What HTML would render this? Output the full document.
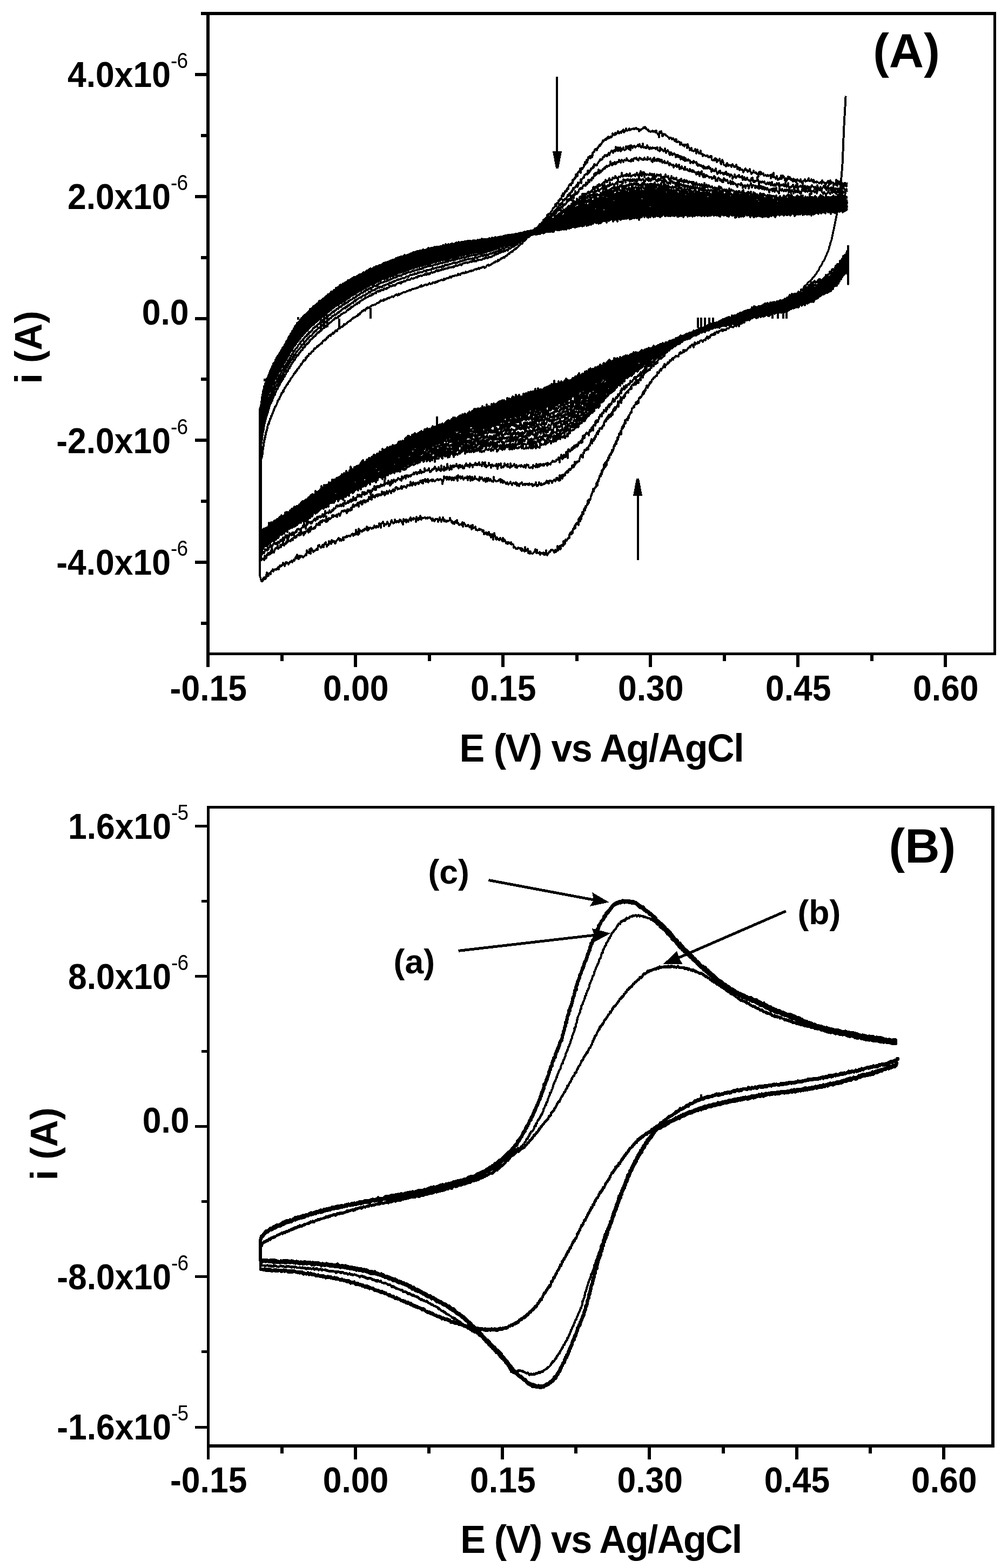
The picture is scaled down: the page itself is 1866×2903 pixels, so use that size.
<!DOCTYPE html>
<html lang="en"><head><meta charset="utf-8"><title>Cyclic voltammograms</title>
<style>html,body{margin:0;padding:0;background:#fff}body{width:1866px;height:2903px;overflow:hidden}svg{display:block}text{font-family:'Liberation Sans', Arial, Helvetica, sans-serif;font-weight:700;fill:#000}</style>
</head><body>
<svg width="1866" height="2903" viewBox="0 0 1866 2903" role="img" aria-label="Cyclic voltammograms, panels A and B">
<rect width="1866" height="2903" fill="#fff"/>
<path d="M382 22H388V1213H382zM1839 22H1844V1213H1839zM382 22H1844V28H382zM382 1208H1844V1213H382zM382 1213H388V1234.5H382zM655 1213H661V1234.5H655zM928 1213H934V1234.5H928zM1201 1213H1207V1234.5H1201zM1474 1213H1480V1234.5H1474zM1747 1213H1753V1234.5H1747zM519 1213H525V1223.5H519zM792 1213H798V1223.5H792zM1065 1213H1071V1223.5H1065zM1338 1213H1344V1223.5H1338zM1611 1213H1617V1223.5H1611zM360.5 135H382V141H360.5zM360.5 361H382V367H360.5zM360.5 587H382V593H360.5zM360.5 812H382V818H360.5zM360.5 1038H382V1044H360.5zM371.5 22H382V28H371.5zM371.5 248H382V254H371.5zM371.5 474H382V480H371.5zM371.5 699H382V705H371.5zM371.5 925H382V931H371.5zM371.5 1151H382V1157H371.5z" fill="#000" shape-rendering="crispEdges"/>
<text transform="translate(385.8 1296.6) scale(1 1.075)" font-size="62.5" text-anchor="middle">-0.15</text>
<text transform="translate(658.8 1296.6) scale(1 1.075)" font-size="62.5" text-anchor="middle">0.00</text>
<text transform="translate(931.8 1296.6) scale(1 1.075)" font-size="62.5" text-anchor="middle">0.15</text>
<text transform="translate(1204.8 1296.6) scale(1 1.075)" font-size="62.5" text-anchor="middle">0.30</text>
<text transform="translate(1477.8 1296.6) scale(1 1.075)" font-size="62.5" text-anchor="middle">0.45</text>
<text transform="translate(1750.8 1296.6) scale(1 1.075)" font-size="62.5" text-anchor="middle">0.60</text>
<text transform="translate(347 161.2) scale(1 1.075)" font-size="62.5" text-anchor="end">4.0x10<tspan font-size="37" font-weight="400" letter-spacing="-1" dy="-32.5">-6</tspan></text>
<text transform="translate(347 387) scale(1 1.075)" font-size="62.5" text-anchor="end">2.0x10<tspan font-size="37" font-weight="400" letter-spacing="-1" dy="-32.5">-6</tspan></text>
<text transform="translate(349.5 600.7) scale(1 1.075)" font-size="62.5" text-anchor="end">0.0</text>
<text transform="translate(347 838.5) scale(1 1.075)" font-size="62.5" text-anchor="end">-2.0x10<tspan font-size="37" font-weight="400" letter-spacing="-1" dy="-32.5">-6</tspan></text>
<text transform="translate(347 1064.2) scale(1 1.075)" font-size="62.5" text-anchor="end">-4.0x10<tspan font-size="37" font-weight="400" letter-spacing="-1" dy="-32.5">-6</tspan></text>
<text transform="translate(1113.3 1410) scale(1 1.042)" font-size="70" text-anchor="middle" letter-spacing="-1.5">E (V) vs Ag/AgCl</text>
<text transform="translate(76.5 643) rotate(-90)" font-size="69.5" text-anchor="middle">i (A)</text>
<text transform="translate(1678 125.1)" font-size="89" text-anchor="middle">(A)</text>
<path d="M383 1492H388V2680H383zM1835 1492H1841V2680H1835zM383 1492H1841V1497H383zM383 2674H1841V2680H383zM383 2680H388V2702H383zM655 2680H661V2702H655zM927 2680H933V2702H927zM1199 2680H1205V2702H1199zM1472 2680H1478V2702H1472zM1744 2680H1750V2702H1744zM519 2680H525V2690.5H519zM791 2680H797V2690.5H791zM1063 2680H1069V2690.5H1063zM1336 2680H1342V2690.5H1336zM1608 2680H1614V2690.5H1608zM361 1527H383V1532H361zM361 1805H383V1810H361zM361 2083H383V2088H361zM361 2361H383V2366H361zM361 2640H383V2645H361zM372.5 1666H383V1671H372.5zM372.5 1944H383V1949H372.5zM372.5 2222H383V2227H372.5zM372.5 2500H383V2505H372.5z" fill="#000" shape-rendering="crispEdges"/>
<text transform="translate(386.2 2762.8) scale(1 1.075)" font-size="62.5" text-anchor="middle">-0.15</text>
<text transform="translate(658.5 2762.8) scale(1 1.075)" font-size="62.5" text-anchor="middle">0.00</text>
<text transform="translate(930.9 2762.8) scale(1 1.075)" font-size="62.5" text-anchor="middle">0.15</text>
<text transform="translate(1203.2 2762.8) scale(1 1.075)" font-size="62.5" text-anchor="middle">0.30</text>
<text transform="translate(1475.5 2762.8) scale(1 1.075)" font-size="62.5" text-anchor="middle">0.45</text>
<text transform="translate(1747.8 2762.8) scale(1 1.075)" font-size="62.5" text-anchor="middle">0.60</text>
<text transform="translate(348 1552.7) scale(1 1.075)" font-size="62.5" text-anchor="end">1.6x10<tspan font-size="37" font-weight="400" letter-spacing="-1" dy="-32.5">-5</tspan></text>
<text transform="translate(348 1830.8) scale(1 1.075)" font-size="62.5" text-anchor="end">8.0x10<tspan font-size="37" font-weight="400" letter-spacing="-1" dy="-32.5">-6</tspan></text>
<text transform="translate(350.5 2096.7) scale(1 1.075)" font-size="62.5" text-anchor="end">0.0</text>
<text transform="translate(348 2387.1) scale(1 1.075)" font-size="62.5" text-anchor="end">-8.0x10<tspan font-size="37" font-weight="400" letter-spacing="-1" dy="-32.5">-6</tspan></text>
<text transform="translate(348 2665.2) scale(1 1.075)" font-size="62.5" text-anchor="end">-1.6x10<tspan font-size="37" font-weight="400" letter-spacing="-1" dy="-32.5">-5</tspan></text>
<text transform="translate(1112.3 2874.8) scale(1 1.042)" font-size="70" text-anchor="middle" letter-spacing="-1.85">E (V) vs Ag/AgCl</text>
<text transform="translate(105.8 2117.8) rotate(-90)" font-size="69.5" text-anchor="middle">i (A)</text>
<text transform="translate(1707.3 1597.4)" font-size="89" text-anchor="middle">(B)</text>
<text transform="translate(830.6 1635.8) scale(1 1.015)" font-size="62.5" text-anchor="middle">(c)</text>
<text transform="translate(766.8 1802.2) scale(1 1.015)" font-size="62.5" text-anchor="middle">(a)</text>
<text transform="translate(1516.3 1710.5) scale(1 1.015)" font-size="62.5" text-anchor="middle">(b)</text>
<g fill="none" stroke="#000" stroke-width="3.4" stroke-linejoin="round" stroke-linecap="butt" shape-rendering="crispEdges">
<path d="M1570 466l0 60-2-61-1 7 0-4-1 3-1 1-1 0-1 5-1 0-1-3 0 9-1-1-1-3-1 5-1-2 0 2-1 2-1-3-1 5-1 3-1 0 0-2-1 4-1-4-1 3-1 3-1-3-1 3-1 5 0 3-1-3-1 1-1-3-1 1-1 0-1 5-1 1-1-2-1 0-1 4-1 1-1 0-1 3-1-1-1 0-1-1-1 3-1 4-1-2-1 1-1 1-1 1-1 1-1 1-1 0-2-2-1 3-1-3-1 4-1-2-1 2-2 2-1-1-1 1-1-3-2 2-1 4-1-3-1 4-1-4-1 2-1 1-1 3-1 1-1-2-1 3-2 4-1-3-1 0-1 3-1-1-1 0-1-2-1 6-2-2-1 1-1-1-1 5-1 0-1 1-2-2-1 2-1 1-1 1-1 0-1 0-1 0-1 0-1 0-1 3-2 0-1-3-1 4-1 3-1-2-1-3-2 4-1 2-1 0-1-1-2 5-1 0-1-3-1 2-1 0-2 1-1 2-1-1-1 0-1-1-1 0-2 2-1 3-1-1-1 0-1 1-1 0-2 2-1-3-1-1-1 4-1-1-1 5-1-2-2 0-1-1-1 4-1-1-1 3-1 0-2-2-1 3-1-5-1 4-1 4-1 0-1-1-2 1-1-2-1 1-1 3-1 3-1-6-2 5-1 1-1 1-1-2-1 1-1 1-1-1-2 1-1 1-1 2-1 1-1 0-1 1-1 0-1 0-1 4-2-1-1 0-1 3-1 1-1 1-1-1-1 0-1 1-1 1-1 2-1-1-1 2-2-1-1 3-1-4-1 4-1 1-1-2-1 6-2-3-1 0-1-1-1 4-1-1-2-1-1 2-1 1-1 1-2-1-1-1-1 1-1-2-1 2-2 3-1 0-1 0-1 0-2 3-1-1-1 1-1 0-1-1-2 3-1-3-1 0-1 2-1 0-2 1-1 0-1 3-1-1-1 1-1-2-2 2-1 3-1-3-1 4-1-2-1 2-2-1-1 2-1-1-1 2-1 3-1-2-2 4-1-3-1-1-1 3-1 0-1 4-2-1-1 1-1 0-1 3-1-2-1 0-1-1-2 1-1 2-1 2-1 0-1-2-1 3-1 0-2-1-1 3-1-4-1 5-1 4-1-5-1 2-1-2-2 2-1 3-1-2-1 2-1 1-1 0-1 2-1 1-1 2-2 0-1-1-1 3-1 1-1-4-1 4-1 1-1 1-1 0-1-2-1 3-1-2-1 3-1 4-1-1-2 1-1-1-1 0-1 1-1 2-1 0-1 1-1 3-1-3-1 1-1 2-1 2-1 0-1-1-1 4-1 0-1 2-1-2-1 3-1 1-1 0 0 1-1 0-1 4-1-6-1 4-1 0-1 3-1 1-1 1-1 3-1-3-1 2-1 2 0-1-1 4-1 1-1-1-1-1-1 7-1-1-1 1-1 1-1 2-1 0-1 0-1 3-1 0-1 1-1 4-1 0-1 3 0-3-1 1-1 3-1 3 0-1-1 1-1 4-1-4-1 0 0 2-1 2-1 2 0 3-1 0-1 3 0-3-1 6-1-4 0 5-1-3-1 3 0 1-1 2-1 2 0-1-1 1-1 2 0-2-1 2-1 0-1 4 0 5-1-2-1-1 0 1-1 4-1-2-1-1 0 3-1 1-1 1-1 4-1-2-1 3-1 1-1 0-1 8 0-3-1 3-1 1 0-1-1 3-1 1 0 1-1 5 0-3-1 0-1 3 0 4-1-1 0-2-1 1-1 1 0 1-1 4 0 2-1-6-1 6 0-1-1 5 0 2-1-3 0 2-1 0 0 4-1-3-1 3 0 2-1 5 0 4-1-4 0-2-1 4 0-1-1 4-1-2 0 3-1 2 0 2-1 0 0 4-1-1 0-3-1 7 0-1-1 0 0 6-1-4-1 3-1 5 0-2-1 2 0-2-1 7 0-4-1 6 0 1-1 2-1 2 0-5-1 4 0 1-1 2 0 2-1-1 0-1-1 3-1 5 0-5-1 4 0-1-1 6 0-5-1 4-1 1 0 2-1 7 0-1-1-5-1 9 0-7-1 0 0 2-1 5 0 2-1-6 0 8-1-1-1 4 0-2-1 5-1-3 0 7-1-1 0 2-1 3 0-5-1 4 0-1-1 1-1 4 0 2-1 3 0 1-1-2-1 10 0-1-1-4 0-1-1 2 0 3-1 4-1 0-1 2-1 2-1 1 0 3-1-5 0 5-1 1 0-1-1 4 0-1-1 2 0 2-1 1 0 1-1 5 0-1-1 2 0 1-1-1-1 0 0 6-1-2 0-2-1 0 0 7-1-1 0 2-1 1-1 1 0 2-1-2 0 4-1 4-1-4-1 2 0 1-1 4 0 4-1 0-1-4 0 5-1 3-1-2 0 7-1-5-1 6 0 3-1-7 0 3-1 4-1 7 0-11-1 7-1 0-1 0-1 2 0 1-1-1-1 8-1-5 0 3-1 0-1 2 0 2-1-1-1 3 0 5-1 0-1-2 0 4-1-3-1 3 0-3-1 2-1 2 0 6-1-1-1 2-1 0 0 1-1 1-1 2-1 0-1-2-1 2 0 5-1 2-1-1-1-5-1 9-1-2-1 0-1 1-1 0 0 6-1 1-1-6-1 3-1 2-1 3-1-8-1 9-2 2-1-4-1 1-1 4-1-2-2-3-1 0-1 1-1-1-2 4-1-1-1 2-1 2-2 3-1-4-1-5-2 8-1-3-1 3-1-4-2 2-1-1-1 0-2 3-1-5-1 2-2 0-1-1-1-5-1 6-2-7-1 3-1 2-2 2-1 1-1 0-2-1-1-3-1 4-1-4-2 3-1-8-1 2-1 1-1 1-2-7-1 8-1-1-1-1-2-3-1 4-1-5-1 3-1-3-2 0-1-1-1 0-1 2-1 0-2 0-1-2-1-1-1-1-1 2-1-6-2-1-1 1-1-4-1 3-1-1-2-2-1 0-1 3-1-3-1 0-1 2-2-5-1-2-1 3-1 0-1-6-1 6-2-3-1-1-1-2-1 1-1 3-2-2-1 0-1-3-1 4-1-1-1-4-2-7-1 6-1 6-1-7-1-3-2 6-1-6-1 2-1 0-1-6-2 3-1 2-1-4-1 2-1-2-1 2-2 1-1-7-1 1-1 1-1-3-2-1-1 1-1 0-1-2-1 2-2 1-1-1-1-1-1 1-1-6-2 2-1 0-1 1-1-6-2 8-1-7-1 2-1 1-1 0-2-4-1 0-1 2-1 0-2 0-1-3-1-1-1-2-2 7-1-8-1 5-1-2-2 1-1 0-1 1-2-4-1 1-1-6-1 5-2-3-1 1-1 4-1-3-2 2-1-4-1 2-1-3-2-5-1 4-1 1-2 1-1-1-1 0-1 2-2-1-1-3-1 3-2-7-1 4-1 0-1 4-2-5-1-3-1 4-2 4-1-5-1 0-2 0-1 0-1 3-1 1-2-3-1-2-1 4-2-4-1 0-1-2-1 0-2 1-1-1-1 2-2-1-1 1-1-2-1 0-2 1-1 0-1 0-2 3-1-5-1-2-1 6-2-2-1 4-1-3-2-3-1 9-1-5-2-1-1-1-1 3-1-2-2 2-1 2-1-6-2 3-1 2-1 3-1-1-2-3-1 5-1-5-2 1-1 2-1-4-1 10-2-4-1-2-1-2-2-1-1 4-1 1-1-2-2 0-1 2-1-1-2-4-1 6-1 0-1 1-2-3-1-3-1 2-1 4-2 4-1 1-1-4-2-4-1 3-1 2-1 0-2-1-1 4-1-5-1-3-2 3-1 0-1 8-2-5-1-3-1 5-1 2-2-2-1 0-1 3-1-1-2-3-1 4-1 1-1-1-2 2-1-1-1-1-1 0-2 3-1-3-1 5-1 0-1-7-2 5-1-1-1 0-1 3-2-1-1 3-1-1-1 1-2-2-1 1-1 5-1-9-1 11-2-5-1 4-1-8-1 6-1 3-2-1-1 3-1-4-1 1-1 0-2 3-1 1-1-1-1 0-1 0-2 2-1-2-1 2-1 1-1-1-2 1-1 5-1-5-1 3-2 3-1-1-1-2-1 3-2-5-1 1-1 2-1 1-1 1-2 5-1 0-1-4-1 1-2-2-1 3-1-4-1 7-2-4-1 3-1-4-1 7-1-1-2 4-1-4-1-4-1 3-1-1-2 7-1-4-1 0-1 4-1-1-1 2-2-2-1-3-1 2-1-1-1 8-1 0-1-2-2 3-1 0-1 1-1 0-1 2-1-2-2-4-1-1-1 10-1-1-1-7-1 7-2-2-1 1-1-4-1 9-1-2-2 3-1 1-1 1-1 1-1-2-1 0-2-1-1 3-1-1-1-2-1 6-2-1-1-7-1 2-1 5-1-2-2 6-1-2-1 2-1 1-1 2-1-3-2 2-1 0-1 2-1 0-1 3-1-2-2-2-1 2-1-2-1 4-1 3-1-4-2-2-1 4-1 0-1 2-1-1-1 2-1-2-2 7-1-4-1 3-1 1-1-1-1 2-1-1-1 0-1 1-2 3-1-4-1 2-1 1-1 1-1 5-1-2-1 0-1 2-1 3-1-4-1 5-1-7-1 4-1 7-1 1-1-3-1 0-1 4-1-2-1 5-1 0-1 0-3-10 0-207 3-10 0-2 1-1 0-1 0-2 0-1 0-2 1 1 0-4 0-3 0-1 1-2 0 1 0-2 0-2 0-1 1-1 0-2 0-1 0-3 1-1 0-2 0-2 1-1 0-2 0-2 1 0 0-2 0-2 1-1 0-2 0-1 0-1 1-1 0-2 0 1 1-2 0-1 0-1 1-3 0 1 0-3 1-3 0-1 1 0 0-2 1 0 0-3 1-1 0-1 1-2 0-2 1 0 0-1 1-2 0-2 1 0 0-1 1-2 0-1 1-1 0-1 1-2 0-1 1-1 0-2 1-1 0-1 1-2 0-1 1 0 0-1 1-1 1-2 1-3 1-2 0-2 1-1 1-2 1-1 0 1 1-3 0-1 1-1 1-2 0-1 1-1 0-2 1 0 1-1 0-1 1-3 1 2 0-3 1-1 1-2 0-1 1 0 1-2 1-2 1-1 0-1 1 0 1-1 0-2 1-1 1-2 1 0 0-1 1-1 1-3 0 1 1-2 1-1 1-1 1-2 1-1 1-2 0-1 1 0 1-2 1 0 0-2 1-1 1 0 1-1 0-2 1-1 1-1 1 0 1-2 0-1 1-1 1-1 1-1 0-2 1 1 1-2 1-2 1-1 0-1 1-2 1 1 1-1 1 0 1-2 0-3 1 0 1 0 1-3 1 0 1 0 0-1 1-3 1 0 1 0 1 0 1-2 1-2 1 0 1-1 1 0 0-1 1-2 1-2 1 1 1-1 1-1 1-1 1-2 1 1 1-1 1-2 1 0 1-1 1-1 1-1 1-1 1 1 1-3 1-2 1 0 1-1 1-1 1 1 1-2 1 0 1-3 1 0 1 0 1-3 1 0 2-2 1 2 1-3 1 0 1-1 1-2 1 2 1-2 1 0 1-2 1-2 1 1 1-1 1 1 1-3 1-1 1-1 1 0 1 0 1-2 1 0 1-1 2 0 1-2 1 0 1-3 1 1 1 0 1-1 1-1 1 0 1-2 1-1 1 0 1-1 1-1 1 0 1 0 1-2 1-1 1-1 1 0 1-2 2 0 1-1 1 0 1-1 1-1 1 0 1 0 1-3 1 1 1-2 1 1 1-3 1 0 1-1 1-2 1 0 1 0 1-2 1 0 2 1 1-3 1 0 1-2 1 1 1-2 1 1 1 0 1-1 2-2 1 0 1-1 1-1 1 0 1 0 2-1 1 0 1 0 1-1 1-1 1-1 2 0 1-1 1 0 1-2 1 0 1-2 2 1 1-1 1 0 1 1 1-3 2 1 1-1 1 0 1 0 1-2 2 0 1-1 1 1 1-1 2-1 1-1 1 0 1 0 1 1 2-2 1-1 1-1 1 0 1-1 2 2 1-2 1-1 1 2 2-2 1 0 1-1 1 0 1-1 2-1 1 0 1 0 1 0 2-1 1-1 1 0 1 0 1-1 2-1 1 1 1-1 1 0 2-2 1 0 1 0 1 0 2-1 1 0 1 0 1-1 2 0 1-1 1 0 1-1 1-1 2 1 1-3 1 2 1 0 2-1 1-1 1 0 1-1 2 0 1 1 1-1 1 0 2-2 1-1 1 1 1 1 2-1 1 0 1-2 1 0 2 0 1 1 1-2 1 1 2-2 1 1 1-2 1 0 1 0 2-1 1 0 1-1 1 0 2 1 1-1 1-2 1 2 2-2 1 0 1-1 1 0 2 0 1-1 1 0 1-2 2 2 1-2 1 0 1-1 2 0 1 0 1-1 1 0 1 0 2 0 1-1 1-2 1 2 2-1 1 1 1-2 1-1 2 0 1-1 1 0 1 1 2-1 1-2 1 2 1-1 2 0 1-1 1 0 1-1 2 0 1-1 1 1 1-1 2 0 1-1 1-1 1 0 2-1 1 1 1-1 1 0 2-2 1 2 1-1 1-1 2 0 1-1 1 0 1-1 2 0 1 2 1-1 1 0 2-3 1-1 1 0 1-1 1 2 2-1 1-1 1 0 1-1 1-1 1 0 2-2 1 0 1 0 1-2 1 0 1 0 2 0 1-3 1 2 1-1 1-1 1-1 1 0 1-2 2 0 1-1 1-1 1 1 1 0 1-2 1-1 1 0 1-1 1 0 1-2 2-2 1 1 1-2 1-1 1 0 1-1 1-1 1 1 1-2 1-1 1-1 1 0 1-2 1 1 1-2 1 0 1-1 1-1 1-2 1 0 1-1 1-2 1 0 1-1 1 0 1 0 1-3 1-1 0-1 1 0 1 0 1-1 1-3 1 1 1-2 1-1 1-1 1-1 1 0 1-1 1 0 1-2 0-2 1-1 1 0 1-2 1 0 1 0 1-3 1 1 1-1 1-2 1-2 1-1 1 0 1-1 1-1 1-2 1-1 1 2 0-4 1 0 1 0 1-1 1-2 1 1 1-1 1-3 0-2 1 1 1-2 1-1 1-1 1-1 1 0 0-1 1-4 1-1 1 3 1-4 0 1 1-1 1 0 1-2 1-2 1-1 1-1 1-3 1-2 0 1 1-1 1-1 1-2 0 1 1-5 1 1 1 2 1-5 0 1 1-1 1-1 1-4 0 3 1-2 1-1 1-1 0-2 1 1 1-1 1-6 0 1 1 0 1-5 1 5 0-5 1 2 1-2 1-2 0-2 1 0 1-1 1 1 0-3 1-2 1-1 1 2 0-3 1-3 1-2 0 1 1-2 1 0 1 2 0-2 1-2 1-1 1 1 0-6 1 2 1-3 1 0 0-1 1-2 1 1 1-7 0 4 1 0 1-5 1-1 0 5 1-7 1 0 1-1 0-1 1-1 1-4 1 8 0-8 1 1 1-2 1 2 0-2 1 0 1-1 1-2 0-3 1 1 1-6 1 4 0-2 1-1 1-5 1 5 1-5 0 1 1-6 1 2 1-2 1-1 0-1 1 4 1-4 1-1 1 3 1-8 0 5 1-5 1-2 1 0 1-4 1 0 0-1 1 0 1 2 1 0 1-4 1 0 0-1 1-2 1 0 1-3 1 2 1-3 1 0 0-1 1-1 1-2 1-3 1 2 1-2 1-1 1 0 1-2 1 2 1-1 1-3 1 1 1-3 1 3 2-1 1-2 1 1 1 0 1-2 1-5 1 3 1-1 2 1 1-4 1 3 1-1 1-1 2-4 1 1 1 3 1-1 2-2 1 2 1-2 1-2 2-2 1 5 1-3 1 1 2-5 1 3 1 1 2-1 1-2 1-1 1 3 2-1 1-1 1 0 2-1 1 1 1-1 1 1 2-2 1 0 1 2 2 0 1 0 1 4 2-3 1 1 1-1 1-1 2-1 1-2 1 1 2-2 1 3 1-1 1 2 2 2 1-1 1 3 2 0 1 1 1 0 1-1 2-1 1 2 1-1 1 0 2 2 1-3 1 0 1 4 2 3 1-1 1 6 1-10 2 2 1-3 1 3 1 6 1 0 2-4 1 1 1 0 1 0 1 2 2 1 1 1 1 1 1 1 1 2 1-2 2 0 1 1 1 2 1-1 1-1 1 2 2 3 1-3 1 4 1-4 1 5 1 0 2-1 1 1 1 0 1 5 1-4 1 0 1 3 2 2 1-1 1 0 1 3 1-3 1 0 2 0 1 6 1-7 1 3 1 3 1 1 1 4 2-2 1-2 1 5 1 0 1 0 1 1 2-1 1-3 1 1 1 7 1-3 1-4 2 5 1 2 1 0 1 0 1-5 1 6 2 0 1 4 1-3 1 1 1 0 1 1 2 1 1-1 1 0 1 0 1 3 1 0 2 0 1-2 1 2 1-2 1 7 2 1 1-1 1-1 1 2 1-4 2 1 1 6 1-4 1 2 2-1 1-3 1 4 1 4 1 2 2-8 1 2 1 3 1 4 2 1 1 1 1 1 1-5 1-1 2 5 1-2 1 1 1 0 2 0 1 3 1-4 1-1 2 3 1 2 1 0 1 0 2-4 1 3 1 5 1-2 1-1 2 5 1-4 1 3 1 0 2 0 1 2 1 3 1-2 2-4 1-1 1 3 2 0 1 3 1-1 1 0 2-4 1 4 1 2 1 3 2-2 1-1 1-3 1 3 2 1 1-1 1 1 1 2 2 0 1 5 1-8 2-1 1 5 1-4 1 3 2 0 1-1 1 4 1 0 2-1 1 1 1 1 2-2 1 2 1-1 1 0 2-1 1 6 1-3 1-4 2 5 1-8 1 8 2 1 1 2 1-3 1-2 2 7 1-2 1 1 2-3 1 2 1-6 1 6 2-6 1 3 1-1 2 7 1-1 1-3 1 5 2-3 1-5 1 4 2-3 1 4 1 1 1-2 2 4 1 1 1-5 2 4 1-2 1 0 1 5 2-6 1 1 1 1 2 2 1 0 1-4 2 6 1 1 1 1 1-5 2-1 1-2 1 4 2-1 1 0 1-1 2-4 1 5 1 0 1 0 2-3 1 3 1 1 2-3 1 5 1-2 2 1 1 1 1-2 1 1 2 1 1 1 1 0 2-2 1 2 1 1 1-6 2 3 1 1 1 0 2 5 1-2 1-3 2 0 1-3 1 1 1 6 2-8 1 6 1-3 2 1 1 0 1 6 2-4 1 0 1 2 1-9 2 11 1-9 1 2 2 4 1-5 1-1 2 8 1-4 1 3 1-1 2-2 1 5 1-5 2 6 1-7"/>
<path d="M1570 465l-2 7-1 6 0-2-1 3-1 0-1-1 0 1-1 3-1 0-1 0 0 1-1 5-1 0-1 0-1 1-1 6-1-5-1 7-1-5-1 8-1-4-1 5-1-2-1 0-1 3 0-1-1 2-1 0-1-2-1 5-1-1-1 2-1 2-1-3-1 5-1 0-1 4-1-1-1 0-1-2-1 2-1-2-1 5-1-1-1 1-1 1-1 2-1 0-1-2-1 6-1-2-1 2-2 0-1-2-1 3-1 0-1-1-1 3-2 1-1 1-1-1-1-1-1 1-2 1-1-2-1 5-1-1-1-2-1 6-1 2-2-6-1 3-1 0-1 4-1-4-1 5-1 0-1 2-1-5-1 3-2 1-1 3-1-1-1 2-1 0-1-2-2 2-1 0-1 1-1-1-1 4-1 0-1-4-2 6-1-2-1-1-1 6-1-2-1 1-2 0-1 0-1-2-1 5-1-3-2 2-1 0-1-1-1 0-2 2-1 3-1-3-1 1-2 1-1-1-1 4-1-1-2 4-1-4-1 4-1-5-2 2-1-2-1 2-1 0-2 2-1 2-1-2-1-2-2 3-1 0-1 0-1 3-2 0-1-2-1 0-1-3-2 4-1 3-1-3-1 3-2 0-1 1-1 0-1-1-2 3-1 0-1-1-1 0-2 3-1 1-1-4-1 3-1 0-2 4-1-4-1 0-1 0-2 3-1-2-1 3-1-2-1 4-2 1-1 0-1-5-1 2-1-2-2 9-1-5-1 1-1 1-1 2-1-1-2 1-1 0-1-1-1 5-1 1-2-3-1 1-1 3-1 2-2-4-1 2-1-1-1 1-1-4-2 1-1 5-1-1-1 2-2 0-1 1-1 0-1 0-1 1-2-1-1 3-1-3-1 2-1 2-2-1-1 2-1 1-1 0-2-2-1 4-1-1-1-2-1 5-2-2-1 1-1 1-1-2-1 3-2-3-1 1-1 1-1 5-1-2-2 1-1-2-1 2-1-3-1 3-2 2-1-1-1-2-1 1-1 4-2 2-1-3-1 4-1-4-1 3-2 0-1 2-1-3-1 4-1-1-2-1-1 1-1 1-1 2-1-2-2 1-1 2-1 0-1 2-1 1-1-4-2 3-1 1-1 1-1-1-1 3-1 2-2-2-1 0-1 3-1-1-1 1-1 1-1-1-1 2-2-1-1-1-1 5-1 0-1 0-1 3-1-2-1 3-1 0-1-1-1 0-2 3-1 0-1 2-1-3-1 3-1 1-1 1-1 1-1 1-1-3-1 3-1 1-1-1-1 4-1 0-1-1-1 1-1 3-1-3-1 4-1-1-1 3-1 4-1-1-1 0-1 3-1 1-1 0-1 2-1-2-1 2-1 0-1 0-1 2 0-1-1 2-1 5-1-2-1 0-1 4-1 0-1-3-1 2-1 5-1-2-1 1-1 0-1 4-1-2-1 3-1 3-1-1-1 0-1 2-1 1-1-1-1 2-1-1 0-1-1 4-1-2-1 3-1 2-1 2-1 4-1-4 0 1-1 1-1 0-1 7-1-4-1 2-1 1-1 6-1-5-1 0 0 5-1-3-1-2-1 8-1 0-1-4-1 2-1 3-1-1-1 0-1 1-1 7-1-4-1 3-1 2-1 0-1 1-1 5 0-4-1 1-1 2-1 0-1 2-1 1 0-1-1 6-1-3-1 6 0-4-1 1-1 3-1 0-1 4-1 5-1-11-1 6 0 3-1 1-1 1-1 7-1-10 0 8-1-1-1 2-1 3 0-2-1 4-1 2-1 1 0-6-1 3-1 0-1 2 0 3-1 6-1-5-1 2 0 1-1 5-1-4-1 3-1 2 0 1-1-5-1 2-1 6 0-5-1 5-1-2-1 6-1 0 0-3-1 4-1-1-1 3 0 5-1-1-1 1-1 4 0-2-1 4-1-2 0 1-1 0-1 0-1 0 0 2-1 4-1 1-1-2 0 6-1-3-1 1 0-1-1 3-1 5-1 0 0-2-1 6-1-2 0 1-1 4-1-1-1-1-1 7-1-8-1 5 0-2-1 4-1 5 0-2-1 1-1 2-1 6-1-2-1-1-1 1 0 3-1 0-1 1-1-1-1 0 0 2-1 4-1-1-1 9-1-4 0 1-1 2-1-4-1 1-1 3-1 3 0 1-1 4-1 0-1 0-1 2-1-1-1 2 0-2-1 1-1 4-1-5-1 8-1 2-1-4-1 4 0-1-1-2-1 5-1 1-1 2-1-2-1 2-1-1-1 5 0-2-1 3-1-3-1 3-1-1-1 1-1 5-1-2-1 1-1 3-1-3-1 7-2-6-1 2-1 7-1-9-1 10-1-3-1 1-1-3-1 3-1-3-2 6-1-2-1-1-1 1-1 1-2 4-1-2-1-2-1 0-2 0-1 5-1 0-1-4-2-1-1 4-1-1-2 3-1-1-1 1-1 1-2 1-1-3-1 3-2-3-1-2-1 4-1 2-2 1-1-3-1-4-2 5-1-1-1 2-2 1-1-4-1 0-1 1-2-1-1-1-1 3-2-2-1 1-1-1-2 0-1 2-1-2-1 0-2 2-1-2-1-3-2 2-1 0-1 2-1 3-2-4-1-1-1 4-2-6-1 3-1 0-2-2-1 0-1 1-1 3-2-3-1-3-1 2-2 2-1 1-1-2-1-2-2 3-1-1-1-2-2-2-1 1-1 2-1-5-2-1-1 5-1-6-2 1-1 2-1 0-2 1-1 0-1 0-1-1-2-2-1-5-1 9-2-1-1 0-1-2-1-2-2 3-1-2-1-3-2 6-1-6-1 2-1 5-2-6-1 2-1 2-2-3-1-3-1 2-2 1-1-4-1 7-1-3-2 1-1-1-1 0-2-2-1-3-1 5-2-1-1 3-1-6-1 3-2 4-1-8-1 0-2 4-1 3-1-7-2 3-1 0-1-1-1 1-2 3-1-2-1-4-2 2-1 2-1-4-2 2-1 0-1-4-1 10-2-8-1 4-1-1-2-1-1 5-1-3-2-2-1 5-1-2-1-3-2-1-1 5-1-2-2-3-1 5-1-5-2 2-1 0-1-3-1 7-2 7-1-7-1-1-2-1-1 1-1 0-1 1-2-2-1 1-1 0-2 2-1 1-1 0-2-3-1 0-1 3-1-3-2 1-1 1-1 0-2 3-1-6-1 5-2-3-1 3-1-5-1 3-2-1-1 6-1-6-1 5-2-4-1 0-1 3-2 3-1-3-1 2-1 0-2-1-1 4-1-3-1 2-2-4-1 3-1 3-1-3-2-4-1 7-1 0-1-1-2 1-1-1-1 3-1 2-2-2-1 0-1-1-1 1-1 0-2 4-1-5-1 2-1 2-2 1-1 0-1-1-1 2-2-4-1 0-1 1-1 5-2 2-1-4-1 1-1 1-2 5-1-3-1 0-1-2-2 3-1 3-1-3-1-2-2 6-1-3-1 5-1-6-1 2-2 2-1-5-1 5-1 2-2-2-1 2-1 0-1-2-1 4-2-3-1 2-1-1-1 4-1-2-2 1-1-4-1 5-1 4-1-7-2 6-1 0-1-4-1 4-1 4-1-2-2 1-1 3-1-3-1 3-1-4-2 1-1 6-1 1-1-1-1-5-1 3-2-1-1 8-1-7-1 0-1 2-1 3-2-1-1 1-1 2-1 0-1-4-1 2-2 8-1-4-1 5-1 0-1 0-1-2-2 4-1-4-1 7-1-4-1 1-1-2-2 0-1 2-1-1-1 0-1 0-2 4-1 3-1 2-1-2-1-2-2 2-1 4-1-4-1 3-1-1-1 0-2-1-1 3-1-3-1 0-1 4-2 2-1 1-1 0-1-2-1 1-1 4-2 2-1-10-1 10-1-2-1 0-1-1-1 1-2-1-1 4-1-2-1 2-1-2-1 7-1-1-1-3-1 4-2-1-1-1-1 3-1 3-1 2-1-2-1 3-1-1-1 1-2 1-1-5-1 3-1 6-1-7-1 2-1 7-1-6-2 3-1 1-1 0-1 3-1 1-1-3-1 6-2-5-1 1-1 1-1 2-1-3-1 4-1-5-1 5-2-1-1 1-1 3-1 1-1-2-1 3-1-3-2 3-1 4-1-3-1 1-1 1-1 3-1 0-1-1-2-1-1 3-1-6-1 8-1-2-1 4-1-1-2 4-1-4-1-3-1 6-1-1-1 2-1 3-1-4-1 4-2 2-1 1-1-7-1 6-1-1-1 1-1 0-1 2-1 3-1 3-2-2-1-4-1 7-1-5-1 3-1 4-1-3-1 4-1-2-1-1-1 4-1-1-1 6-1 1-1 0-1-5-1 8-1-3-1 1-1 0-1-1-1 3-1-10-1-197 2-10 0-2 0-2 1-2 0-1 0-2 0-1 0-3 1-1 0-1 0-1 0-2 1-2 0-2 0-1 0-2 1 1 0-2 0-4 0-1 1 0 0-1 0-3 1-1 0-2 1-2 0-2 1-2 0-3 1-1 0-1 0-1 1-1 0-1 0-3 1 1 0-2 1-1 0-2 1-2 0-3 1 0 0-1 0-1 1-2 1-3 0-1 1-1 1-1 0-2 1-1 0-2 1 1 0-4 1 0 1-2 0-2 1-1 1-2 1 0 0-2 1-2 0-1 1-1 1-3 0-1 1-1 1 0 0-1 1-2 0-1 1-2 1 0 0-3 1 1 0-3 1-1 1 0 0-2 1-1 1 0 0-2 1 0 1-1 0-3 1 0 0-2 1-1 1 1 0-3 1 0 1-1 1-3 1-1 0-1 1-2 1 1 0-1 1-4 1 0 1 0 0-3 1-1 1 0 0-1 1-2 1-1 1-3 1 0 1-2 1-2 1 0 0-1 1 0 1-3 1-1 1-2 1-1 1-2 1 1 0-2 1 0 1-3 1 0 1-2 0 1 1-3 1 0 1-1 1 0 0-2 1-2 1 0 1-2 1 1 1-2 0-2 1 0 1-1 1-2 1 1 1-2 1 0 1-2 0 1 1-4 1 1 1-2 1-1 1 0 1-1 1-2 1 0 1-2 1 0 1-1 1 0 0-2 1-1 1 0 1-2 1-1 1-1 1 1 1-2 1 0 1-2 1-1 1 1 1-2 1-1 1-1 1-1 1 0 1-2 1 0 1-2 1 2 1-2 1-1 1-3 1 1 1-1 1-1 1-1 1 0 1-1 1-1 1-1 1-1 1-1 1 0 1-2 1 0 1-2 2 1 1-1 1-1 1 1 1-3 1 0 1 0 1-1 1-2 1 0 1-1 1 0 1-1 1-1 1 0 1 0 2-1 1-1 1-2 1-1 1-1 1 1 1-2 1 0 1 0 1-3 1 1 1-2 1 0 1 0 2-2 1-1 1 0 1-1 1-1 1-1 1 1 1-2 1-1 1 0 1 1 1-3 1 0 2-2 1 0 1-1 1 0 1-1 1-1 1 0 1-2 1 1 1-1 2-1 1 0 1-1 1-1 1-1 1 1 1-1 2 0 1-3 1 0 1 1 1-1 1-1 2-1 1 1 1-3 1 0 1-1 2 1 1-2 1 0 1 1 1-2 1 0 2 0 1 0 1 0 1-3 1 0 2 1 1 0 1-2 1 1 1-1 2-1 1-2 1-1 1 1 2 0 1-1 1-1 1 1 1-1 2 1 1-2 1 0 1-1 1-1 2-1 1 0 1 0 1-1 2 2 1-3 1 1 1-1 1 0 2-2 1 1 1 0 1-1 2-1 1-2 1 1 1 0 2 0 1 0 1-1 1-1 1-1 2 1 1 0 1-1 1 0 2-1 1-1 1 0 1 1 2-3 1 1 1-1 1 0 2-1 1 1 1 0 1-1 2-1 1 0 1 0 1-2 2 2 1-2 1 1 1-2 2 2 1-2 1 1 1-2 2-1 1 1 1 0 1-1 2 0 1-1 1 0 1-2 2-1 1 2 1 0 1-2 2 1 1-1 1 0 1 0 2-2 1 1 1 0 1-1 2 0 1-1 1 0 1 0 2 0 1-2 1 1 1-1 2 0 1 0 1 0 1-1 2 1 1-2 1 1 1-1 2-2 1 1 1 0 1 0 2-1 1-1 1 0 1-1 2 2 1-1 1-2 1 0 2-1 1 0 1 0 1-1 2 0 1 1 1-1 2 0 1-1 1 0 1-1 2 1 1-2 1 1 1-1 2 1 1-2 1 1 1 1 2-2 1-2 1 2 2-1 1 0 1 0 1 0 2 0 1-1 1-1 1 0 2 0 1-2 1 1 1-2 2 2 1 0 1-1 1-1 2 0 1 0 1 0 1-1 1 0 2-2 1 0 1 0 1-1 2-2 1 1 1-1 1 0 1 0 2-2 1 0 1 0 1-1 1 0 2-1 1-1 1 1 1-1 1-1 1 1 2-2 1 0 1-1 1 2 1-3 1 0 1-2 2 1 1-1 1-2 1 0 1 0 1 0 1-2 1 1 2-3 1 1 1-1 1-2 1 1 1-3 1 0 1 0 1-2 1 1 2-2 1-1 1 0 1-1 1-1 1 0 1 0 1-1 1-2 1 1 1-1 1-1 1-2 1-1 1 0 1-1 1-1 2-1 1 0 1-1 1-1 1 0 1-1 1-1 1 0 0-1 1-1 1-2 1 0 1-1 1-1 1-1 1 1 1-3 1-2 1 1 1 0 1-1 1-5 1 1 1-1 1-1 1 0 1 0 1 0 1-2 1-1 1 0 0-2 1-4 1 2 1-2 1 0 1-1 1-1 1 1 1-4 1-1 0 1 1-1 1-2 1-1 1-1 1-2 1-1 1-1 0 2 1-3 1 2 1-4 1-2 1 1 0-1 1 1 1-7 1 2 1 0 1-3 1 1 0-2 1 2 1-1 1-7 1 0 1 0 0 1 1-2 1-1 1 1 1-1 1-2 1-2 1-3 1 2 1-1 1-4 1 4 0-4 1 0 1-2 1-2 1 1 1-4 1-3 1 3 1-3 1-1 1-1 0 1 1-2 1-2 1-1 1 4 1-2 0-6 1 3 1-2 1-1 1-1 1-5 1 7 0-2 1-5 1-1 1-1 1-2 1 1 0-2 1-3 1 0 1-1 1-1 1 0 1 1 1-4 0-3 1 5 1-5 1 3 1-3 1 0 1-4 1 1 1-2 1 0 1 0 0-3 1 2 1-6 1 0 1 2 1 0 1 0 1 0 1-3 1-1 1-2 1-1 1-1 0-1 1-2 1 0 1 1 1-1 1 0 1-4 1 0 1 0 1-3 1-1 2 2 1-2 1 2 1-3 1-1 1-2 1 4 1-3 2-3 1-2 1 0 1 2 1 2 2-5 1 2 1 0 1-8 1 4 2 3 1-6 1 6 1-2 2-4 1 7 1-5 1 3 2-3 1-2 1 4 1 1 2-1 1-6 1 4 2-4 1 1 1 4 1-6 2 8 1-9 1 1 2 4 1-3 1 0 1-1 2 3 1-1 1-1 2-1 1-2 1 3 2-4 1 3 1 2 1 1 2-3 1-4 1 7 2 0 1-1 1 2 2 0 1-5 1 3 1 0 2 4 1-1 1-2 1 2 2 0 1-2 1 1 2 0 1 0 1 0 1 2 2-3 1 0 1 5 2 1 1 1 1-7 1 5 2-2 1 1 1 1 1 2 1 0 2-5 1 4 1 4 1-2 2-3 1 2 1 1 1 4 1 2 2-5 1 4 1-2 1 3 1-2 2-1 1 2 1 0 1 5 2-4 1 3 1-3 1 1 1 3 2-2 1 6 1-1 1-4 1 4 2 2 1-5 1 2 1 5 1-5 2 4 1-1 1 1 1-2 1 2 2 0 1 5 1-2 1 0 1 0 2 2 1-4 1 1 1 1 1 1 2-1 1 5 1-2 1 4 1-2 2 0 1 2 1 0 1-1 2 3 1 1 1-3 1 5 1-3 2 3 1-2 1 0 1 2 1-3 2-1 1 4 1 0 1-1 2 7 1-3 1-2 1 3 2 1 1-2 1 1 1-4 1 5 2 5 1-2 1 0 1-3 2-1 1 5 1-1 1 0 2 0 1 3 1 0 1-3 2 2 1-4 1 2 1 4 2-2 1 0 1 3 1 2 2-4 1 1 1 1 1 6 2-3 1-1 1-4 2 6 1 0 1-2 1-1 2 1 1-3 1 4 1 0 2-1 1 2 1-3 1 7 2-3 1-2 1 5 2 0 1-3 1-1 1 3 2 2 1 0 1 1 1 0 2-5 1 4 1-5 2 8 1-2 1 2 1-2 2 0 1-1 1-6 2 7 1 8 1-4 1-3 2 1 1 1 1-2 1 1 2 1 1-2 1 3 2 2 1 0 1-2 1-1 2 3 1-3 1 0 2 5 1-4 1-2 1 6 2-1 1 2 1-3 2 3 1-3 1-2 1 2 2 2 1-4 1 3 2 1 1-1 1 1 1 0 2-2 1 3 1 1 2-7 1 4 1 4 2-1 1-6 1 6 1 3 2-1 1 0 1-2 2 0 1-3 1 3 1 6 2-6 1-2 1 4 2-7 1 12 1-5 2-2 1 0 1-1 1 2 2 0 1-4 1 7 2-3 1-2 1 5 2 0 1-4 1 0 1 5 2-4 1 2 1 3 2-7 1-1 1 2 2 1 1 1 1 3 1-4 2 6 1-4 1-5 2 5 1 2 1 1 2-5 1 2 1 6 1-5 2-3 1-2 1 3 2 2 1-3 1 6 2-5 1-3 1 6 1-1 2-1 1 4 1-5 2 4 1-4 1 6 2-4 1 0 1 2 1-2 2 1 1-1 1 2 2-2 1-1 1 3 2 0 1-4 1 2 1-4 2 5 1 2 1 4 2-6 1 2"/>
<path d="M1570 458l-2 17-1 3 0 1-1 0-1-1-1 0 0 5-1 3-1-2-1 3 0-1-1 1-1 1-1 3 0-2-1 3-1 3-1-1-1-2-1 5-1-2-1 4-1 0-1 3-1-1 0 2-1 2-1-4-1 7-1-1-1-2-1 4-1 2-1-2-1 1-1 5-1 1-1 1-1-3-1-1-1 1-1 2-1 0-1 3-1 3-1-4-1 6-1-4-1 1-1-1-1 5-1-1-1 1-2-5-1 5-1 3-1-6-1 10-1-3-2 2-1-2-1 3-1 1-1 3-2-6-1 6-1-5-1 3-1-1-1 2-1-3-2 4-1-1-1 2-1 2-1 0-1 1-1 3-1-1-1 1-1 2-2-2-1 1-1 2-1-2-1 4-2-3-1 1-1 1-1 0-1 1-1 0-2-3-1 7-1-2-1 3-1-3-1 4-1-3-2 5-1-2-1 0-1-5-1 2-2 4-1 0-1 0-1 1-2 3-1-2-1 0-1 0-2 0-1 3-1-2-1 1-2 1-1 0-1 2-2 0-1-3-1 1-1 3-2-2-1 3-1-3-1-2-2 1-1 3-1 0-1 6-2-3-1 0-1 1-1-4-2 3-1 0-1 4-1-4-2-1-1 3-1 0-1 1-2 0-1 0-1-1-1 1-2 5-1-4-1 2-1-2-2-1-1 5-1-1-1 2-2 0-1 0-1-2-1 5-1-2-2 4-1-2-1 1-1 0-1 0-2-1-1 5-1-5-1 0-1 3-2-1-1 3-1-1-1 2-1-1-2-1-1 2-1 2-1-2-2 0-1 2-1 1-1 2-1-1-2 1-1-1-1 3-1 1-2-3-1 1-1 0-1 1-1 0-2 0-1-1-1 2-1 1-1 2-2 0-1-1-1 0-1-1-2 4-1 0-1 1-1 1-1 0-2-1-1 1-1-1-1 1-1 2-2 3-1-3-1 1-1 5-1-4-2 0-1 1-1 0-1-2-1 4-2-3-1 2-1 1-1 2-1-1-2 0-1 0-1 2-1 0-1 0-2 0-1 1-1 2-1-2-1 3-2 0-1 2-1-2-1 0-1 2-2 0-1-3-1 6-1-1-1 1-2-1-1 2-1 0-1 3-1-1-1 2-2-3-1 1-1 1-1 0-1 4-1-1-2-1-1 1-1 4-1-2-1 2-1-3-1 2-2 1-1 1-1 1-1 1-1 2-1-4-1 4-1 1-1 0-2 2-1-1-1 0-1 0-1 4-1-3-1 2-1 2-1 1-1 0-1-1-1 3-2-1-1 1-1-1-1 4-1 1-1-3-1 4-1 1-1-1-1 0-1 3-1 2-1-3-1 5-1-1-1 2-1-2-1 4-1 0-1 2-1-1-1 3-1-1-1 0-1 0-1 0-1 3-1 1-1 1-1 0-1 2-1 1-1-1-1 3-1 4-1-5-1 2-1 3-1-2-1 4-1-2-1 0-1 1-1 5-1-5-1 5-1-3-1 6-1 0 0 1-1 4-1-3-1 3-1 0-1 2-1-3-1 5-1-2-1 4-1 0-1-1-1 2-1 1-1 0-1 6-1-6-1 0-1 1-1 3-1 1-1 2-1 2-1-1-1 1-1-2-1 5-1 2 0-2-1 2-1-1-1 2-1 1-1 3-1-4-1 4-1 2-1 2-1-6-1 5-1 1-1 1-1-3-1 9 0-1-1-4-1 4-1 2-1 3-1 1-1-3 0 2-1 3-1 2-1-2-1 1-1 3-1 4-1-1-1 2-1-6-1 3-1 3-1 4-1-1-1 3-1-2-1 5 0 1-1-5-1 2-1 2-1 5-1 0-1 4 0-7-1 5-1 1-1 0-1 1 0-3-1 6-1 0-1-1-1 7-1-4 0 3-1-1-1-1-1 4-1 3 0-3-1 5-1 4-1 0 0-3-1 0-1 5-1-4-1 2 0 7-1-2-1 1-1 0-1 8 0 2-1-7-1 3-1-1-1 3 0 3-1 1-1-3-1 3-1 7-1-4 0 2-1-1-1 0-1-2-1 1-1 2-1 2-1 5-1-5-1 6-1-5-1 12 0-7-1 3-1 5-1-4-1 2-1 1-1 2-1-2-1 6-1 0-1-2 0 4-1-3-1 0-1 2-1 3-1-4-1 3-1 3-1-3-1 5-1-3-1 4-1 0-1 2-1-1-1-3-1 0-1 16-1-12-1 2-1-1-1 9-1-1-1 1-1-4-1 6-1-4-1 6-1-3-1-5-1 6-1-1-1 9-2-9-1 4-1 0-1 0-1 0-1 3-2 1-1-1-1 0-1 1-1-2-2 3-1 1-1 3-1-1-2 0-1 1-1-3-1 5-2-4-1 1-1 0-2 3-1-3-1 3-1-2-2 0-1 2-1-3-2 5-1-4-1 1-1 4-2-6-1 6-1-2-2 0-1 0-1-2-1 6-2-2-1 0-1 1-2 0-1-1-1-4-1 0-2-1-1 3-1 3-2-5-1 2-1 2-2-2-1 0-1-2-1 3-2-2-1 0-1 1-2 1-1 2-1-5-2 4-1-4-1-2-1 2-2 2-1 0-1 1-2-6-1 8-1-1-2-1-1-5-1 5-1-3-2 0-1 1-1-4-2 7-1 0-1-1-2 2-1-8-1 3-1 0-2-2-1 5-1 4-2-9-1 4-1-1-2 0-1 0-1 1-2-3-1 1-1 5-1-5-2 0-1-4-1 5-2 1-1-1-1 3-2-9-1 7-1-6-1 2-2-3-1 7-1-2-2-1-1 1-1-5-2 3-1 2-1-2-1 2-2-4-1 4-1-1-2 1-1 4-1-4-2-1-1 2-1-4-1 7-2-4-1 0-1 2-2-5-1 4-1-1-2 6-1-2-1 2-1-5-2 1-1 2-1-4-2 0-1 6-1-3-1 0-2-5-1 4-1 0-2-1-1 3-1-3-1 0-2 7-1-3-1-4-2 8-1-3-1-1-2-7-1 10-1-3-1 3-2 2-1-7-1 7-2-2-1-1-1-6-1 10-2-3-1 1-1-5-2 5-1 0-1 2-1-5-2-3-1 4-1-1-2 3-1-1-1 2-1 2-2 1-1-3-1-4-2 4-1 0-1 0-1 0-2 1-1-5-1 7-2 0-1 0-1-1-1 3-2-6-1 4-1 2-1-2-2 1-1 3-1-2-1-2-2 2-1 2-1-3-1 3-1 0-2 1-1 2-1 1-1-2-2 1-1 2-1-3-1 2-2-2-1 6-1-2-1-3-1 2-2 3-1 0-1-4-1 8-2-3-1 1-1-1-1-1-1-1-2 4-1 0-1 0-1 3-2-1-1-3-1 2-1 4-2-5-1 8-1-5-1 7-1-4-2-5-1 6-1-1-1-1-2 2-1 0-1-7-1 10-1-2-2 1-1 2-1-1-1-2-2 5-1-2-1 2-1-2-1 2-1-2-2 7-1-6-1 6-1-7-1 6-2-1-1 4-1-1-1 5-1 2-1-7-2 3-1-3-1 0-1 3-1 3-1 0-2-2-1 4-1-5-1 1-1 3-1-4-2 9-1-3-1 0-1 2-1-3-1 3-2-3-1 4-1 1-1 5-1-4-1 4-1-2-2-4-1 7-1-1-1-1-1 4-1-4-2 2-1 3-1 1-1-3-1 3-1 0-2 2-1-2-1-4-1 5-1 5-1-5-2 2-1 3-1-2-1-1-1 3-1 0-2-1-1 2-1-2-1 0-1 2-1 3-2 1-1-1-1 4-1 0-1-1-1 3-2 2-1-2-1-2-1 4-1 1-1-1-1 0-2 1-1 1-1-5-1 9-1-3-1 5-1-3-1-2-2 5-1-1-1 2-1-2-1 0-1 1-1 0-1 4-1-4-1 4-2 3-1-4-1 3-1-1-1 2-1 1-1 2-1 2-1-3-1 3-2-2-1-1-1 2-1-2-1 5-1-4-1 6-1 6-2-7-1-3-1 7-1-3-1 3-1 1-1 1-1 6-2-4-1 0-1 0-1-1-1 1-1 0-1 5-1-2-1 3-2 0-1 5-1-5-1 3-1-3-1 5-1-2-1 1-2-3-1 6-1 3-1 0-1-5-1 5-1-3-1-2-1 2-2 7-1-4-1-1-1 4-1 1-1-1-1 3-1-2-2 5-1 0-1-2-1 2-1 2-1-2-1 2-1 0-1 0-1-3-1 2-1 1-2 4-1 7-1-8-1 2-1-2-1 3-1 1-1 3-1-4-1 6-1 0-1-1-1-1-1 1-1 3-1 3-1-1-1-1-1 3-1-2-1 5-3-10 0-200 3-10 0-1 0-2 1-1 0-1 0-1 0-2 0-3 1-1 0-1 0-1 0-2 0 1 1-3 0-1 0-1 1-3 0-1 0-1 0-4 1 1 0-1 0-1 0-3 1 0 0-1 0-3 1-1 0-1 1-1 0-1 0-2 1-2 0-1 0-1 1-1 0-2 1-3 0-1 1-2 0 2 0-3 1-1 0-1 1-2 0-1 1-2 0-1 1-2 0-1 1-1 0-1 1-1 0-1 1-2 0-1 1-1 0-2 1-2 1 1 0-2 1-1 0-2 1-2 1-2 0-1 1 1 0-2 1-3 1-1 1-1 0-1 1-1 1-2 0-1 1-2 0 1 1-3 1 0 0-3 1 0 1 0 0-3 1 0 0-2 1 1 1-2 0-1 1-2 1-2 0 1 1-3 1 0 0-2 1-2 1 1 0-2 1-2 1-1 0-2 1 0 1-1 0-1 1-1 1-1 0-1 1-1 1-1 0-2 1-1 1-1 1-2 1 0 1-1 0-3 1 0 1 0 0-3 1 1 1-3 1 1 0-2 1-2 1-2 1 0 0-1 1-1 1-1 1-1 1-1 1-1 1-2 1-1 1 0 0-3 1 0 1-1 1 0 1-2 1 0 0-3 1 1 1-2 1-1 1 0 1-3 1 0 1-1 0-1 1-1 1 0 1-2 1-1 1 0 1 0 1-1 1-1 1-2 1-2 1 0 1-1 0-1 1 0 1-2 1 1 1-2 1-1 1-1 1-2 1 0 1 0 1-1 1-1 1-1 1-1 1-1 1 1 1-2 1-3 1-1 1 0 1 0 1 0 1-2 1 0 1-1 1-2 1 0 1 0 1-2 1-1 1 0 1 0 1-2 1-2 1 0 1 0 1-1 1-1 1-1 1 1 2-1 1-2 1-1 1-1 1 1 1-2 1 0 1-1 1-1 1 0 1-2 1-1 1 0 1-1 1-1 2 1 1-3 1 1 1-2 1 1 1-3 1 1 1-1 1 0 1-2 1 0 1-1 1-1 2-1 1 1 1-3 1-1 1-1 1 2 1-3 1 0 1-1 1 0 1-1 1-1 2-1 1 0 1-1 1 1 1-2 1-1 1-1 1 0 1 0 2 0 1-2 1 0 1-1 1 0 1-1 1-1 1-2 2 2 1-2 1-1 1-1 1-1 1 1 2-1 1 0 1 0 1-2 1 0 2-1 1-1 1-1 1 0 1 1 1-2 2 0 1 0 1 1 1-1 1-2 2-1 1 1 1-1 1-1 1 0 2-1 1 0 1 1 1-2 1-2 2 1 1-1 1 1 1-2 2-1 1 1 1-2 1 0 1 0 2-1 1-1 1 0 1-1 1 1 2-1 1 0 1-1 1 0 2-1 1 0 1 0 1 0 2-1 1-1 1-1 1 0 1 0 2 1 1-2 1-1 1-1 2 0 1 0 1 0 1-1 2 0 1 0 1-2 1 1 2 0 1-1 1 0 1-2 2 1 1-1 1 0 1 0 2 0 1 0 1-1 1-1 1-1 2 1 1-1 1 2 1-3 2 0 1 0 1 0 2-1 1 0 1 1 1-2 2-2 1 2 1-1 1 0 2-1 1 0 1 0 1-1 2 0 1 0 1 0 1-1 2 0 1 1 1-1 1-2 2 2 1-2 1 0 1-2 2 1 1-1 1 1 1-1 2 0 1-1 1 0 1 0 2-1 1 0 1-1 1 0 2-1 1 1 1 0 1-1 2 1 1-1 1-1 2 0 1-1 1-1 1 1 2-1 1-1 1 1 1-1 2 0 1-2 1 1 1 0 2-1 1 0 1-1 1 1 2-1 1 0 1 0 2 0 1-1 1 1 1 0 2-2 1 0 1-1 1 1 2 0 1-1 1-1 1 0 2 0 1-1 1-1 2 1 1-1 1 1 1-2 2 0 1 1 1 0 1-2 2 2 1-2 1 0 1-1 2-1 1 1 1-1 1 0 1-1 2-1 1 2 1-2 1-1 2 0 1-1 1 0 1 1 1-2 2 0 1-2 1 1 1 0 1-2 2-1 1 1 1-1 1 0 1-1 2-1 1-1 1-1 1 1 1-2 2-1 1 1 1-1 1 0 1-2 1 2 1-3 2 0 1 0 1-2 1 1 1-1 1 0 1 0 1-1 2-1 1-1 1-1 1-2 1 1 1-2 1 0 1-1 2 0 1-1 1 1 1-2 1-1 1 0 1 0 1-3 1 0 1-1 1 0 2-1 1-1 1 0 1-1 1-2 1 1 1-1 1-2 1 0 1 1 1-3 1-1 1 1 1-2 1 0 1-1 1 0 1-2 1-1 1 0 1 0 2-2 1 0 1-1 1-2 1-2 1 3 1-2 1-4 1 2 1-2 1-1 1-1 1 1 1-2 1-1 1-1 1-1 1 0 1-4 1 1 1-2 1 1 1-2 1 0 1-2 1 1 1-2 1 0 1-3 1-3 1 2 1-1 1-1 1 1 1-2 0 1 1-4 1-1 1 1 1 1 1-5 1 1 1-2 1-1 1 1 1-1 1-1 1-3 1 0 0-4 1 3 1-4 1 1 1 1 1-3 1 0 1-3 1 6 1-9 1 1 1 0 1 4 0-7 1 0 1 1 1-7 1 5 1-2 1 2 1-1 1-3 1 0 1-4 1-2 1 1 1 0 0-2 1 0 1 0 1 1 1-4 1-2 1 1 1-1 1-1 1 2 1-6 1 2 1 1 1-2 1-6 1 2 1 2 1-4 1 0 1-1 1 2 0-3 1-2 1 0 1 1 1-3 1-5 1-1 1 4 1-5 1 3 1-3 1 1 1-3 1-4 1 7 1-4 1-1 1 3 1-3 2 0 1-3 1 0 1 0 1-3 1 2 1-2 1-2 1-1 1 2 2-2 1 0 1 0 1-2 1-6 2 6 1 1 1-4 1 0 1 2 2-4 1 4 1-2 1 1 1-3 2 0 1 0 1-4 1 1 2 4 1-4 1-1 2 2 1 2 1-3 1-1 2 1 1 0 1-4 2 4 1 0 1 1 1 0 2-1 1 2 1-4 2 0 1 3 1-3 1-2 2 0 1 1 1-2 2 4 1-1 1 2 2-5 1 1 1 0 1 2 2 0 1 1 1 0 2-4 1 3 1 0 2 0 1 1 1-5 1 3 2 1 1-1 1-1 2 5 1 0 1 2 1-6 2-2 1 6 1-2 2-1 1 3 1-1 1-3 2 4 1-3 1 4 2-3 1 0 1 5 1 0 2-2 1-1 1 4 1-1 2 1 1-1 1-2 1 3 2 4 1-4 1 2 1 0 2 2 1 0 1-1 1 5 1-3 2 0 1-1 1-2 1 5 2-2 1 2 1-4 1 8 2-3 1 2 1-4 1 3 2 1 1 2 1 0 1-5 1 5 2 0 1-1 1 2 1 1 2 1 1-4 1 1 1 3 2 1 1-3 1 3 1-2 2 3 1 0 1 1 1 3 1-4 2 3 1-4 1 4 1 4 2-7 1 3 1-5 1 7 2 4 1-6 1 3 1 3 2-4 1 2 1-1 1 1 2 1 1 2 1-1 1 0 2 0 1 3 1-1 1 0 2-4 1 4 1-2 1 7 2-2 1 2 1-5 1-1 2 2 1 3 1-2 1 3 2 2 1-4 1 4 1-7 2 2 1 2 1 1 2-2 1 2 1 4 1 0 2-1 1-3 1 6 1-2 2-3 1 5 1-3 2 2 1 0 1 1 1 2 2 3 1-5 1 0 1 0 2 1 1 1 1-4 2 3 1 6 1-4 1 1 2-2 1 5 1-3 2-2 1-1 1 3 1 4 2-6 1-1 1-3 2 8 1-4 1 1 1-1 2 1 1 4 1-4 2 3 1-2 1 1 1 3 2 0 1-5 1 4 2-3 1 5 1-3 1-1 2 5 1-4 1 2 2 2 1-3 1 1 1 2 2 5 1-5 1 1 2-2 1 0 1 4 1-5 2 0 1 6 1-6 2-1 1 5 1 1 2 2 1 2 1-12 1 6 2-1 1 2 1-3 2 3 1 1 1-1 1-2 2 3 1-3 1 0 2 2 1 3 1-8 2 5 1 4 1-3 1-2 2 3 1 3 1-4 2-2 1 4 1-2 2-2 1 4 1-4 1 2 2 4 1-3 1 3 2-8 1 1 1 2 2 1 1-4 1 5 2-2 1 1 1 1 1-1 2-2 1 2 1-2 2 7 1-5 1 0 2-1 1 2 1 1 1-1 2-2 1 5 1-3 2-5 1 0 1 2 2 0 1-1 1 2 1 3 2 3 1-3 1 0 2 3 1 2 1-2 2-2 1-2 1-2 1 4 2 2 1-2 1-3 2 3 1-1 1-2 2-3 1 6 1-3 1 5 2-5 1 2 1-2 2 7 1-1 1-4 2 4 1-7 1 5 1-3 2 1 1-1 1 3 2-7 1 4"/>
<path d="M1570 470l-2 5-1-2 0 8-1-1-1 5-1-6 0 6-1 3-1-5-1 6 0 1-1 0-1 3-1 0 0-2-1 1-1 2-1 5-1-3-1 4 0-2-1 3-1 1-1 2-1 2-1-3 0-1-1 3-1 1-1 2-1 2-1-2-1 2-1 1-1 3-1-2-1 4-1 3-1-4-1 4-1-1-1 0-1 5-1-1-1-2-1 2-1-2-1 0-1 6-1-2-1 4-1-2-1 1-2 0-1 1-1-1-1 2-1-3-1 0-1 2-2 2-1 1-1 1-1 3-1 3-2-9-1 8-1 0-1-3-1 2-1-3-1 4-2 4-1-5-1 2-1 2-1 2-1 0-1-1-1 3-1-2-2 7-1-2-1-2-1-1-1 1-1 0-2 2-1 2-1-3-1 3-1 1-2-2-1 5-1-1-1 1-1-2-1 1-2 2-1-3-1 4-1-2-1 2-2 2-1-1-1-1-1 1-2 2-1-2-1 2-1 2-2-5-1 2-1 3-1-3-2 1-1 0-1 4-2-5-1 4-1 0-1 0-2-1-1 2-1-1-1 0-2 6-1-2-1-3-1 1-2 2-1 2-1-3-2 2-1 0-1 2-1-3-2 0-1 2-1 0-1 0-2 2-1 0-1-1-1-2-2 4-1 0-1-2-1 2-2-2-1 3-1 0-1-2-2 3-1 0-1 0-1 3-2-1-1 1-1-1-1 3-1-3-2 3-1-3-1 3-1-1-1 0-2 3-1 0-1 1-1 0-1 1-2 0-1 0-1 1-1 4-2-5-1 0-1 1-1 1-1 2-2 2-1 0-1-1-1 2-1 2-2-1-1 1-1-3-1 3-2 1-1-3-1 2-1 2-1-2-2 3-1 1-1-1-1 0-1 0-2 2-1 1-1-3-1 3-1 0-2-1-1 0-1 2-1-2-2 4-1-1-1 0-1 2-1-1-2 1-1 3-1-2-1-3-1 5-2-1-1 0-1 5-1-2-1 1-2-2-1 1-1 0-1 3-1-1-2-2-1 5-1-2-1 2-1 1-2 3-1-3-1 3-1-4-2 3-1 0-1-3-1 3-1 0-1 3-2-1-1 0-1 1-1 2-1 0-2 0-1 0-1 2-1-1-1 1-2 1-1 1-1 2-1-1-1-2-1 4-2 1-1 1-1 0-1-3-1 3-1 2-2 0-1 0-1 1-1-2-1 3-1-3-1 4-2 2-1-3-1 5-1 1-1-1-1-1-1 1-1-1-2 4-1-2-1 2-1-1-1 3-1-2-1 3-1-1-1 4-1-2-2 1-1 3-1-3-1 1-1 2-1 0-1 5-1-2-1 1-1 0-1-4-1 8-2-2-1-2-1 2-1 2-1 3-1 0-1 0-1 1-1-1-1 1-1 2-1-2-1 3-1 2-1-4-1 4-1 1-1 1-2 4-1-5-1 7-1-2-1 4-1-4-1 2-1 0-1 2-1-2-1 1-1 2-1 2-1-2-1 2-1 1-1 2-1 2-1-4-1 2-1 2-1 0-1 5-1 1-1-1-2 0-1-2-1 1-1 4-1 2-1-2-1 2-1 3-1 1-1-5-1 4-1 1-1-4-1 4-1 2-1-1-1 3-1-1-1-2-1 2-1-1-1 2-1 5-1 1-1 1-1 3-1-5-1 2-1 3-1 4-1-2-1 0-1 1-1-1-1-2-1 7 0-2-1 3-1-3-1 2-1 5-1-1-1 3-1-3-1 3-1 2-1 1-1-1-1 2-1 0-1 1-1 1-1 2 0-4-1 4-1-1-1 3-1 1-1 2-1-1-1 2-1-2-1 7-1-6-1 0 0 6-1 2-1-1-1 1-1-1-1 8-1-8-1 11-1-9 0 3-1 2-1 1-1 3-1-2-1 2-1-2-1 8-1-3-1 3-1 3-1-1-1-1-1 3-1 1-1 1-1 0-1 3 0-3-1 3-1-1-1 3-1 0-1 3-1-1-1 5-1-5-1 6-1-4-1-3-1 5-1 5-1-1-1 2-1-1-1 2-1-2-1 7-1 1-1-2-1-2-1 1-1 4-1 0-1-2-1 5-1 1-1 0-1 0-1 1-1 0-1 0-1 0-1 5-1-5-1 4-1 3-1 4-1-5-1 4-1 1-1 0-1 3-1-8-1 7-2-2-1 2-1-1-1-1-1-1-1 6-1-1-2-2-1 3-1-2-1 1-1 3-1 2-2-6-1 5-1 2-1-4-2 3-1 2-1 2-1-5-2-1-1 3-1 1-1 1-2 1-1-5-1 7-1-5-2 5-1 0-1 0-1 0-2 1-1-3-1 1-1 7-2-1-1 0-1-1-2-6-1 9-1-5-1 1-2 2-1-4-1 6-2-9-1 9-1-2-1-3-2 4-1 1-1-1-2 1-1-3-1 3-1 0-2 1-1-1-1-6-2 6-1-5-1 2-2 1-1 1-1-1-1 2-2 0-1-1-1 0-2 1-1 1-1-4-2-1-1 6-1-2-1-6-2 8-1 0-1-7-2 2-1 1-1-1-2 1-1 2-1 2-1-8-2 6-1 3-1-9-2 7-1-1-1-1-2 3-1 2-1-1-1 3-2-7-1-3-1 4-2 2-1 2-1-1-2-3-1 5-1-2-1-1-2-1-1 2-1 0-2-1-1-6-1 4-1 3-2 3-1-1-1 0-2 2-1-2-1 1-2 0-1-2-1-3-1-1-2 5-1-4-1 3-2 2-1-4-1 5-2-2-1-3-1 4-1 1-2-3-1 3-1-4-2 3-1 1-1-3-1 3-2 3-1-5-1-1-2 0-1 2-1-1-1-1-2 5-1 1-1-3-1 2-2 3-1-1-1-1-2 2-1-3-1 4-1 3-2-6-1-3-1 3-2 0-1 3-1 3-1-2-2 3-1-2-1-1-1-5-2 6-1-2-1 0-2 1-1 5-1-1-1-2-2-3-1 2-1 1-1 3-2 0-1 0-1-4-2 5-1 5-1-10-1 1-2 3-1 3-1-2-1 0-2 4-1-6-1-3-2 2-1 6-1 1-1-3-2-3-1 2-1 4-1 1-2-3-1 0-1 0-1 1-2 3-1 0-1 0-1 0-2 1-1-3-1 1-1 4-1 0-2 2-1-2-1-2-1 3-2 0-1 2-1-1-1 2-1 1-2 0-1 1-1-3-1 5-1 2-2-1-1 2-1-2-1-2-1 3-2-1-1 0-1 5-1-5-1 5-2-4-1-2-1 6-1-1-2 1-1 1-1 2-1-1-1-1-2 1-1 1-1-1-1 2-2-5-1 5-1 1-1 2-1-4-2 3-1 2-1 6-1-6-1 2-2-3-1 7-1-5-1 1-1 1-2-3-1 1-1 2-1 0-1 5-1-3-2 7-1-4-1-2-1 3-1 1-1-1-2 2-1-1-1-1-1 2-1 5-1-4-2 1-1-3-1 3-1 3-1-1-1 4-1 0-2-2-1 1-1 2-1 0-1-1-1-3-1 9-2-3-1 1-1-2-1 6-1-3-1 1-2-4-1 4-1 2-1 1-1 2-1-2-1 4-2-2-1 0-1 1-1-3-1-1-1 10-1-8-2 4-1 3-1-2-1 5-1-7-1 5-1 2-2 5-1-2-1-4-1 4-1-1-1-3-1 3-2 4-1-3-1-1-1 2-1-1-1 0-2 5-1 1-1 2-1-6-1 2-1 4-1 0-2 0-1-2-1 3-1-2-1 8-1-2-1-3-2 6-1-5-1 5-1-1-1 0-1 4-1-6-1 4-1 1-1-3-2 1-1 5-1 1-1-3-1 5-1 0-1 2-1-2-1 1-1 3-1-2-2 0-1-1-1 5-1 3-1-7-1 5-1 3-1 2-1-2-1-2-1 5-2 4-1-4-1 2-1 3-1-7-1 6-1 2-1 0-1-1-1-1-2 0-1-1-1 3-1-1-1 3-1 1-1-1-1 1-1 2-2-2-1 5-1 0-1 1-1-1-1 1-1 1-1 1-1-1-1 1-2 0-1 2-1-1-1 1-1 0-1 6-1-4-1 2-1-1-2 3-1 3-1-3-1 2-1 0-1 3-1-1-1 0-1 1-2-3-1 7-1 2-1-5-1 5-1-1-1 4-1-4-1 3-1 3-1-1-1 0-2 0-1-1-1 3-1-2-1 7-1-2-1-1-1-2-1 7-1 1-1-1-1 2-1 0-1-1-1 0-1 2-1 4-1-4-1-1-1 4-1 1-2-10 1-198 1-10 0-2 0-1 1-1 0-2 0-2 0-1 0-2 1-2 0-1 0-2 1-1 0-1 0-2 0-4 1 1 0-2 0-1 0-1 1-2 0 1 0-3 0-2 1-1 0-2 1-2 0-2 1-1 0-3 1 1 0-3 0-1 1-1 0-2 0-1 1-1 1-1 0-3 0-1 1 0 0-1 1-2 0-1 1-1 0-1 1-2 1-2 0-1 1-1 0 1 1-3 0-3 1 0 0-3 1 1 0-2 1-3 1-1 1-2 0-1 1-2 1-1 0-2 1 0 0-1 1-1 1-2 0-1 1-1 0-1 1-1 1-1 0-2 1-1 0-1 1-1 1 0 0-1 1-2 1-1 0-2 1-1 1-1 0-1 1 0 1-1 0-3 1 0 1-1 0-2 1 0 1-3 1-1 1-2 1 0 1-2 0-2 1-1 1-1 1-2 1 0 0-2 1-1 1-2 0-1 1-1 1-1 0-1 1 0 1-2 0-2 1-1 1 0 1-2 1-2 1-1 1-1 1 0 1-2 1-3 1-1 1-1 1-1 1 0 0-3 1-1 1 0 1-1 1-1 1 0 0-2 1 0 1-2 1-1 1-2 1 0 1-1 1 0 0-2 1-1 1-1 1 1 1-4 1 1 1-1 1 0 1-2 1-1 1 0 0-1 1-2 1-2 1 0 1 0 1-2 1 0 1 0 1-2 1 1 1-3 1-1 1 0 1-1 1-2 1 0 1 0 1-2 1 1 1-3 1 0 1-2 1-1 1-1 1 1 1-1 1 0 1-3 1-1 1 1 1-2 1-1 1 0 1 0 1-2 1-1 1 0 1-2 1-1 1 0 1 1 1-3 1 0 1 0 1-1 1-2 2-1 1 1 1-2 1-2 1 1 1-1 1-1 1 1 1-2 1-2 1 0 1-1 1 1 2-4 1 2 1-1 1-1 1 0 1 0 1-3 1 0 1 0 1-1 1-1 1 0 2-1 1-1 1-2 1 1 1 0 1-1 1-1 1 0 1-3 1 1 1-1 2-1 1 0 1-2 1 0 1-1 1-2 1 1 1 0 1 0 2-3 1 0 1 1 1-3 1 0 1-1 1 1 2-2 1 0 1-1 1-1 1 2 1-2 1 0 2-3 1 1 1-1 1-1 1 0 2 1 1-1 1-2 1 2 1-2 1-2 2 0 1-1 1 0 1-1 1 0 2 0 1-1 1 0 1-1 1 0 2 0 1-1 1 0 1-1 1 0 2-1 1 0 1-2 1 1 2-1 1-1 1 0 1-2 1 1 2 0 1-1 1 0 1-2 1 1 2-2 1 0 1 1 1-1 2 1 1-2 1-1 1 0 1-1 2 0 1 0 1 0 1-2 2 0 1-1 1 0 1 0 2 0 1 0 1-1 1 0 2-2 1 1 1 0 1-1 1 0 2-1 1 0 1 0 1-1 2 0 1 0 1-2 1 1 2 0 1 0 1-2 1 1 2-2 1 0 1 0 1-1 2 0 1-1 1 0 1 0 2-1 1 1 1-1 2 0 1 0 1 0 1-1 2-1 1 0 1-1 1 1 2-1 1 1 1-1 1-1 2 0 1-1 1 0 1 0 2 0 1-1 1 0 1 0 2-1 1 0 1 0 1-2 2 2 1-3 1 1 1-1 2 1 1-1 1 0 2-1 1 1 1 0 1-3 2 2 1-2 1 0 1 1 2-1 1-1 1 0 1 1 2-1 1 0 1-2 2 1 1 0 1-1 1 1 2-1 1 0 1-1 1 0 2 0 1-1 1 0 1 0 2-1 1-1 1 1 2-1 1 0 1-1 1 2 2-1 1 0 1 0 1-1 2-1 1-1 1 1 1 0 2 0 1 0 1-2 2 0 1 0 1-1 1 0 2 0 1-1 1 0 1-1 2 0 1 0 1 0 1-1 2 0 1-2 1 1 1 0 2-1 1 0 1-1 1 0 1 0 2-1 1 0 1 0 1-1 2-2 1 0 1 0 1 1 1-1 2-1 1-1 1 0 1 0 1-1 2-1 1-1 1 0 1-1 1 0 2-1 1 1 1-1 1 0 1-2 1 0 2-1 1 0 1-1 1-2 1 1 1-1 2 0 1-1 1-2 1 0 1 0 1 1 1-3 2 0 1 0 1-1 1-1 1 0 1-1 1 1 2-1 1-2 1 1 1-2 1-1 1-1 1 0 1 0 2-1 1 0 1-1 1-1 1-1 1 1 1-2 1-3 1 1 2 0 1 0 1-1 1-1 1-3 1 3 1-2 1-1 2-2 1 2 1-3 1-1 1 1 1 0 1-2 1-1 1 0 2-1 1 0 1-1 1-2 1 1 1-3 1 2 1-2 1-1 1 2 1-3 2 0 1 0 1 1 1-8 1 4 1-1 1 1 1-3 1-1 1 1 1-2 1-2 1 0 1 2 1-2 1-6 1 3 1-2 2 2 1-4 1 1 1 0 1 0 1-3 1 1 1 2 1-6 1 1 1-3 1 1 1 0 1-1 1 0 1-4 1 2 1-2 1-6 1 7 1-3 1-2 2 3 1-2 1-6 1 4 1 3 1-5 1 1 1-6 1-1 1 0 1 4 1-1 1-8 1 6 1-6 1 0 1 2 1-2 1 1 1-1 1 1 2-4 1-1 1 0 1 5 1-3 1-1 1-2 1-1 1 2 1-4 1-4 1-1 2 8 1-8 1 0 1 0 1 2 1-5 1 1 1 1 1-4 1 2 1 1 2-2 1-1 1 0 1-2 1-1 1-1 1 2 2-6 1 1 1 3 1 0 1-2 2-3 1-2 1 4 1-1 1 0 2 0 1-4 1 0 1 1 2 0 1-4 1 1 1 2 2 2 1 2 1-5 1-1 2 1 1-1 1-2 1-5 2 7 1-2 1 1 2-2 1 1 1 1 1-4 2 1 1 3 1 0 2-5 1 5 1 1 2-2 1 0 1-1 1 0 2-1 1 3 1-3 2-3 1 4 1 1 1-1 2-3 1 3 1-7 2 9 1-2 1-5 2 0 1 9 1-5 1-1 2 2 1-1 1 0 2 1 1 0 1-3 2 3 1 0 1-2 1 4 2-1 1-3 1 6 2-2 1 1 1-4 2 1 1 1 1-1 1 1 2-2 1 7 1-3 2 2 1 1 1-3 1 4 2-8 1 4 1 0 1 1 2-2 1 5 1 2 2-3 1 1 1-5 1 3 2 2 1-2 1 3 1-1 2 1 1-3 1 4 2 2 1-1 1 3 1-4 2 2 1-4 1 5 1 0 2-2 1 4 1-5 1 2 2 2 1-3 1 1 2 4 1-2 1-1 1 1 2 0 1 0 1 3 1-3 2 0 1 3 1 0 1 3 2-5 1 2 1 3 2-1 1-1 1 0 1 3 2-1 1-2 1 2 1 0 2 3 1-7 1 4 1 4 2-5 1 3 1 2 2-4 1 2 1 0 1 2 2-1 1-1 1 3 1 0 2 2 1-3 1 1 2 0 1 4 1 0 1-4 2-3 1 9 1-8 2 1 1 2 1 6 1-1 2-3 1 2 1-2 2 4 1-4 1 5 1-2 2-2 1-3 1 7 1-1 2-4 1 1 1 1 2 0 1 1 1 1 2 0 1-1 1 6 1-5 2-1 1 3 1-3 2 3 1 0 1 2 1-5 2-2 1 8 1-3 2 5 1-3 1-2 1 2 2-4 1 1 1 2 2 1 1-4 1 6 1-1 2 2 1-6 1 5 2-3 1 1 1 4 2-3 1 2 1 1 1 0 2-5 1 0 1 4 2 1 1-4 1 3 1-3 2 2 1 1 1 1 2 1 1-3 1 2 2-2 1 4 1-1 1-2 2 6 1-5 1 0 2 0 1 2 1-1 2-2 1 3 1 2 1 1 2-2 1-2 1-1 2 3 1 2 1 3 2-7 1-2 1 1 1 3 2 1 1-4 1-1 2-2 1 7 1-6 2 6 1-2 1-5 1 2 2 6 1-3 1 0 2 3 1-3 1 0 2 1 1-1 1 3 1-4 2 4 1 1 1-5 2 3 1-5 1 4 2 2 1 0 1-4 1 3 2 0 1-1 1 0 2 4 1-11 1 5 2 4 1-3 1 1 2 0 1-1 1 0 1-2 2 2 1 2 1 1 2-1 1-2 1-1 2-3 1 4 1-2 1 1 2 0 1 1 1 1 2-1 1-3 1 2 2 3 1-2 1 1 1-1 2 4 1 0 1 3 2-8 1 3 1-5 2 5 1-1 1-2 1 5 2-4 1-4 1 8 2-4 1 2 1-4 2 0 1-1 1 0 1 5 2-1 1-5 1 4 2 0 1-2"/>
<path d="M1570 454l-2 25-1 2 0-6-1 7-1 2-1-1 0 2-1 0-1 4-1-2 0 2-1 5-1 0-1-1 0-2-1 0-1 6-1 0-1 0 0 1-1 6-1-1-1-1-1 1-1 0-1 3 0-1-1 2-1 0-1 3-1 0-1-1-1 8-1-4-1-1-1 0-1 3-1 0-1 5-1-1-1-2-1-1-1 6-1-4-1 4-1 1-1-5-1 5-1 5-1-4-1-2-1 1-1 4-2 2-1 1-1 0-1-2-1 2-1 1-2 0-1-1-1 4-1 1-1-2-2 2-1-3-1 4-1-2-1 1-1 4-2-1-1-1-1-1-1 4-1 4-1-2-1 0-1 3-1 2-2-2-1 1-1-1-1 1-1 1-2 2-1-3-1 2-1 1-1-1-2 0-1 3-1-2-1-1-1 5-1-4-2 5-1-6-1 6-1 3-1-3-2 3-1-2-1-1-1 2-2 2-1 1-1 1-1-1-2-1-1-3-1 2-1 5-2-6-1 4-1 1-1-4-2 4-1-1-1 1-2 0-1 0-1-1-1-2-2 7-1-4-1 1-1 1-2 0-1 0-1 2-1 0-2-1-1 0-1 2-1-2-2 3-1 2-1 0-2-1-1-3-1 4-1 0-2 2-1-3-1 1-1 3-2-3-1 4-1-1-1-5-1 4-2 1-1-1-1-1-1 4-2-2-1 1-1 1-1 1-1 2-2 1-1 0-1-1-1 1-1 1-2 2-1-2-1-1-1 3-1 1-2-1-1 3-1-2-1 1-1 1-1 3-2-4-1 3-1 1-1-1-2 2-1-2-1 0-1 0-1 2-2-1-1 3-1 0-1-2-1 5-2-1-1-3-1 0-1 4-2 2-1-2-1 3-1 1-1-1-2-1-1-1-1 1-1 4-2-2-1-1-1 2-1 1-1 2-2-2-1 4-1-2-1 1-1-2-2 3-1 0-1 1-1-1-1 2-2-3-1 2-1 5-1-3-1 0-2 3-1-2-1 5-1-3-1 1-2-1-1 3-1-1-1 4-1-4-2 2-1 1-1-2-1 1-1 0-2-1-1 4-1-5-1 3-1 1-2 3-1 0-1 2-1 1-1-1-2-1-1 3-1-2-1 1-1 1-1 3-2 2-1-1-1-2-1 3-1 1-1-3-2 2-1-1-1 1-1 2-1 0-1 0-2 1-1-1-1 2-1 1-1 0-1-1-2 2-1 2-1 2-1 0-1 1-1 2-1-3-2 3-1-2-1 4-1 0-1-3-1 3-1 2-2-3-1 3-1 1-1 2-1-3-1 4-1-3-1 1-2 4-1 0-1-2-1 4-1-1-1 1-1-1-1-3-1 5-2 2-1 0-1 2-1-1-1 3-1-6-1 6-1-2-1 3-1 1-2 2-1 0-1 1-1-3-1 3-1-3-1 5-1-3-1 6-1-1-1 0-1 0-2 2-1-1-1 0-1 4-1-2-1 3-1-2-1 1-1 7-1-2-1 2-1-2-1 1-1 1-1 4-1-2-1 0-1 1-1 1-2 2-1-1-1 1-1 3-1 0-1 0-1 4-1-4-1-1-1 0-1 4-1 1-1 2-1-4-1 1-1 3-1 1-1-2-1 4-1 2-1-1-1 7-1-3-1-3-1 3-1-2-1 8-1-4-1 1-1 3-1-2-1 0-1 3-1 3-1 1-1-5-1 1-1 5-1-1-1 1-1 4-1 0-1-2-1 4-1-2-1 1-1 6-1-4-1 3-1-1-1 1-1-1-1 1-1 6 0 3-1-2-1 0-1-1-1 2-1 4-1 4-1-4-1 0-1 3-1-1-1-2-1 1-1 2 0 1-1-4-1 3-1 7-1 1-1 1-1-2-1 0-1 2-1 2-1-1 0 5-1-3-1-4-1 9-1 1-1-2-1 4-1 2-1-9-1 9-1-3-1 5-1 2-1-1-1 0-1 3-1 6-1-4-1-3-1 3-1 1-1 4-1-2-1 0-1 2-1-1-1 4-1-3-1 2-1 3-1-3-1 0-1 3-1 6-1-1-1-1-1 3-1 1-1-3-1 0-1 6-1-4-1 4-1-4-1 4-1-2-1 5-1 1-1 0-1 2-2-3-1 4-1 1-1-3-1 4-1 0-1 1-1-1-1 1-2 2-1 0-1 2-1-4-1 6-1-4-1 5-2-5-1 2-1 3-1 1-1-2-2-1-1 5-1 1-1-4-2-1-1 2-1 2-1-4-1 2-2 5-1-3-1 0-1 6-2-1-1 2-1-4-2 0-1 0-1-2-1-2-2 6-1-2-1 4-1 1-2-6-1 1-1 4-2 3-1 1-1-5-1 2-2 3-1-5-1 0-1 6-2-5-1-1-1 7-2-5-1 0-1 3-2 2-1-1-1-1-1 0-2 0-1 0-1-5-2 5-1-4-1 2-1 2-2 0-1 1-1-1-2 2-1 3-1-7-2 5-1 2-1-5-1 0-2 1-1 1-1-2-2 0-1 1-1 1-2 3-1-4-1 3-1 0-2-2-1 0-1-2-2 1-1 2-1 0-2-1-1 4-1-3-1 0-2 0-1 3-1-1-2-1-1-4-1 8-2-8-1 5-1-4-1-1-2-4-1 8-1 1-2-2-1 0-1-2-2 3-1 0-1-3-1 3-2 0-1-2-1 6-2-6-1 8-1-2-1-3-2 5-1-1-1 0-2-2-1-3-1-3-2 6-1 0-1-1-1 6-2-3-1-5-1 4-2 1-1-4-1 4-1-1-2-3-1 5-1 1-2-8-1 8-1-2-1 1-2-3-1 2-1 7-1-3-2-1-1 0-1-2-2 2-1-1-1 3-1-3-2 3-1 2-1-2-1 1-2 1-1-2-1-2-2 6-1-2-1 0-1 4-2-5-1 1-1 0-1-1-2 3-1-1-1 5-2-5-1 5-1-5-1 2-2 1-1-2-1 4-1-3-2 1-1 3-1-3-1 4-2 1-1 0-1 1-2-4-1 4-1-4-1-2-2 4-1 5-1-7-1 7-2-7-1 6-1-1-2-2-1-4-1 8-1 0-1 0-2 2-1-4-1 7-1-2-2-4-1 8-1-5-1 1-2 2-1-4-1 0-1 3-1-2-2 3-1 4-1-6-1 4-1-1-2 3-1-4-1 1-1 3-2 5-1-6-1-2-1 3-1 4-2 1-1-2-1 1-1-3-1 5-2-1-1-1-1 5-1 0-1-3-2 2-1-4-1 2-1 6-1-5-2 1-1 5-1-8-1 5-2 4-1-3-1 0-1 0-1 3-2-2-1 3-1 0-1 1-1 3-2-3-1-1-1 3-1 1-1-1-2-3-1 6-1-5-1 0-1 8-2 2-1-4-1-1-1 6-1-6-1 4-1-1-2 4-1 0-1-2-1 5-1-1-1-1-2 0-1 1-1-2-1 3-1 1-1 2-1-1-2 0-1 2-1 3-1-1-1-1-1 0-1 5-2-2-1-3-1 4-1-4-1 4-1 3-2-1-1 0-1 3-1 2-1-5-1 1-1 1-2 0-1 4-1 2-1-2-1-1-1-1-1 4-1-1-2 4-1-4-1 3-1 1-1 4-1 0-2-1-1 0-1 2-1-5-1 7-1-2-1 5-2-1-1 1-1-4-1 9-1-5-1 0-1-1-2 3-1-6-1 9-1-1-1-1-1 4-2-1-1 0-1-1-1 2-1-3-1 1-1 4-1-1-2-1-1 3-1-3-1 9-1-6-1 1-1 7-1-7-1-1-2 6-1 0-1 4-1-2-1-3-1 5-1 0-1 4-1-2-1-2-1 2-1 2-2 0-1 2-1 1-1-3-1 4-1 2-1-4-1 0-1 6-1 0-1 2-2 3-1-4-1-2-1 4-1-1-1 3-1 1-1 0-1 1-1 0-2 1-1-3-1 8-1-5-1 1-1 0-1 2-1 0-1-3-1 9-2-2-1-1-1 2-1 3-1 0-1 0-1 2-1-8-1 9-2-2-1-1-1 0-1 4-1-4-1 6-1-2-1 4-1-5-1 6-2-2-1-1-1 7-1 0-1-4-1 2-1 5-1-3-1-1-2 0-1 1-1 4-1 2-1-3-1-1-1 2-1-2-1 6-1 0-1 3-1 4-2-2-1-3-1 1-1-2-1-1-1 10-1-3-1-3-1 6-1-6-1 5-1 2-1-1-1 1-1 4-1-3-1 5-1-6-1 4-1 6-1-6-1-10 0-204 1-10 0-2 0-1 1-1 0-1 0-2 0-1 0-1 1-1 0-3 0-1 0-1 0-1 1-1 0-2 0-2 0-1 1-2 0-3 0-1 1 0 0-3 0 1 1-4 0-1 1-2 0-3 1 1 0-3 1 1 0-2 0-2 1-2 0 1 0-2 1-1 0-3 1-2 1-1 0-1 1-3 0-2 1 1 0-3 1 0 1-3 0-1 1-1 0-1 1-1 0-1 1-2 1-2 1-2 1-2 0-1 1-2 1-2 0-1 1-2 1 1 0-2 1-2 0 1 1-2 1-1 0-2 1-1 0-2 1 0 1-1 0-2 1-1 1 0 0-2 1-1 1-2 0-1 1 0 1-1 0-2 1 0 1-3 1-1 1-1 0-2 1 0 1-3 0 1 1-1 1-2 0-1 1-1 1-2 0-1 1-1 1 0 0-1 1-3 1-1 1-2 1-1 1-2 1 0 0-2 1-1 1-2 0-2 1 0 1-2 1 1 0-1 1-1 1-1 1-4 1 0 1 0 1-2 0-1 1 0 1-2 1-2 1 1 1-3 1-1 1-2 1 1 1-2 1-1 1-2 1 0 1-1 1-3 1-1 1 1 1-2 1 0 1-2 1-3 1 1 1-1 1-1 1-1 1-1 1-1 1 0 1-2 1 1 1-2 1-2 1 0 1-2 1 1 1-2 1 0 1-1 1-1 1-2 1 0 1-1 1-1 1 0 1-1 1-1 1-1 1-1 1-1 1-1 1-1 1 2 1-3 1 0 1-1 1-1 1-1 1 0 1-2 1 0 1-2 1 1 1-2 1-1 1 0 1-1 1-1 1 0 1-2 1-2 2 1 1-2 1 1 1 0 1-1 1-2 1 0 1-2 1 1 1 0 1-3 1 1 1-1 2 1 1-3 1-1 1 1 1-1 1-1 1-2 1 0 1-1 1 1 2-2 1-1 1-1 1-1 1 0 1-1 1 0 1 0 1-2 2 0 1-2 1 0 1 0 1-1 1-1 1 0 1-2 1 0 2 0 1-2 1 1 1-1 1-2 1 1 1-1 1-1 2 0 1-1 1-1 1 0 1 0 1-1 2-1 1-2 1 0 1 0 1 0 1-1 2 1 1-2 1 0 1-1 1 0 1-2 2 0 1-1 1 0 1 0 1-1 2 0 1-1 1-2 1 0 1-1 2 0 1 1 1 0 1-2 1 1 2 0 1-1 1 0 1-2 1-1 2 0 1 0 1-1 1 0 2 0 1-2 1 1 1-3 1 2 2 0 1 0 1-3 1 0 1-1 2 0 1-2 1 2 1-1 2 0 1-2 1 1 1 1 1-2 2 0 1-2 1 1 1-1 2 0 1 0 1-1 1 0 2-1 1 0 1-1 1-1 2 1 1 0 1-1 1-1 2 0 1 0 1 0 1-1 2-1 1 1 1-1 1-2 2 1 1 1 1-1 1-1 2 0 1-1 1-1 1 1 2-1 1 1 1-1 1 0 2 0 1-2 1 0 1 0 2 0 1-1 1 0 1-1 2-1 1 1 1-2 1 2 2-2 1 0 1 1 1-1 2 0 1-1 1-1 2 1 1-1 1-1 1 0 2 1 1-2 1 0 1 0 2 1 1-3 1 2 1-1 2 0 1-1 1 0 1 1 2-1 1-1 1 1 2-2 1 1 1-1 1 2 2-1 1-1 1-1 1-1 2 1 1 0 1-2 2-1 1 2 1-1 1 0 2-1 1 0 1 0 1 0 2 0 1 0 1-2 1 0 2 0 1-1 1-1 2 1 1 0 1 0 1-1 2 1 1-1 1-1 2 1 1-2 1-1 1 3 2-2 1 1 1-1 1-1 2-1 1 0 1 1 2-1 1 0 1 0 1-1 2 0 1 1 1-1 1-1 2 0 1 0 1 0 1-2 2 1 1-1 1-1 1 0 2 1 1-1 1-2 1 1 2 0 1-1 1-1 1 0 2 0 1-1 1 0 1-2 1 2 2-2 1 0 1 0 1 0 2-2 1 0 1 1 1-2 1-1 2 0 1 0 1 0 1 0 1-1 2-2 1 1 1-1 1-2 1 0 2 0 1 1 1-2 1 0 1-1 1 0 2-1 1-1 1-2 1 2 1-3 2 1 1 0 1-1 1-1 1 0 1 0 2-1 1 0 1-2 1-1 1 0 1-1 1 1 2-1 1-1 1 0 1-1 1-2 1 1 2-2 1-1 1 0 1-1 1 0 1 0 1-2 2 0 1 0 1-1 1-1 1-1 1 0 1-1 2-1 1 1 1-1 1-1 1 1 1-2 1 0 1-1 1-1 2-1 1 1 1-1 1-4 1 2 1-4 1 0 1 2 1-3 1 2 2-3 1 1 1-1 1 0 1 0 1-5 1 2 1-1 1 1 1-2 1-2 1-2 2-1 1 0 1 1 1-1 1 2 1-3 1 0 1-4 1 2 1-2 1-1 1 3 1-4 2 0 1-1 1-3 1-2 1 7 1-5 1-1 1 0 1-2 1 0 1-2 1 1 1-1 2 1 1 1 1-6 1 2 1-3 1 5 1-5 1 1 1-4 1 3 1-5 1-1 1-3 2 4 1-2 1 1 1-3 1 1 1-1 1-3 1 6 1 0 1-5 2 0 1-1 1 0 1-4 1 2 1 2 1-5 1 0 2-2 1 0 1-4 1 3 1 2 1-2 1-1 1-1 2-1 1-2 1-3 1 7 1-3 1-6 2 7 1-4 1 2 1-3 1-1 2 2 1-3 1-4 1 5 2-1 1-1 1-1 1 1 2 2 1-1 1-2 1-1 2-2 1 5 1-8 1 2 2 1 1 0 1 0 1-1 2 4 1-1 1-7 2 2 1-1 1 5 1-4 2-2 1 2 1-2 2 3 1 1 1-4 1 3 2 0 1-3 1 3 2-3 1 3 1-2 2-1 1 4 1-1 1-3 2-5 1 6 1-1 2 2 1-1 1-1 2 0 1 4 1 0 1 0 2-5 1 1 1 1 2-4 1 6 1-4 2 4 1-3 1 2 1-4 2-2 1 4 1-1 2 0 1 2 1 2 2 1 1-4 1-1 1 3 2-2 1 0 1 2 2 3 1-1 1-5 1 9 2-7 1 3 1-1 2 4 1-1 1 2 1-2 2-1 1 3 1-6 2 2 1 0 1 3 1-1 2 0 1 3 1 0 1-2 2-2 1 8 1-3 2-2 1 2 1 0 1-1 2 3 1-1 1-1 1 3 2-2 1 3 1-2 2 0 1 3 1-3 1 2 2 2 1-3 1 0 2 3 1 1 1-7 1 6 2 2 1-4 1 4 1-3 2 0 1 1 1 2 2-2 1 0 1 2 1 2 2-6 1 7 1 1 1-5 2 2 1 1 1 0 2 4 1-3 1-2 1 1 2 2 1-2 1 0 2 0 1 6 1-2 1-4 2 4 1-7 1 6 2 2 1-1 1 1 1-1 2-1 1 1 1 0 2-3 1 4 1-2 1 4 2 4 1 0 1 1 2-7 1 0 1 3 1-3 2 4 1-3 1 2 2-1 1 4 1 0 1-1 2-5 1 6 1-3 2-2 1 4 1 2 1-6 2 5 1-2 1 0 2 2 1-2 1 0 2 4 1-8 1 8 1-5 2 6 1-6 1 7 2-8 1 9 1-4 1-1 2 0 1 4 1-3 2 2 1-1 1-3 2 7 1-4 1 1 1 0 2 0 1 4 1-3 2-2 1 1 1-1 2-2 1 6 1-5 1 6 2-3 1 2 1-2 2-1 1 7 1-7 1-1 2 3 1 3 1-7 2 2 1 4 1 0 2-1 1-2 1 2 1-3 2 3 1-1 1 1 2-1 1 2 1-1 2-2 1 5 1-3 1-1 2 0 1 5 1-4 2 1 1-3 1 1 2-1 1 0 1-1 2 2 1-2 1 5 1 0 2-4 1 3 1-3 2 3 1 0 1-6 2-2 1 8 1 0 1-1 2-2 1 0 1-5 2 10 1-9 1 6 2-1 1 1 1-4 1 1 2 4 1-5 1 4 2-4 1 4 1 1 2-2 1 2 1-5 1 2 2 0 1 5 1-5 2 1 1 3 1-2 2 1 1-5 1 6 2-3 1 1 1 1 1-7 2 8 1-4 1 4 2-4 1 1 1-4 2 1 1 5 1-4 1 2 2 0 1-3 1 2 2 0 1 2 1-2 2-1 1 5 1 0 1-3 2-3 1 4 1-3 2 5 1-4 1-1 2 0 1-1 1 2 1-3 2 4 1 1 1-1 2-3 1 3"/>
<path d="M1570 456l-2 26-1 0-1 0-1 2-1 2 0 1-1 3-1 0-1 2 0-2-1 3-1 0-1 2 0 1-1 5-1-6-1 4-1-1 0 3-1 1-1 3-1-2-1 0-1 3 0 1-1-4-1 9-1-5-1 6-1 1-1 1-1-2-1-1-1 1-1 5-1-2-1 2-1-1-1 1-1 4-1-3-1 2-1 1-1 1-1 0-1-1-1 2-1 1-1 5-1-1-1-1-2 1-1 0-1 4-1-3-1 0-1 10-1-9-2 1-1 0-1 3-1-2-1 1-2 4-1 1-1-2-1-2-1 4-1-2-1 3-2 1-1-3-1 5-1-1-1 1-1-2-1 5-1-3-1 3-2-2-1 0-1 1-1-1-1 3-2 4-1 0-1-3-1 1-1 5-1-1-2-1-1 0-1 0-1-3-1 4-1 6-2-1-1-3-1 3-1 0-1-2-2 0-1 1-1 2-1 3-2-2-1 0-1 0-1 3-1 1-2-2-1 0-1 1-1 1-2 1-1 0-1-3-2 2-1 0-1 2-1-3-2-1-1 4-1-1-1 1-2 1-1-1-1 2-1-2-2 0-1 4-1-2-1 3-2-1-1-1-1 0-1 0-2 2-1 1-1 0-1 0-2-1-1 4-1-1-1 1-2-3-1 2-1-1-1 4-2-2-1 4-1-2-1-2-2 4-1 1-1-3-1 0-2 1-1-1-1 1-1-1-1 3-2-1-1 3-1 0-1 2-1-1-2 0-1 3-1-3-1-1-1 1-2 2-1 2-1 1-1-2-1 3-2 0-1 1-1-2-1 1-2-2-1 3-1 0-1 2-2 1-1-3-1 3-1 1-2-1-1 3-1-3-1-1-2 3-1 2-1-1-1-3-2 2-1 3-1-2-1 1-1-1-2 5-1 0-1-4-1 0-2 4-1 0-1 0-1 1-1-1-2 3-1 0-1 1-1 0-2-2-1 1-1 1-1 1-1-1-2 0-1 2-1 0-1 1-2 3-1 0-1-2-1 1-1 0-2-1-1 3-1-3-1 3-1 0-2-1-1 3-1 1-1 0-1 1-2-2-1 3-1 2-1-4-1 6-2-5-1 4-1-2-1 2-1 0-2 1-1 2-1-1-1 1-1 2-1-2-2-2-1 3-1 0-1 1-1 2-1 0-2-1-1 1-1 0-1 2-1 4-1-5-2 6-1-2-1 0-1 0-1 0-1 3-2-1-1 0-1 2-1 3-1-3-1 1-1 3-2-3-1 4-1 3-1-3-1-2-1 4-1-1-2 3-1 0-1 0-1-1-1 4-1-1-1 1-2 1-1 0-1 1-1 0-1-2-1 2-1 1-1 3-1 1-2-3-1 2-1 0-1 2-1 1-1 1-1-1-1 1-1 5-2-5-1 5-1 0-1 1-1-1-1 1-1 2-1-1-1 1-1 0-2 2-1 0-1 0-1 2-1 0-1-1-1 3-1 3-1-1-1 3-1-5-1 4-1-3-1 5-1-1-2 1-1 2-1-2-1 1-1 2-1 2-1 2-1-3-1 0-1 3-1-2-1 1-2 4-1-1-1 5-1-5-1 6-1 0-1-2-1 2-1-5-1 6-1 1-1-1-1 5-1-7-1 7-1 0-1 1-1-3-1 6-1-2-1 2-1 3-1-3-1-4-1 8-1 0-1 0-1 0-1 1-1 3-1 2-1-2-1 5-1-3-1 3-1-1-1 1-1 4-1 0-1 2-1 1-1-2-1 2-1 1-1 1-1 1-1-1-1 2-1 1-1-2-1 5-1 1-1-6-1 7-1-2-1 5-1-3-1 3-1-1-1 0-1 8-1-5-1 0-1 3-1 5-1-7-1 8-1-4 0 3-1 1-1 3-1-3-1 7-1-4-1-2-1 5-1 2-1 1-1 1-1-2-1 5-1 0-1-4-1 3-1 0 0 2-1 2-1-1-1 2-1 3-1 1-1 2-1-10-1 7-1 0-1 2-1 0-1 0-1 5-1 2-1-5-1 5-1-6-2 8-1 3-1-1-1-3-1 0-1 2-1 5-1-1-1 0-1 1-1-2-1-2-1 4-1 1-1 3-1 0-1 8-1-8-2 1-1 5-1-3-1 5-1 1-1-2-1 1-1-5-2 7-1-2-1 2-1 1-1-1-1-2-2 2-1-1-1 5-1-2-1 1-2-1-1 1-1-2-1 4-2-3-1 4-1-1-1 2-1 2-2-1-1 0-1 2-1-3-2 1-1 2-1-4-2 2-1 6-1-4-1 1-2 1-1-2-1 0-1 1-2 3-1 2-1-5-1 1-2 2-1-4-1 4-2 2-1 1-1 3-1-6-2 1-1 2-1-1-2 2-1-3-1-3-1 2-2-2-1 4-1 3-2-1-1-3-1-3-1 5-2-2-1 0-1 2-2 6-1-7-1 0-2-2-1 6-1-4-1-3-2 4-1 2-1-4-2 3-1-4-1 7-2-5-1 3-1-2-1 1-2 2-1-2-1 1-2 3-1 4-1-4-1-2-2 1-1-4-1 1-2 0-1 3-1-1-2 0-1 6-1-5-1 2-2-1-1-1-1 2-2-5-1 4-1 2-2 2-1-4-1 4-1-2-2-2-1-3-1 5-2-2-1 4-1-2-1-4-2 3-1 2-1 2-2-9-1 7-1-4-2 3-1-1-1 4-1-1-2 3-1-1-1-4-2-4-1 5-1 0-1 2-2-2-1 0-1 4-2-1-1-2-1 3-1-3-2 2-1 3-1-3-1-2-2 4-1-1-1 5-2-4-1-1-1-1-1-2-2 3-1 3-1-2-1 3-2 2-1-1-1-2-2-1-1 5-1-4-1 1-2 0-1 5-1-7-1 7-2 0-1 2-1-3-1 5-2-3-1-4-1-1-2 4-1 1-1 0-1 2-2 1-1-9-1 7-1 0-2 2-1-3-1 5-1-3-2 4-1-5-1 2-2-3-1 1-1 2-1 0-2 2-1 1-1-1-1 0-2-2-1 2-1 1-1-1-2 4-1 0-1-3-1 1-2 1-1 1-1 4-1-4-2-1-1 3-1 1-1 2-2-5-1 2-1 2-1 0-1-3-2 5-1 3-1-2-1-1-2-2-1 1-1 3-1-1-1 0-2-2-1 6-1 1-1-1-1 2-2-1-1 4-1-3-1 0-1-2-1 3-2 0-1 0-1 5-1-1-2 1-1-1-1-2-1 2-1 3-2-4-1 2-1 1-1 3-1-2-2 2-1 1-1-2-1 2-2-3-1 2-1 3-1 0-1 0-2 0-1 3-1 0-1-1-1-4-2 12-1-1-1-7-1 6-1-4-1 4-2-4-1 3-1-1-1 4-1 1-1-2-2-5-1 6-1-2-1 7-1-4-1-3-2 5-1-2-1 5-1-4-1 5-1-5-1 8-2-3-1 3-1-2-1 6-1-5-1 3-1-1-2 4-1-6-1 0-1 6-1-3-1 0-1 5-2-1-1-5-1 7-1-1-1-1-1 5-1 0-2 3-1-4-1-1-1 9-1-3-1 0-1-3-2 2-1 3-1-8-1 5-1 4-1-5-1 7-2-1-1-3-1 4-1 1-1 0-1 3-1-5-2 3-1 3-1 0-1 1-1 7-1-8-1 1-2 3-1-1-1 3-1-2-1 5-1-5-1 2-2 3-1-1-1 3-1 0-1 1-1-5-1 6-2-1-1 1-1-2-1 4-1 1-1 0-1 1-1 0-1 0-2 2-1-1-1 1-1 2-1 2-1 3-1-1-1-2-1-1-1 3-1-2-1 1-2-2-1 8-1 1-1-5-1 4-1 1-1 4-1 0-1-5-1 4-1-4-1 4-2 1-1 0-1-1-1 3-1 6-1-6-1 3-1 3-1 0-1-2-2 5-1 1-1-3-1 1-1 0-1 2-1 0-1 3-1-6-1 7-2-2-1 5-1 0-1-3-1 1-1 0-1-1-1 3-1 3-1-2-2-2-1 4-1-2-1 3-1 3-1 1-1 1-1-4-1-3-1 6-2 1-1 3-1 0-1-2-1 2-1 3-1-3-1-3-1 6-2 1-1-1-1 5-1-3-1-1-1 3-1 5-1-6-1 5-1-4-1 5-1-2-1 1-2 3-1 6-1-10-1 5-1-1-1 5-1-1-1-2-1 5-1 0-1-1-1 3-1 0-1 2-1-4-1 5-1 2-1-4-1 12-1-4-3-10 1-215 2-10 0-1 0-1 1-1 0-2 0-2 0 1 0-3 1 1 0-3 0-2 0-1 1-2 0-2 0-2 0-2 1-1 0-2 1-1 0-2 0-1 1-3 0-1 1-2 0-1 1-2 0-1 1-2 0-3 1-2 0-1 1 0 0-2 1 1 0-3 0-1 1-2 0-1 1-1 0-2 1 1 0-2 1-1 0-2 1-2 1-2 0-1 1-1 0-2 1-1 0-2 1 1 0-1 1-3 1 0 1-2 0-1 1-3 0-1 1-1 1-1 1-1 0-2 1-1 0-2 1-2 1 0 1-1 1-2 0-1 1 0 1-2 0-2 1-2 1 0 0-1 1-1 1-1 0-2 1 2 1-4 1-2 1-1 1-2 1-2 0 1 1-2 1-2 0-1 1 0 1-3 1-2 1-1 1-2 0-1 1-1 1 0 0-1 1-2 1-1 0-2 1-1 1-1 1-1 1-2 1-2 0-1 1 0 1-1 1-2 0-1 1 0 1-1 1-2 1-1 0-2 1 2 1-3 1-2 1 0 1-1 1-2 1-1 1 0 1-1 1 0 1-3 0-1 1 0 1-2 1 0 1-1 1-1 1-2 1-1 1 0 1-1 1-2 1 0 1-2 1 0 1-1 1 0 1-2 1-1 1-3 1 1 1 0 1-2 1 0 1-2 1 1 1-1 1-2 1 0 1-1 1-2 1 0 1-1 1-1 1 0 1-1 1-2 1 1 1-2 1 0 1-1 1-1 1-1 1-1 1 1 1-2 1-3 1 2 2-3 1 1 1 0 1-2 1-1 1 0 1-1 1 0 1-2 1 0 1-2 1 0 1-1 1 0 1-1 2-2 1 0 1-2 1 1 1 0 1-1 1-2 1 0 1-1 1-1 1 0 2-1 1 0 1-1 1-1 1-1 1 0 1-1 1 1 1-2 2-3 1 3 1-2 1-1 1 0 1-1 1-1 1-1 1 0 2 0 1 0 1-2 1 0 1-1 1-2 1 0 1-1 2 1 1-3 1 1 1-1 1 1 1-3 1-1 2 0 1-1 1 1 1-1 1 0 1 0 1-3 2 1 1-1 1-1 1 0 1 1 2-3 1 2 1-2 1-1 1-1 1 0 2-1 1 0 1-1 1 0 1-1 2 0 1-2 1 1 1 0 1-1 2-2 1 1 1-1 1 0 1 0 2-1 1-1 1 0 1-1 1-1 2-1 1 1 1-1 1-1 1 1 2-1 1 0 1-1 1-1 2 0 1 0 1-2 1 0 1 1 2-1 1-1 1 0 1-2 2 1 1 0 1-1 1 0 1-1 2-1 1 0 1 0 1-1 2 0 1-1 1 1 1-2 2 1 1-1 1-1 1 1 1-1 2 0 1-2 1 1 1-1 2 0 1 0 1 0 1-2 2 1 1-1 1 0 1-1 2-1 1 0 1 1 1-2 2-1 1 2 1-2 1 0 2 0 1 0 1-1 2 0 1-1 1 0 1 2 2-2 1 0 1-2 1 0 2 0 1 1 1-2 1 1 2-1 1-1 1 1 1-1 2-1 1 1 1-2 1 1 2-1 1 2 1-2 1 1 2-1 1-1 1 0 2-2 1 0 1 1 1 0 2 0 1-2 1-1 1 1 2-1 1 0 1 0 1-1 2 0 1 0 1 1 2-2 1 0 1 0 1 0 2-1 1 0 1 0 1-1 2 0 1 1 1-1 2-3 1 3 1-1 1-1 2 1 1 0 1-1 1-1 2-1 1 2 1-3 2 2 1-1 1 0 1-1 2 0 1 0 1-1 1 2 2-2 1 1 1-1 2 0 1 0 1-1 1 1 2-1 1-1 1 1 2-1 1 0 1-1 1 0 2 0 1 0 1-2 1 1 2-1 1 0 1-1 1-1 2 0 1 0 1 2 1-3 2 1 1-1 1 0 1 0 2 0 1 0 1-1 1-1 2 0 1-1 1-1 1 2 2-3 1 0 1 0 1 0 2-1 1 0 1-1 1 1 1-1 2-1 1 0 1-2 1 2 2-1 1-2 1 0 1 0 1-2 2 0 1 1 1 0 1-1 1-1 1-1 2-1 1 0 1-1 1 0 1-1 2 0 1 0 1-3 1 1 1 0 1 0 2-1 1 0 1-3 1 1 1-1 1 0 2-1 1-1 1 0 1-1 1 0 1-2 2 0 1 0 1 0 1-1 1-2 1 0 2 1 1-1 1-1 1-1 1 1 1-2 2-1 1-1 1-2 1 2 1 1 1-3 2-1 1 2 1-3 1-2 1 1 1 0 1-2 2 0 1 0 1-1 1 1 1-2 1 0 1 0 1-3 2 1 1-2 1 0 1-1 1 1 1-1 1-3 1-1 1-1 2 0 1-1 1 1 1-2 1 3 1-1 1 1 1-4 1 0 2-2 1 1 1-1 1-2 1 0 1 2 1-1 1-4 1-4 2-3 1 5 1-1 1 0 1 0 1-1 1-3 1 0 1 3 1 1 2-5 1 0 1 0 1-1 1-2 1 0 1 2 1-5 1 2 1-4 2 2 1-1 1-1 1 0 1-5 1 1 1 0 1 1 2-1 1-2 1 1 1 0 1 3 1-5 1 0 1-1 2-2 1-1 1 2 1-3 1-1 1 1 1 2 2-6 1 1 1 1 1 0 1 1 1 0 2-5 1 2 1 1 1-2 1-4 1 0 2 1 1 1 1-5 1 4 1-4 2 2 1 0 1-1 1 1 2-3 1 0 1 2 1-4 2 0 1-2 1 5 1-5 2 3 1-2 1 1 1-2 2 0 1 2 1-2 1-3 2 2 1-3 1 3 2 1 1-2 1 3 1 0 2-4 1 2 1-2 2 0 1-1 1 1 1-3 2 2 1-2 1 5 2-4 1 1 1-3 2 1 1 2 1-5 1 5 2-2 1 5 1-3 2 1 1-1 1 1 2-4 1 5 1-2 1-4 2 4 1-1 1 3 2-3 1 0 1 1 2-1 1 4 1-3 1-2 2 2 1-1 1 4 2-5 1-2 1 8 2-4 1 2 1-2 1-1 2 3 1-1 1-1 2-3 1 5 1 2 1 0 2-5 1 6 1-6 2 2 1 2 1 0 2-2 1 2 1 1 1 0 2 1 1 1 1-1 1-2 2 3 1-1 1-1 2-3 1 5 1 1 1 1 2-4 1 2 1-3 2 4 1 1 1-2 1 3 2 1 1 0 1-4 2 3 1 2 1-2 1-1 2 1 1 2 1-2 2-3 1 6 1 4 1-4 2 2 1-2 1-1 2-1 1 3 1-1 1 2 2-1 1 1 1-5 1 5 2 1 1 0 1 2 2-3 1 2 1-5 1 6 2 0 1-3 1-3 2 3 1 2 1 4 1-6 2 4 1 0 1 0 2-2 1 3 1-4 1-1 2 4 1-2 1-2 2 7 1 0 1-1 1-3 2 1 1-2 1 4 2-1 1 1 1 4 2-5 1 1 1-3 1 7 2 0 1-8 1 0 2 9 1 1 1-2 1 1 2-6 1 4 1 2 2-3 1-1 1 2 1-2 2 7 1-5 1-1 2-3 1 8 1-3 2 2 1-2 1 1 1 0 2-2 1 3 1-3 2 3 1 0 1 1 2-4 1 9 1-6 1-3 2-1 1 4 1 0 2 2 1-5 1 3 1 2 2 1 1-7 1 3 2 0 1 2 1-1 2 2 1-3 1 4 1-5 2 4 1 5 1-8 2 8 1-2 1-4 2 3 1 0 1-4 1-3 2 5 1-3 1 5 2-6 1 10 1 1 2-8 1-3 1 6 1-2 2 1 1-4 1 0 2 6 1-5 1-2 2 7 1 0 1-2 1-2 2 7 1-5 1 2 2-5 1 0 1 4 2 4 1-7 1 1 2 1 1 4 1-3 1 1 2 1 1 0 1 2 2-8 1 5 1 0 2-5 1 4 1 0 1-1 2-1 1 5 1-3 2-1 1 1 1-2 2 2 1 1 1-4 1 2 2 0 1 1 1-2 2 1 1-1 1-1 2 1 1-3 1 6 1-1 2-3 1 0 1 0 2-1 1 0 1 5 2-3 1 4 1-2 2 0 1-4 1 8 1-5 2-6 1 5 1 0 2 2 1-4 1 3 2-1 1 4 1-4 1 2 2 1 1-5 1 3 2 0 1 4 1-3 2-3 1 6 1-6 1 1 2 1 1 1 1-3 2 1 1-1 1 2 2-3 1 1 1-3 1 9 2-4 1 2 1-5 2-3 1 0"/>
<path d="M1570 471l0 35-2-25-1-1 0 7-1-5-1 4-1 1 0 1-1 1-1 2-1 6 0-2-1-1-1-2-1 7 0 1-1-3-1 3-1-5-1 4 0 5-1-5-1 6-1 2-1-4-1 4 0 4-1 3-1-4-1 4-1-4-1 1-1 4-1 1-1 0-1 3-1 0-1 2-1 0-1-1-1 1-1 0-1 2-1 2-1 1-1 1-1 0-1 1-1-3-1 2-1 0-1 1-1-3-1 7-2-3-1 1-1 1-1 5-1-2-1 3-2-2-1 2-1 0-1-1-1 1-1-3-2 2-1 2-1-4-1 6-1 0-1-1-2 4-1 0-1 2-1-1-1 1-1 1-1-3-1 3-1 0-2 2-1 0-1 2-1-1-1-1-2 3-1-5-1 2-1 6-1-5-1 4-2-2-1 4-1 0-1 2-1 0-1 1-2-3-1 5-1-3-1 3-1-2-2 3-1-1-1 0-1 2-2-1-1 0-1 3-1-1-2 0-1-1-1 4-1-4-2 2-1-2-1 1-1 2-2 1-1-1-1 2-1-4-2 7-1-2-1 0-1-2-2 4-1-3-1 1-1 1-2 1-1 0-1-2-1 0-2 5-1-1-1 0-2 0-1 0-1-3-1 3-2 2-1-1-1 1-1 0-2-1-1 0-1 1-2 2-1-4-1 5-1-5-2 7-1-3-1 1-1-1-2 3-1-2-1 3-1 2-1-3-2-1-1 3-1-2-1 1-2 2-1 2-1-3-1 3-1 0-2 0-1 1-1 0-1 0-1-2-2-1-1 5-1 1-1-2-2 1-1 3-1 0-1-4-2 4-1-1-1 2-1-1-2-1-1 5-1-6-1 2-2 4-1-2-1 1-1-1-1 3-2-2-1 0-1 0-1 4-2-1-1 1-1 0-1 0-1-1-2 3-1 1-1-3-1 2-2 0-1-2-1 4-1 1-1 0-2 1-1 0-1 2-1 0-1 1-2-2-1 2-1 0-1-1-1 3-2-3-1 1-1 4-1 0-1-3-2 3-1 1-1-1-1 0-1 1-2 2-1 3-1-1-1-2-1 3-2 2-1-3-1-1-1 4-1-2-2 2-1 1-1-1-1 1-1 2-2 0-1 0-1 2-1-1-1-1-1 5-2-2-1 1-1 1-1-1-1-1-1 0-2 2-1 3-1 0-1 0-1-1-2 0-1 2-1-2-1 2-1 3-1-1-2-1-1 3-1 1-1 0-1-2-1 4-1-1-2 2-1 1-1 0-1 2-1 0-1-1-2 0-1 4-1 2-1-4-1 2-1 1-1 1-1-3-2 4-1 0-1 1-1 0-1 3-1-2-1 4-2 0-1-2-1 3-1 0-1-1-1-2-1 3-1 2-2 4-1-1-1 0-1 0-1 1-1-2-1 1-1 0-1 1-2 2-1 4-1-5-1 4-1 0-1-3-1 4-1-3-1 7-1 0-2-2-1 1-1 1-1 0-1 3-1-2-1 2-1-1-1 5-1-1-1 2-1-3-2-2-1 7-1 0-1 2-1-2-1 2-1 2-1-3-1-2-1 6-2 0-1-1-1-1-1 7-1-2-1 0-1-1-1 1-1 3-1-2-1 6-1-3-1 4-1-1-1-2-1 7-1-3-1-1-1 4-2 0-1 0-1-4-1 2-1 6-1-2-1 3-1-2-1 3-1-4-1 5-1 4-1-2-1 0-1 1-1 1-1 5-1-3-1 2-1-2-1 4-1 0-1-2-1-1-1 4-1 4-1-3-1 1-1 5-1-2-1-4-1 10-1-3-1-1-1 2-1 2 0-1-1 6-1-2-1 1-1 0-1-1-1 3-1 5-1-5-1 2-1 2-1-2-1 5-1-4-1 4-1-2-1 3-1 0-1 8-1-6-1 4-1-2-1 5-1-2-1-3-1 1-1 5-1 1-1-3-1 5-1 0-1 2-1-2-1 3-1 0-1 3-1 2-1 3-1-8-1 5-1-2-1 0-1 0-1 3-1 3-2 0-1 1-1 1-1 2-1-1-1 2-1 0-1-1-1-1-1 0-1 6-1-3-1 5-1-2-1 0-1 2-2 1-1 5-1-5-1 1-1 2-1 3-1-2-1-1-2 3-1 1-1 1-1-4-1 5-1 0-1 2-2-2-1 2-1-1-1 6-1-8-2 2-1 1-1-5-1 6-1 6-2-2-1 1-1-2-1-1-2 2-1-3-1 0-1 7-2-3-1 4-1-6-1 4-2-4-1 8-1-3-1-3-2 1-1 5-1-5-2 2-1 1-1-2-1 6-2 1-1-5-1 2-1 2-2 0-1 0-1-4-1 3-2-3-1 3-1 2-2 1-1-7-1 6-1-4-2 5-1 0-1 0-2 2-1-2-1-2-2 1-1 2-1-5-1 4-2 1-1-3-1 6-2 0-1-2-1-1-1 0-2 2-1 0-1 1-2-4-1 4-1 1-1-5-2 3-1 0-1-1-2 3-1-2-1 2-2-1-1 1-1-2-1-1-2 4-1-2-1 2-2-3-1 0-1 4-1-2-2 0-1 2-1-2-2 1-1 1-1-4-2 5-1-2-1 0-1 0-2-1-1-2-1 4-2-1-1 5-1 0-1-4-2 2-1 2-1-2-2-1-1 0-1-1-1 4-2 0-1-1-1 0-2 4-1-3-1 2-1-5-2 1-1 0-1 4-2-3-1 4-1-2-1 2-2-3-1 3-1-2-2 1-1-2-1-2-1 2-2 4-1 0-1-4-1 1-2 0-1 5-1-3-2 0-1 3-1-2-1 3-2 1-1-3-1-2-1 4-2 5-1-7-1 6-1-4-2 0-1 5-1-4-1-3-2 2-1 1-1 1-2 5-1-1-1-1-1 1-2-2-1-2-1 4-1 0-2 3-1-1-1 2-1-3-2 0-1 0-1-1-1 5-2-2-1-2-1 1-2 6-1 2-1-2-1-3-2 4-1-4-1-2-1 3-2-2-1 2-1 6-1-3-2-1-1 2-1-3-1 2-2-2-1-1-1 3-1-1-2-2-1 4-1-1-1 1-2 6-1-2-1 1-1-2-2-1-1 0-1 7-1-10-1 6-2 2-1-4-1 7-1-4-1 2-2 4-1-1-1-2-1 1-1 4-2 2-1-3-1-5-1 4-1 4-2-3-1 1-1-1-1 2-1 4-1-1-2-3-1 6-1-6-1 6-2 0-1-4-1-1-1 7-1 0-2-1-1-2-1 4-1-4-1 6-2 3-1-5-1 4-1-4-1 3-2-1-1 2-1-1-1-3-1 7-2-5-1 6-1-5-1 6-1-1-2-1-1 4-1-2-1 4-1-1-1 1-2-7-1 9-1-3-1 0-1-1-1 2-2 1-1 2-1 0-1 0-1 2-1 2-1-3-2 1-1 4-1-1-1-2-1 4-1 0-1 5-2-2-1 0-1-1-1-2-1 3-1 0-1 1-2 4-1-5-1 7-1-6-1 0-1 6-1-2-1 0-2 3-1-2-1 2-1 0-1 2-1-2-1 4-2-2-1 2-1-4-1 6-1-2-1 2-1 0-2 0-1 0-1 5-1-3-1 2-1 0-1 0-2 4-1-3-1 3-1-2-1-1-1 1-1 5-2-5-1 1-1 3-1 3-1-2-1 5-1-3-2 1-1 5-1-2-1-2-1 1-1 4-1 1-1-3-2 1-1 4-1-4-1 4-1 0-1 0-1-1-1-3-1 6-2-2-1 4-1-1-1 1-1 5-1-1-1-3-1 5-1-2-1-2-1 4-2 1-1 3-1 0-1 1-1-3-1 2-1-3-1 5-1 0-1-4-1 7-1 1-1-4-2-1-1 5-1 2-1 0-1 4-1 3-1-4-1 0-1 0-1 6-2-4-1 2-1 2-1 1-1-1-1 4-1-2-1 0-1-3-1 3-1 1-2 3-1-3-1 3-1 0-1-5-1 7-1 4-1-6-1 6-1-5-2 3-1 1-1 4-1-2-1 1-1 3-1 0-1-1-1 2-1 3-2-2-1-3-1 4-1-3-1 9-1-4-1-4-1 4-1 3-1 1-2-1-1 0-1-1-1 5-1 2-1-2-1 1-1 0-1-1-1 2-1 2-1 1-1 1-2-2-1 4-1-3-1 6-1-3-1 2-1-2-1 3-1-1-1 3-1-4-1 8-1-2-1 2-1-1-1 3-1-2-1 0-1 2-1-2-2-10 0-209 2-10 0-1 0-2 1-1 0-3 0-2 1-1 0-3 0-1 0 1 0-2 1 0 0-3 0-1 0-3 1 0 0-2 0-1 1-1 0-2 0-2 1 0 0-2 0-2 1 0 0-2 1-3 0-1 1-3 1-1 0-1 0-2 1-1 0-2 1 0 0-2 1-1 0-2 1 0 0-1 0-3 1 1 0-2 1-2 0-2 1 2 0-3 1-2 0-2 1 1 0-3 1 0 1-2 0-1 1-1 0-1 1 0 0-2 1-1 0-2 1 0 1-2 1-2 0-1 1-2 1 0 0-2 1-1 0-1 1-1 1-3 0 1 1-2 1-1 0-1 1 1 1-3 0-2 1 0 1-2 0-1 1-1 1 0 0-1 1-2 1-2 1-1 1-3 1 1 1-4 0-1 1-1 1 1 0-2 1-1 1-1 0-2 1-2 1 0 0-2 1 0 1-1 0-1 1-1 1-1 0-3 1 0 1 0 0-3 1 0 1-1 0-1 1-2 1-1 1-2 1 0 1-2 1-1 1 0 0-1 1-3 1 0 1 0 1-2 1-1 0-1 1 0 1-2 1-1 1-3 1 2 1-1 0-2 1 0 1-1 1-1 1-1 1-1 1 1 1-2 1-3 1-1 1 0 1 0 0-2 1-1 1 1 1-4 1 0 1 0 1-1 1 0 1-2 1 1 1-2 1-1 1-1 1-2 1 0 1-1 1 0 1-2 1 0 1-1 1-1 1-2 1 0 1 0 1 0 1-3 1 1 1 0 1-2 1-1 2-2 1-1 1 0 1 0 1 0 1 0 1-3 1 0 1 0 1-1 1-1 1-1 1-2 1-1 1 1 1 0 1-1 2-1 1 0 1-1 1-2 1 0 1-3 1 2 1-1 1-1 1 0 1-2 2 0 1-1 1 1 1-3 1 0 1 0 1 0 1-2 1-2 2 0 1 0 1 0 1-2 1 1 1-2 1-1 1 0 2-1 1-1 1 0 1-2 1 1 1-2 1 1 1-2 2 1 1-1 1-1 1-1 1-1 1 0 1 0 1-1 2-1 1 0 1-1 1-1 1 0 1-1 1 0 2 0 1-2 1-1 1 1 1-2 1 0 2-1 1 0 1-2 1 0 1 0 2-1 1 0 1 0 1-1 1-1 1-2 2 1 1 1 1-1 1-1 1 0 2-1 1-2 1 0 1 0 1 0 2 0 1-1 1 0 1-2 1 0 2-1 1-1 1 1 1-1 1 0 2-1 1 0 1-2 1 0 1 0 2 0 1-1 1-1 1 1 2-2 1 1 1-2 1 1 1-1 2-1 1 0 1-2 1 3 2-2 1 0 1-1 1-1 1 0 2 0 1-1 1-1 1 1 2 0 1 0 1-1 1-1 2-1 1 0 1-2 1 2 2 0 1-4 1 2 1-1 2 0 1-1 1 1 1-2 2 1 1 0 1 0 1-2 2 0 1 0 1 1 1-2 2 1 1-1 1 0 1-2 2-1 1 1 1-1 1 0 2 1 1 0 1-2 1 0 2 1 1-1 1 0 1-1 2 0 1 0 1-1 1-1 2 1 1-2 1 1 1 0 2 1 1-2 1 0 2-1 1 0 1-2 1 0 2 1 1 0 1-1 1 0 2-1 1 2 1-2 1 1 2-2 1 0 1 0 1 0 2 0 1 0 1-1 2 0 1-1 1 0 1-1 2 2 1-2 1-1 1 0 2 0 1-1 1 1 2 0 1-1 1 1 1-1 2-1 1 0 1-1 1 1 2-2 1 1 1-1 2-1 1 1 1 0 1 0 2-1 1-1 1 1 1 0 2-3 1 1 1 0 2 0 1 0 1 1 1-1 2-1 1 0 1-1 2 0 1 0 1 0 1-1 2 1 1-1 1-1 1 1 2 0 1-1 1 0 1 0 2 0 1-1 1-1 1 0 2-1 1 0 1 0 2 0 1-1 1 0 1-2 2 1 1-1 1 1 1 0 2-2 1 1 1-1 1 0 1-1 2 0 1-2 1 2 1 0 2-2 1 0 1-1 1 0 2-1 1-2 1 2 1 0 1 0 2-2 1 0 1 0 1-3 1 2 2-2 1 2 1-2 1 0 1-2 2-2 1 3 1-1 1-1 1-1 2 0 1-2 1 0 1 1 1-1 2 0 1-2 1 0 1 0 1-1 1-2 2 0 1 0 1 0 1 1 1-2 1 0 2-2 1-1 1 0 1-1 1 0 1 0 2-1 1-1 1-2 1 1 1 0 2 0 1-1 1 0 1-1 1 0 1-2 2 0 1 0 1-2 1-1 1 0 1 0 2 1 1-3 1-1 1 0 1 1 1-4 2 2 1 0 1-2 1-1 1-1 1-1 1 1 1 1 2-1 1-3 1-2 1 0 1 3 1-5 1 3 1-2 2 1 1-1 1-3 1 1 1-2 1-2 1 1 2 0 1-3 1 1 1 1 1-2 1-3 1 5 1-5 2 3 1-2 1 1 1-3 1-3 1 4 1-5 1-2 2-1 1 4 1-3 1 0 1-3 1 6 1-3 1 0 2-2 1 1 1-4 1 3 1-3 1-2 1 2 1-1 2-1 1-5 1 1 1-1 1 0 1 1 1-2 2 1 1-3 1 1 1 1 1 1 1 1 2-4 1-1 1 2 1-7 1 1 1 3 2 0 1 1 1-1 1-1 1-2 1-2 2 2 1-7 1 3 1-3 1 2 2-6 1 6 1-1 1 2 1-6 2 2 1 2 1-6 1 3 2-4 1 7 1-6 1 2 2 0 1-5 1 3 1-3 2 4 1 2 1-8 1 4 2-3 1 3 1 0 2 1 1-1 1-5 1 1 2 2 1 1 1-3 2 1 1 1 1 0 1 1 2-4 1 3 1-1 2 0 1-1 1-1 1 4 2-4 1 2 1-1 2-2 1 2 1 0 2 3 1-5 1 3 1-1 2 1 1-3 1 2 2-3 1 3 1 1 2 1 1-7 1 3 1 2 2-4 1 8 1-4 2-4 1 10 1-6 2-4 1 2 1 0 1 2 2 3 1-4 1 0 2 1 1 1 1 0 2-3 1 4 1-3 1 0 2 7 1-9 1 4 2-2 1 4 1-1 2-2 1 1 1 0 1 2 2-4 1 4 1 1 2-1 1-1 1 3 1 0 2-1 1 0 1 2 2 0 1-4 1 0 1 2 2 0 1 0 1 1 2 4 1-3 1 1 1 1 2-3 1 1 1-3 2 3 1 3 1-2 1 0 2 4 1 1 1-3 2-2 1-1 1 3 1-2 2 2 1 0 1 1 2-1 1 4 1-3 1 4 2-4 1 5 1-6 2 3 1-1 1-1 1 7 2-4 1-2 1-1 2 4 1 1 1-1 1-2 2 1 1-2 1 2 2 1 1 2 1 0 1-4 2-1 1 8 1-3 2-2 1 2 1-2 1 1 2-4 1 4 1 5 2-2 1-2 1 1 1 2 2 1 1-5 1 2 2 1 1 2 1-3 1 2 2 1 1-1 1 1 2 2 1-6 1 3 2 1 1 4 1-9 1 3 2-2 1 1 1 4 2-3 1 2 1 0 1 0 2 3 1-1 1-3 2 1 1 2 1-2 2 3 1-1 1-2 1 1 2-2 1 4 1-2 2 0 1 1 1 6 2-3 1-4 1-1 1 5 2-4 1 5 1-4 2 4 1 3 1-6 2 2 1 1 1 4 1 0 2-8 1 6 1-1 2-2 1 1 1-4 1 1 2 2 1-3 1 4 2 0 1 3 1-6 2 6 1-2 1 0 1-1 2 0 1-2 1 0 2 5 1-9 1 9 2-2 1 0 1 2 1-2 2 0 1 1 1-2 2 3 1 0 1-3 2 2 1-4 1 3 1 0 2-4 1 4 1 1 2-4 1-1 1 4 2-2 1-1 1 3 2-3 1 3 1 2 1-2 2 0 1-3 1 6 2-4 1 5 1-6 2 1 1-3 1 4 1-4 2 3 1 5 1-3 2-5 1 5 1-5 2 2 1 0 1 0 1 1 2-6 1 8 1-3 2-2 1 3 1 3 2-6 1 4 1-2 1 1 2-2 1 2 1 1 2-6 1 2 1 1 2 0 1-3 1 3 1-2 2 4 1-1 1 0 2 1 1-2 1-2 2 5 1-3 1-1 1 6 2-8 1 6 1 1 2-4 1-1 1 2 2-3 1-3 1 8 1 1 2-7 1 5 1-1 2-1 1 2 1-3 2 0 1 1 1 1 1-7 2 9 1-2 1 2 2-4 1-2"/>
<path d="M1570 466l-2 16-1 3 0-2-1 1-1 3-1 2-1 0-1 3-1-3 0 4-1-3-1 9-1-6 0 8-1 0-1 1-1 1-1-2 0 2-1 4-1-4-1 3-1 3-1-2 0 5-1-4-1 1-1 3-1-1-1 2-1 2-1 0-1 2-1 1-1 1-1 0-1 1-1 1-1 1-1 2-1 2-1-3-1 5-1-1-1 1-1-2-1 2-1 1-1 0-1 2-1-3-2 2-1 4-1-1-1-3-1 5-1 0-1 2-2-2-1 1-1-2-1 3-1 0-2 2-1-5-1 5-1 3-1-7-1 7-1 0-2 0-1 1-1-1-1 4-1-1-1-3-1 6-1-3-2 0-1 4-1-1-1 1-1 1-1 0-2 1-1-3-1 7-1-1-1-3-2 2-1 4-1-4-1-1-1 8-1-1-2-2-1 3-1-1-1 1-1 0-2 1-1-3-1 2-1 1-2-2-1 0-1 2-1 4-2-3-1 3-1 0-1 1-2-1-1-5-1 0-2 2-1 2-1 0-1 0-2 0-1 2-1-3-2 4-1 0-1-4-1 4-2 0-1 1-1 0-1-4-2 7-1-3-1 2-2 0-1-3-1 2-1 0-2 4-1-6-1 6-2-1-1-2-1-1-1 2-2 2-1-3-1 2-1 1-2 1-1-1-1 1-1 1-2-4-1 2-1 0-1 1-2 3-1 0-1 0-1-1-2 3-1-4-1 1-1 4-1-1-2 2-1 1-1 0-1-2-2 1-1-1-1 3-1 0-1 0-2 1-1 1-1 1-1-2-1 1-2 1-1 2-1 2-1-1-2-5-1 2-1 2-1-2-1 5-2-2-1 0-1 2-1 1-2 0-1 1-1 1-1-2-1 2-2-2-1 1-1 4-1-2-2 0-1 3-1-1-1 2-1 2-2 1-1-3-1 1-1-1-1 4-2-1-1 4-1-5-1 2-1-4-2 4-1 0-1 2-1 2-1-3-2 2-1 2-1-1-1 2-1 1-2-2-1 2-1 1-1-1-1 3-2-2-1 2-1 0-1 1-1-2-2 3-1-3-1 4-1-1-1 1-2 2-1-3-1 4-1-1-1 0-2 2-1-1-1 4-1-3-1 3-2 1-1-1-1-1-1 1-1-1-1 1-2 1-1 2-1-2-1 3-1-1-2 3-1 0-1-1-1 2-1 0-1 0-2 1-1 0-1 0-1 0-1 3-1-3-2 4-1 1-1-1-1 2-1-1-1 3-2 4-1-4-1 0-1 1-1-2-1 2-1 1-2 0-1 2-1 2-1-3-1 2-1 2-1-2-2 1-1 3-1 1-1 0-1-1-1 3-1 1-2-2-1 2-1 0-1 1-1 0-1 2-1-1-2 4-1-1-1-1-1 5-1-3-1-3-1 6-1 0-2 0-1 1-1-1-1 0-1 1-1 6-1-4-1 2-1 3-2-3-1 1-1 1-1-2-1 5-1 1-1-1-1 0-1 3-1 1-1 3-2-2-1 1-1-2-1-1-1 6-1-4-1 4-1 0-2-2-1 3-1 4-1 0-1-3-1 1-1-3-1 3-1 2-1 1-1 2-2-1-1 4-1-3-1 4-1-3-1 2-1 2-1 2-1-3-1 2-1 1-1 2-1 3-1-1-1-1-1 1-2 4-1 1-1 0-1-2-1-1-1 1-1 3-1-2-1 3-1 6-1-3-1 2-1-4-1 7-1-4-1 2-1 1-1 1-1-1-1 4-1 4-1-5-1 4-1-4-1 4-1-1-1 6-1-4-1 3-1 0-1-2-1 4-1 0-1 3-1-1-1-3-1 3-1 2-1 3-1-1-1 4-1-2-1 2-1 2-1-1-1-3-1 7-1-2 0 3-1-7-1 7-1 1-1 0-1 1-1-1-1 1-1 4-1-1-1 3-1 0-1-1-1 2-1 0-1 3-1 3-1-3-2 0-1 7-1-5-1 0-1 1-1-3-1 9-1 0-1 1-1-1-1-1-1 0-1 0-1 5-1 1-1 0-1-3-2 7-1-5-1 2-1 1-1 0-1-4-1 3-1 3-1 4-1-3-2 3-1-3-1 2-1 5-1 2-1-3-1 1-2 0-1 0-1 1-1 2-1-3-1 0-2 4-1-2-1 3-1-3-1 3-2-1-1 0-1 4-1-3-1-4-2 3-1 3-1 5-1-4-2-2-1 2-1 4-1-1-2 1-1 0-1 3-1-7-2 7-1-1-1-4-1 5-2 1-1-3-1 3-2-7-1 2-1 5-1-1-2 2-1 0-1 1-1-5-2 0-1 7-1-2-1 0-2-1-1 5-1-5-2 2-1 3-1-4-1 0-2 1-1-4-1 7-2 0-1 2-1-4-1 2-2 0-1 3-1-3-2 0-1-2-1 3-2-1-1 3-1-1-1-4-2 0-1 4-1-2-2 2-1 2-1-6-1 4-2-3-1 3-1 0-2-2-1-3-1 5-1-2-2 3-1 0-1 2-2 0-1-6-1 1-2 2-1 2-1 1-1-2-2 2-1-3-1 5-2-3-1 0-1 0-1 2-2 3-1-3-1 2-2-3-1 3-1 1-1 0-2-4-1 0-1 3-2 1-1-3-1 3-1 3-2-8-1 2-1 2-2 2-1-1-1 2-1 2-2-4-1-1-1 6-2-7-1 6-1 1-1-2-2-2-1 2-1-1-2 6-1-3-1-1-1 1-2 1-1 1-1-1-1-2-2 1-1-1-1-1-1 4-2-1-1 1-1 2-2 1-1-1-1-2-1 4-2-3-1 5-1-4-1 4-2-5-1 5-1-1-1-1-2 4-1-1-1-1-1 0-2 2-1-1-1-2-1 1-2 1-1-2-1-1-2 7-1-3-1 7-1-5-2 2-1 0-1-1-1-1-2-2-1 1-1 0-1 0-2 0-1 4-1-4-1 8-2-5-1 3-1 0-1 1-2-1-1 0-1 1-1 2-2 0-1-1-1-3-2 1-1 3-1 3-1 1-2-4-1 2-1-2-1 0-1 3-2 1-1 0-1-6-1 9-2-7-1 8-1 1-1 5-1-11-2 3-1 2-1 1-1-1-1 4-2-3-1 1-1 1-1 2-1 0-2-4-1 6-1-4-1 1-1 1-2 1-1 3-1 0-1-4-1 4-2 3-1 0-1-1-1-2-1 4-2-1-1-3-1-2-1 8-1 2-2 2-1-1-1-1-1-1-1 1-2 2-1-4-1 3-1 0-1 3-2 0-1-6-1 2-1 4-1 2-2-3-1 3-1 0-1-1-1 1-2 2-1 3-1-4-1 4-1-1-1-1-2 1-1-1-1 3-1 2-1-1-1-3-2 5-1 0-1 0-1 4-1-4-1 2-1 2-2 3-1-5-1 4-1-5-1 4-1 1-1-1-1 5-2-1-1-1-1 2-1-1-1 2-1 0-1 5-2-5-1 4-1 2-1-2-1 2-1 4-1-6-2 0-1 5-1-1-1 4-1-4-1 2-1 2-2-6-1 9-1-2-1-2-1 1-1 1-1 5-1-4-2 6-1-4-1 3-1-1-1 1-1 3-1-2-2 0-1 4-1 3-1-5-1 1-1 0-1-2-2 3-1 3-1-2-1 3-1 0-1 2-1 3-2-4-1-2-1 4-1 2-1 3-1-3-1-1-2 0-1 4-1-1-1 3-1 2-1-3-1 2-1 0-1 2-2-4-1 2-1 6-1-6-1 2-1 4-1-3-1 2-1 0-1 6-1-3-1 5-2-3-1-3-1 5-1-4-1 7-1-7-1 9-1-1-1 3-1-2-1 1-1-1-1 0-2 1-1 1-1 1-1 7-1-4-1-2-1 6-1-3-1-1-1 3-1-1-2 3-1-1-1 4-1-5-1 4-1-2-1 8-1-7-1 8-1-4-1 4-2-4-1 2-1 5-1-6-1 5-1-4-1 9-1-2-1-6-1 4-2 4-1 4-1-5-1-3-1 8-1-4-1 2-1 0-1-2-1-1-2 10-1-3-1 0-1-1-1 3-1-2-1 0-1 0-1 1-1 5-2-4-1 9-1-4-1 0-1 1-1 5-1-9-1 7-1 5-1-1-1-1-1-1-1 7-2-6-1 6-1-6-1 0-1 4-1 0-1-4-1 7-1 6-1-5-1 2-1 0-1 1-1 1-1 1-1 0-1 2-1 1-1 0-1-3-2-10 0-212 2-10 0-1 1-2 0-2 0-2 0-2 1 0 0-1 0-2 0-2 0-1 1-2 0-1 0-3 1 0 0-1 0-1 0-2 1-1 0-2 1-2 0-1 0-2 1-1 0-2 1-1 0-2 1 0 0-2 0-2 1 0 0-2 1 0 0-3 1-3 1-2 0-2 1 1 0-2 1 0 0-3 1-1 1-2 0-1 1-2 0-1 1-2 1-1 0-1 1-1 0-2 1-1 1-1 1-3 1-2 0-2 1 0 1 0 0-2 1-2 1-1 1-2 1-3 1-1 0-1 1-1 1 0 0-1 1-3 1 1 0-1 1-2 1-2 0-1 1-1 1-2 1-2 1 0 0-1 1-1 1-1 0-1 1-2 1-1 0-1 1 0 1-3 0-1 1-1 1-1 0-1 1-1 1-2 1-1 0-1 1-1 1-1 0-4 1 2 1-3 1 1 0-3 1 0 1-2 0-1 1 0 1-1 1-1 0-1 1-1 1 0 1-4 0 1 1-2 1-1 1-1 1 0 1-1 0-1 1-2 1-2 1 0 1-1 1-1 1 0 1 0 0-2 1-1 1-2 1-1 1 1 1-2 1-1 1-2 1 0 1 0 1-1 1-2 1 0 1-2 1-1 0 1 1-1 1-2 1-1 1 0 1-2 1 0 1-2 1-1 1 0 1-2 1 0 1-1 1 0 1-1 2-2 1 0 1-1 1 1 1-1 1-1 1-1 1 0 1-2 1-1 1 0 1-1 1-2 1 1 1-2 1 1 1-1 1-2 1-1 1 0 1-2 1-1 1 0 2 0 1-2 1 0 1 0 1-2 1-1 1 0 1-1 1-1 1 0 1-2 2 0 1 0 1-1 1 0 1-1 1 0 1-1 1-1 1-1 2-1 1 0 1-1 1 0 1-2 1 0 1-1 1 1 2-2 1 1 1-2 1 0 1-1 1 0 1-1 1-1 2-1 1 1 1-3 1 1 1-2 1 0 1 0 2-1 1-1 1-1 1-1 1 0 1 0 1-2 2 2 1-2 1-1 1 0 1 0 1-1 1-2 2 0 1 0 1-1 1-2 1 1 1 0 2-2 1-1 1 0 1 0 1-1 2 0 1-3 1 1 1 0 1 0 1 0 2-2 1 1 1 0 1-1 1-2 2 1 1-2 1 0 1-1 1-1 2 0 1 1 1-1 1-1 1-1 2 0 1-1 1 0 1 1 2-2 1 1 1-1 1-2 1 1 2-1 1 0 1-1 1 0 1-1 2 0 1 0 1-2 1-1 2 0 1 1 1 0 1-3 1 1 2 0 1-2 1-1 1 2 2-1 1-1 1 0 1-2 2 1 1 0 1-1 1 1 1-2 2 0 1-1 1 0 1 0 2 0 1-2 1 0 1 0 2 0 1-1 1 1 1-3 2 1 1 1 1-3 1 2 2 0 1-1 1 0 1-2 2 0 1 1 1-1 1 1 2-1 1-1 1 0 1 0 2 0 1-2 1 1 2-2 1 1 1-1 1 1 2 0 1-1 1-2 1 0 2 1 1-1 1 0 1 0 2-1 1-1 1-1 1 2 2-1 1-1 1 0 2 1 1-2 1 1 1 0 2-1 1 0 1 0 1-2 2-1 1 1 1-1 1-1 2 2 1-2 1 0 2 1 1-2 1 1 1 1 2-2 1 0 1-2 1 1 2 1 1-1 1-1 2 1 1-1 1 1 1-2 2 0 1 0 1-2 1 2 2 0 1-2 1-1 2 1 1 0 1 1 1-2 2 0 1 0 1 1 2-2 1 0 1 0 1 1 2 0 1 0 1 0 1-1 2-1 1 0 1 0 2 0 1-2 1 1 1-1 2 1 1-1 1 0 2 0 1 0 1-1 1 1 2-1 1-1 1-1 1 1 2 0 1-3 1 1 2 0 1 1 1-2 1 2 2-2 1-1 1 1 1 0 2-1 1-1 1 1 1-1 2 0 1-1 1 0 1 3 2-4 1 0 1-2 1 1 2 0 1-1 1 0 1-1 2 1 1-1 1-1 1 0 2 0 1-1 1 1 1-2 1 0 2-1 1 0 1-1 1 0 2-1 1-1 1 0 1 1 1-2 2 1 1-2 1-1 1 0 1-1 2 1 1 0 1 0 1-3 1 0 1-1 2 0 1-1 1 1 1-2 1 0 1-3 2 2 1-1 1 2 1-2 1-2 2 1 1 0 1-1 1-1 1-3 2 1 1-1 1 1 1-3 1 0 2 0 1 0 1 0 1 1 1-1 1-2 2 0 1-4 1 4 1-4 1 0 1 0 1-2 2 1 1 1 1 0 1 0 1-2 1-3 1 1 2-3 1-3 1 4 1-2 1-1 1-2 1 5 1-4 2 1 1-2 1-1 1 0 1 1 1-6 1 2 1-1 2 1 1-3 1 1 1-2 1-1 1 2 1 0 1-2 2-4 1 1 1 2 1-3 1 2 1-2 1 2 2-6 1 2 1 1 1-2 1-4 1 0 1 0 1-2 2 1 1-1 1 0 1-1 1-1 1 3 1-1 2-3 1 3 1-1 1-4 1 4 1-1 1-2 2-3 1 1 1-3 1 3 1-3 2-3 1 0 1 0 1-1 1 2 1 1 2-2 1-2 1 0 1-1 1-2 1 3 2-3 1 2 1-4 1-1 1 2 2 5 1-6 1-2 1 4 1-3 2-2 1-2 1 4 1-3 2-1 1 0 1 3 1-1 2-4 1-3 1 7 1-3 2 4 1-4 1 0 1-1 2-1 1 1 1-1 1 3 2-4 1-1 1 3 2-4 1 1 1 0 1-3 2 4 1-2 1 2 2-1 1-4 1 0 2 1 1 1 1 0 1 0 2 1 1-4 1 2 2 4 1-3 1 0 1 1 2-4 1 3 1-1 2-1 1 2 1 2 2-2 1-1 1 3 1-2 2 3 1-1 1-3 2-1 1 0 1 3 2-4 1 7 1-10 2 6 1 1 1-4 1-2 2 3 1 0 1 3 2-2 1 1 1-1 2 4 1-4 1 0 1 1 2 6 1-13 1 2 2 4 1-1 1 2 1 2 2 0 1-2 1 0 2 1 1-1 1 6 2-2 1-2 1 2 1-3 2 2 1 0 1-2 2 2 1-1 1 3 1-4 2 2 1 2 1 2 2-1 1-1 1-3 1 2 2 1 1 0 1 1 2 2 1 1 1-4 1 0 2-2 1 4 1 1 2 2 1-4 1 0 2 0 1 7 1-1 1-5 2 2 1-2 1 1 2 6 1-5 1 0 1 1 2-3 1-1 1 0 2 6 1-3 1 0 1 4 2-4 1 1 1 0 2 2 1-1 1-3 1 6 2 1 1-2 1-1 2 1 1-3 1 2 1 4 2-2 1-4 1 1 2 2 1 4 1-2 2-1 1 2 1-3 1 3 2-2 1-2 1 5 2-5 1 3 1 3 1-5 2 6 1 0 1-1 2-2 1 0 1 0 2 1 1-2 1 3 1 3 2-7 1 7 1-6 2 1 1 1 1 1 1 1 2 3 1-2 1 1 2-4 1 3 1-6 2 2 1 9 1-6 1 2 2 1 1-1 1-5 2 4 1 6 1-4 2-3 1 1 1-1 1 2 2 0 1-1 1-1 2-3 1 6 1-1 2 1 1 2 1-4 1 4 2-3 1 3 1-1 2-3 1 4 1-1 2-1 1 0 1 0 1-2 2-1 1 3 1 3 2-3 1 2 1-6 2 9 1-4 1-1 1 1 2 1 1-1 1 1 2-4 1 5 1-2 2-3 1 5 1-2 1 4 2-5 1 5 1-2 2-4 1 5 1-1 2 1 1-4 1-5 1 5 2 2 1 2 1 1 2 0 1-2 1-1 2-2 1 3 1-3 1 2 2-2 1 3 1-3 2-1 1 1 1 3 2-3 1 4 1-6 2 4 1-2 1-2 1 3 2 1 1 0 1-2 2-2 1 1 1 0 2 7 1-9 1 3 1 6 2-9 1 8 1-1 2-1 1-1 1-6 2 4 1 0 1 3 1 0 2-6 1-3 1 4 2 7 1-5 1 0 2 2 1-3 1 2 1-3 2 0 1 3 1-1 2 2 1-2 1 2 2-1 1-1 1 2 1-2 2-4 1 1 1 2 2 3 1-4 1 0 2 4 1 1 1-8 1 1 2 2 1 1 1-2 2-2 1 10 1-5 2 3 1-2 1-1 1-6 2 5 1 0 1 0 2-3 1-1"/>
<path d="M1570 455l-2 29-1-3 0 4-1 1-1 1-1 0 0 5-1-2-1 3-1 2 0-2-1 2-1 0-1 5 0-3-1 0-1 6-1-6-1 9 0-1-1 1-1 1-1 0-1 2-1-5 0 5-1-1-1 0-1 2-1 3-1 2-1-1-1 0-1 6-1-1-1-2-1 1-1 3-1 2-1-2-1 2-1 3-1-5-1 4-1 0-1 0-1 3-1 2-1-2-1 0-1 5-1-2-2-1-1 3-1 2-1-2-1-2-1 3-1-1-2 6-1-4-1 6-1-3-1 0-2 1-1 4-1-5-1 2-1 0-1 2-2-1-1 2-1 2-1-2-1 5-1-2-1 0-1 2-2-1-1 2-1-2-1 0-1 3-2 1-1-1-1 2-1-2-2 6-1-4-1 2-1-1-1 0-2-1-1 5-1-2-1-1-1 4-2 0-1-3-1 3-1 2-2-2-1-2-1 2-1-1-2 0-1 3-1 1-2-5-1 3-1 0-1 2-2-1-1-2-1 6-2-3-1 3-1-2-1-2-2 0-1 0-1 2-2 1-1 3-1-5-1 3-2 1-1 2-1-1-1 0-2 0-1-3-1 3-2-2-1 6-1-2-1-2-2 0-1 1-1 1-1-1-2 1-1-1-1 3-2 0-1-2-1 3-1-1-1 2-2 1-1-2-1 2-1 1-2-3-1 2-1-1-1 3-2-3-1 4-1-1-1 2-1 3-2-3-1-1-1 0-1 4-1-3-2 0-1 4-1 2-1-1-1 3-1-1-2 0-1 0-1 0-1 1-2 1-1-1-1-2-1 0-1 2-2 2-1-2-1 3-1 1-1 2-2-3-1 0-1 0-1 1-2 1-1 4-1-7-1 5-1 1-2 2-1 1-1-1-1-3-1 2-2 1-1 0-1 3-1-2-2 0-1 2-1 2-1-2-1 0-2 1-1 2-1 0-1 0-1 0-2 3-1 2-1 1-1 1-1-4-2 1-1 0-1 0-1 1-1 1-2 1-1 2-1 1-1-2-1 0-2 2-1 1-1-2-1 2-1-3-2 4-1-2-1 3-1-4-1 5-2-2-1 2-1 1-1 0-1 4-2-1-1-1-1 3-1-2-1 1-2 3-1 1-1-2-1 1-1-1-1 3-2-2-1 3-1-4-1 4-1 2-2-1-1-3-1 4-1-2-1 2-1 1-2 3-1-2-1-1-1 5-1-3-2 0-1 2-1 0-1 3-1-5-1 3-2 3-1 0-1 0-1-2-1 4-1-1-1 3-2-5-1 5-1 1-1 2-1-2-1 0-2 2-1 0-1 1-1-3-1 4-1 1-2 0-1 1-1 3-1 1-1-1-1-1-1 3-2-1-1 0-1 0-1 1-1 4-1 0-1 0-2 0-1-1-1 2-1 0-1-1-1 4-1-4-1 1-2 1-1 2-1 1-1 2-1 1-1-1-1 0-1 2-2 2-1 0-1 1-1 1-1 0-1 0-1-3-1 3-1 0-2 1-1 2-1 2-1 2-1-3-1 3-1 1-1-4-2 5-1 0-1-3-1 4-1 2-1 1-1-2-1 3-2 2-1 0-1-4-1 5-1-2-1 1-1 4-1 2-1 1-1-9-1 10-2-7-1 6-1-3-1 4-1 3-1 0-1-2-1-5-1 6-1 1-1 2-1 3-1-4-1 5-1-3-2 1-1 3-1 2-1 1-1-3-1 4-1-3-1 8-1-3-1 0-1-2-1 2-1 2-1-1-1 3-1-2-1 1-1 5-1-3-1 2-1-1-1 5-1-3-1 2-1 2-1 0-1 3-1 0-1 1-1-1-1 1-1 0-1 1-1 0-1 7-1-1-1-4-1 4-1 3-1-2-1 5-1-6-1 4-1-4-1 9-1-4-1 3-1 2-1-1-1 0-1 0-1 6-1 1-1-4-1 5-1-4-1-3-1 4-1 1-2 3-1 1-1-2-1 1-1 2-1-5-1 8-1 2-1-2-1-3-1 4-1-1-1 1-2 7-1-4-1-1-1 4-1-4-1 8-1-2-1 0-1 1-1-4-2 6-1 0-1 0-1-2-1 3-1 4-1-5-2 4-1 1-1-4-1 2-1 3-1 3-2-2-1-2-1 2-1-3-1 5-2 0-1 0-1 1-1 1-1-3-2 8-1-7-1 3-1 0-2-3-1 3-1-1-1-1-2 0-1 4-1 3-1 0-2-2-1 2-1-6-1 6-2-2-1 4-1 0-1-1-2-1-1 1-1 5-1-5-2 2-1 2-1 1-2-6-1 4-1-3-1 2-2 3-1-6-1 5-1 0-2 3-1-2-1 0-2 0-1 3-1-1-1 0-2-9-1 10-1-3-2 3-1 0-1 1-1-3-2 2-1-1-1-3-2 5-1-3-1 3-1 2-2 1-1-2-1 0-2-1-1-1-1 3-1 0-2-2-1 3-1-4-2 4-1-2-1-1-1 1-2 1-1-1-1 2-2 1-1 7-1-11-1 3-2 3-1 2-1-3-2 2-1-3-1 3-1-3-2-2-1 4-1-1-2 1-1-1-1-2-1 3-2-1-1-1-1 1-2 2-1 1-1-2-1-1-2 2-1 0-1 1-2 5-1-5-1-3-1 8-2-3-1-1-1 2-2-2-1 6-1-4-1 0-2-1-1 3-1-2-1 0-2 1-1-1-1 4-2 1-1-5-1 2-1 2-2-4-1 2-1 3-1 0-2 1-1-5-1 7-1-2-2 0-1 5-1-2-1-5-2 8-1-5-1 1-1-2-2 7-1-3-1 1-1 2-2-2-1-5-1 9-2-4-1-2-1 3-1 0-2 0-1 1-1 2-1 4-2-2-1-2-1 6-1-5-2 6-1-5-1-4-1 8-2-4-1 0-1 1-1 1-2 1-1-1-1-2-1 4-2 1-1-2-1 2-1 1-2-6-1 0-1 3-1 5-2-6-1 7-1-4-1 3-2-2-1 0-1 1-1-1-2 0-1 1-1 2-1 0-2-2-1 3-1 0-1 3-2 0-1 0-1 0-1-3-1 3-2 3-1 0-1 3-1 2-2 0-1-6-1 1-1 1-1 5-1-2-2-1-1-2-1 3-1 0-1 5-2 3-1-9-1 0-1 7-1 0-2-3-1 3-1 1-1-3-1 5-1-3-2 3-1 3-1-5-1 5-1 0-2 3-1-6-1 4-1-5-1 5-2 4-1 1-1-2-1-4-1-1-2 6-1-2-1 3-1-1-1 1-2 4-1-7-1 4-1 3-1 2-2-6-1 0-1 3-1-3-1 2-2 7-1-5-1-1-1 3-1 2-1-2-2 3-1 3-1 0-1-2-1 4-1 2-1-2-2-5-1 7-1-2-1 4-1-4-1 1-1 1-1 0-2 6-1-4-1 0-1 3-1-3-1 2-1 0-2 5-1-5-1 4-1 1-1 3-1 0-1-1-2-2-1 9-1-2-1-2-1-4-1 3-1-1-1 1-2 1-1-1-1 1-1 3-1 1-1-4-1 5-2 5-1-3-1-1-1 1-1 7-1-2-1 0-1 0-2 0-1 5-1-5-1-4-1 8-1 1-1-1-2 2-1 0-1 0-1 5-1 0-1-2-1 0-1-1-2-1-1 0-1 1-1 3-1 0-1 3-1 0-2-5-1 1-1 4-1 8-1-6-1 3-1 0-1-2-1 4-2-6-1 3-1 0-1 5-1 5-1-6-1-1-1 1-1 4-1 0-1 2-2-2-1 1-1 5-1 1-1 0-1-4-1 6-1 6-1-10-1 6-1-2-1 2-1 1-1 1-2-2-1 3-1-2-1 3-1 0-1-1-1 2-1 0-1 3-1 0-1 1-2-5-1 5-1 0-1 1-1 4-1 1-1-1-1 4-1 0-1-2-1 3-1 2-2-6-1 1-1 1-1 2-1 2-1 3-1-3-1 5-1 1-1 1-1-3-2-1-1 6-1-2-1-1-1 4-1-1-1-2-1 4-1 0-1 0-2 2-1-2-1 2-1-1-1 4-1-1-1 0-1 4-1-3-1 0-2 5-1-4-1 7-1-1-1-2-1 0-1 7-1-4-1 0-1 0-1 0-1 8-1-3-2 0-1-1-1 1-1 4-1-7-1 5-1 0-1 0-1 6-1-3-1 5-1 1-1-4-1 6-1-1-1-1-1 5-1-2-1 1-1-3-1-10-1-215 2-10 0-2 1-1 0-1 0-1 0-4 0 1 1-2 0-1 0-2 0-2 0 1 1-2 0-1 0-1 0-2 1 0 0-2 0-2 0-1 1 0 0-2 0-1 1-3 0-2 1-1 0-1 0-2 1-2 0-1 1-1 1-2 0-2 1-2 0 1 1-3 0-1 1-2 0-2 1-1 1-2 0-2 1 0 0-2 1-1 0-3 1 1 0-2 1 0 1-3 1 0 0-2 1-2 1-4 1-1 1-2 1-1 1-2 1 0 0-1 1-3 1-1 1-1 0-4 1 1 1-2 0-1 1-2 1 0 0-1 1-1 1-2 1 0 1-3 1-1 1-2 0-1 1-2 1 1 0-2 1-1 1-1 0-2 1-1 1 0 0-2 1-1 1-1 0-2 1 0 1-2 0-2 1 0 1-1 0-2 1-1 1-1 0-1 1-1 1-1 0-2 1 0 1-1 0-2 1 0 1-2 1-1 0 1 1-4 1 1 1-2 0-1 1 0 1-1 1-2 1-1 1 1 0-2 1-1 1-2 1-2 1 1 1-1 1-2 0-1 1 0 1-2 1 0 1-2 1 0 1-2 1 0 1-2 1 0 1-1 1 0 1-2 1 0 1-2 1 0 1-2 1-1 1-1 1-1 1 1 1-2 1-1 1-2 1 1 1-1 1 0 2-3 1 1 1-2 1 0 1-1 1 0 1-3 1 0 1 0 1 0 1-2 1 0 1 0 1-3 1 0 1-1 1 0 1-2 1 0 1-1 1 0 1 0 1-2 2 0 1-2 1-1 1 1 1-1 1-2 1 0 1-1 1-1 1 0 1-2 1 1 2 0 1-3 1 0 1-1 1-1 1 2 1-1 1-2 2-1 1 0 1 0 1-1 1-1 1-2 1-1 1 1 2 0 1-1 1 0 1-2 1-1 1 1 1-2 1 0 2-3 1 2 1-1 1-1 1 0 1-1 1-2 2 0 1 1 1-2 1 0 1-1 1-1 1-1 2-1 1 1 1-2 1 0 1 1 1-2 1 0 2 0 1 0 1-3 1 0 1 0 1-1 2 0 1-1 1-1 1 0 1-1 1 0 2-1 1 0 1-1 1-1 1 0 2-1 1 0 1 0 1-2 1 0 2 0 1 0 1-2 1 0 1-1 2 0 1 0 1 0 1-1 1 0 2 0 1-1 1-1 1-1 1 0 2 0 1-1 1 0 1-1 1 0 2-1 1 0 1-1 1-1 1 0 2 1 1-2 1 0 1-1 2 0 1-1 1 0 1-1 1 0 2-1 1 2 1-3 1 3 2-3 1 0 1-1 1 0 2-1 1-1 1 0 1-1 1 1 2-1 1 0 1-1 1 0 2-1 1-1 1 0 1 1 2-1 1 0 1 0 1-1 2 0 1 0 1-3 1 2 2-3 1 2 1 0 1-1 2 0 1 0 1-1 1-1 2 1 1-3 1 2 1-1 2 0 1 0 1-2 1 2 2-2 1-2 1 2 2-1 1 0 1 0 1 1 2-1 1-2 1 1 1-1 2 0 1 0 1-1 1 0 2-1 1-1 1 1 1-1 2 0 1 1 1-2 2 0 1-1 1 0 1 0 2 0 1 0 1-1 1 0 2 0 1 0 1 0 1 0 2-1 1 0 1-1 2 1 1-1 1 0 1 0 2-2 1 0 1 0 1 0 2-1 1 1 1-2 2 1 1 0 1 0 1-1 2 0 1 0 1-1 1-1 2 2 1-2 1 0 2 0 1-1 1 1 1-1 2 0 1 0 1-1 2 1 1 0 1-1 1 0 2 0 1-1 1-1 2 1 1-1 1 0 1 1 2-1 1 0 1 0 1-1 2-1 1 1 1-1 2 0 1 0 1 1 1-1 2 0 1-1 1 0 1-1 2 0 1-1 1 0 1 1 2-2 1 1 1-1 2 0 1 1 1-2 1-2 2 2 1-1 1-1 1 1 2-2 1 1 1 0 1-2 2 0 1 1 1-1 1-1 2 1 1-1 1 0 1 0 2-3 1 0 1 0 1-1 1 0 2-1 1 1 1 0 1-2 2 2 1-1 1-2 1 0 1-1 2 0 1 0 1-1 1 0 1-1 2 0 1-2 1 0 1-1 1 0 2 0 1-1 1-2 1 0 1 2 1-2 2-1 1 0 1 1 1-1 1-2 2-1 1-1 1 0 1 1 1 0 2-1 1-2 1-2 1 2 1-1 2 0 1-1 1 2 1-3 1 0 2 0 1 0 1-2 1-1 1 1 1-2 2-1 1 0 1 0 1-2 1-1 1 0 2 0 1 1 1 0 1-6 1 3 1-1 1 0 2 0 1-3 1-3 1 4 1-2 1 1 2-1 1-2 1 1 1-2 1 1 1-3 1 1 2 0 1-3 1 1 1 2 1-4 1-2 1 4 2 1 1-4 1-1 1 0 1-2 1 1 1-2 2-5 1 3 1 1 1 2 1-4 1-2 1 1 2-1 1-2 1 3 1-2 1-3 1 1 2 1 1-5 1-1 1 2 1-1 1-2 1 1 2-2 1 5 1-3 1 0 1-3 1 1 2-6 1 3 1 1 1-2 1 1 2-5 1 3 1 1 1 0 1-2 1-2 2 3 1-5 1 1 1 0 1 0 2 0 1-3 1 2 1 0 1-4 2 3 1-4 1 4 1 1 1-7 2-2 1 2 1 1 1 0 2-1 1 3 1-2 1 0 2-5 1 4 1-2 2 1 1-1 1 2 1-5 2 3 1-5 1 5 1-2 2 3 1-3 1 1 2-3 1 2 1-1 1 0 2-1 1 1 1-2 2 1 1 2 1 0 1-1 2-5 1 1 1 0 2 1 1 1 1 1 1-2 2 0 1 3 1-3 2-3 1 4 1-3 2 2 1 2 1-1 1-2 2 1 1-2 1 4 2-1 1-1 1 1 2 1 1-3 1 2 1 2 2-4 1 3 1-1 2-3 1 2 1-2 2 3 1-2 1 1 2 0 1 4 1-2 1-1 2 3 1-5 1 3 2 0 1-1 1 2 1-3 2 5 1-3 1 1 2 0 1-1 1 6 2-6 1-1 1 1 1-5 2 7 1-2 1 1 2-1 1 3 1 3 1-6 2 4 1-1 1 1 2-1 1 1 1 1 2-3 1-4 1 6 1-2 2 4 1-3 1 1 2-5 1 6 1 0 1 2 2-1 1 0 1 0 2-4 1 6 1-2 1 0 2 1 1-2 1 1 2 1 1 1 1 1 1-1 2 0 1-2 1 6 2-1 1-1 1-4 2 4 1-4 1 2 1 0 2-1 1 3 1 3 2-5 1 4 1-2 1 0 2 1 1 1 1-3 2-1 1 2 1-5 1 0 2 5 1 2 1-1 2 0 1-1 1 0 2 2 1 0 1 0 1 1 2 1 1-4 1-1 2 7 1-5 1 1 1 2 2-1 1 3 1-2 2 2 1-1 1 1 2-3 1 0 1 2 1-2 2 5 1-3 1-1 2 5 1-5 1 0 2 3 1-2 1 1 1 0 2 2 1-3 1 4 2-4 1 2 1-1 1 4 2-5 1 8 1-8 2 3 1 0 1 1 2 0 1-4 1-1 1 3 2 1 1-2 1 3 2 3 1-3 1 1 2-3 1 7 1-5 1 0 2 0 1-1 1 1 2 1 1-3 1 4 2 0 1-2 1-2 1 2 2-2 1 7 1-1 2-3 1-1 1 4 2-1 1 3 1-10 1 7 2-5 1 8 1-10 2 3 1 0 1 1 2 1 1 3 1-3 1 1 2 0 1-4 1 7 2-7 1 5 1 0 2-4 1 5 1-1 1 0 2-1 1 0 1 1 2 2 1-9 1 10 2-4 1 1 1-3 2 0 1 3 1-4 1-1 2 5 1-1 1-2 2 6 1-4 1 0 2-1 1 0 1-2 1 6 2-8 1 3 1-4 2 4 1 1 1 0 2 2 1-4 1 3 1-3 2 0 1 1 1 3 2-8 1 3 1 0 2 3 1-2 1 2 1 2 2-2 1-1 1-2 2-2 1 3 1 5 2-7 1 3 1-3 1 4 2 2 1-6 1 3 2-1 1-1 1-1 2 3 1 0 1 3 1-5 2 1 1-2 1 1 2 6 1-2 1-4 2 1 1 0 1 4 1-1 2-3 1-3 1 2 2 5 1-7 1 2 2-4 1 6 1-1 1 4 2-10 1 2 1 0 2 5 1-2"/>
<path d="M1570 455l-2 32-1 1 0-4-1 2-1 0-1 5 0 1-1-1-1 5-1-2 0 3-1 1-1 0-1 2 0-1-1 0-1 1-1 2-1 3 0 3-1-2-1 1-1 1-1 1 0-1-1 1-1 4-1 2-1 2-1-1-1-1-1 4-1-1-1 0-1 5-1-3-1 4-1-3-1 2-1 1-1 0-1 1-1 1-1 3-1-2-1-1-1-1-1 6-1 3-1-5-1 3-1 4-2-4-1 1-1 3-1-2-1-1-1 3-1-6-2 5-1 4-1-1-1 0-1 1-2 0-1 0-1 1-1-1-1 4-1-1-1 3-2-2-1 5-1-3-1 0-1 4-1-3-1 5-1 2-2-6-1 0-1 4-1 1-1 1-1-3-2 0-1-1-1 5-1-2-1-2-2 6-1 1-1 0-1-1-1 3-2-6-1 6-1 1-1-1-1-1-2 1-1 4-1-3-1-3-1 5-2-2-1 3-1-1-1 2-2-2-1 4-1 0-1 0-2 0-1 1-1-2-1 1-2 2-1-1-1-2-1-2-2 6-1 2-1-2-1 0-2-1-1 1-1 3-1 2-2-2-1 0-1 2-1 1-2-7-1 4-1-2-1-1-2 5-1 0-1 0-2 2-1-1-1 1-1 0-2-1-1 5-1-2-1-1-2 1-1-1-1 2-1 0-2-1-1 0-1 6-1-5-2 4-1-3-1 1-1 2-1-3-2 6-1-1-1-1-1 3-1-3-2 4-1-2-1 1-1 0-1-1-2 1-1 3-1-1-1 0-2 0-1-2-1 5-1-1-1-2-2 2-1 1-1-1-2 1-1 1-1 1-1 0-2 1-1 1-1-1-1 0-2 0-1 2-1 2-1-2-2 1-1 1-1-3-1 2-2 2-1-1-1 2-1-2-2 3-1-1-1-1-1-1-2 4-1-2-1 0-1 0-2 0-1 4-1-2-1 1-1-1-2 0-1 2-1 0-1 3-2 0-1 0-1 2-1-2-2-1-1 3-1 2-1-3-2 3-1-1-1 0-1-2-1 2-2 0-1 3-1-2-1 3-2 1-1-2-1 0-1 0-1 2-2 0-1 1-1 0-1 1-1 3-2-2-1-1-1 1-1 2-1-1-2 2-1 0-1-1-1-1-1 3-1-2-2 5-1-3-1 2-1 1-1-1-2 4-1-2-1 2-1 0-1 3-1-1-2 2-1-1-1-3-1 4-1-1-1 2-2 0-1 2-1-3-1 3-1 0-1-1-2 2-1 1-1 0-1 1-1 0-1 2-2 0-1-1-1 5-1-5-1 5-1-2-2 0-1 3-1-2-1 0-1 2-1 3-2-4-1 6-1 0-1 0-1 0-1-2-2 2-1 2-1 1-1 1-1-1-1 0-1 5-2-5-1 2-1-1-1 5-1-3-1 3-1 2-2-6-1 3-1-1-1 1-1 1-1 2-1 4-2-2-1 2-1 3-1-2-1 0-1 3-1-1-1-2-2-1-1 3-1 2-1-1-1 3-1 3-1-1-2-6-1 5-1-1-1 5-1 0-1-1-1 1-2 0-1-1-1 3-1-1-1 1-1 4-1-2-1 3-1 0-2-2-1 4-1-2-1 3-1-1-1 4-1-1-1-1-1 0-2 7-1-5-1 2-1 0-1 0-1-1-1 2-1 0-1 5-1 3-1-5-1 2-2 2-1-3-1 2-1 0-1 6-1-1-1-3-1 3-1 1-1 0-1-3-1 5-1 1-1 2-1 0-1-1-1 1-1 4-1 5-1-8-1 6-1 1-1-3-1-6-1 10-1-2-1 0-1 4-1-3-1 1-2 6-1 0-1 2-1-1-1 0-1 2-1 2-1 2-1-2-1 2-1-2-1 4-1 3-1 0-1-3-1-4-1 3-1 4-1-3-1 2-1 7-1-7-1 0-1 5-1 0-1 6-2-3-1 1-1 0-1-3-1-1-1 2-1 4-1-3-1 6-1-1-1 2-2 1-1-1-1-3-1 2-1 4-1-4-1 4-1-2-1 5-2 0-1 0-1 2-1 2-1-2-1 1-1 2-2-1-1 1-1 0-1-1-1 0-1 4-2 0-1-1-1 4-1 1-1-2-1-2-2 3-1 0-1 2-1-1-2 3-1-5-1 3-1 0-1 2-2-2-1 0-1-1-1 4-2 4-1 0-1-4-1 1-2 1-1-4-1 6-1 2-2-3-1-4-1 1-1 5-2-2-1 1-1 3-1-2-2 0-1 0-1-3-1 8-2 0-1-4-1 2-2-2-1 4-1-1-1-1-2 0-1 4-1-2-1 1-2-3-1 9-1-5-2-4-1 6-1-5-1 5-2 0-1 3-1-5-1-3-2 5-1 1-1-1-2 0-1 4-1-1-1-5-2 3-1-3-1 2-2-3-1 2-1 0-1-2-2 5-1 1-1-2-2-2-1 7-1-3-1-1-2 0-1 4-1-5-2 3-1-3-1 6-1-4-2-1-1 4-1 0-2 2-1-1-1 4-1-7-2 4-1 0-1 0-2 2-1 0-1-1-1 2-2-4-1 2-1-2-1 5-2-5-1 0-1 3-2 0-1-3-1 3-1 3-2-2-1-3-1 3-2-2-1 0-1 5-1-1-2 3-1-5-1 1-1-1-2 5-1-5-1 1-2-1-1 5-1 0-1-1-2 3-1-2-1-2-1 8-2-7-1 1-1 5-1-3-2 1-1-4-1 2-1 0-2 4-1-2-1 3-1-3-2 2-1 1-1-3-1 1-2 5-1-3-1 7-1-3-2 0-1-2-1 2-1 0-2-4-1 3-1 1-1 3-2-2-1-5-1 6-1 0-2 2-1-1-1-3-1 0-2 2-1 0-1 2-1 0-2 1-1 2-1-2-1 0-2 3-1 1-1 0-1-5-2 5-1-1-1 3-1-8-2 7-1 0-1 2-1-2-2 0-1 2-1-4-1 4-2-3-1 2-1 4-1 0-2 0-1 2-1-1-1 0-2-2-1 1-1 5-1-5-1 5-2-1-1 3-1-5-1 5-2-3-1 1-1 5-1 0-1-2-2 3-1-2-1-1-1 4-1-5-1 0-2-3-1 8-1-2-1 1-1 2-2 0-1 3-1-1-1 3-1-6-1 7-2 0-1-2-1 4-1-3-1 6-2-1-1-2-1 0-1 1-1 0-2 0-1 1-1 3-1-3-1-1-2 8-1-4-1 1-1-1-1-1-2 4-1 2-1-4-1 0-1 3-2 1-1-2-1 4-1-1-1-2-1 2-2 1-1 1-1-1-1 3-1-3-1 4-2-1-1-1-1 1-1-2-1 1-1 1-2 5-1-1-1-2-1 2-1 0-1 5-1-3-1 3-2 1-1 1-1 2-1-3-1-2-1 6-1 0-1-5-2 5-1 2-1-1-1 1-1-3-1 2-1 0-2 7-1-3-1 0-1-1-1 3-1 1-1 0-1-2-2 2-1-1-1 0-1 6-1-2-1 3-1-1-2 1-1 0-1 2-1 5-1-3-1-2-1 5-1-3-2-2-1-1-1 2-1 6-1 1-1-4-1 3-1-2-2 3-1 3-1 0-1-1-1-1-1 3-1 1-2-1-1 1-1 3-1-1-1-2-1 6-1-2-1-4-2 8-1 1-1-2-1-1-1-1-1 2-1-3-1 7-2 1-1-3-1 7-1-1-1 2-1-2-1 3-1-1-1-3-1 3-1-2-2 1-1 3-1-2-1 0-1 6-1-1-1 0-1 2-1-3-1 4-1-1-1 3-1 1-1 0-2 4-1-2-1 1-1 0-1 2-1 2-1 3-1-3-1-1-1 1-1 1-1 4-1-4-2-1-1-2-1 6-1 1-1 0-1 1-1 1-1-1-1 3-1-2-1 3-2 7-1-4-1 0-1 0-1 1-1 4-1-4-1 2-1 0-1 4-1 0-1-3-2-2-1 7-1 2-1-4-1 6-1-6-1 1-1-1-1 7-1-2-2 3-1-7-1 8-1 0-1 4-1-2-1-4-1 8-1-3-1 4-1-5-2 4-1 2-1 1-1 0-1-4-1 3-1-1-1 4-1-4-1 9-1-5-1 4-1-3-2 8-1 0-1-8-1 1-1 6-1-4-1 4-1 4-1-4-1 2-1 1-1 2-1 3-1 0-1-4-1 1-1 4-1 4-1-4-1 0-2-10 0-217 2-10 0-1 0-1 1-1 0-2 0-2 0-1 1-2 0-1 0-2 0-2 1-1 0-3 1-1 0-2 0-2 0-1 1-1 0-1 0-2 1-2 0-1 1-1 0-2 1-1 0-2 1-2 0-2 1 0 0-2 1-2 0-1 1-1 0-2 1-1 0-1 1-2 0-1 1 0 0-3 1 0 0-3 1 1 0-1 1-1 0-2 1-2 0-1 1-1 0-1 1-1 0-1 1-2 1 0 0-2 1-1 0-2 1 0 0-3 1 2 1-3 0-1 1 0 1-3 0-1 1 0 0-3 1 0 1-1 0-1 1-1 1-1 0-2 1-1 1-2 0 1 1-3 1 0 0-2 1 1 1-2 1-1 0-2 1 0 1-1 0-1 1-1 1-2 1-3 1-1 0-1 1-1 1 0 0-2 1-2 0-1 1-1 1-1 1-4 1 2 0-3 1 0 1-1 0-1 1-1 1-1 0-4 1 3 1-3 1-1 0-1 1-2 1 0 1-1 0-1 1-1 1-1 1-2 1 1 0-2 1-2 1 0 1-1 1-1 1-1 1-3 0-1 1 1 1-1 1 0 1-3 1 0 1-1 1-2 1 0 1 0 1-1 1 0 1-3 1 0 1 0 1-3 1 0 1-1 1-1 1-2 1 0 1-1 1-1 1 0 1-1 1-2 1 0 1 0 1-1 2-2 1-1 1 1 1-2 1-1 1 1 1-3 1-1 1 0 1 1 1-2 1-1 1 0 1 0 1-3 1 0 1-1 1-1 1 0 1-2 1 1 2-2 1 0 1-1 1-2 1 0 1 0 1-1 1-2 1 1 1-1 1-1 2 0 1 0 1-1 1-1 1-1 1 1 1-3 1-1 1-1 2 0 1 0 1-1 1 0 1 0 1-1 1-1 1 0 2-1 1-2 1 0 1-2 1 0 1 0 1-1 2-1 1 0 1 0 1-2 1 0 1 0 1 0 2-2 1 0 1-1 1 0 1 0 1-2 1 0 2-1 1-1 1 0 1-2 1 0 1 1 2-1 1-2 1 1 1-1 1-1 1 0 2 1 1-3 1-1 1 1 1-1 1-1 2-1 1 1 1-1 1 0 1-2 1 0 2-1 1-2 1 2 1-2 1 0 2-1 1 0 1-1 1 1 1-1 2-1 1 0 1-3 1 2 1-1 2 0 1-2 1 2 1-4 1 1 2 1 1-1 1-1 1 0 1-1 2 0 1 0 1 0 1-2 1 1 2-1 1-1 1 0 1-1 2-1 1 0 1 0 1 0 1-1 2-2 1 1 1-2 1 2 2-1 1-2 1 1 1 0 1-2 2-1 1 2 1-1 1-1 2 0 1-1 1 1 1 0 2-2 1-1 1 1 1-1 2-2 1 2 1-2 1 1 2-2 1 1 1 0 1-1 2-1 1-1 1 1 1 0 2-1 1 0 1-1 1-1 2 2 1 0 1-1 1-1 2-1 1-2 1 2 1 0 2 0 1-1 1-1 1 1 2 0 1 0 1-1 1 0 2-3 1 0 1 0 1 1 2-1 1-1 1 0 2 1 1-2 1 1 1 0 2 1 1-2 1-2 1 2 2-1 1-1 1 0 1 0 2-1 1 0 1 0 2 1 1-1 1-2 1 1 2-1 1 0 1 0 1 0 2 0 1 0 1-2 2 1 1-1 1-1 1 0 2 0 1-1 1 1 1 0 2-1 1-1 1 1 2 0 1 0 1-1 1 0 2-2 1 1 1 0 1-1 2 0 1 2 1-1 2-1 1 0 1 0 1-1 2 0 1-1 1 1 2-1 1 0 1-1 1 0 2 0 1 0 1 0 2 0 1-1 1-1 1 1 2-2 1 1 1 0 1 1 2-2 1 0 1 0 2-1 1 1 1-1 1 0 2-1 1 1 1-1 1 0 2 1 1-2 1 0 2-2 1 2 1-2 1 0 2 0 1 0 1 1 1-2 2 0 1-1 1 0 1-1 2 1 1-1 1-1 1-1 2 0 1 1 1-1 1-1 2 1 1-2 1 1 1 0 2-3 1 2 1-1 1 0 1 0 2 0 1-2 1 0 1-1 2 0 1 0 1 0 1-1 1 0 2 0 1-1 1-1 1-1 1 1 2-1 1-1 1-1 1-1 1 0 2-1 1 1 1-1 1-2 1 1 2-1 1-1 1-1 1 0 1 0 2 1 1-2 1 0 1 0 1 0 2-2 1 0 1-1 1-1 1 1 2-3 1 0 1-1 1 1 1-1 2 0 1 0 1-5 1 2 1 1 2 0 1-1 1-3 1 1 1-2 1 2 2-1 1 0 1-2 1-1 1-2 1 4 2-5 1 0 1 3 1-4 1 2 1 0 2 0 1-2 1-1 1 1 1-2 1 0 1-2 2-1 1-2 1 4 1-3 1 3 1-7 2-1 1 2 1-2 1 1 1-2 1 0 2 0 1 3 1-3 1-3 1 1 1-1 1 3 2-8 1 2 1 2 1-3 1 3 1-4 2 1 1 1 1 1 1-1 1-4 1 2 2-5 1 1 1 2 1-5 1 5 1-6 2 3 1-1 1 0 1-1 1-4 2 2 1 1 1-2 1 1 1-5 2 1 1 4 1-3 1-1 1 0 1 1 2-4 1 3 1-3 1 0 1-3 2 5 1-3 1-2 1 0 2-1 1 2 1-5 1 2 1 0 2 0 1-2 1-1 1 3 2 2 1-6 1 1 1-1 2-1 1 3 1-6 2 1 1 2 1 1 1 0 2 0 1 0 1-2 1 0 2 1 1 1 1 0 2-3 1-1 1 4 1-2 2 2 1-4 1 0 2 1 1-4 1 4 1-2 2-1 1 1 1-2 2 1 1 4 1-6 2 3 1-2 1 4 1 1 2-8 1 5 1 0 2 1 1 0 1-1 2 0 1-2 1 5 1-3 2-3 1 1 1 1 2-3 1 2 1-1 2 4 1 1 1-2 1 2 2-5 1 2 1-1 2 3 1-3 1 1 2 0 1-1 1-1 1 4 2-4 1 3 1-3 2 0 1 0 1 1 2 4 1-4 1 1 1 0 2 2 1 1 1-3 2 1 1 3 1 1 2-3 1 0 1-4 1 3 2 4 1-3 1-3 2 4 1-1 1 3 1-1 2 0 1 3 1-4 2 0 1 2 1 0 2-3 1 4 1-4 1 1 2 3 1 2 1-3 2 3 1-2 1-2 1 2 2 2 1 0 1 2 2-2 1 2 1 0 1-4 2 0 1 2 1 2 2 1 1-4 1 1 2-1 1 1 1 6 1-5 2-2 1 1 1-2 2 6 1-2 1 5 1-1 2-5 1-1 1 0 2 5 1 4 1-6 1 0 2 0 1-1 1-2 2 3 1-2 1 3 2 0 1 0 1 2 1-4 2 5 1 0 1 0 2-3 1 2 1 2 1-1 2-4 1 4 1-2 2 1 1 0 1-3 2 2 1-1 1 1 1 3 2 1 1-1 1 1 2-2 1 0 1-1 2 4 1-2 1 1 1 0 2 3 1-6 1 2 2-2 1 1 1 3 2-2 1-4 1 3 1 3 2-1 1-1 1 3 2-2 1 1 1 1 2 0 1-5 1 3 1 4 2-2 1 2 1-4 2 3 1-2 1 0 2 1 1 2 1-4 1 2 2-2 1 1 1 1 2 0 1 0 1 3 2-5 1-3 1 9 1 1 2-7 1 2 1 3 2-3 1 0 1-1 2-2 1 7 1-3 1-4 2 5 1 2 1-2 2 0 1-4 1 5 2-2 1-1 1-1 1 3 2 7 1-8 1 1 2-1 1 0 1 5 2-2 1 3 1-1 1-9 2 8 1-3 1-4 2 0 1 3 1 4 2-1 1-2 1-3 1 2 2 1 1 1 1-3 2-3 1 2 1 4 2-2 1 2 1 0 2-4 1 3 1 2 1-5 2 0 1 4 1-3 2 1 1-1 1 1 2-1 1 4 1-3 1 0 2 1 1-2 1-2 2-1 1 8 1-6 2-1 1 4 1 0 1 0 2 0 1-4 1 8 2-3 1-3 1-1 2-5 1 4 1 4 1 1 2-4 1-1 1 2 2-1 1 0 1 2 2-8 1 6 1-4 1 6 2-4 1-2 1 5 2 1 1-4 1 6 2-5 1 0 1 1 1-1 2-1 1 6 1-5 2 2 1-3 1 0 2 0 1-2 1 6 1-6 2 3 1 1 1-6 2 6 1-4"/>
<path d="M1570 466l-2 17-1 1 0 4-1 5-1-1-1 1 0-3-1 6-1-2-1 1 0 7-1-1-1-2-1-1 0 3-1 3-1 0-1 3-1-3 0 3-1 2-1-1-1 0-1 5 0-1-1 1-1-1-1 3-1 1-1 1-1 0-1 1-1 0-1 2-1 0-1 0-1 5-1-7-1 2-1 4-1 0-1 7-1-2-1 1-1-3-1 1-1-1-1 2-1 4-1-3-1 4-1 0-2-3-1 2-1 2-1 2-1-2-1 0-1 2-2 1-1 1-1 2-1-5-1 4-2 2-1 3-1-2-1-1-1 2-1-2-1 4-2-3-1 1-1 1-1 2-1 3-1-2-1 4-1 0-2 1-1-1-1 0-1 0-1 3-2-1-1-1-1 3-1 1-1-2-2-1-1 2-1-3-1 6-1-2-1 3-2 0-1-1-1 1-1-4-1 5-2-2-1 4-1-1-1 2-2-2-1 0-1 0-1 5-1-1-2-1-1 1-1-1-1 2-2-1-1 5-1-6-1 3-2-2-1 0-1-1-2 6-1-1-1 2-1-1-2-1-1-1-1 0-1 0-2 2-1 0-1 0-1 4-2-5-1 3-1-1-1 1-2 0-1 3-1-3-2 2-1 3-1 0-1-2-2 1-1 2-1-2-2-1-1 0-1 0-1 2-2-1-1 3-1-3-1 3-2-1-1 0-1 2-1-1-2 0-1-2-1 3-1-2-2 3-1 0-1 0-1-1-2 2-1 3-1 0-1-2-1 3-2-2-1-2-1 3-1 0-2 0-1 0-1 2-1-1-2 1-1 1-1-1-1 1-2-1-1 3-1 2-1-1-2-4-1 5-1-3-1 2-2-1-1 5-1-2-1-1-2 1-1 3-1-5-1 4-2 0-1-3-1 4-1 1-2-1-1-1-1 1-1 1-2 2-1 0-1 1-1-3-1 1-2 4-1 1-1-3-1 2-2 0-1 1-1 1-1 0-1 0-2-3-1 6-1-4-1 1-1-1-2 3-1-1-1 2-1 0-1 2-2 0-1-2-1 5-1-3-1 5-2-2-1 0-1 0-1 2-1 4-2-3-1 0-1 0-1 0-1 3-2 0-1-2-1 1-1 1-1 0-2 1-1 0-1 0-1 6-1-7-2 3-1 2-1-1-1 0-1 2-1 1-2 2-1-4-1 3-1 2-1 2-2-1-1-2-1 2-1 0-1 2-1 1-2 2-1-3-1 3-1-2-1 0-2 1-1 1-1 2-1 0-1-4-1 5-2 1-1 1-1 1-1-1-1 1-1-3-2 3-1 0-1-1-1 1-1 2-1 2-2-3-1 3-1 2-1-1-1 3-2-2-1 2-1 1-1 2-1 1-1-4-1 5-2 1-1-5-1 6-1-1-1-2-1 4-2 0-1-2-1 1-1 1-1 1-1 1-2 0-1-1-1 3-1 1-1 2-1-2-1 0-2-1-1 6-1 0-1-4-1 0-1 4-1-1-2 3-1 4-1-4-1-2-1 5-1 1-2 0-1 0-1-1-1 2-1-3-1 4-1 0-2 2-1-5-1 6-1 0-1-1-1 3-1-2-2 3-1-4-1 3-1 2-1 0-1 3-1 0-1-4-2 3-1 4-1-1-1 3-1-3-1 2-1 2-1-4-2 4-1-3-1 4-1 3-1-1-1 0-1 1-1 2-1-3-1 8-2-3-1 1-1 1-1-2-1 4-1 0-1-2-1 2-1 0-1-1-1-2-1 6-1 2-1 3-1-2-1 4-1-3-1 1-2 1-1 0-1 4-1-4-1 3-1 1-1 0-1 7-1-4-1-1-1 5-1-2-1 1-1-2-1-2-1 10-1-3-1-1-1-1-1 2-1 1-1 2-1-4-2 4-1 6-1-1-1 3-1-2-1-2-1 5-1-3-1 2-1 1-1 0-1-3-1 7-2-4-1 4-1-2-1 2-1 3-1-6-1 1-1 7-1-4-2 1-1 6-1-1-1-1-1 3-1-3-1 4-1 1-2 0-1-1-1 3-1 2-1 1-1-4-2 0-1 4-1-2-1 6-1-4-1 0-2-2-1 4-1-1-1 4-1-1-1 1-2-1-1-2-1 3-1-1-2 2-1-1-1 4-1 1-1-3-2 1-1 0-1 2-1 6-2-7-1-6-1 10-1-2-2-2-1 0-1 4-1-3-2 5-1-2-1-2-1 3-2 2-1-3-1-2-1 4-2 6-1-7-1 1-1-1-2 6-1-4-1 1-1 2-2 0-1-5-1 6-2-4-1-1-1 3-1 2-2-1-1-1-1 0-1 3-2-1-1-2-1-1-2 3-1 1-1-4-1 5-2 2-1 2-1-1-1-3-2-1-1 4-1-4-2 1-1 8-1-10-1 5-2-4-1 5-1-3-2 3-1 1-1 0-1 3-2 1-1-7-1 1-1 5-2-2-1 1-1 0-2 1-1-2-1 4-1-2-2 4-1-7-1 1-2 2-1-3-1 1-1 2-2-1-1 7-1-7-1 3-2-1-1-1-1 3-2 2-1 1-1-3-1 4-2-2-1-1-1 3-2-4-1 5-1-6-1 1-2-3-1 7-1-3-1 1-2 3-1 3-1-4-2-3-1 8-1-6-1 3-2 1-1 2-1-2-1 3-2-1-1-1-1 0-1 1-2-2-1 0-1 3-1 5-2-9-1 4-1 2-1-3-2 2-1 3-1-5-1 5-2 0-1 0-1 2-1 0-2-2-1 1-1-3-1 1-2 6-1-2-1 2-1 1-2-4-1 9-1-9-1 6-2-6-1 5-1-1-1-2-2 2-1 1-1-1-1 2-2-1-1 2-1 3-1-4-2-1-1 9-1-8-1-1-1 7-2-5-1 4-1-1-1-1-2 4-1-4-1 5-1-7-2 7-1-1-1-2-1-3-2 5-1 2-1 0-1 3-2 0-1-4-1 1-1-2-2 4-1 1-1 1-1-2-2 3-1-3-1 3-1 4-2-5-1 1-1-4-1 8-1 1-2-1-1 1-1-5-1 6-1 1-2 3-1-5-1 1-1-2-1-1-2 6-1-1-1-1-1 4-1 2-1-4-2 4-1-1-1 1-1 3-1-3-2 2-1-5-1 6-1 5-1 0-1-2-2-4-1 4-1-1-1 0-1 2-2 1-1 2-1-2-1-4-1 4-2 5-1-3-1 3-1 0-1-2-2 4-1 1-1 0-1-5-1 4-1 0-2 1-1-3-1 2-1 3-1 2-2-2-1-2-1 8-1-3-1 2-1-3-2 1-1 2-1 1-1-4-1 3-1-5-2 8-1-3-1 8-1-2-1 1-1 1-1 0-1-2-2 1-1 1-1-1-1 0-1 5-1 4-1-4-1-3-2-2-1 1-1 3-1 5-1-2-1-1-1 3-2 0-1 3-1 0-1 0-1-2-1 0-1 3-1 0-2 5-1 1-1-6-1 7-1-5-1 3-1 3-1-4-2 3-1 0-1 4-1-3-1 0-1 4-1 0-1 2-2-2-1-2-1 7-1-2-1 6-1-5-1-4-2 4-1 3-1-5-1 2-1 4-1-1-1 3-1-2-2 8-1-7-1 3-1-2-1 3-1 1-1-2-1 0-2 8-1-5-1 1-1-2-1 9-1-7-1 3-1 1-2 4-1-5-1 4-1 1-1-1-1-1-1 0-1 3-1 0-1 3-1 3-2-2-1 2-1-4-1-1-1 5-1 3-1-2-1-2-1 3-1 2-1 2-1-2-1 3-1-1-2-5-1 10-1-4-1 7-1 1-1-5-1 2-1 3-1-1-1 4-1 1-1-7-1-1-2 9-1 2-1-4-1 0-1 3-1-2-1-4-1 3-1 3-1 5-1-3-1 2-1-3-2 7-1-7-1 7-1 0-1 0-1 1-1 1-1-1-1 3-1 6-1-4-2-5-1 4-1 3-1 1-1 0-1-1-1 1-1-1-1-1-1 6-1 1-2 5-1-3-1-2-1 4-1 0-1-5-1 5-1 2-1-4-1 2-1 1-2 4-1-3-1 4-1-5-1 8-1 0-1 2-1-3-1 0-1-2-1 7-1 2-1-3-2 1-1-2-1 7-1-4-1 4-1-6-1 6-1 1-1 2-1 2-1-4-1 0-1 5-1 2-1-7-1 3-1 8-1-5-1 1-1 1-1-10-1-219 2-10 0-1 0-2 1 1 0-2 0-2 0-2 0-2 1 0 0-3 0-1 0-1 1-2 0-2 0-1 1-1 0-2 0-1 0-2 1-2 0-1 1-2 0-1 1-1 0-1 0-1 1-2 0-1 1-1 0-1 0-2 1-1 0-2 1-1 0-1 1-2 0-1 1-2 0-1 1 0 0-1 1-2 0-2 1-1 1-2 0-1 1-1 0-1 1-2 0-2 1 0 1-1 1-3 0-1 1-1 0-2 1-1 1-2 0-1 1 1 0-1 1-4 1 1 0-1 1-1 0-1 1-4 1 2 0-3 1-2 1 1 0-1 1-3 1-2 0 1 1 0 1-1 0-3 1-1 1 0 1-2 0-1 1-1 1-2 0-2 1 1 1-2 1-1 1-2 0-2 1 0 1-1 0-2 1 1 1-1 0-2 1-3 0-1 1-2 1 1 0-2 1 0 1-2 0-2 1 1 1-2 0-1 1 0 1-2 1 0 0-3 1 0 1-1 0-3 1 1 1-1 1-1 1-1 0-1 1-2 1 0 1-1 1 0 1-3 1-1 1-1 1-1 1-1 1-2 1 0 1-2 1 0 1-1 0-1 1-1 1-1 1 0 1-1 1-2 1-1 1 0 1-1 1-2 1 1 1 0 1-2 1-2 1 1 1-1 1-2 1-1 1 0 1-1 1-1 1 0 1-3 1 1 1-2 1 0 1 0 1 0 1-2 1-2 2 0 1 0 1-2 1 0 1 0 1-2 1-1 1 0 1-1 1 0 1-2 1 0 1-1 1-1 1-1 1 2 2-2 1 1 1-4 1 0 1 0 1-2 1 0 1 0 1 0 1-2 2-2 1 1 1 1 1-3 1 0 1-1 1-2 1 0 2 0 1 0 1-1 1-1 1-1 1 1 1-2 1-1 2 1 1 1 1-4 1-1 1 0 1-1 1-1 2 0 1 0 1-1 1-1 1-1 1 1 1-1 2-1 1 0 1-1 1 0 1 1 1-4 2 0 1 0 1 0 1-3 1 1 1 0 1-1 2-1 1 0 1-1 1 0 1-2 1 1 2-2 1 1 1-3 1 1 1-1 1 0 2-1 1 1 1-2 1 1 1-2 2 0 1 1 1-2 1-1 1 0 2-1 1 0 1-1 1-2 1 0 1 0 2 0 1 0 1-2 1 1 1-1 2-1 1 0 1-1 1-1 2-1 1 2 1-2 1 0 1 1 2-1 1-1 1-1 1-1 1 0 2 0 1 0 1-1 1 0 1-1 2 0 1-1 1-2 1 0 2-1 1 1 1 0 1 0 1-1 2-1 1 0 1-1 1 1 2-2 1 0 1 0 1 0 2-2 1 0 1 1 1-2 1 1 2-1 1-1 1 0 1 1 2-2 1 0 1 0 1-1 2 0 1 0 1-1 1 1 2-2 1 0 1 0 1-1 2 0 1-1 1 1 1 1 2-1 1-1 1 0 1-1 2-1 1 0 1 0 1-1 2 0 1 0 1 0 1-1 2-1 1 1 1-2 2 1 1 1 1-2 1-2 2 2 1-1 1-1 1 0 2 1 1 0 1-1 1-1 2 0 1-1 1 0 1 0 2 0 1-1 1 0 2 0 1-1 1 0 1 0 2 0 1 0 1-1 1 1 2-1 1-2 1 1 2-1 1 1 1-2 1 1 2-2 1 1 1-1 1 1 2 0 1-1 1 0 2-1 1 0 1 0 1 0 2-2 1 2 1-1 1-1 2 2 1 0 1-1 2-3 1 2 1-1 1 0 2-1 1 0 1 0 1 1 2-2 1 1 1 0 2 0 1-2 1 0 1 0 2 0 1 0 1-1 2 0 1 0 1 0 1 0 2-2 1 1 1 1 1-1 2-1 1 0 1 0 2-1 1-1 1 1 1 0 2 0 1 1 1-3 1 1 2 0 1 0 1 0 1-2 2-1 1 0 1 0 2 1 1-2 1 1 1-2 2 0 1 0 1-1 1 1 2-1 1 0 1 0 1-2 2 1 1-1 1-1 1-1 1 2 2-2 1-1 1 1 1-1 2 0 1-1 1 0 1-1 2 0 1 1 1-1 1-1 1 0 2-1 1 0 1 0 1-2 1-1 2 0 1 1 1 0 1-2 2 0 1-1 1 0 1-2 1 1 1-2 2-1 1 0 1 0 1 0 1 0 2-1 1 0 1-1 1-1 2 1 1-3 1 1 1-1 1-1 2 0 1 0 1 0 1-2 1 1 2-1 1 0 1-1 1 0 1-1 2 0 1-2 1 1 1 1 1-3 2 0 1-2 1 0 1 1 1-2 2 1 1 0 1-2 1 2 1-5 2 1 1 0 1 0 1-4 1 5 1-3 2-1 1 1 1-2 1 1 1-2 1-1 2-1 1 4 1-7 1-1 1 3 2-2 1 6 1-2 1-4 1-2 1 2 2-3 1 4 1-4 1 2 1 0 1-4 2 3 1-6 1 3 1-1 1-1 1-1 2 2 1-4 1 1 1-2 1 3 2-2 1-1 1-2 1 0 1-1 1-3 2-1 1 6 1-6 1 5 1-5 2 1 1 1 1-7 1 1 1 3 2 4 1-9 1 3 1-1 1 0 2-1 1-1 1 2 1 1 1-1 2-8 1 7 1-4 1-1 1 3 2-2 1 2 1-6 1 4 1-3 2 1 1-1 1-1 1-2 2-1 1 7 1-5 1 3 2-5 1 4 1-3 1-1 2-1 1 3 1-5 1 0 2 5 1-3 1-1 1-4 2 2 1 4 1-4 2-3 1 5 1-5 1 4 2 4 1-2 1-4 2-1 1-1 1 2 1 0 2 3 1-3 1 2 2-2 1 3 1-9 1 5 2-2 1 1 1-4 2 5 1-3 1 4 2 2 1-1 1-6 1 2 2 3 1-5 1 5 2 0 1-5 1 3 2 0 1 0 1 2 1-3 2 2 1-2 1-1 2-1 1 4 1-3 2 5 1-4 1-1 1 0 2 3 1 0 1-2 2-1 1 2 1 0 2 2 1-5 1 6 1-5 2 0 1 4 1 1 2-3 1 0 1 1 2-2 1 2 1 3 1 0 2-3 1 1 1 0 2 3 1-6 1 4 2-1 1 0 1 0 1-2 2 3 1 0 1-1 2 3 1 1 1-1 1-2 2 0 1 1 1-3 2 3 1 2 1-2 2 1 1-2 1 2 1 1 2-1 1-4 1 3 2 1 1 0 1 2 1-1 2-4 1 3 1-1 2 4 1 0 1-1 1 3 2-2 1-1 1-2 2 5 1-3 1 2 2-5 1 8 1-3 1 1 2-2 1-2 1 3 2-1 1 0 1 0 1 3 2-2 1-2 1 4 2 0 1 0 1-2 2 0 1 2 1 3 1-5 2 0 1 1 1-2 2 7 1-5 1 3 1-3 2 7 1-3 1-1 2 2 1 0 1-5 2 4 1-1 1 3 1-2 2-2 1 6 1-4 2-2 1-1 1 4 1-4 2 3 1 1 1-5 2 1 1-2 1 6 2-1 1 1 1-1 1 3 2 7 1-7 1-1 2 0 1 4 1-8 2 4 1 3 1-5 1 5 2-5 1 2 1-1 2 1 1-6 1 6 2 0 1 0 1 3 1-1 2-2 1 3 1-4 2 2 1 1 1-1 2 3 1-3 1-1 1 4 2-1 1 0 1 5 2-4 1-2 1 0 2-2 1 2 1-2 1 5 2-3 1-3 1 4 2 2 1-1 1 0 2 3 1-6 1 2 1-1 2 2 1-4 1 5 2-3 1 3 1 1 2-3 1 5 1-7 1 0 2 0 1 1 1 3 2 1 1-3 1-1 2 0 1-4 1 5 1-4 2 6 1-5 1 8 2-11 1 8 1-7 2 3 1 0 1 3 1 2 2-1 1-7 1 7 2-7 1 2 1 6 2-7 1 1 1 2 1-4 2 5 1-6 1 8 2-3 1-1 1 4 2-7 1 5 1-1 1-1 2 1 1-2 1-3 2-1 1 7 1 0 2-2 1-1 1-3 1 8 2-5 1 3 1 0 2-4 1 2 1 1 2-2 1 1 1 1 1-8 2 7 1-1 1 0 2-4 1 2 1 1 2-1 1 2 1-2 2 1 1 0 1 5 1-5 2-4 1 1 1 5 2 0 1-3 1-1 2 4 1-7 1 6 1 0 2 0 1-6 1 6 2 1 1-3 1-1 2-1 1 2 1 2 1-1 2 0 1 3"/>
<path d="M1570 461l-2 25-1 1 0 2-1 4-1-4-1 2 0-2-1 2-1 1-1 3 0 7-1-4-1 2-1-3 0 3-1 0-1 5-1-1-1 3 0-3-1 3-1 3-1 3-1 1 0-4-1 5-1-2-1 1-1 1-1 2-1-4-1 6-1-1-1 2-1-3-1 4-1 1-1 1-1 1-1 3-1-1-1 1-1-1-1 0-1 2-1 0-1 3-1 1-1 1-1 0-1-1-1 0-2 5-1 0-1-4-1 8-1-5-1 4-1-4-2 4-1 0-1 2-1-1-1-1-2 5-1-6-1 3-1-2-1 6-1-1-1-1-2 5-1-1-1-2-1 2-1 1-1 0-1 3-1-1-2 0-1 2-1-2-1 3-1 2-2-1-1-1-1 1-1-1-1 4-2 1-1-3-1 2-1-1-1 2-2-1-1 4-1-3-1 4-1-3-2 2-1 0-1-1-1 0-1 3-2 1-1 0-1 1-1-1-2 2-1-2-1 1-1 0-2 1-1-3-1 4-2 0-1 0-1 6-1-6-2-2-1 0-1 3-2-1-1 2-1 0-1-1-2-3-1 2-1 1-1 1-2-1-1 2-1 3-2-5-1-1-1 0-1 4-2-1-1 4-1-5-2-1-1 3-1 1-2 2-1 1-1-1-1-2-2 0-1 0-1 2-1-1-2-1-1 1-1-1-2 3-1 1-1 0-1-2-2 1-1 1-1-2-1 2-1 1-2 1-1-1-1 4-1-1-2-1-1 0-1 1-1 2-2 1-1 0-1 0-1 0-2-1-1 1-1 1-1 1-1-2-2 3-1 1-1-4-1 1-2 1-1 1-1 2-1 2-2 0-1-2-1 0-1 4-1-1-2 0-1-1-1 1-1 2-2-1-1 1-1 0-1 2-1 1-2 0-1 0-1-3-1 4-1 0-2-3-1 3-1 0-1 2-1 0-2 2-1 2-1-5-1 5-2-3-1 4-1-1-1 0-1-5-2 6-1 1-1 0-1 2-1 1-2-1-1 1-1-1-1-1-1 4-2 0-1-1-1 0-1 3-1-1-2-1-1 1-1 4-1-3-1 1-2 2-1 1-1 0-1-1-1 1-2 1-1-1-1 5-1-3-1 2-2-2-1 1-1 0-1 1-1-1-1 2-2 2-1 2-1 0-1 1-1 1-2-2-1 2-1 1-1-2-1 1-2 2-1 2-1-4-1 5-1-3-1 0-2 1-1-1-1 3-1 1-1 2-2 0-1 1-1 2-1 0-1-3-1 0-2 2-1 0-1 2-1-1-1 0-2 4-1-1-1 2-1 1-1-3-1 3-2 0-1 1-1 0-1-1-1 1-1-1-2 0-1 2-1-1-1 5-1-1-2 0-1 2-1-3-1 6-1-4-1 3-2 0-1-1-1 3-1-1-1 2-1 1-2-1-1 4-1-1-1-2-1 0-1 3-2-5-1 4-1 2-1 2-1-1-1 1-1-1-2 0-1 6-1-4-1 2-1 0-1 3-2-5-1 4-1-1-1 2-1 1-1-2-2 5-1-3-1 4-1-2-1 1-1 2-2-1-1 2-1 0-1 1-1-3-1 1-1 4-2 0-1 0-1 0-1-2-1 5-1 1-1-1-2-3-1 1-1 6-1-2-1 2-1-1-1 3-2 0-1-3-1 0-1 3-1 0-1 0-1 6-1 0-1 0-2 0-1 5-1-6-1 3-1-1-1 0-1 5-1-2-1-1-1 1-1 2-1 0-2-1-1 2-1 3-1-3-1 3-1 7-1-3-1-2-1 3-1-1-1 1-1 4-1-1-1 2-1-2-1 1-1 3-1 3-2-2-1-1-1 3-1 0-1-1-1 1-1 2-1-3-1 3-1-2-1 7-1-1-1 1-1-3-2 5-1 0-1-2-1 5-1-2-1 1-1 1-1-2-1 2-1 1-2 1-1 0-1 3-1-2-1-1-1 4-1-1-1 2-2 5-1-1-1 0-1-1-1 1-1-1-1 2-1 1-2 1-1 0-1-2-1 5-1-6-1 3-2 3-1 4-1-2-1 3-1-3-2-3-1 3-1-1-1 3-1-1-1 1-2 3-1 0-1 4-1-5-2 1-1 2-1-1-1-1-1 1-2-3-1 3-1 2-1 1-2-2-1 2-1 7-1-3-2-2-1-3-1 6-1-5-2-2-1 6-1 4-1-8-2 0-1 3-1 3-1-1-2 0-1 0-1 3-1 1-2-2-1 4-1-4-1 2-2-1-1 0-1 1-1-5-2 6-1 4-1 0-1-1-2-1-1-4-1 5-2-4-1 4-1 2-1-6-2 3-1 3-1-1-1 0-2 3-1 1-1-5-2-2-1 3-1 2-1 5-2-2-1-4-1 4-1-4-2 0-1 0-1 2-2 2-1 0-1-3-1 3-2-6-1 4-1-3-1 5-2 5-1-2-1-4-2 4-1 0-1-2-1 1-2-2-1 6-1-3-1-3-2 0-1 7-1-7-2 4-1-1-1 1-1 2-2 1-1-3-1 1-1 3-2-1-1 2-1-5-2 6-1 1-1-6-1 3-2 2-1-1-1 3-1 1-2 0-1-5-1 6-2-1-1-4-1 0-1 4-2-3-1 1-1-1-1 5-2-3-1 4-1-5-1 1-2 3-1 2-1 3-1-4-2-1-1-2-1 7-1-3-2 1-1 0-1 1-1-1-2 2-1 0-1 0-1 2-2 0-1-4-1 0-1 2-2 2-1 2-1 1-1 0-2-1-1-2-1 3-1 1-1-3-2 4-1 0-1-2-1 3-2 0-1-2-1 2-1 1-2-1-1-3-1 5-1-3-2 5-1 0-1 2-1-2-2-1-1 1-1-2-1 5-2 0-1-1-1 3-1-5-1 4-2-3-1-1-1 3-1 0-2 6-1-5-1-2-1 8-2-2-1 1-1-1-1 1-2 2-1 1-1-4-1 4-2-8-1 6-1 0-1 1-2 1-1 0-1 4-1-8-1 4-2 3-1 0-1-3-1 2-1 0-2 2-1 0-1-2-1 2-1-1-2 4-1 3-1 1-1 0-1-2-2-4-1 5-1-3-1 2-1 1-1 2-2 1-1-3-1-1-1 6-1 0-1-3-2 5-1-3-1 5-1 1-1 3-2-4-1-3-1 9-1-9-1 5-1-1-2 2-1 3-1 1-1-5-1-3-2 8-1 2-1-2-1 3-1-4-2 1-1-2-1 5-1-2-1 3-2-2-1 0-1-2-1 5-1-1-1 3-2-3-1 4-1-2-1 2-1-1-1 2-2 2-1 3-1-4-1 3-1 2-1-2-1 5-1-4-2 2-1 2-1-1-1 3-1 1-1 0-1-1-1-3-2 4-1 2-1-2-1 3-1 0-1 0-1 0-1 2-2 1-1-1-1 2-1-3-1 4-1 1-1-4-2 4-1 1-1-1-1 4-1 3-1 0-1-2-1 2-2 3-1-4-1 2-1 1-1 2-1-3-1 3-1-5-2 6-1-1-1 1-1 7-1-5-1-4-1 6-1 1-2-1-1 1-1 2-1 0-1-3-1 2-1 3-1 1-2 0-1 3-1 0-1-3-1 4-1 1-1-4-1 2-2 2-1-4-1 8-1 1-1-8-1 4-1 6-1 2-2-3-1 4-1-2-1 0-1 4-1-5-1 1-1 2-1 0-1-1-1 1-2 7-1-3-1-1-1-1-1 2-1 2-1-2-1 6-1-2-1 3-1-3-1 3-1-3-1 2-2 2-1 3-1-3-1 6-1-4-1 3-1 1-1 0-1-1-1 1-1 3-1-2-1 7-1-2-2-1-1-2-1 6-1 3-1-6-1-1-1 6-1 4-1-2-1-3-1 2-1 3-1-3-2 4-1 1-1 2-1-4-1 3-1 2-1-1-1 3-1-2-1-1-1 0-1 3-2 1-1 4-1-1-1-3-1 5-1 3-1-5-1 3-1-4-1 10-1-2-2 1-1-2-1 2-1-1-1 0-1 6-1-1-1-3-1 1-1 2-2 1-1 4-1-7-1 3-1-2-1 4-1 2-1 5-1-1-1 0-1-2-1 6-1-1-1-2-2 0-1 3-1-3-1 2-1 4-1-1-1 0-1 1-1 1-1 1-1 2-1-4-1 6-1-1-1 1-1 1-1 2-1 5-1-6-1 0-3-10 1-217 2-10 0-2 0-1 1-1 0-2 0-3 0-1 1 1 0-2 0-3 1-2 0-2 0-2 1-1 0-3 0-1 1-1 0-2 1-3 0-1 1-1 0-1 0-1 1-1 0-3 1 0 0-2 0-1 1 0 0-3 1 0 0-1 1-2 0-1 1-1 0-1 0-2 1 0 0-2 1 0 0-2 1-1 0-2 1-2 1-1 0-1 1-2 1-1 0-1 1-1 0-1 1-2 0-1 1-1 0-1 1 0 1-3 0-1 1-1 0-1 1 0 1-4 1-1 1 0 0-2 1-1 1-2 0 1 1-2 1-2 0-2 1 0 1-1 0-2 1 1 1-3 0 1 1-2 1-1 0-2 1-1 1 0 1-3 1 0 0-2 1-2 1 0 0-1 1-2 1 0 0-2 1 0 1-2 0-1 1-1 1-3 1-1 1-1 1-2 1-1 0-1 1-2 1 0 0-2 1 0 1-1 0-2 1-2 1-1 1-1 0-1 1-1 1-1 1-1 0-1 1-1 1-1 1 1 1-3 1-1 1 0 0-1 1-2 1-1 1-1 1-1 1 1 1-3 1 0 1-1 1 0 1-1 0-2 1-1 1 1 1-1 1-2 1-2 1 1 1-3 1 1 1-1 1-2 1 1 1-3 1 0 1 0 1-2 1-1 1-1 1 0 1 0 1-2 1-2 1 1 1-1 1 0 2-3 1 1 1-1 1-1 1 0 1-1 1-2 1 1 1-2 1 0 1-1 1-1 1-1 1 0 1-1 1 0 1-1 1-1 2 1 1-3 1-1 1 0 1 0 1-1 1-1 1 0 1-2 1 0 1-2 2 1 1-2 1 0 1 0 1-1 1-1 1-1 1 0 2 0 1-2 1-2 1 1 1 0 1-1 1-1 2 0 1 0 1-2 1-1 1 0 1-2 1 1 2-2 1 1 1-1 1-1 1 0 1-1 1 0 2-1 1-1 1 1 1-3 1 0 1-1 1-1 2 1 1 0 1-1 1-1 1-2 1-1 2 0 1 0 1 0 1-1 1-1 1-1 2 1 1-1 1-2 1 1 1-1 1 1 2-3 1 1 1-1 1-2 1 0 1-1 2 1 1 0 1-1 1 0 1-1 2 0 1-1 1-1 1 0 1-1 2 0 1-1 1-1 1-1 1 0 2 0 1 0 1-2 1 0 1 0 2-1 1 0 1 0 1-1 1 0 2 0 1 0 1-1 1-2 1-1 2 0 1 0 1-1 1 0 2-1 1 0 1 0 1 0 1-2 2-1 1 2 1-2 1 1 2-1 1-1 1-1 1 1 1 0 2-1 1 0 1-1 1-2 2 1 1 0 1-1 1 0 2-2 1 1 1 0 1-3 2 2 1-1 1 0 1-1 2 0 1 0 1-1 1-1 2 2 1-3 1 1 1 0 2-1 1 1 1-2 1 0 2 0 1 1 1-2 1 1 2-2 1 0 1 0 1 0 2-1 1-1 1 0 1 0 2 0 1 1 1-2 1 1 2 0 1-2 1-1 1 1 2-2 1 2 1-1 2 0 1-1 1-1 1 1 2-1 1-2 1 0 1 1 2 0 1 0 1-1 1-1 2 0 1 1 1-2 2-1 1 2 1 0 1 0 2-1 1 0 1-1 1-1 2 0 1 1 1-1 2 0 1 1 1-2 1 1 2-2 1 0 1 1 1-1 2-1 1 1 1-2 2 1 1 0 1-1 1 0 2 0 1-1 1 1 1-1 2-1 1 0 1 0 2-1 1 0 1 1 1-1 2-1 1-1 1 2 1 0 2-1 1 0 1-2 2 2 1-1 1-1 1 1 2-1 1 0 1-1 2 0 1 0 1 0 1-1 2 0 1 0 1 0 1-1 2 0 1 0 1-1 1 2 2-2 1 0 1-2 1 0 2 0 1 0 1-1 1 0 2-1 1 1 1-1 1 0 2-1 1 0 1-1 1 1 2-2 1 0 1 1 1-3 2 0 1 0 1 0 1-1 2 0 1 0 1-1 1-1 1 2 2-3 1 0 1 1 1-2 2 0 1-1 1 0 1 0 1 0 2-1 1-1 1-2 1 1 1 0 2 0 1-2 1 0 1-1 1 0 2 1 1-3 1 1 1-1 2 0 1-1 1-2 1 1 1 0 2-1 1-1 1 1 1-1 1-1 1 0 2-1 1 1 1 0 1 0 2-3 1 1 1-1 1 0 2-1 1-1 1 0 1 0 1-1 2-1 1-1 1 0 1 1 2 0 1-2 1-1 1 2 1-2 2-1 1 0 1 1 1-2 2 2 1-1 1-2 1-3 1 1 2 3 1-1 1-1 1-1 1-1 2-1 1-2 1 2 1-1 1-3 2 0 1 2 1-2 1 3 2-3 1-3 1 1 1-1 1-1 2 2 1-3 1-1 1-3 1 5 2-1 1-5 1 6 1-4 1 4 2-4 1-2 1 2 1 1 1-5 2 2 1 0 1-2 1-2 1 0 2 3 1-1 1-1 1 2 1-3 2 1 1-1 1-2 1-1 1 1 2-3 1 1 1-6 1 2 1-1 2 6 1-8 1 4 1 1 1-3 2 0 1 0 1-5 1 4 2 2 1-2 1-2 1 0 1 1 2-4 1 2 1 1 1-5 1 2 2 1 1 2 1-6 1 3 2 2 1-3 1-2 1 0 2-3 1 5 1-6 1 2 2-1 1 2 1-2 1 3 2-7 1 0 1 3 2-3 1 4 1 0 1 0 2-4 1 0 1 0 1 2 2-1 1 1 1-2 2 4 1-3 1 0 1-6 2 3 1 3 1-3 2 0 1-1 1 1 2 2 1-1 1 2 1-4 2 2 1 0 1-1 2-3 1 3 1 0 1-3 2 6 1-4 1-2 2 5 1-5 1 3 2-4 1 5 1-1 1-1 2-2 1 0 1 5 2-3 1 2 1-4 2 2 1-2 1 3 2-5 1 6 1-4 1 3 2-1 1 0 1 0 2 4 1-6 1 1 2 3 1 0 1 1 1-2 2-1 1 1 1 1 2 0 1-1 1-2 2 2 1 3 1-4 1 4 2-5 1 1 1-1 2 5 1-3 1 1 1 3 2-2 1-3 1 1 2-1 1 5 1-2 2-2 1 2 1 2 1 0 2 3 1-5 1 3 2 0 1-1 1-6 2 3 1 7 1-6 1 3 2-2 1 5 1-2 2-3 1 0 1 3 1 1 2-2 1 2 1-1 2 0 1 0 1-3 2 2 1 2 1-1 1 4 2-6 1 4 1 4 2-4 1 1 1-2 1 0 2 2 1-3 1 0 2-1 1 1 1 5 2-1 1 1 1-2 1 1 2-3 1 2 1 2 2-3 1-2 1 5 1-4 2 4 1-2 1 0 2 0 1 0 1 3 2 0 1 1 1-2 1 0 2 1 1-2 1 0 2 1 1-1 1-2 2 1 1 4 1-1 1-1 2 2 1 0 1 2 2-1 1-1 1 0 2 0 1-5 1 9 1-7 2 5 1-3 1-1 2 5 1-5 1 1 2-4 1 7 1-3 1 0 2 4 1-3 1-5 2 7 1-3 1 0 2 0 1-2 1 3 1 1 2 3 1 1 1-5 2 6 1-5 1 4 2-2 1-1 1-6 1 9 2-6 1 5 1-6 2 0 1 1 1 0 2 1 1 3 1 1 1 0 2 2 1-1 1-1 2-1 1 4 1-4 2-5 1 3 1 6 1-4 2-1 1 4 1-2 2 0 1 0 1 3 2-3 1 0 1 0 1-2 2 1 1 5 1-4 2 3 1-5 1 1 2-1 1 2 1 2 1-3 2 0 1-3 1 6 2 0 1-2 1 2 2-1 1-2 1-4 2 4 1-2 1 3 1 1 2-3 1-3 1 7 2-1 1 0 1-5 2 2 1 3 1 0 1 0 2-8 1 10 1-6 2 0 1 3 1-3 2 0 1 2 1-1 1 0 2-1 1-2 1 2 2 0 1 0 1 2 2 3 1-7 1 3 1 1 2-4 1 1 1 1 2 0 1 0 1-1 2 3 1-5 1 5 1 0 2 0 1-5 1-1 2 3 1-1 1 0 2 5 1-6 1 5 1 1 2 0 1 2 1-3 2-2 1-4 1 3 2-1 1 6 1-3 1-2 2-3 1 0 1 2 2 2 1 1 1-1 2-1 1 2 1-5 1 1 2 0 1 2 1 1 2-3 1-3"/>
<path d="M1570 456l0 64-2-37-1 9 0-5-1 7-1-1-1 2 0 1-1-3-1 2-1 0 0 1-1 5-1-3-1 2 0-2-1 6-1-3-1 9 0-4-1 1-1 2-1-1-1 1-1 2 0 2-1 2-1-1-1-3-1 5-1 0-1 1-1 2-1 1-1 5-1-4-1 0-1 2-1 1-1 4-1-4-1 4-1 0-1 0-1 1-1 1-1-2-1 2-1 2-1 3-1 0-1-1-2 1-1 1-1 1-1 1-1-4-1 3-1 6-1-2-2-2-1 0-1 2-1-2-1 1-2 4-1 1-1-1-1 0-1 0-1-1-2 1-1 1-1 2-1-1-1 1-1 5-1-3-1 3-2-1-1-1-1 1-1-1-1 5-2 0-1 0-1 0-1-1-2 0-1 3-1-1-1 0-2 0-1 1-1-1-1 2-1 2-2 1-1-3-1 2-1 0-2-2-1 0-1 4-2 3-1-2-1 1-1 2-2-1-1-4-1 2-1-1-2-2-1 5-1-3-2 4-1-3-1 1-2-1-1 1-1 2-1-1-2 0-1-1-1 2-2-3-1 2-1 1-1-1-2 3-1-2-1-2-2 2-1 1-1 0-1-3-2 4-1-2-1 1-2-3-1 7-1 0-1-3-2-2-1 3-1 3-2-1-1 3-1-6-1 5-2-3-1 1-1 2-1-1-2-1-1-2-1 4-1-1-1 6-2-5-1 4-1-2-1 3-2 0-1 1-1-1-1 1-1-1-2-1-1 5-1 1-1-2-1 3-2-4-1 2-1 0-1 2-1-2-2 2-1 2-1 1-1-1-1 3-2-4-1 3-1 2-1-4-2 2-1 1-1 2-1 0-1-2-2 1-1 1-1 2-1 1-1-2-2-1-1 0-1 4-1 1-2-2-1 0-1 0-1 2-1-2-2 2-1 2-1-3-1 4-1-1-2 3-1-4-1 5-1-3-1 3-2 1-1-1-1 1-1 0-2 1-1 2-1-3-1 3-1 2-2 0-1-2-1 2-1 1-1 1-2-4-1 0-1 6-1-1-1 0-2 0-1 2-1 1-1 0-1-2-2 2-1 3-1-2-1-1-1 4-2-2-1 1-1 3-1 0-1-3-2 3-1 1-1 1-1-1-1 0-2 3-1-4-1 1-1 1-1 3-2 1-1-1-1 2-1-2-1 0-2 2-1-2-1 1-1 3-1 0-1-1-2 4-1-1-1 0-1 1-1 2-2 2-1-4-1 2-1 0-1 2-2-2-1 2-1 3-1-2-1-1-1 3-2 1-1-2-1 4-1-1-1 2-2 0-1-1-1 0-1 2-1-2-1 0-2 5-1-4-1 2-1 1-1 1-2-2-1 1-1 4-1-1-1-2-1 4-2 1-1-1-1-1-1 5-1 2-2-5-1-1-1 7-1-3-1 2-1 0-2-2-1 2-1 0-1 2-1-1-1 4-2-2-1 3-1-4-1 3-1 1-1-1-2 3-1-1-1 4-1 0-1-2-2 0-1 1-1 3-1-1-1-1-1 0-2-2-1 6-1-2-1 2-1 1-1-2-2 2-1 1-1 3-1-2-1 0-1 1-2 0-1 3-1-4-1 3-1 1-1 2-2 0-1-2-1 1-1-1-1 3-1 1-2-3-1 5-1 5-1-4-1-1-1 0-1 5-2-2-1-1-1-1-1 6-1-7-1 7-1-2-1 5-2-2-1 0-1 5-1-6-1 6-1 1-1-7-1 4-1 1-1 2-1 2-1 0-2 2-1-1-1-2-1-1-1 3-1 2-1 0-1 4-1 0-1-3-1 2-1 2-1 8-2-4-1-2-1 3-1 2-1-4-1 7-1-5-1 5-1 2-1-3-1 2-1-3-2 7-1-1-1 4-1-2-1-3-1 0-1 0-1 1-1 6-2-7-1 2-1 1-1-1-1 2-1 6-1-3-1 2-2 0-1 2-1 2-1 0-1-1-1-1-1-1-2 4-1 2-1 1-1-1-1-2-1 1-2 4-1-2-1-1-1 0-1 1-1 5-2 0-1 3-1-2-1 0-1 3-2 0-1-3-1-5-1 6-1-1-2 6-1-2-1-2-1-1-1 5-2 2-1-6-1 5-1-2-2 2-1 5-1-8-1 5-2 4-1-5-1-2-1-3-1 5-2 3-1-3-1 6-1-8-2 2-1 5-1-1-1 2-2 0-1-2-1 1-1 5-2-3-1 3-1-2-1 3-2-2-1-2-1-1-1 6-2-4-1-2-1 7-2-2-1 0-1-3-1 5-2-2-1-2-1 2-1-1-2 7-1-5-1 2-1 3-2 2-1-6-1-1-2 5-1 0-1 5-1-7-2 5-1-1-1-2-1-7-2 8-1-1-1-4-2 7-1-3-1-1-1 2-2 4-1 2-1-2-1-1-2 0-1-4-1 1-2 3-1 0-1-1-1 6-2 0-1-5-1 5-1-2-2 6-1-3-1 0-2-1-1 1-1-2-1 5-2-4-1-4-1 4-1 3-2-6-1 0-1 4-1 4-2-1-1-8-1 8-2-2-1-1-1 3-1 6-2-9-1 3-1-5-1 7-2 0-1 0-1 1-1-4-2 3-1 0-1-1-2 4-1 0-1-3-1 3-2 1-1 0-1 1-1-1-2 0-1-3-1 2-1 3-2 0-1-3-1 3-1 2-2 3-1-2-1-1-1 3-1-6-2 5-1-2-1 7-1-7-2 5-1 3-1-5-1 0-2 2-1-1-1-1-1 1-2 4-1 0-1-3-1 0-1 3-2 1-1 0-1 1-1 5-2-2-1-1-1-2-1 6-2-5-1 2-1-6-1 8-2-6-1 3-1 5-1-3-2-1-1 4-1 2-1-2-1 1-2-3-1 3-1-1-1-3-2 5-1-1-1 1-1 1-2 0-1 3-1-3-1 3-2-3-1 3-1 0-1 2-2 4-1-5-1 2-1-4-1 2-2 2-1 3-1-5-1 3-2 4-1-7-1 6-1-2-1 6-2-5-1-1-1 6-1 1-1-2-2 4-1-5-1 2-1-2-1 1-2 3-1-1-1 6-1-6-1 3-1-5-2 6-1-1-1 0-1 3-1-1-1-1-2 5-1-1-1-1-1 5-1-3-1 3-2 1-1-3-1 2-1 0-1-2-2 2-1 6-1-4-1 5-1-2-2-5-1 4-1 3-1-2-1 2-1 0-2-2-1 5-1 3-1-6-1 1-2 2-1 2-1-2-1 4-1-3-2 0-1-3-1 7-1 1-1-3-1 3-1-2-2 1-1 6-1-1-1-6-1 7-1-1-1 5-2-3-1 0-1-2-1 2-1 1-1-2-1 6-1-3-2 3-1 1-1-5-1 4-1 0-1 1-1-1-1 4-2-3-1 2-1 1-1 1-1 1-1 1-1 2-1 5-2-6-1 1-1 0-1 7-1-8-1 2-1 5-1 0-2-4-1 7-1-5-1 1-1 6-1 1-1 0-1-1-2 2-1-3-1 7-1-8-1 6-1 3-1-5-1 2-2 2-1 4-1-1-1 1-1-2-1 2-1 1-1 3-2-7-1 5-1 0-1 0-1 6-1-6-1 4-1 0-2 1-1-2-1-1-1 9-1-2-1-2-1-1-1 3-2 0-1 0-1 4-1-1-1 0-1 1-1-1-1 4-1 0-1-5-1 7-2-2-1 1-1 3-1-1-1 2-1-4-1 7-1-2-1 4-1-2-1 1-1 3-1 0-1-1-2 2-1 4-1-4-1 0-1 3-1-4-1 5-1-1-1 2-1-5-1 8-1-1-1-1-1 5-2-3-1-2-1 2-1 3-1 0-1 1-1 0-1 3-1 2-1-4-1 6-1-4-1 5-2 1-1-2-1 0-1-1-1 8-1-8-1 5-1 0-1 4-1 0-1-2-1 0-1 7-2-5-1 0-1 6-1-4-1-1-1 5-1-2-1-3-1 5-1 2-1-4-2 4-1 4-1-3-1-1-1 1-1 5-1-2-1 3-1-1-1-1-1 5-2 3-1-6-1 4-1 1-1 0-1 1-1 4-1 3-1-5-1 0-1 3-1-3-1 1-1 4-2 2-1-1-1 1-1-6-1 4-1 3-1 3-1-4-1 5-1-1-1 2-1-1-1 4-1-3-1 6-1-4-1 3-1-3-1 2-2-10 1-218 1-10 0-1 1 1 0-4 0-2 0-2 1 0 0-2 0-3 0-2 1 1 0-2 0-1 0-2 1 0 0-2 0-2 0-1 1-3 0 1 0-1 1-3 0-1 1 0 0-1 0-4 1 1 0-2 1 0 0-1 0-3 1-1 0-2 1 0 0-1 1-1 0-3 1-1 0-1 1-2 0-1 1-1 0-1 1 0 0-1 1-2 0-2 1-2 0-1 1-1 1-3 0 1 1-1 0-1 1-3 0-1 1 1 0-1 1-3 1-1 0-1 1-1 0 1 1-2 1-2 0-2 1 0 1-2 1-2 1-1 0-1 1 0 1-3 0-1 1-1 1 0 0-1 1-2 1 0 0-2 1-1 1 0 0-3 1-1 1 0 0-2 1-1 1 1 0-4 1-1 1 0 0-1 1-3 1 1 0-1 1-2 1-1 0-1 1-2 1-1 1-1 1-3 0 1 1-2 1-1 1-3 1-1 0-1 1-1 1-1 1-2 1 1 1-4 0 2 1-3 1 0 1-2 0-2 1 0 1-2 1 0 1-1 1-2 1 2 0-2 1-3 1-1 1 0 1-1 1-1 1-1 1 1 1-4 1 1 0-1 1 0 1-3 1 0 1 0 1-2 1-1 1-1 1-1 1-1 1-1 1 0 1-1 1 0 1-2 1-1 1 0 1-1 1-1 1 0 1-2 1-1 1 0 1-1 1-1 1 0 1 0 1-1 1-1 1 0 2-2 1-1 1-1 1-2 1 0 1-1 1-1 1 0 1 0 1-1 1-1 1 1 1-3 1 0 1 0 1-2 2 0 1-2 1 1 1-1 1-2 1 0 1 0 1-2 1 0 1-1 1 0 2-1 1 0 1-1 1 0 1-1 1-2 1 0 1 0 2 0 1-2 1-1 1 1 1-2 1 0 1-2 2 0 1-1 1-1 1 1 1-1 1-1 1-1 2-1 1 1 1 0 1-2 1-1 1 0 1-2 2 0 1 0 1 0 1-1 1-1 1-1 1 0 2-1 1-1 1 0 1-1 1 1 1-2 2 1 1-3 1 1 1 0 1-1 1-1 2-3 1 1 1 0 1 1 1-2 1 0 2-1 1 1 1-2 1 1 1-3 2-1 1 1 1-1 1 0 1-1 1 0 2-2 1 0 1 0 1 0 1-1 2-1 1 1 1-2 1 0 1 1 2-4 1 2 1-1 1-1 1 0 2 0 1-1 1 1 1-3 1-1 2 1 1-1 1 0 1-1 2 0 1 0 1-2 1 0 1 1 2-2 1 0 1 2 1-2 2-2 1 1 1 0 1-2 1 1 2-1 1-2 1 1 1 0 2-1 1 0 1-1 1 0 1-1 2 1 1-1 1 1 1-2 2-1 1 0 1-1 1 0 2 2 1-4 1 0 1 0 2 1 1-1 1 0 1 0 2-1 1 0 1 0 1-1 2-1 1 1 1-1 1 0 2-1 1 0 1 0 1 0 2-1 1-1 1-1 1 1 2-1 1 0 1 1 2-2 1 2 1-2 1 0 2 0 1-1 1 0 1-2 2 1 1 1 1-1 1 0 2-1 1-1 1 0 1 0 2 0 1 1 1-2 2-1 1 0 1 1 1-1 2-2 1 1 1 1 1-1 2 0 1-1 1-1 2 1 1 0 1-1 1-1 2 0 1 0 1 1 1-2 2 0 1-1 1 1 2-1 1 0 1 0 1 0 2 1 1-1 1-1 1 1 2-1 1 0 1-2 2 1 1 0 1 0 1-1 2 1 1-1 1-2 2 1 1 0 1-1 1 2 2-1 1-1 1 0 1 0 2-1 1 0 1-1 2 1 1 0 1-2 1 2 2-1 1-1 1 0 2 1 1 0 1-1 1 0 2-1 1 0 1 1 2-2 1 0 1 0 1-2 2 1 1-1 1 1 1-2 2 1 1 0 1 0 2 0 1 0 1-1 1-1 2 0 1 0 1 1 1-1 2 0 1-1 1-1 1 1 2-1 1-1 1-1 1 1 2-1 1 1 1 0 1-1 2-1 1 0 1-2 1 0 2 0 1 0 1-2 1 1 2-1 1 0 1 1 1-1 2-1 1 0 1-1 1 0 2 0 1-2 1 0 1 0 1 0 2 1 1-3 1 0 1 0 1 0 2-1 1 0 1-1 1 0 2-1 1 0 1-1 1-2 1 2 2-1 1-1 1 0 1 0 1-1 2 1 1-2 1 1 1-2 2-3 1 2 1-1 1 1 1-2 2 1 1-1 1-1 1 0 2-1 1-1 1 1 1-2 1 0 2-1 1 2 1 0 1-3 1 0 2-2 1-1 1 2 1 2 1-4 2 1 1-4 1 5 1 0 1-4 2 0 1 2 1-3 1-3 1 2 1-4 2 4 1-1 1 0 1-1 1-1 2-2 1 1 1-2 1-1 1 6 2-10 1 4 1-2 1-1 1 1 1 0 2 1 1-6 1 4 1-2 1 2 2-5 1-3 1 4 1-1 1-2 2 0 1 3 1-3 1 2 1-1 1-4 2-4 1 6 1-4 1-1 1 3 2 1 1 0 1-4 1 0 1-3 2 2 1 0 1 3 1-5 2-2 1 4 1-4 1-2 1 3 2-1 1-1 1-2 1 1 1-3 2-1 1 4 1 1 1-2 2 1 1-1 1 2 1-6 2 1 1-1 1 2 1 0 1-4 2-1 1-2 1-1 2 6 1-4 1 4 1-3 2 2 1-1 1 0 1 0 2-3 1 2 1-2 1-2 2 1 1 1 1-2 2 4 1-5 1-1 1 1 2 3 1-3 1 2 2 0 1-4 1 2 1 2 2 0 1-2 1 1 2-1 1 1 1-5 2 1 1 4 1-2 1-3 2 3 1 0 1-3 2 3 1-1 1 2 1-2 2 0 1 2 1-2 2-1 1-1 1 0 2 0 1 1 1 0 1 0 2-1 1 4 1-3 2-2 1 3 1 2 2-2 1 0 1-2 2 3 1 0 1 1 1-1 2 3 1-2 1 0 2 1 1-5 1 4 2 0 1 0 1-2 1-2 2 1 1-1 1 3 2-2 1 2 1 0 2 0 1-1 1 0 1 4 2-6 1 4 1-2 2 0 1 1 1 5 1-3 2 1 1 0 1 1 2-2 1 3 1-3 2-1 1 1 1 0 1 4 2-7 1 2 1 2 2 0 1-1 1-1 1 2 2 1 1-3 1 2 2 1 1 0 1 3 2-6 1 4 1 0 1-3 2 4 1-3 1 2 2-2 1 1 1 3 2 1 1-2 1 0 1 0 2 2 1-1 1-5 2 8 1-5 1-2 1 2 2 1 1 0 1-2 2 4 1-2 1 2 2 3 1-3 1-5 1 2 2 2 1 2 1 2 2-4 1 1 1 1 1 1 2 1 1 0 1-4 2 4 1-4 1 2 2 2 1 0 1-1 1-2 2 4 1-1 1-6 2 8 1 0 1-7 2 8 1-2 1 0 1-4 2 1 1 2 1 2 2-1 1 3 1-5 2-2 1 1 1 4 1 0 2 1 1-1 1 1 2-1 1 1 1 1 2-1 1-3 1-1 1 2 2 7 1-6 1-2 2 0 1 0 1 4 2 1 1-6 1 1 1 1 2-5 1 6 1 0 2 1 1-3 1 1 2 2 1-1 1 3 1 1 2-3 1 0 1 0 2 6 1-7 1-2 2-1 1 0 1 5 1-1 2 0 1-7 1 11 2-2 1-7 1 6 2-3 1 9 1-6 1-2 2-2 1 7 1-5 2 0 1 2 1-1 2-3 1 6 1-3 1 4 2-3 1 1 1 3 2-3 1-2 1-3 2 3 1-3 1 2 1 0 2 1 1 3 1-1 2 0 1-2 1 0 2-3 1 7 1-5 1 2 2 0 1-5 1 6 2-3 1 3 1 2 2-5 1 2 1-3 1 2 2 0 1-1 1 1 2 1 1-1 1 1 2-1 1-2 1-2 1 4 2 0 1 2 1-3 2 1 1-1 1-2 2 0 1-7 1 9 1-3 2 4 1 1 1-4 2 0 1 2 1 0 2 2 1-5 1 2 1 5 2-5 1 4 1-3 2-3 1 4 1 0 2-4 1 7 1-2 2 0 1-7 1 1 1 0 2 2 1 2 1 1 2 0 1-5 1 7 2-6 1-1 1 1 1 5 2-11 1 10 1-5 2 0 1-5 1 6 2-1 1 0 1-2 1 2 2-2 1 3"/>
<path d="M1570 467l-2 22-1 3 0-4-1 0-1 3-1 3 0 2-1-5-1 6-1 4 0-3-1 4-1-3-1 4 0-2-1 2-1-1-1 6 0 3-1-4-1 3-1-1-1 2-1 2 0 1-1 0-1 2-1 2-1 4-1-2-1 0-1-1-1 1 0 2-1 1-1 1-1-1-2 2-1 0-1 2-1 0-1 2-1 1-1-1-1 3-1 0-1 3-1-7-1 4-1 1-1 5-1-2-2 1-1 0-1 0-1 1-1 1-1-4-1 4-2 0-1 2-1 0-1-1-1 1-2-1-1 2-1 4-1-2-1 4-1-5-1 6-2-3-1 4-1-3-1 3-1 3-1-4-1 4-2 1-1-4-1 3-1 0-1-1-1 4-2 0-1 0-1-1-1 1-1 1-2 1-1 2-1-2-1 0-1 4-2-1-1-3-1 5-1 1-2 1-1-1-1-2-1 1-1 2-2 1-1-2-1 2-1 1-1-3-2 2-1 5-1-5-1 2-2-2-1 2-1 1-1-2-2 4-1 1-1-1-2-4-1 3-1 0-1 1-2 2-1-3-1 3-1-1-2 2-1 0-1 0-1 2-2 1-1-5-1 3-1-4-2 4-1 3-1-4-1 2-2 0-1 0-1 2-2 1-1-2-1-1-1 2-2 2-1 0-1 2-1-1-2-1-1 1-1-2-1 5-2-3-1 0-1 1-1 2-1-1-2-2-1 7-1-3-1-2-1 0-2 4-1-2-1 2-1-1-1 2-2 2-1-3-1 6-1-4-1 3-2 2-1-1-1 1-1-3-2 0-1 3-1 0-1 2-2-1-1 0-1 0-1 0-2 1-1-2-1 1-2 2-1 1-1-1-1 2-2 0-1 0-1 0-1-1-2 3-1-1-1-1-1 2-2 1-1-1-1 0-1-1-2 1-1 2-1 0-1-2-2 5-1-2-1 0-1-1-2 2-1-2-1 3-1-1-2 2-1-3-1 3-1 1-2 0-1 1-1-1-1 3-2-2-1-1-1-1-1 5-2-3-1 3-1-2-1 0-2 4-1-3-1 3-1-3-2 1-1 2-1 0-1-1-2 3-1-2-1 3-1 0-1-2-2 3-1 0-1 4-1-2-2 0-1 2-1-4-1 1-1 1-2 0-1 3-1 1-1 3-1-4-1 0-2 3-1 0-1 1-1-1-1 2-2 0-1 0-1 2-1-3-1 4-2 2-1-3-1 5-1-2-1-1-2 3-1-3-1 0-1 2-1 2-1-1-2 0-1 0-1 5-1-1-1-3-2 1-1 3-1 2-1-2-1 3-2 0-1-2-1 0-1 3-1 1-2-2-1 2-1-2-1 4-1 1-1-1-2 2-1 1-1-3-1 4-1-2-2 2-1 0-1 0-1 1-1 3-2-3-1 2-1 2-1 0-1 0-1-1-2 2-1 0-1 0-1 2-1 2-2-1-1-1-1 0-1 3-1 0-1 1-2-1-1 0-1-1-1 4-1-2-1-1-2 2-1-1-1 1-1 5-1-2-2 0-1 0-1 0-1 0-1 4-2-1-1 1-1-3-1 2-1 5-1-2-2 2-1-2-1 4-1 0-1 1-1-1-2-1-1 1-1 1-1 1-1-1-2 1-1 1-1 1-1 3-1-1-1 5-1-3-2-3-1 3-1 2-1 4-1-5-1 1-1 2-2 0-1-2-1 4-1 0-1 4-1-3-1 5-1-2-2 1-1-1-1-2-1-1-1 4-1-3-1 6-1-3-1 0-1 8-1 1-1 1-2-4-1 0-1 2-1 2-1 2-1-2-1 0-1 1-1-2-1 5-1-1-2 6-1-5-1 3-1-2-1 5-1 3-1 1-1-6-1 6-1-1-2 2-1-2-1 1-1 0-1-2-1 3-1 5-1-7-2 6-1-4-1 3-1 5-1-6-1 6-1-6-2 8-1-4-1 10-1-9-1-1-1 1-1 3-2-1-1 2-1-1-1 5-1 3-1-6-2 4-1-1-1 2-1 1-1-1-2-1-1-4-1 11-1-8-1 7-2-3-1 2-1-4-1 5-1-2-2 0-1 1-1 2-1-2-1 2-2-2-1 6-1-4-1 4-2-3-1 0-1 1-1 2-1 2-2 1-1-2-1 2-1-3-2-3-1 9-1-3-1 2-2-5-1 5-1 0-1 3-2-5-1 4-1-1-1 1-2 3-1-2-1 1-1 0-2 0-1 0-1 0-1 1-2 0-1 0-1-1-1-2-2 3-1-2-1 7-1-6-2 2-1 3-1-2-2 1-1 3-1-4-1 6-2-6-1 4-1-3-1 1-2-2-1 6-1-1-1-4-2 7-1-5-1 2-2-1-1-2-1 10-1-8-2 1-1 5-1-3-1-2-2 5-1 4-1-4-1-3-2 0-1 1-1-1-2 1-1 1-1 1-1 1-2 5-1-8-1 4-1 0-2-3-1 8-1-1-1-7-2 9-1-7-1 5-2 2-1-4-1 4-1-6-2 2-1 0-1 2-1 5-2 0-1-6-1-1-1 4-2-2-1-1-1 3-1 2-2-1-1 0-1 0-2 3-1 1-1-1-1-2-2 2-1-1-1-2-1 4-2 1-1 1-1 1-1-3-2 0-1 3-1 2-1-2-2 1-1-3-1-1-1 4-2-1-1-4-1 7-1 2-2 3-1-6-1 0-1 2-1-1-2 5-1-1-1-3-1 4-2-1-1 1-1-4-1-1-1 7-2-2-1 2-1 1-1-1-2 5-1-2-1-7-1 6-2 2-1 0-1 0-1-2-1 2-2 1-1 2-1-1-1 0-2 1-1-1-1 4-1-3-2 5-1-5-1 3-1-1-2 3-1 0-1-3-1 7-1-1-2-1-1-2-1-2-1 5-2-2-1 2-1-5-1 4-2 4-1 0-1-1-1 2-2-4-1 7-1-5-1-1-1 1-2 3-1 2-1-5-1 5-2 1-1 1-1-2-1 1-1-4-2 1-1 8-1-3-1-1-2 5-1-3-1 0-1 3-1 1-1-7-2 1-1 7-1 1-1-5-1 4-1 3-2 0-1-1-1 4-1-5-1 3-1 0-2-1-1 1-1 3-1 0-1 1-1-5-2 8-1-2-1 1-1 0-1 3-2-4-1 2-1-1-1 5-1 1-1-4-2 7-1-6-1 1-1 2-1-2-2 2-1-2-1 2-1 2-1 3-2-4-1-2-1 2-1 0-1 4-1 2-2 1-1-5-1 9-1-7-1 3-1 1-2-2-1 5-1-3-1 2-1-1-1 1-1 2-2 0-1 1-1 2-1-3-1 3-1-3-1 7-1-2-2 3-1-2-1 1-1 1-1 0-1 0-1 5-1-1-2-1-1 2-1 0-1 5-1-1-1-2-1-1-1 6-2-7-1 5-1 2-1 1-1-5-1 4-1-1-1 2-2-1-1 3-1-1-1 2-1-2-1 2-1 0-1 5-2-2-1 2-1-3-1 4-1-1-1 3-1-2-1-3-2 7-1-6-1 7-1 0-1 5-1-6-1 7-1-1-1-1-2 4-1-5-1 0-1 0-1 4-1-2-1 8-1-2-2 1-1-4-1 0-1-1-1 2-1 6-1-3-1 2-2 0-1-3-1 8-1-4-1 2-1 1-1-1-1 3-1-3-1 6-2-1-1 0-1 0-1 0-1 3-1 3-1 0-1-2-1 0-1 5-1-1-1 2-1 1-1-2-2 2-1-2-1 1-1 2-1-2-1 1-1 4-1-2-1 2-1 6-1-6-1 4-1 1-1 2-1 2-2 0-1 0-1-5-1 2-1 4-1-6-1 8-1 1-1 3-1-4-1 4-1-6-1 3-1 2-2 5-1-4-1 3-1 1-1-3-1 2-1-3-1 11-1-2-1-3-1 0-1 3-1 5-2-7-1 2-1-2-1 7-1 1-1-3-1 0-1 4-1 3-1-1-1 0-1 0-2 4-1-5-1 3-1 2-1 1-1-2-1 1-1 3-1 0-1-1-2 1-1 2-1 1-1 0-1 1-1-2-1 3-1-1-1 4-1 3-1-4-1 7-1-6-1 2-2 0-1 1-1 2-1 2-1 0-1 0-1 4-1-2-1 1-1 1-1 4-1-3-1 0-1 1-1 3-1 2-1 1-1-7-1 7-1-1-2-10 1-217 1-10 0-3 1-2 0 1 0-3 0-1 0-2 1-1 0-2 0-1 0-2 1 0 0-3 0-2 1 0 0-3 1-3 0-2 0-1 1-2 0-1 1-1 0-2 0 1 1-3 0-2 1 0 0-3 1 0 0-3 1 0 0-1 1-1 0-1 1-1 0-3 1 0 0-2 0-1 1-1 0-1 1-1 0-1 1-2 1-2 0-1 1 0 0-2 1 0 0-2 1-2 1-1 0-3 1 0 1-1 1-4 0 1 1-2 1-1 0-2 1 0 0-1 1-2 1-1 0 1 1-3 1-2 1 0 1-2 0-2 1 0 1-2 1-1 1-2 1-1 0-2 1-1 1-1 1 0 1-1 0-3 1 0 1-2 1-2 1-1 0-1 1-1 1-2 1-2 1-3 1 0 0-1 1-1 1-2 0-1 1-2 1-2 1 0 1-1 0-3 1 0 1-1 0-2 1 0 1-1 1-1 0-1 1-1 1 0 1-2 1-2 1-2 1 0 1-1 1 0 1-1 1-2 0-1 1-1 1-1 1-1 1 0 1-2 1-1 1 0 1-2 1 1 1-2 1-1 0-1 1-2 1 1 1-2 1 0 1-1 1-1 1 0 1-2 1-1 1 0 1-2 1 0 1-2 1 0 1-1 1 0 1-1 1-1 1-2 1-1 1 1 1-2 2-1 1 0 1-1 1 0 1-3 1 1 1 0 1-1 1-1 1-1 1-1 1-1 1-2 1 1 1-2 1 2 1-2 1 0 1-1 2-2 1-1 1 0 1-1 1-1 1-1 1 1 1-1 1-1 1-1 1-1 2-2 1 1 1 0 1-2 1 0 1-1 1 0 1-1 2-1 1 0 1-2 1 1 1-2 1 0 1 0 1-2 2 1 1-2 1 0 1-2 1 1 1-1 1 0 2-2 1 1 1-3 1-1 1 0 1 1 1-1 2-1 1-1 1 0 1 0 1-1 1-2 2 2 1-2 1 0 1-2 1 0 1 0 1-2 2 1 1-1 1 0 1-1 1-1 1 0 2 0 1-3 1 2 1-1 1-3 2 1 1 0 1 0 1-1 1-1 1-2 2 1 1-1 1-1 1 0 1 0 2 0 1-1 1-1 1 0 1-2 2 0 1 2 1-2 1-2 1-1 2 3 1-3 1 0 1 2 1-3 2-2 1 2 1-2 1 2 1-3 2 0 1 0 1-1 1 0 1-1 2 0 1-1 1-1 1 0 2 0 1 0 1 0 1 0 1 0 2-3 1 0 1 1 1-1 2 0 1-2 1 0 1 1 1-1 2-2 1 1 1-1 1 0 2-1 1 0 1-1 1-1 2 1 1-2 1 0 1 1 2 0 1-1 1-1 1-1 2 1 1-1 1-1 1 1 2 0 1-3 1 4 1-3 2 0 1-1 1 1 1-1 2-1 1 0 1 0 1 1 2-1 1-1 1 0 1 0 2-1 1 0 1 0 1-2 2 0 1 0 1-1 2 1 1-1 1-1 1-1 2 0 1 0 1 2 1-1 2 0 1-1 1 0 1-1 2 0 1 0 1-1 2-1 1-1 1 0 1 2 2-2 1 1 1-2 1 1 2 0 1-2 1 0 2 1 1 0 1-1 1-1 2 1 1 0 1-3 1 1 2 0 1 0 1 0 2 0 1-2 1 1 1 1 2-1 1-1 1 0 1 1 2-1 1 0 1-2 2 1 1-1 1 0 1 0 2 0 1 0 1-1 2-1 1 1 1-1 1 0 2-1 1 0 1 0 1-1 2 1 1 0 1 1 2-2 1 0 1 0 1 1 2-2 1 0 1 0 2-1 1-1 1 1 1-1 2-1 1 1 1 0 1 0 2-1 1 1 1-2 2 1 1-2 1 1 1 1 2-2 1-1 1 0 1 1 2 0 1-1 1 0 1-1 2-1 1 1 1-1 1 1 2-2 1 0 1 0 2 0 1 0 1 0 1-1 2-2 1 2 1-1 1-2 2 1 1-2 1 2 1-1 1-1 2-1 1 1 1-1 1-1 2 0 1 0 1-2 1 1 2-1 1 0 1-1 1-1 1 0 2-1 1 1 1-2 1 1 2-2 1 0 1 0 1-2 1 1 2-1 1 1 1-1 1-1 1-1 2 0 1-1 1 0 1-2 2 1 1 1 1-1 1 0 1 0 2-2 1 0 1-3 1 2 2 0 1-1 1 0 1 0 2-1 1 1 1-2 1 1 2-1 1-2 1 0 1 1 1-3 2 1 1 3 1-3 1 1 2-4 1-1 1 2 1-2 1 2 2-5 1 2 1 1 1 0 2-1 1-2 1 1 1-2 1 0 2 0 1-1 1-2 1 1 1 1 2 1 1-2 1-4 1 1 2 4 1-4 1 1 1-1 1-4 2 2 1-2 1 2 1-1 1-4 2 3 1-1 1 0 1 1 1-1 2 2 1-8 1 5 1 2 2-5 1 1 1-2 1-3 1 5 2-5 1 2 1-1 1-1 1-2 2-2 1 4 1-1 1 2 2-4 1 3 1-4 1-4 1 4 2 1 1-2 1 3 1-3 2-2 1-3 1 0 1 3 1-4 2 2 1 2 1 0 1 0 2-4 1 1 1 1 1-3 1-1 2 0 1 0 1-1 1 6 2-6 1 1 1-2 1 2 2 4 1-5 1 3 2-4 1 0 1 0 1 1 2-4 1-1 1 2 1 1 2-3 1 1 1 0 2 1 1-2 1-5 1 5 2 1 1-4 1 4 2-3 1 1 1-3 1 6 2 1 1-5 1-3 2 0 1 1 1 1 1-1 2 3 1-3 1 1 2 0 1 1 1-3 2 3 1-5 1 4 1-3 2 1 1 2 1-2 2 4 1-6 1-1 2 1 1 5 1-5 1 6 2-5 1-2 1 1 2 3 1-2 1-2 2 4 1 1 1-3 1 0 2 3 1-1 1-1 2 0 1 3 1-1 2-1 1-4 1 3 2-1 1 1 1 3 1-2 2-2 1 3 1-5 2 7 1-3 1 1 2-1 1 3 1-4 1 0 2-2 1 0 1 5 2-3 1 4 1-5 2 2 1-4 1 6 1-3 2 2 1 3 1-1 2 1 1-1 1 0 2-3 1 1 1 3 1-3 2 2 1-2 1 5 2-3 1-1 1 4 1-3 2 2 1 4 1-2 2-5 1 0 1 2 2 0 1 0 1 2 1-1 2 0 1-3 1 0 2 5 1-4 1 8 2-7 1 2 1 1 1 2 2-1 1 0 1-6 2 2 1 3 1-2 1 4 2-3 1 1 1 1 2 1 1-3 1 0 2-3 1 3 1 3 1 0 2 1 1-3 1 2 2-6 1 4 1 4 2-7 1 2 1 2 1-2 2-1 1 5 1-2 2 4 1-2 1-1 2-1 1 3 1-3 1 1 2 2 1-2 1 5 2-7 1 3 1 4 2 0 1-3 1 3 1-5 2 1 1-4 1 4 2 1 1 2 1-5 2 6 1-2 1 0 1-3 2 3 1-3 1 3 2 3 1-4 1-2 2 3 1-1 1 3 1-1 2 3 1-9 1 5 2-1 1 1 1-5 2 8 1-3 1-2 1 3 2 2 1-2 1 0 2-1 1 6 1-8 2 4 1-3 1 1 1 4 2-3 1 2 1-3 2 2 1 2 1-5 2-2 1 5 1-1 2 4 1-3 1-5 1 4 2-4 1 4 1-1 2 2 1-3 1 5 2-1 1-3 1 2 1 2 2-5 1-1 1 8 2-7 1 0 1-1 2 1 1 5 1 2 1-1 2-1 1-3 1 3 2-3 1 2 1-3 2 0 1 4 1-3 1 1 2-1 1-2 1 6 2-3 1-2 1 3 2 2 1-3 1-5 2 5 1-2 1-1 1 0 2 2 1 0 1-2 2 2 1-5 1 1 2 5 1 2 1-6 1 1 2 1 1-1 1 0 2-1 1 2 1 1 2-3 1 1 1 1 1 0 2-2 1 4 1-6 2 2 1 2 1 0 2-1 1-1 1 2 1 1 2 5 1-10 1 1 2 5 1-2 1-1 2 2 1 1 1-3 1 0 2-4 1 5 1 1 2-1 1-4 1-2 2 6 1-4 1 0 1 6 2-4 1-1 1 3 2-3 1 3 1 3 2-6 1-3 1 4 1 3 2 1 1-1 1-2 2 0 1-4"/>
<path d="M1570 454l-2 34-1 0 0 5-1-4-1 3-1 5 0-3-1 2-1 2-1 0 0 3-1 2-1 0-1 1-1 0-1 0-1 6-1-4-1 5-1 1-1 3-1-1 0 1-1 0-1 0-1 4-1 0-1 1-1 1-1 1 0-1-1 0-1 2-1 2-1 1-1-1-2 2-1 4-1-7-1 2-1 6-1-5-1 7-1 1-1-4-1 2-1 2-1-2-1 4-1 0-2-4-1 2-1 5-1-3-1 3-1 0-1 1-2-1-1 3-1 2-1-2-1 1-2 0-1 1-1 0-1 2-1-2-1-1-1 7-2-3-1 2-1 1-1 1-1-4-1 2-1 2-2 1-1-1-1 3-1-3-1 0-1 2-2 2-1 5-1-5-1 1-1-2-2 6-1-3-1 2-1 3-1-5-2 1-1 3-1 0-1-1-2 3-1-2-1 0-1 0-1 0-2 1-1 4-1-1-1 0-1 0-2-1-1 3-1 0-1 2-2-3-1 5-1-2-1 0-2 0-1-3-1 5-2-1-1-2-1 0-1 3-2-1-1-1-1 2-1 1-2-2-1 3-1 2-1-2-2 1-1-1-1 0-1 4-2-4-1 5-1-3-1 0-2-2-1 2-1 3-2-1-1 1-1 1-1-2-2 1-1 4-1-5-2 3-1-4-1 3-1 2-2-4-1 2-1-2-1 4-2-2-1 3-1 1-1-2-2 0-1 3-1-4-1 3-2 0-1-2-1 5-1-1-2 0-1 1-1-1-1 0-2 2-1 0-1 1-1 0-2 0-1 3-1-1-1 1-2-4-1 2-1 0-1 3-2-2-1 0-1 1-2-1-1 1-1 1-1 2-2-4-1 7-1-4-1 2-2-2-1 1-1 1-1 1-2-1-1 0-1 1-1 1-2 4-1-5-1 0-1 0-2 1-1 4-1-2-1 1-2 3-1-1-1 0-1 0-2 0-1 1-1 1-1 1-1-1-2 0-1 1-1 1-1 1-2 1-1-2-1 1-1-1-1 1-2 3-1 0-1-4-1 4-1 0-2 1-1 2-1-2-1-1-1 3-2 0-1 2-1-1-1 0-1 1-2-1-1 2-1 2-1-1-1-2-2 2-1 3-1 1-1 1-1-2-1 0-2 2-1 1-1 0-1-1-1 2-2 1-1-4-1 3-1 3-1 0-2 0-1 1-1 0-1 0-1 2-2-3-1 2-1 5-1-3-1 2-2 1-1 0-1 0-1-4-1 6-1-1-2 2-1 0-1 3-1-5-1 3-2 4-1-4-1 3-1 0-1-1-2-2-1 3-1-1-1 1-1 0-2 1-1 2-1-2-1 2-1 1-1-1-2 1-1 1-1 0-1-1-1 3-2 0-1 1-1-2-1 5-1-3-2 3-1-1-1-1-1 2-1 4-2 0-1 1-1-1-1 0-1-3-1 6-2 1-1-2-1 1-1-1-1 3-1 1-2 2-1-2-1 0-1 2-1-1-2 0-1 1-1 3-1 1-1-2-2 2-1-1-1-1-1-1-1 4-2 0-1 0-1 0-1 2-1-2-1 4-2-1-1 0-1 1-1-4-1 5-2 6-1-8-1 6-1-3-1 4-1-3-2 1-1-1-1 5-1 0-1-6-1 5-2 0-1 0-1 4-1-2-1 2-1 1-2 1-1 0-1 5-1-8-1 1-1 1-1 3-1 5-2-2-1 1-1 2-1 1-1-4-1 3-1 0-1 2-1 0-1 1-2 2-1-6-1 12-1-3-1-4-1-1-1 8-1-1-1-1-1 0-1 1-2-2-1 0-1 1-1 2-1 0-1 5-1-2-1 3-1-2-1-3-2 4-1 3-1-3-1 1-1 4-1 1-1-2-1 3-1 0-2 3-1-5-1 6-1 0-1 2-1 1-1-4-2 4-1-1-1 4-1-4-1-1-1 3-1-2-2 4-1-2-1 2-1 3-1-2-1 0-2 0-1 3-1-4-1 8-1-4-1 0-2 7-1-5-1 4-1 0-1-2-2-1-1 2-1 0-1 3-1-3-2 1-1 2-1-2-1 7-1-6-2 1-1 4-1 3-1-7-2 5-1-2-1 3-1 1-1-1-2 1-1-3-1 2-1 4-2-1-1 2-1-1-1-1-2 1-1-4-1 4-1-1-2 6-1-7-1 2-1 0-2 0-1 0-1 1-1 2-2 2-1-1-1-1-1 0-2 1-1 4-1 2-1-7-2 1-1 0-1 2-1 0-2 6-1 2-1-4-1-3-2 7-1-8-1 6-1-3-2 2-1-1-1 2-1 3-2-6-1 0-1 2-2 0-1 8-1-4-1-1-2 2-1-6-1 5-1-6-2 6-1-1-1 1-1-3-2 8-1-4-1 6-2-8-1 1-1 7-1-5-2 2-1-3-1 1-1 2-2-1-1 2-1 3-1-4-2 2-1 2-1 0-1-2-2 3-1 0-1-5-2 3-1 3-1-4-1 1-2 2-1-1-1 2-1 5-2-4-1-1-1-1-1 6-2-1-1-4-1 2-1-3-2 10-1-6-1 2-2-3-1 2-1 0-1 4-2 0-1-2-1 1-1 2-2-6-1 5-1 0-1-1-2 1-1-1-1 1-1 3-2-2-1-2-1 3-1 2-2-1-1-5-1 2-1 7-2-2-1 0-1-2-1 4-1 2-2-3-1 1-1 2-1 0-2 0-1 3-1-7-1 3-1 0-2-1-1 4-1 3-1-5-2 4-1 2-1-5-1 3-2-1-1 5-1-2-1 1-1 2-2 2-1-4-1 1-1-1-2 0-1 1-1-3-1 2-2 2-1 4-1-3-1-2-1 4-2 2-1-1-1-3-1 2-2 3-1 2-1-4-1 1-2 2-1 0-1 0-1 3-1-1-2-3-1 2-1 2-1-4-2 5-1-2-1 8-1-6-2 0-1 2-1 3-1-2-2-3-1 3-1-1-1 2-1 1-2-1-1 4-1-4-1 2-1 3-2 2-1-4-1 2-1 5-1-5-2 5-1-4-1 2-1-1-1 1-1 4-2-4-1 3-1 2-1-1-1-3-1 6-2-1-1 2-1-5-1 0-1 4-1 0-2 4-1 2-1-4-1 3-1 0-1 0-2 3-1-4-1 4-1-3-1 0-2 4-1-1-1 1-1 2-1 1-2 0-1-5-1 3-1 1-1 1-1 3-2-2-1 3-1-2-1 7-1-7-2 3-1 1-1-1-1 3-1 0-1-2-2 4-1-5-1 4-1 2-1 5-1-2-1-1-2 2-1-1-1-1-1 1-1 0-1 6-1-3-1 0-2 1-1 0-1 0-1 5-1-3-1 1-1 1-1-4-2 2-1 3-1-1-1 0-1 6-1-5-1 5-1-4-1 4-2-2-1 1-1 3-1-3-1 5-1 3-1 0-1 1-2-1-1 3-1-1-1 5-1-9-1 6-1-1-1 1-2-3-1 5-1 1-1 2-1 0-1-6-1 6-1 2-2 2-1-1-1 3-1-3-1 2-1-5-1 4-1 0-2 2-1 4-1-4-1 3-1-3-1 4-1-1-1 0-1 2-2 0-1 0-1 0-1 5-1 0-1 3-1-5-1 2-2 3-1-2-1-2-1 5-1 5-1-6-1 0-1 4-1-1-1 0-2 2-1 1-1 3-1 1-1-4-1 4-1 3-1 4-1-5-1 0-1 3-1 0-1-1-1 0-2 1-1 8-1-9-1 3-1 1-1 1-1 1-1 3-1-1-1-6-1 8-1 3-1 0-1-7-1 9-2-1-1-3-1 5-1-1-1 1-1 1-1-4-1 5-1-2-1 7-1-10-1 7-1 0-1 3-2 1-1 2-1-2-1 2-1-2-1 5-1 2-1-5-1 0-1 3-1 4-1-1-1-4-1 2-2 4-1 5-1-6-1 1-1 0-1 2-1 5-1-4-1-3-1 4-1-1-2 5-1 2-1-3-1 2-1 5-1-1-1-1-1-4-1 5-1 1-1 1-2-4-1-1-1 9-1 5-1-10-1 5-1 2-1 0-1 2-1-1-1 3-1-5-1 3-1 5-2-6-1 5-1-3-1 6-1-2-1-2-1 7-1-7-1 6-1 1-1 0-1 0-1 1-1 1-1-1-1 1-1 5-1-2-1 5-1-2-1-10-1-218 2-10 0-2 0-1 1-2 0-3 0-1 1-1 0-2 0-1 0-1 0-1 1-1 0-2 0-1 0-3 1 0 0-1 0-2 1-2 0-1 1-2 0-2 1-1 0-1 0-1 1-2 0-1 1-1 0-1 0-3 1 1 0-2 1-1 0-2 1 0 0-1 1-3 1-2 0-1 1-1 0-2 1-1 0-2 1-1 0-1 1-1 0-1 1-2 0-1 1 1 0-2 1-1 0-3 1 0 0-1 1-1 1-1 0-1 1-1 0-2 1-1 1-1 0-2 1 0 1 0 0-3 1 0 0-4 1 2 1-3 0-1 1-2 1 0 0-1 1 0 1-1 1-3 0-1 1-1 1 0 0-1 1-1 1-2 0-2 1 0 1 0 0-3 1 0 1 0 0-2 1-1 1-1 0-2 1-1 1 0 0-3 1 0 0-1 1-1 1-2 1-2 1-1 0-2 1 0 1-2 0-1 1-1 1-1 1-3 1 0 0-1 1-1 1-3 1 1 0-1 1-2 1-1 1 1 1-1 0-2 1-2 1-1 1 0 1-2 1-2 1 1 0-1 1-2 1 0 1-1 1-1 1-1 1-1 1-1 1 0 1-2 1-1 0-1 1-1 1-2 1 1 1-1 1-2 1-1 1 0 1 0 1-2 1 1 1-2 1 0 1-2 1 0 1-2 1 0 1-2 1 0 1 0 1-1 1-2 1 0 1-1 1 0 1-1 1-2 2-1 1 0 1 0 1-1 1-1 1-1 1 0 1-2 1 0 1-1 1-2 1 1 1-1 1-1 1-1 1-1 1 0 1-1 2-2 1 1 1-2 1-1 1 0 1-1 1 0 1-2 1 1 1-2 1 1 2-3 1 0 1 0 1-1 1-1 1-1 1 0 1 0 2-1 1 0 1-1 1-1 1-1 1 1 1-1 1-2 2-1 1 0 1 0 1-3 1 2 1-1 1-1 2 0 1-2 1 0 1-1 1 0 1-2 1 1 2-1 1 0 1-1 1 0 1-2 1 2 2-2 1-2 1 0 1 1 1-1 1-1 1-2 2 0 1 0 1 0 1-2 1 1 2-1 1-2 1 1 1 0 1-2 1 0 2-1 1 2 1-2 1 0 1-2 2 0 1-1 1-1 1 0 1-1 1-1 2 0 1 0 1 0 1-1 1-1 2-1 1 1 1-1 1-1 1 0 2-1 1-1 1 1 1-2 1-1 2 0 1 0 1 0 1-1 2 0 1-1 1 0 1-1 1 0 2-1 1-1 1 1 1-1 1 0 2-2 1 0 1 1 1 1 2-2 1-2 1 1 1-1 1-1 2 1 1-1 1-1 1-1 2 0 1 0 1-1 1 0 2-1 1 1 1-1 1-1 2 2 1-4 1 1 1 0 1 0 2-1 1 0 1 0 1-1 2 0 1 0 1-2 1 0 2 1 1 0 1-1 2 0 1-2 1 0 1 1 2-1 1 0 1 1 1-2 2 0 1-1 1 0 1 0 2 0 1-2 1 1 1-1 2 1 1-1 1 0 1-1 2-1 1 1 1-1 1 0 2 0 1-1 1 0 2 0 1-1 1-1 1 1 2 0 1-1 1 0 1 0 2-1 1 0 1 0 2 0 1 0 1-1 1 0 2 0 1 0 1-2 1 1 2 0 1-3 1 1 2 2 1-2 1 0 1-1 2 1 1-1 1 0 1 0 2-1 1-1 1 0 2-1 1 1 1 0 1 0 2 0 1-1 1 0 2 0 1-2 1 2 1-1 2 0 1 1 1 0 1-1 2-2 1 1 1 0 2-1 1 1 1-1 1 0 2 1 1-2 1 1 2 0 1-1 1-1 1-1 2 2 1-1 1 0 2-1 1 0 1 1 1 0 2-1 1-1 1 1 2-2 1 1 1-1 1-1 2 1 1-1 1 2 2-1 1 0 1 0 1-2 2 0 1 1 1-1 1 0 2 0 1-1 1 0 2-1 1 0 1 1 1-1 2-2 1 1 1-1 2 1 1-1 1 1 1-2 2 0 1 0 1 0 1 0 2 0 1-1 1 0 1-1 2 0 1 0 1-1 1 0 2 0 1-1 1-1 1-1 2 0 1 1 1-1 1 0 2-1 1 0 1-1 1-1 1 0 2-1 1 1 1 0 1-2 2 1 1-1 1 0 1-1 1-1 2-2 1 1 1 1 1-2 2 0 1 0 1-1 1 1 2-2 1 1 1-3 1 0 1 1 2-1 1 1 1-3 1 1 2 1 1-3 1 2 1-1 2 0 1-4 1 2 1-2 1 0 2 1 1-2 1-2 1 2 1 3 2-2 1-1 1-2 1-2 1 2 2-1 1-3 1 3 1-2 1 0 2-1 1-1 1 1 1-3 1 4 2-2 1-1 1-3 1 3 1-5 2 4 1-4 1 3 1-2 1 2 2-5 1-5 1 7 1-4 1 1 2 0 1 0 1 0 1-4 1 0 2 2 1 0 1 0 1-4 1 0 2-1 1 1 1 4 1-8 1 0 2 5 1-1 1-4 1 2 2 3 1-6 1 1 1 1 1-1 2-2 1-2 1 3 1 0 1-2 2-4 1 4 1-4 1-2 2 6 1-2 1 0 1-1 2 0 1 2 1-2 1-4 1-1 2 3 1-1 1-1 1-3 2-2 1 0 1 1 1-2 2 0 1 0 1 2 1 0 2-1 1-2 1 0 1 0 2 3 1 2 1-1 1-5 2 2 1 1 1-1 2 1 1-4 1 1 1 1 2 2 1-2 1 0 2-5 1 6 1-3 1-3 2 2 1 1 1-1 2 1 1-4 1 7 1-6 2 1 1-3 1 0 2 4 1-3 1 0 1 2 2 0 1-1 1 0 2 0 1-2 1 2 2-2 1 1 1-3 1 5 2-3 1 3 1 1 2-4 1 5 1-6 2 2 1-1 1-1 1 1 2 0 1 0 1 1 2 0 1 1 1-1 2 0 1 0 1 4 1-5 2-2 1 3 1 1 2-1 1 2 1-5 2 4 1 2 1-2 2 1 1 1 1-3 1-3 2 5 1 0 1-3 2 6 1-4 1 1 2-2 1-1 1 2 1-1 2 3 1 0 1-7 2 7 1-4 1 7 2-5 1 1 1-1 1 2 2-2 1 1 1 0 2 2 1-3 1 0 1 2 2 0 1 0 1-3 2 3 1-1 1 0 2 4 1-4 1-1 1 2 2 2 1-1 1-1 2 4 1 0 1-7 2 4 1-3 1 4 1-1 2 3 1-7 1 3 2 1 1 3 1 0 2 1 1-1 1 0 1-2 2-1 1 5 1-4 2 0 1 4 1 0 1-3 2 3 1 1 1-3 2 2 1 1 1-5 2 3 1-2 1 1 1-2 2 2 1 3 1-3 2 3 1 1 1-4 2 2 1-1 1-1 1-2 2 5 1 2 1-4 2 0 1 2 1-1 2 0 1 5 1-5 1-1 2 0 1 1 1 4 2-1 1 1 1-5 2 7 1-5 1 2 1-4 2 2 1-3 1 4 2 2 1-6 1 3 2 0 1 0 1 1 1 2 2-1 1-3 1 4 2-2 1-3 1 7 2-4 1-2 1 3 1-2 2-1 1 4 1-4 2 1 1-2 1 3 2 1 1 1 1 3 1-4 2-2 1 1 1 2 2-1 1 2 1 1 2-4 1 2 1 0 1-2 2-1 1 2 1-1 2 3 1 3 1-3 2-1 1-2 1 7 1-7 2 3 1-2 1 2 2 2 1-2 1 0 2 2 1-8 1 4 2-1 1-6 1 6 1 4 2 2 1-9 1 3 2 3 1-2 1 4 2-3 1 0 1-1 1-1 2 4 1 2 1 0 2-4 1 0 1-1 2 2 1-1 1 0 1-1 2-4 1 1 1 4 2-1 1-1 1-2 2 3 1 2 1-1 1 1 2-2 1-4 1 3 2-2 1 5 1 0 2 2 1-4 1-4 1-1 2 1 1 3 1 2 2-1 1 1 1-5 2 4 1-1 1-1 1-2 2 3 1 0 1-3 2-1 1 6 1-1 2-7 1 6 1 0 1-3 2 0 1 1 1 3 2-2 1 0 1-4 2 6 1-2 1-4 1 0 2 1 1 2 1-1 2 3 1-6 1 7 2-8 1 2 1 6 1 0 2-7 1 1 1 4 2 5 1-9 1 0 2 5 1-3 1-2 2 4 1 0 1 1 1-7 2 2 1-3"/>
<path d="M1570 460l-2 32-1-2 0 4-1-3-1 1-1 2 0 5-1 0-1-1-1 2 0-2-1 2-1 3-1 1 0-1-1 5-1-3-1-1 0 4-1 1-1 4-1-4-1 6-1-2 0 3-1-1-1 2-1-2-1 4-1 0-1 2-1-1 0 2-1-3-1 5-1 1-1 1-1-1-2-2-1 9-1-4-1 4-1-2-1-1-1 2-1 1-1 1-1-1-1 3-1 1-1 0-2 1-1 2-1 0-1-2-1 5-1-2-1 2-2-2-1 1-1 1-1 3-1 0-1 3-2-3-1 0-1 0-1 2-1-2-1 4-2 1-1-4-1 3-1 4-1-4-1 0-1 5-2-4-1 2-1 4-1-1-1-2-1 2-2 0-1 3-1-4-1 2-1 2-2-2-1 1-1 2-1 1-1 1-2 1-1 2-1 2-1-5-2 3-1-2-1 1-1 3-1 3-2-6-1 5-1-4-1 7-1-3-2-2-1 2-1 0-1 1-2 1-1-5-1 6-1 0-2 1-1-1-1-3-2 1-1 2-1 1-2-2-1-1-1-1-1 0-2 5-1-2-1 1-1 0-2 1-1-1-1 1-2 0-1 0-1 2-2 1-1-4-1 2-1 1-2-1-1 3-1-3-2 0-1 0-1 2-1-1-2 5-1-3-1-1-2 1-1-1-1 2-1-4-2 2-1 2-1-1-2 2-1-3-1 1-1 3-2-1-1 0-1 2-1 2-2-5-1 3-1 2-1 0-2-1-1 0-1 2-1 0-2 0-1 1-1-1-1 3-2-4-1 4-1-1-1 2-2-3-1 0-1 4-1 0-2-3-1 4-1 0-1-3-2 5-1-2-1 3-1 2-1-2-2-2-1 4-1-2-1 1-2 0-1 0-1 0-1 2-2 0-1 2-1 3-1-6-1-1-2 1-1 3-1 4-1-4-1 2-2-1-1 3-1-1-1 0-1 1-2-2-1 2-1 1-1 3-2-2-1-1-1 3-1 0-1 0-2-2-1 2-1 3-1-1-1 2-2-2-1 3-1 1-1-2-1 1-2 2-1-2-1 1-1 3-1-3-2 1-1 4-1-1-1-1-1 2-2-1-1 2-1 0-1 1-1-2-2 2-1 2-1 3-1-4-1 2-2-2-1 3-1 1-1 1-1-1-2 0-1-2-1 2-1 3-1-1-2 1-1 0-1 1-1-1-1 2-2 1-1 0-1 4-1-4-1 2-1 0-2 3-1-1-1-2-1 3-1 0-2 3-1-4-1 4-1-2-1 2-2 0-1 1-1 1-1 1-1-1-2 0-1 1-1 1-1-1-1 3-2-3-1 4-1-2-1 3-1 1-2 0-1 1-1-2-1 3-1 0-1-1-2-1-1 1-1 4-1-2-1 3-2-1-1 1-1-2-1 1-1 0-2 1-1 3-1-2-1 1-1 1-2 1-1 1-1-1-1 1-1-3-1 6-2 1-1-2-1 2-1-1-1 0-2 2-1-1-1 1-1 0-1 1-2 5-1-2-1 0-1 0-1 0-2-1-1-1-1 1-1 1-1 2-1 0-2 0-1 4-1-2-1 4-1-4-2 5-1 0-1 1-1 2-1-3-2-1-1 4-1 4-1-5-1 0-1 5-2-3-1-2-1 2-1 3-1-2-1 0-2 5-1 0-1 2-1-6-1 2-1 3-2 4-1-2-1-1-1 0-1 3-1-3-1 4-1 0-1 3-2-2-1-1-1-2-1 5-1 7-1-3-1-3-1 0-1 2-1 1-2 1-1 3-1 3-1-4-1-2-1 4-1-1-1 2-1-4-1 7-2-1-1 5-1-2-1-4-1 1-1 1-1 2-1 4-1-4-2 2-1 6-1-6-1 5-1-1-1 0-1-2-1 5-2-5-1 1-1 7-1-2-1 1-1 6-1-3-2-2-1-1-1 5-1 0-1 3-1-3-2 1-1 1-1 0-1-2-1 4-1 0-2 2-1 1-1 1-1-2-1 2-2 2-1-4-1 3-1 0-1-3-1 3-2 1-1 0-1-3-1 4-1-2-2 1-1 2-1 1-1-1-2-1-1 4-1 1-1-2-1 5-2-2-1-2-1 5-1-1-2-2-1-1-1 1-1 3-2-1-1 0-1-1-1 3-2-1-1 2-1 3-1 1-2-2-1 1-1-2-1 1-1-3-2 3-1-2-1 3-1 1-2 1-1 1-1-1-1-2-2 1-1 2-1-2-1 3-2 0-1 2-1-1-2-2-1 1-1-2-1 3-2-2-1 3-1 3-1-2-2 1-1 5-1-8-1 6-2-2-1 5-1-5-1-6-2 8-1 1-1-2-2 2-1 5-1-4-1-3-2 1-1 1-1 0-1 1-2 0-1 2-1-3-1 6-2-4-1 0-1-1-2 2-1 5-1-3-1 2-2-3-1 2-1-4-1 7-2-3-1 5-1-5-1 2-2-1-1 5-1-3-1 0-2 0-1 0-1 1-2 2-1-7-1 7-1-3-2 2-1 1-1-3-1 3-2-3-1 8-1-6-1 4-2 0-1 1-1-1-1-2-2 3-1-2-1-2-1 3-2 1-1 3-1-5-2 1-1 3-1 0-1 4-2-3-1-3-1 6-1-3-2 0-1-2-1 2-1 1-1 2-2 1-1 3-1-1-1-1-2 1-1-1-1-1-1 3-2-2-1 3-1-1-1 0-1 3-2-1-1-2-1 0-1 6-2-2-1 0-1 0-1-2-1 3-2 2-1-2-1 2-1-1-2 1-1 5-1-3-1 4-2-6-1-3-1 7-1-2-1 0-2 2-1 1-1-1-1 1-2 4-1 2-1-5-1-4-2 1-1 3-1 3-1-3-2 3-1 3-1-1-1 3-1-4-2 1-1-2-1 4-1 1-2-2-1 0-1 3-1-1-2-2-1 7-1-5-1 1-2 0-1 1-1-2-1 0-1 1-2 6-1-1-1 0-1 1-2-1-1 3-1-1-1-3-1-4-2 7-1 1-1 0-1 3-1-3-1 3-2 0-1 2-1 0-1-2-1 1-2 4-1-2-1-3-1 5-1-2-1 0-1 3-2 1-1 3-1-5-1 2-1 5-1 3-2-4-1 0-1 0-1 0-1 0-2 4-1 0-1-4-1 6-1-2-1-2-2 3-1 5-1-4-1 2-1 3-2-3-1-2-1 4-1 1-1-1-2 1-1-2-1 1-1 3-1-5-1 14-2-7-1-2-1 0-1 1-1 1-1 3-2 0-1 2-1 0-1-1-1 1-1-4-1 9-2-3-1-2-1 5-1 4-1-5-1 3-1 2-1 3-2-2-1 1-1-2-1 3-1-2-1 2-1-4-1 5-2-1-1 1-1 1-1-1-1 4-1-3-1 7-1-1-2-5-1-2-1 8-1-3-1 2-1 5-1-1-1-5-2 5-1-3-1 7-1-7-1 1-1 5-1 2-1-5-2 6-1 1-1-1-1 0-1 2-1-2-1 4-1 3-1-2-2-3-1 1-1 1-1 1-1 8-1-4-1-1-1 0-2-1-1 1-1 5-1-4-1 5-1 0-1-3-1 2-2 5-1-3-1 1-1 4-1-1-1 1-1-2-1-3-1 4-2 2-1-3-1 8-1-5-1 0-1 0-1 7-1 0-1-4-1 5-2-1-1 2-1 0-1 0-1-1-1 4-1 0-1-2-1 6-1-1-1 2-1-1-1-2-1 1-2 4-1-1-1 3-1 0-1 0-1 2-1 0-1-8-1 15-1-9-1 3-1 2-1 0-1-3-1 5-2 2-1 2-1-2-1 3-1 1-1-1-1-1-1 9-1-8-1 5-1 4-1-6-1 0-1 3-2 3-1-3-1 3-1-1-1 0-1 2-1-3-1 8-1-6-1 6-1-1-1 0-1 3-2-6-1 5-1 0-1 2-1 0-1 5-1-4-1 0-1 2-1-3-1 3-1 4-2 3-1-2-1-3-1 0-1 4-1 5-1-5-1 1-1 6-1-4-1 5-2-1-1-1-1 3-1 3-1-7-1 0-1 9-1 0-1-4-1 3-1-3-1 3-1 1-1-2-2 6-1-4-1 5-1 3-1-4-1 5-1 0-1-2-1 4-1 1-1-3-1 1-1 0-1 1-1 3-1-3-1 5-1 3-1-3-2-10 1-218 1-10 0-1 1-3 0-1 0-1 0-1 0-2 1-1 0-2 0-1 0-1 0-2 1-1 0-2 0-1 0 1 1-3 0-3 1-1 0-1 0-1 1-1 0-1 0-2 1 0 0-3 0-1 1-1 0 1 1-4 0-1 1 0 0-1 0-3 1-1 0-2 1 0 0-2 1-1 0 1 1-3 0-2 1-1 1-2 1-1 0-1 1-3 0-1 1-2 0 1 1-2 0-2 1-1 1-2 1-1 0-1 1-2 0 1 1-1 0-4 1 0 1-1 0-2 1-1 1 0 0-1 1-2 1-1 0-1 1-1 1-3 0 1 1-2 1 1 0-4 1 0 1-1 1-3 1 0 0-1 1 0 1-2 0-1 1-2 1 0 0-2 1 0 1-2 0-3 1 0 1 0 0-3 1 0 1 1 0-3 1 0 1-2 0-1 1-1 0-2 1-1 1-1 0-2 1 0 1-1 1-2 1-2 1-1 1-2 1-1 1-2 1-1 1-2 0 1 1-2 1-2 1 0 1-2 0-1 1-1 1-1 1-1 1-1 1 0 0-2 1 0 1-1 1-1 1-1 1-2 1 0 1-1 1-2 1 0 1-2 1 0 1-2 1 0 1 0 1-2 1-1 1 0 1-2 1 0 1-1 1-2 1 0 1 0 1-3 1 2 1-2 1-1 1 0 1-2 1-1 1 0 1-1 1 0 1-3 1 0 1 0 2-2 1 0 1-1 1-1 1-1 1-1 1 0 1-1 1-1 1-1 1 0 1 0 1-2 1 0 1-1 1 0 1-1 1-1 1-1 2 0 1-2 1 0 1-2 1 1 1-1 1 0 1-2 1 1 1-1 2-3 1 1 1-2 1 1 1-3 1 1 1 0 1-1 1-1 2-1 1 0 1 0 1-1 1-2 1 0 1-1 2 0 1-2 1 0 1 0 1-1 1-2 1 1 1 0 2 0 1-3 1 1 1-1 1-1 1 1 2-2 1-1 1 0 1-1 1-2 1 1 1-1 2 0 1 0 1-2 1 0 1-1 1 0 2-1 1-1 1-2 1 2 1 0 1-2 2 0 1-1 1-1 1 0 1-1 1 0 2 0 1-1 1-1 1-1 1 1 2-2 1 0 1 0 1-1 1-1 2 0 1 0 1 0 1-1 1-1 2 0 1-2 1 1 1 0 1-2 2 0 1 0 1 1 1-2 1 0 2-1 1 0 1-2 1 0 1-1 2 1 1-1 1-1 1 0 2-1 1 0 1 0 1-2 1-1 2 0 1 0 1 1 1 0 1-2 2 1 1-1 1-1 1-1 2 0 1 0 1-1 1 0 2-1 1 1 1-2 1 0 1 0 2-1 1 0 1 1 1-1 2 0 1-2 1 0 1-1 2 1 1-1 1 1 1-2 2 1 1-2 1 0 1-1 2 0 1 0 1-1 1 1 2 0 1-2 1 0 1 1 2-1 1-1 1 0 2-1 1-1 1 1 1 0 2 0 1-1 1-1 1 0 2 1 1-1 1 1 1-3 2 2 1-1 1-1 1-2 2 0 1 2 1 0 2-1 1-1 1 0 1 0 2-2 1 1 1 0 1 0 2-2 1 2 1-1 1-1 2-1 1 0 1 1 2-1 1 0 1 0 1-1 2-1 1 2 1 0 2 0 1-2 1 0 1-1 2 0 1 0 1 0 1 0 2-1 1 0 1-3 2 3 1-2 1 3 1-3 2 0 1 0 1 1 2-2 1 0 1 1 1-2 2 2 1-1 1-2 1 2 2-1 1-1 1 1 2-1 1 1 1-1 1 1 2-1 1 0 1-1 2-1 1 1 1 0 1 0 2-1 1 0 1 0 2 0 1 1 1-3 1 1 2-1 1 1 1 0 2-2 1 1 1 0 1-1 2 1 1-2 1 2 2-1 1-1 1 1 1 0 2-1 1 0 1-1 2-1 1 1 1-1 1 0 2 0 1 0 1 0 2 0 1-1 1-1 1 1 2-1 1 0 1 0 1 0 2-2 1 1 1-1 1 1 2-2 1 1 1-1 2 0 1-1 1 1 1-1 2-1 1 0 1-1 1 1 2-1 1 0 1-1 1 0 2-1 1-1 1 1 1 0 1 0 2-2 1 1 1-1 1-1 2 0 1-1 1 0 1-2 2 1 1 0 1-2 1 0 1 0 2-1 1 1 1-1 1 2 2-3 1-1 1 1 1-1 2 1 1-2 1 0 1-1 2 0 1-1 1 1 1-1 1-1 2 1 1-1 1-2 1 0 2 0 1 0 1-1 1 0 1-3 2 1 1 0 1 1 1-2 2-1 1 0 1 1 1-2 1-5 2 3 1 0 1 1 1-1 1 0 2-1 1-2 1-1 1 2 1 0 2 2 1-5 1 0 1 0 1 4 2-4 1 0 1-2 1-1 1 2 2-7 1 3 1 2 1-2 2-4 1 3 1 0 1-2 1 3 2-4 1 1 1-3 1 2 1 1 2 0 1-6 1 3 1-2 1 0 2-1 1 0 1 1 1 2 2-3 1 3 1-6 1-2 1 2 2 1 1-2 1-2 1 5 2-1 1-1 1-1 1-1 2-2 1 0 1 0 1-2 1 1 2 0 1-1 1 0 1-1 2 3 1-5 1-1 1 1 2 2 1-1 1-4 1 1 2 4 1-7 1 4 1 3 2-7 1 3 1-3 1 1 2-1 1-3 1 3 2 1 1-1 1 4 1-7 2 1 1-2 1 0 1 5 2 0 1 0 1-3 2 0 1 3 1 0 1-4 2 3 1-3 1 3 2-2 1-1 1-3 2 2 1 1 1-1 1 0 2-2 1 1 1 0 2 3 1-2 1 1 2-3 1 0 1-1 1 1 2 2 1 2 1-4 2 5 1-4 1 1 2-5 1 4 1 0 1 2 2-4 1 1 1 0 2-2 1 5 1-2 2 4 1-5 1 2 1-4 2 1 1 0 1 5 2-4 1-2 1 2 2-2 1 5 1-4 1 0 2 0 1 4 1-4 2 4 1-3 1 0 2 3 1-4 1 3 1-2 2-2 1 2 1 0 2-1 1 2 1 0 2 2 1-2 1-2 1 2 2 0 1 2 1 0 2-3 1 5 1-2 2-1 1-1 1-3 1 8 2-1 1 0 1-4 2-1 1 2 1 0 2-2 1 2 1 4 1-7 2 5 1 1 1-2 2 0 1 0 1 1 2 2 1-4 1 8 1-3 2-2 1 1 1-1 2 3 1 0 1-5 2 3 1 2 1-4 1 3 2-1 1 0 1-1 2 3 1-4 1 4 2 0 1-1 1-2 1-1 2 0 1 2 1 2 2-7 1 9 1-5 2 3 1-3 1 1 1 2 2-3 1 6 1-5 2-1 1 4 1 1 2-5 1 4 1-5 1 7 2-4 1-2 1 5 2-2 1 1 1-3 2 5 1-2 1-3 1 2 2-2 1-1 1 7 2 0 1 0 1-7 2 3 1 2 1-6 1 1 2 8 1-4 1-1 2-2 1 8 1-6 2-1 1 7 1-5 1-4 2 6 1 0 1-4 2 3 1 3 1 1 2-2 1-4 1 5 1-2 2-5 1 4 1-2 2 3 1-3 1 6 2-5 1 1 1-1 1 5 2-5 1-3 1 3 2 4 1-1 1 6 2-7 1 1 1-2 1 2 2 0 1 0 1-5 2 8 1-4 1-1 2 0 1 2 1 1 1 1 2-2 1 4 1-9 2 5 1 2 1-1 2-1 1-3 1 1 2 3 1-3 1 3 1-4 2 2 1-3 1 2 2 3 1-2 1-2 2 8 1-7 1 2 1 3 2-6 1 2 1-1 2 3 1-1 1-3 2-1 1 0 1 4 1 1 2-3 1 0 1 3 2-5 1 1 1 7 2-4 1-2 1-6 1 8 2-4 1 4 1 0 2-2 1 1 1 3 2-1 1-4 1 2 1-2 2 1 1-3 1 6 2-3 1 1 1-4 2-3 1 3 1 3 1 1 2 2 1-3 1-1 2 3 1-2 1 1 2 2 1-8 1 7 1-9 2 5 1-1 1 2 2 3 1-4 1 0 2 1 1-4 1-1 1 5 2 0 1 0 1-2 2-2 1 5 1-4 2 5 1-5 1 1 1-1 2 6 1-5 1 3 2-4 1 6 1-4 2 2 1-1 1-4 1 6 2-3 1 4 1-9 2 1 1 5"/>
<path d="M1570 465l-2 24-1 3 0 3-1 0-1-1-1 2 0 1-1-1-1 4-1 0 0-4-1 6-1 3-1 3 0-2-1 2-1-1-1 3 0 1-1 0-1 0-1 1-1 6 0-1-1 2-1-2-1 2-1-4-1 4-1 3-1-1 0 2-1-2-1 2-1 4-1-6-1 7-1 0-2 1-1 3-1 1-1-3-1 2-1-1-1 0-1 0-1 2-1 4-1 1-1 0-1 0-2-1-1 1-1-2-1 4-1 1-1 0-1-1-2 1-1 1-1 3-1 0-1-1-1 3-2 1-1 1-1-4-1 4-1-1-1 0-2-1-1 2-1 0-1 4-1 3-1-7-1 3-2 2-1-3-1 3-1 3-1-5-1 7-2-1-1-1-1 0-1 0-1 0-2 2-1 2-1 0-1 0-2-3-1 1-1 4-1-1-2 1-1 3-1-6-1 5-2 0-1-3-1-2-1 2-2 2-1-3-1 1-2 3-1-1-1 2-1-2-2 1-1 1-1-1-2 1-1 1-1 0-2-1-1-1-1 0-1 2-2-2-1 2-1 0-2 1-1 1-1 0-1-3-2 2-1 1-1-1-2 1-1-4-1 7-2-3-1 2-1-2-1 1-2 0-1 1-1-3-2 2-1-2-1 1-1-1-2 3-1 3-1-5-2 5-1-2-1-1-1 0-2 3-1 0-1 1-1-2-2-2-1 1-1 4-1-2-2 2-1-1-1 1-1-2-1 5-2-4-1 2-1 3-1-4-2 4-1 2-1 2-1-3-1 2-2-2-1 4-1-2-1-1-1 2-2 1-1 0-1 3-1-2-2 0-1 3-1-2-1 0-1 4-2-3-1 3-1-1-1 6-1-5-2 1-1 0-1-1-1 4-2-2-1 1-1 1-1-3-1 3-2 1-1 2-1-1-1-1-1 2-2 1-1-1-1-1-1 2-1 1-2 1-1-2-1 0-1 2-2 0-1 3-1 2-1-4-1 4-2-3-1-1-1 3-1 2-1 0-2 1-1 0-1 0-1 1-1-2-2 3-1 2-1-1-1 1-1 1-2 0-1 1-1-2-1 1-1-1-2 2-1-1-1 3-1 0-1 0-2 3-1-1-1 1-1 0-1 1-2 0-1 4-1-3-1-1-1 0-2 4-1-1-1 3-1-2-1 0-2-1-1 2-1 2-1-2-1 3-2-1-1-1-1 4-1-3-1 2-2 2-1 2-1 0-1-2-1 3-2-2-1 1-1 3-1-1-1-2-1 1-2 0-1 1-1 5-1-2-1 0-2 0-1 3-1 0-1 0-1-2-2 2-1 2-1-1-1 0-1 2-2 1-1-2-1 1-1 3-1 1-2-3-1 3-1-3-1 4-1 0-2 0-1 0-1-1-1 0-1 3-2 0-1 1-1 2-1-2-1 2-2-2-1 5-1-1-1 0-1 1-2-3-1 2-1 1-1 2-1-2-1 3-2 0-1-2-1 4-1-1-1 1-2 0-1-1-1 3-1 1-1-2-2 1-1 0-1 7-1-4-1-1-2-1-1 3-1 1-1-2-1 3-2-1-1-1-1 4-1-5-1 8-2-5-1 3-1 2-1 0-1 0-1-2-2 6-1-7-1 7-1-1-1 3-2-2-1 3-1-6-1 8-1-1-1-4-2 1-1 6-1-3-1 1-1 1-1 3-2-5-1 5-1-3-1 1-1-1-1 0-1 7-1 2-2-3-1 6-1-8-1 1-1 5-1 2-1-6-1 3-1 2-2-1-1 3-1-6-1 4-1 6-1 0-1 2-1 0-1-6-1 5-2 2-1-3-1 3-1-1-1-2-1 7-1-1-1 3-2 2-1-2-1 1-1 1-1-5-1 9-1-6-1 1-2-2-1 7-1-1-1 4-1-4-1 1-1-2-2 6-1-2-1 3-1-5-1 1-1 5-1-2-2 1-1-1-1 3-1 0-1 1-1-2-2 9-1-6-1 5-1-1-1-3-1 4-2-6-1 0-1 3-1 3-1 4-2-3-1 3-1 0-1-4-1 5-2 2-1 0-1-4-1 2-1 1-2-3-1-1-1 4-1 3-2-4-1 5-1-4-1 5-2-4-1 4-1-2-1 2-1 0-2 0-1 0-1 2-1 1-2-1-1 2-1-1-1 3-2-7-1 4-1 1-1-1-2 0-1 1-1 2-1 0-2 0-1 2-1-1-1-1-2 4-1 3-1-2-1-3-2 1-1 6-1-8-1 7-2-2-1-2-1-1-1 6-2-1-1 0-1-1-1-1-2 2-1-1-1 1-1-1-2 1-1 4-1-3-1-3-2 1-1 4-1-1-2-3-1 6-1 5-1-6-2-2-1 6-1 0-1-5-2 1-1 2-1 0-1 2-2-2-1 3-1 2-2-1-1 1-1-2-1 4-2-1-1-5-1 6-1-4-2 5-1-5-1 2-1 0-2 1-1-1-1-3-1 5-2 5-1-2-1-3-1 4-2 3-1-7-1 0-2 5-1-3-1 2-1-2-2 4-1-4-1 1-1 1-2 1-1-1-1 1-1 0-2 3-1-3-1 3-1 3-2-1-1 0-1-3-1-2-2 3-1 0-1 1-1 3-2-4-1 1-1 2-1 2-2-2-1-4-1 5-1 3-2-2-1 5-1-3-1 1-2-2-1 8-1-7-1 1-1 2-2-3-1 5-1 0-1-1-2 0-1 3-1 3-1-1-1-3-2-2-1 4-1-4-1 9-2-5-1 3-1-3-1 0-2 8-1-3-1-4-1 3-1 1-2-3-1 5-1 0-1-4-2 5-1-3-1 1-1 1-2 2-1 3-1 1-1-4-1 0-2 1-1 0-1 6-1-2-2-8-1 5-1 1-1 4-2-3-1 4-1 1-1-1-1-2-2 0-1 4-1-4-1 1-2 3-1-1-1 2-1-1-2-2-1 2-1-1-1 7-1-6-2 3-1-3-1 6-1-1-2-4-1 5-1 5-1-3-1-5-2 7-1-6-1 2-1-1-1 1-2-1-1 3-1 3-1 6-1-5-1 1-2 1-1 1-1-7-1 6-1 4-1-9-2 6-1 2-1 3-1-4-1-2-1 6-2-1-1 0-1 4-1-6-1 6-1 2-2 4-1-5-1 2-1 0-1 3-2-7-1 4-1-2-1 2-1 2-1 2-2 0-1-4-1 0-1 4-1 2-2-3-1 3-1 0-1 1-1 2-1-3-2 4-1-2-1-1-1 1-1 3-2 0-1 0-1 3-1-1-1-4-1 3-1 4-2 1-1-3-1 5-1 2-1-1-1-4-1 3-1 0-2 2-1 3-1 0-1 3-1-3-1 1-1 1-1 2-1-1-2-1-1 0-1 7-1-7-1 0-1 8-1-1-1 0-2 2-1-3-1 0-1 4-1-1-1 1-1 2-1-1-2 3-1-5-1 5-1 2-1-1-1 0-1 2-1-1-2 1-1 0-1 6-1-7-1 3-1 0-1 3-1-4-1 3-2-2-1 5-1-3-1 3-1 5-1-6-1 4-1 5-2-1-1-5-1 6-1 0-1 0-1-4-1 8-1-3-2-3-1 4-1 1-1 4-1-2-1-1-1 2-1 2-1-1-2 1-1-1-1 0-1 2-1 3-1 0-1 2-1 2-1-2-1 2-2 0-1-2-1 6-1 0-1-5-1 3-1 2-1-3-1 2-1 3-1 0-1-2-1 3-1 2-2 1-1 1-1 0-1 0-1 5-1-4-1 1-1 0-1 1-1 1-1 3-1 0-1-4-1 5-1-1-2 3-1 0-1 1-1-1-1 3-1 4-1 3-1-5-1 0-1 0-1 2-1-3-1 2-1 8-2 3-1-6-1 0-1 1-1 5-1-6-1 2-1 2-1 5-1 0-1-3-1 1-1 0-1 0-2 2-1-2-1 2-1 0-1 4-1-2-1 3-1 3-1-3-1-2-1 3-1-3-2 11-1-3-1 1-1-5-1 3-1 0-1-1-1 7-1 3-1-3-1 3-2 0-1-5-1 3-1-1-1 2-1 5-1-3-1 3-1-1-1 5-1-1-1 1-1-1-1 0-2 3-1-4-1-3-1 9-1-2-1 1-1-1-1 5-1-1-1-2-1 9-1-2-1-7-1 3-1 4-1 2-1-2-1 8-1-2-3-10 2-220 1-10 0-2 0-2 1 0 0-3 0-1 0-1 1-2 0-2 0-1 0-2 1-2 0-1 0-2 0-2 1 0 0-1 0-1 1-2 0-2 1-1 0-1 0-2 1-2 0-2 1 0 0-2 1-2 0-1 1 0 0-2 0-1 1-1 0-2 1-1 0-2 1 0 0-3 1 0 0-1 1-1 0-2 1-1 0-2 1 0 0-1 1-3 0 1 1-3 1 0 0-3 1 1 0-2 1-2 1 0 0-2 1 0 0-3 1-1 1-1 0-1 1-2 0-1 1 0 1-2 0 1 1-3 1 0 0-1 1-2 1-2 1-1 1-1 1-2 1-2 0-1 1 0 1-2 0-2 1-1 1 0 0-1 1-1 1-1 0-3 1 1 1-2 0-2 1 1 1-1 0-2 1-3 1 1 0-2 1-1 1-2 1-2 1 1 0-1 1-4 0 1 1-2 1-1 0-2 1-1 1 0 1-2 0-1 1 1 1-4 0-1 1 0 1-1 1 0 0-2 1-2 1 0 1-1 1-1 0-1 1-2 1-1 1 1 1-1 1-2 1-2 1-2 1 0 1-1 1-2 1 0 1-1 1 1 1-2 1 0 1-1 0-1 1-2 1 0 1-2 1-2 1 0 1-2 1-1 1 0 1-1 1 0 1-1 1 0 1-2 1-1 1 1 1-1 1-1 1 0 1-3 1-1 1 0 1-1 1-1 1 0 1-3 1 1 1-2 2-1 1-1 1 2 1-3 1 0 1 0 1-2 1 0 1-1 1-1 1-1 1 0 1-1 1-1 1-1 1 1 1-1 1-1 2-2 1 1 1-2 1 0 1-2 1 0 1-1 1 0 1-2 1 1 1 0 2-3 1-1 1 1 1-2 1 0 1-2 1 0 1-1 2 0 1-1 1-1 1 1 1-1 1-1 1 1 1-2 2-1 1-1 1 0 1-1 1-1 1 1 1-1 2 0 1-1 1-1 1-1 1-1 1 0 1-1 2 0 1-1 1-1 1-1 1 0 1-2 2 1 1 0 1 1 1-3 1 0 1-1 2 0 1-2 1 0 1 0 1-1 1-1 2 1 1-2 1 0 1-1 1 1 1-1 2-1 1 0 1-1 1 0 1-2 2 0 1 0 1-1 1-1 1 0 2 0 1-2 1 1 1-1 1 0 2-2 1 1 1-1 1-1 1 0 2-1 1-1 1 1 1 0 1-1 2-2 1 0 1 1 1-1 1-3 2 3 1-1 1-2 1 0 2-1 1 0 1 0 1 0 1-1 2 0 1-1 1 1 1-1 1-1 2-1 1 1 1-2 1 0 2-1 1 1 1 0 1-2 2 1 1-2 1-1 1 2 1-2 2 1 1-1 1-1 1-1 2 0 1-1 1 0 1 0 2 0 1-1 1-1 1 0 2 1 1-1 1 0 1-2 2 1 1-2 1 2 1-1 2-1 1-1 1 1 1-1 2 0 1 0 1-1 2 1 1-1 1 0 1 0 2-1 1 0 1 0 1-2 2 0 1 1 1-1 1-1 2 0 1 1 1 0 1-1 2 0 1-2 1 1 2-1 1 0 1 0 1-2 2 0 1 0 1 2 1-1 2-1 1 0 1-1 2 0 1-1 1 0 1 0 2 0 1-1 1 0 1 0 2 0 1-1 1-1 2 2 1-1 1 0 1 0 2 0 1-1 1 0 1 0 2-1 1-1 1 0 2 0 1 0 1-1 1 0 2 0 1 0 1-1 1 0 2 1 1-1 1 0 2-1 1 1 1 0 1-1 2-1 1 0 1-1 2 1 1 0 1-1 1-1 2 2 1-1 1 0 2-1 1-1 1 1 1-1 2 0 1 1 1-2 1 1 2-1 1 0 1 0 2-1 1-1 1 0 1 0 2 0 1-1 1 0 1 1 2-2 1 0 1-1 1 0 2 0 1 0 1 0 2-1 1 1 1-1 1-1 2 0 1-1 1 0 1 0 2 1 1 0 1-1 1-1 2 0 1-1 1 0 1 1 2-3 1 0 1 0 1-1 2 1 1-2 1 1 1-1 2-2 1 2 1-1 1 0 1-1 2 0 1 0 1-1 1 0 2-2 1 1 1-2 1 1 2 0 1 0 1-1 1-1 2-1 1 1 1 0 1-1 1-2 2 1 1-1 1 0 1-1 2 0 1 0 1-1 1-1 2 0 1 0 1 0 1-1 2-1 1 1 1-1 1 0 2 0 1-1 1 0 1-1 2 2 1-2 1 0 1-1 2 0 1-1 1 1 1-2 2 1 1-1 1 2 1 0 2-2 1 0 1-2 1-3 2 2 1 0 1 0 1-1 2 0 1-1 1 3 1-1 2-1 1-2 1-2 1 1 2 0 1 0 1 0 1 2 2-3 1-1 1-1 1-1 1 0 2 0 1 0 1-3 1 4 2-5 1 5 1-4 1 0 2 1 1 2 1-7 1 0 2 2 1 2 1-2 1-3 2 4 1 0 1-3 1-3 2 2 1 1 1 1 1 0 1-5 2 1 1-2 1 3 1-1 2 0 1-1 1 0 1-4 2 2 1-1 1 1 1 0 2-2 1-3 1 4 1 2 2-4 1-2 1 2 1 0 2 1 1 2 1-4 1 0 2 0 1-1 1 1 1-4 2-2 1 2 1-2 1 3 2 3 1-1 1-3 1-2 2 5 1-6 1 0 1 2 2-2 1 0 1-1 2 2 1 1 1-4 1-1 2 0 1 2 1 2 2-4 1-2 1 1 1 3 2-1 1-1 1-4 2 3 1-3 1 6 1-1 2 0 1 0 1-3 2 0 1 1 1-1 1-3 2-1 1 3 1 1 2 2 1-1 1 2 2-3 1-3 1 4 1-3 2 4 1-3 1-1 2-3 1 8 1-2 2-4 1 0 1 0 1 4 2-8 1 2 1 2 2-2 1 3 1 0 2-1 1 1 1 0 1-1 2 2 1-3 1-2 2 6 1 0 1 2 2-5 1-1 1 3 1-1 2 2 1-1 1-2 2-5 1 5 1 4 2-4 1 1 1-1 1 2 2 1 1-3 1 2 2-4 1 5 1-1 2 0 1-8 1 10 1-4 2 2 1 2 1 2 2-4 1-2 1 3 2 1 1 2 1-3 1 1 2-3 1 4 1 2 2-4 1 2 1-2 2-2 1 1 1-2 1 4 2 0 1 2 1 1 2-3 1 1 1-3 2 5 1-5 1 1 1 1 2 1 1 2 1-3 2 3 1-2 1-1 2 0 1 3 1-1 1-1 2 0 1 1 1 4 2-3 1 0 1 0 2-1 1 0 1 1 1-2 2 1 1 0 1 1 2-4 1 4 1 3 2-2 1-1 1-4 1 2 2 1 1 1 1 0 2 1 1 5 1-2 2-2 1-2 1-1 1 1 2 3 1-2 1 5 2-7 1-1 1 3 2 1 1-2 1 2 1 0 2-4 1 5 1-3 2 4 1 2 1-3 2-5 1 0 1 6 1-2 2-1 1-2 1 7 2-6 1 2 1 1 2-3 1 5 1-1 1 0 2 0 1-2 1-3 2 6 1-1 1-1 2 4 1-2 1-2 1-3 2 2 1 1 1 4 2-1 1 0 1-2 2-3 1 5 1 0 1-4 2 2 1 1 1-2 2 0 1 1 1 1 2-2 1 1 1-3 1-1 2 8 1-5 1 0 2 1 1 1 1 4 2-3 1 1 1-2 2-1 1 0 1 1 1 0 2 0 1-2 1 2 2-2 1 4 1-4 2 2 1-2 1-2 1 5 2 2 1-2 1-2 2 2 1 1 1-7 2 7 1-6 1 1 1 0 2 2 1-2 1 2 2 4 1-8 1 4 2-3 1 7 1-6 1 4 2-3 1-1 1 5 2-6 1 0 1 3 2-1 1 1 1-5 1 6 2-3 1 1 1-4 2 1 1 3 1-5 2 2 1 3 1-5 1 1 2 0 1 2 1 4 2-7 1 5 1-3 2-2 1 1 1 2 1-1 2-2 1 0 1 6 2 1 1-3 1-2 2 2 1 2 1-2 1 2 2-4 1-1 1 1 2 1 1 4 1-3 2-5 1 7 1-3 2 0 1 1 1 0 1-9 2 8 1-2 1 0 2 2 1 1 1-6 2 4 1-2 1 4 1-9 2 6 1 1 1-5 2 3 1 1 1-6 2 12 1-7 1 2 1-4 2 1 1 2"/>
<path d="M1570 467l-2 26-1 3 0-9-1 7-1 0-1 2 0 1-1 4-1-3-1 5 0-1-1 1-1 2-1-3 0 7-1-3-1 4-1 0 0 2-1 0-1 0-1-2-1 1 0 5-1 0-1 4-1-6-1 6-1-2-1 3-1 3 0 2-1-3-1 1-1 2-1-2-1 3-1 2-2-1-1 2-1-1-1 3-1 0-1 2-1 2-1-4-1 4-1 1-1 1-1 1-1-2-2 5-1-3-1 0-1 3-1-3-1 4-1-1-2-3-1 4-1 3-1 2-1-1-2-2-1 2-1-1-1 3-1-2-2 0-1 1-1 3-1-5-2 2-1 3-1-2-1 2-1-3-2 6-1-2-1 1-1-3-2 5-1 0-1-2-1 3-2-3-1-3-1 4-1 5-2-5-1 1-1 0-2 2-1 0-1 0-1 1-2-1-1 1-1 2-1-2-2 2-1-2-1 4-2-4-1 1-1 2-1 0-2 2-1-6-1 4-2 0-1 0-1-2-2-3-1 1-1 8-1 0-2-7-1 3-1 0-2 2-1 0-1-1-1 1-2-3-1 1-1 3-2 2-1-6-1 3-1 0-2 1-1 2-1-2-2-2-1 3-1-3-1 5-2-3-1 1-1 1-1 1-2 1-1 1-1-1-1-1-2 2-1 2-1-2-1 1-1 1-2 1-1-2-1 2-1 2-2-5-1 6-1 0-1-2-1 1-2 2-1-1-1 4-1-1-1-3-2 5-1-2-1 2-1-3-1 4-2-1-1 1-1 1-1 0-1-2-2 2-1 4-1-4-1 1-1 0-2 3-1-1-1 1-1-2-1 7-2-2-1-1-1 1-1 0-2 0-1 3-1 0-1-2-1 2-2 0-1 0-1-1-1 3-1-1-2 4-1 0-1 0-1-1-2-1-1 0-1 3-1 0-1 0-2-1-1 4-1-4-1 3-1-1-2 2-1-2-1 5-1-5-1 4-2 1-1 1-1 0-1 0-2 0-1 3-1-4-1 5-1-2-2 2-1-2-1 6-1-6-1 4-2-2-1 3-1 1-1-1-1 0-2 0-1 0-1 1-1 1-1 1-2-1-1 4-1-2-1 1-1 1-2 0-1 0-1 1-1 1-1-1-2 3-1-1-1 0-1 2-1-2-2 1-1 1-1 1-1-1-1 5-2-4-1 2-1 2-1 1-1 1-2-1-1-2-1 1-1 3-1 0-2 0-1-2-1 3-1 0-1 1-1 0-2 1-1 1-1 0-1 1-1-1-2 2-1-2-1 4-1 1-1-1-2-1-1 3-1-2-1 2-1 1-2-1-1 3-1-1-1 0-1-3-2 5-1-3-1 3-1 0-1 1-2-3-1 4-1 1-1-1-1 1-2 4-1-5-1 5-1-3-1 2-2 3-1-2-1 0-1 6-1-1-2-2-1 1-1-2-1 2-1 2-2-1-1 1-1 1-1-2-1 2-2 4-1-6-1 2-1 1-1 3-2-2-1 2-1 0-1 4-1-4-2 0-1 3-1-1-1 1-1-3-2 3-1 2-1-2-1 3-1-1-2 3-1 5-1-4-1 1-1-1-2 1-1-1-1 0-1 0-1 3-2-2-1 3-1 2-1-3-1 0-1 3-2 1-1-7-1 3-1 4-1-1-2 3-1 2-1 3-1-4-1 1-1 0-2 6-1 0-1-7-1 2-1-1-1 3-1-3-1 8-2 0-1 0-1-2-1 2-1 3-1-1-1-1-1 2-1-2-2 3-1 7-1-10-1 6-1 1-1 2-1-1-1-1-1 2-2 1-1-3-1 3-1-4-1 5-1 0-1 0-1 3-2 3-1-3-1 7-1-7-1 4-1 5-1-5-1 2-2 4-1-3-1-3-1 4-1 2-1-2-1 0-2 1-1 3-1-2-1 6-1-5-1 3-2 3-1-2-1-4-1 5-1-1-1 1-2-1-1 3-1 1-1-3-1 0-1 5-2 1-1 2-1-2-1-1-1-1-2 6-1 0-1 3-1-5-1 1-2 4-1-6-1 0-1 3-1 4-2 1-1-3-1 1-1-3-1 9-2 1-1-4-1-2-1 4-2 0-1-3-1-1-1 1-2 9-1-8-1 2-1 2-2-1-1 0-1 3-1-1-1 4-2-4-1 2-1 1-1-1-2 0-1 1-1-5-1 7-2 0-1-1-1 4-1-8-2 6-1-2-1 3-1-5-2 3-1 5-1-2-1 0-2 2-1 0-1 0-1-3-2 0-1 6-1 2-1 2-2-4-1-2-1 3-2-2-1 4-1-1-1-8-2 8-1-1-1-4-1 1-2 3-1 1-1-1-1 3-2-6-1 5-1 1-1 1-2-2-1-2-1 6-2-3-1 2-1-2-1 1-2-2-1 1-1 1-1 3-2 3-1 1-1-3-1-1-2-6-1 8-1-1-1 1-2-1-1 3-1 2-1-3-2 5-1-1-1 0-2-2-1-5-1 6-1 0-2 2-1-1-1 0-1-4-2 4-1 2-1-1-1 4-2-4-1 1-1 0-1 1-2-2-1 3-1 0-1 1-2 2-1-2-1 3-1-5-2 5-1-5-1 5-1-1-2-1-1-2-1 6-1 2-2-5-1 2-1-1-1 1-2 5-1-2-1-1-1-1-2 1-1 5-1-1-1 0-1 0-2 2-1-8-1 7-1-3-2 4-1 2-1-4-1-1-1 1-2 9-1-8-1 5-1 3-2-6-1 4-1-7-1 5-2 1-1-1-1 3-1 5-1-4-2-1-1 1-1 2-1-1-2 2-1 0-1-6-1 5-1-2-2 1-1 0-1 1-1 3-2-1-1 5-1-4-1-1-2-1-1 3-1 1-1 5-1-4-2 2-1-3-1 5-1 1-2-1-1 1-1 0-1 1-2-3-1-2-1 2-1 4-2 4-1-2-1 1-1-5-1 2-2-2-1 5-1 1-1 0-2-3-1 2-1 3-1-2-1 3-2-2-1 1-1 3-1-2-1 3-2-1-1 1-1 1-1-1-1-1-1-3-2 4-1 0-1 3-1 3-1-2-1 5-2-4-1 3-1-1-1 1-1 0-1-5-2 4-1 4-1-5-1 6-1-1-1 3-2-2-1-4-1 9-1-4-1 2-1-1-2 2-1 3-1 2-1-2-1 2-2-5-1 2-1-5-1 9-1-1-2-2-1 0-1 2-1 6-1-3-1 4-2-3-1-1-1 1-1 4-1-2-1 0-2 5-1-9-1 7-1 0-1 6-1-7-1 3-2 1-1 0-1-4-1 8-1-1-1 1-1 3-1 0-2-5-1 3-1 4-1-3-1 4-1-4-1 7-1-2-2 0-1-1-1 1-1 1-1 1-1 0-1 1-1 0-2 0-1 2-1 2-1-3-1 3-1-2-1 4-1 5-1-6-2 7-1-1-1-4-1 2-1 2-1 2-1-4-1 3-2 3-1-3-1 2-1-1-1-2-1 2-1 2-1 5-2 2-1-4-1 0-1 2-1 1-1-1-1 3-1-1-2 3-1-4-1 3-1 6-1-4-1-2-1 3-1 2-1 1-2 0-1 3-1-4-1 4-1-2-1 1-1 4-1-2-2-4-1 5-1 4-1-4-1 1-1 1-1 3-1-1-1-2-1 4-2-3-1 7-1-4-1 5-1 3-1-4-1-4-1 7-1 2-1-3-1 1-1 2-1 0-1 1-2 0-1 1-1 0-1 4-1-1-1-2-1-3-1 5-1 5-1-3-1 2-1 0-1 5-1-4-1-1-1 1-2 0-1 7-1-5-1 5-1 0-1 0-1 3-1-4-1 4-1-1-1 2-1-2-1 3-1-1-2 3-1 2-1 1-1-2-1 1-1 4-1 2-1-1-1-4-1 3-1 2-1 1-1 3-1-4-2 3-1 3-1-3-1 4-1-4-1 4-1-1-1-2-1 2-1 4-1-3-1-3-2 7-1 1-1-2-1 9-1-3-1-1-1-3-1 2-1 0-1 1-1 4-2-1-1 3-1-3-1 7-1-5-1 1-1 1-1 1-1 6-1-4-1-1-1 5-1-5-1 9-2-5-1 1-1-1-1 3-1 3-1 1-1-2-1-3-1 7-1 1-1 0-1-2-1 7-1-3-1 0-1 2-1 3-1 1-1-4-3-10 1-217 2-10 0-1 1-2 0-1 0-3 0 1 0-3 1 0 0-1 0-3 0-2 1-2 0-1 0-1 1-2 0-2 1-2 0-1 0-1 1-2 0-2 1-2 0-2 0-1 1 0 0-3 1 0 0-2 1-1 0-2 1-1 0-2 1 0 0-2 1 0 0-3 1 0 0-1 1-2 0-1 1-2 0 1 1-2 0-1 1-2 0-1 1-1 0-1 1-1 0-3 1 0 1-2 1-1 0-2 1 0 0-2 1-1 1-2 0-2 1 0 0 1 1-3 1-2 0 1 1-2 1-2 0-1 1-1 1 0 0-2 1-2 1 2 0-3 1-3 1 2 0-3 1 0 1-2 1-1 0-1 1 0 1-2 0-1 1-2 1 0 0-2 1-1 1-1 0-1 1-2 0-2 1 1 1-1 0-2 1 0 1-2 0-2 1-1 1 0 0-1 1-1 1-2 0-1 1-1 1 0 0-1 1-2 1-2 1-1 1-1 0-3 1 0 1-1 1-2 1-2 1 0 1-1 1-1 0-1 1-1 1-2 1-1 1 0 1 1 1-3 0-1 1 0 1-1 1-1 1-1 1-2 1-1 1 0 1-1 1-2 1 1 0-3 1 0 1-2 1 1 1-2 1 0 1-1 1-1 1-1 1 0 1-2 1 0 1-2 1 0 1-1 1 0 1-2 1-1 1 0 1-1 1-1 1-1 1-1 1-2 1 2 1-2 1-2 1 1 1-2 1 0 2-1 1-1 1-1 1 0 1-1 1-2 1 0 1 0 1-2 1 0 1-1 1 0 1-1 1-4 1 2 1 0 1-1 1-2 2 1 1-1 1-3 1 0 1 0 1 0 1-1 1 0 1-1 1 0 2-1 1-2 1 0 1-1 1 0 1-2 1 1 1-1 1-1 2 0 1-1 1-2 1-1 1 0 1 1 1-2 2 1 1-2 1 0 1-1 1-1 1-1 1 0 2-1 1 1 1-1 1-3 1 1 1 0 1-1 2-1 1 0 1-2 1 0 1-1 1 0 1 0 2 0 1 0 1-2 1-1 1-1 1 1 2-1 1-1 1 2 1-3 1-1 2 0 1-2 1 2 1-2 1 0 1 0 2-3 1 0 1 0 1 1 1-2 2-1 1 0 1 0 1-1 1 0 2 0 1-1 1-2 1 1 1-2 2-1 1 1 1 0 1 0 1-2 2 1 1-2 1-1 1 1 1-1 2-1 1 0 1 1 1-1 1 0 2-2 1 0 1 0 1-2 1 1 2-3 1 1 1 0 1 0 2 0 1-1 1-2 1 0 1 2 2-3 1 0 1 0 1 0 2 0 1-3 1 1 1 1 2 0 1-2 1 0 1 0 1-2 2 1 1-2 1 1 1 1 2-2 1-1 1 1 1-2 2 0 1-1 1 1 1-1 2 2 1-1 1-3 1 1 2-1 1 2 1-2 1-1 2 0 1 0 1-1 2 0 1-1 1 1 1-1 2 0 1 1 1-1 1-2 2 1 1 0 1-2 1 1 2 0 1-1 1-1 1 0 2 1 1-2 1 1 2 0 1-2 1 1 1-1 2 1 1-2 1 0 1 0 2 0 1-1 1 0 1-1 2 2 1-2 1 0 2 0 1-1 1 0 1 0 2 0 1 1 1-1 1-1 2 0 1-1 1 0 2 1 1-2 1 0 1 0 2 1 1-1 1-1 2-1 1 1 1 0 1 0 2-1 1 0 1-1 2 1 1-2 1 2 1 0 2-1 1 1 1-3 1 0 2 2 1-1 1 0 2 0 1 0 1 0 1 0 2-2 1 1 1-2 2 0 1 2 1-1 2-1 1 0 1 0 1-1 2 0 1 0 1-1 2 1 1 0 1 0 1-1 2 0 1-1 1 0 2 0 1 1 1-1 1 1 2-1 1-1 1 1 2-1 1 0 1 0 1 1 2-1 1 0 1 0 2-1 1-2 1 1 1 0 2 0 1-1 1 1 2 0 1-1 1-1 1-1 2 2 1-1 1-1 1 0 2 1 1-1 1 0 2 0 1 0 1-1 1-2 2 1 1 0 1 0 1-2 2 3 1-3 1 0 1 0 2-1 1-1 1 1 1 0 2-1 1 0 1-1 1 1 2-1 1-1 1 0 1 0 2-1 1 0 1 0 1-2 2 1 1-1 1-1 1 1 2-1 1-3 1 2 1 1 2-1 1-1 1 0 1-2 2 0 1 0 1 0 1 1 2-1 1-1 1 2 1-3 1 1 2-2 1-1 1 1 1-3 2 3 1 0 1-1 1-2 2 2 1-2 1 0 1 1 1-4 2 0 1 0 1-1 1 3 2-2 1-3 1 0 1-2 1 2 2-1 1 0 1 0 1 0 2 2 1-3 1-2 1 2 1-2 2-1 1 0 1 1 1-4 1 0 2 3 1-2 1-1 1-2 2 5 1-4 1-1 1-1 1 3 2-5 1 4 1-2 1-3 2 2 1-1 1-1 1-1 1 0 2-1 1-2 1 5 1-6 2 3 1 1 1-3 1 0 2-1 1-3 1 5 1-5 1 3 2-1 1 1 1-2 1 1 2-3 1 0 1 2 1-1 2-2 1-1 1 2 1 0 2 0 1 1 1 0 1-3 2-5 1 2 1-3 1 6 2 0 1 0 1-2 1-3 2 2 1-6 1 3 1 3 2-2 1-2 1-1 2 2 1 1 1 0 1-2 2-1 1-1 1-2 1 2 2-2 1 4 1-3 2-1 1 4 1-3 1 1 2-3 1 1 1 1 2-2 1 3 1 0 1 0 2-4 1 4 1-5 2 5 1-3 1 1 1-1 2-1 1-2 1-1 2 7 1-1 1-6 2 4 1-1 1 2 1-6 2 3 1-2 1-1 2 5 1-3 1 3 2-1 1-4 1 3 1 1 2 3 1-4 1 4 2 1 1-4 1 1 2-2 1-1 1 0 1 4 2-2 1-4 1-2 2 3 1 1 1 0 2-2 1 1 1-1 1 5 2-3 1 1 1 0 2-2 1 3 1-1 2-1 1 1 1-1 1 3 2-3 1 3 1 2 2-5 1-1 1 2 2-1 1 4 1-2 2 2 1-1 1-2 1 1 2 2 1-1 1-2 2-1 1 2 1-1 2 5 1-7 1 5 1-3 2 2 1-2 1 3 2-2 1 1 1 2 2-3 1 1 1 2 1-5 2 3 1-1 1 5 2-1 1-3 1 2 1-5 2 1 1 4 1-3 2 2 1-3 1 4 2-2 1 2 1 3 1-5 2-2 1 3 1 6 2-6 1-1 1 1 2 0 1 0 1 1 1 3 2-2 1 0 1-1 2 1 1-3 1 5 2 2 1-2 1-2 1 2 2-2 1-1 1 1 2 1 1 2 1-1 2 1 1-2 1-4 1 2 2 3 1-3 1 3 2-4 1 5 1-4 2 3 1 1 1-2 1 3 2 0 1-3 1 3 2-2 1 0 1 1 2-1 1-5 1 2 1 6 2 1 1 0 1-5 2-3 1 5 1 3 2-4 1-4 1 6 2-1 1-2 1 3 1-4 2 5 1-3 1-2 2 7 1-4 1-4 2 6 1-2 1 3 1-7 2 0 1 3 1 1 2 2 1 0 1 2 2-3 1 0 1 1 1 1 2 0 1-5 1 4 2-1 1 0 1-3 2 8 1-3 1-4 1 1 2 2 1-1 1-2 2 3 1-3 1-1 2 3 1 4 1-2 1-5 2 7 1-3 1-1 2-3 1-2 1 4 2-4 1 4 1 4 1-6 2 6 1-1 1 0 2-3 1 2 1 2 2-3 1-2 1 6 1-5 2 3 1 0 1-4 2 1 1-7 1 5 2 7 1-7 1 1 1 0 2-1 1 2 1-3 2 7 1-6 1 1 2 5 1-7 1 6 2-2 1-5 1 4 1-3 2 1 1-1 1 1 2 2 1-7 1 5 2 1 1 0 1-2 1-3 2 4 1 0 1 2 2 2 1-3 1 3 2-5 1 4 1-4 1 1 2-1 1 0 1 2 2-1 1-2 1 2 2 2 1 0 1-4 1 1 2 0 1 0 1 2 2-2 1 3 1-2 2-3 1 1 1 4 1-7 2 4 1 4 1-3 2-7 1 3 1 6 2-10 1 7 1 2 1-6 2-1 1 3 1 2 2-1 1 0 1 1 2 0 1-4 1 1 1-1 2 3 1 1"/>
<path d="M1570 458l0 61-2-31-1 2 0 4-1 3-1 1-1-4 0 3-1 6-1-2-1 1 0 2-1-1-1 3-1 0 0-1-1-1-1 5-1 3 0-3-1 3-1 2-1 2-1-1 0-1-1 4-1-1-1 2-1 4-1-1-1 0 0 4-1-2-1-2-1 2-1 4-1 0-1-4-1 0-1 6-2 0-1-3-1 5-1 1-1-3-1 3-1 4-1-2-1-1-1 2-1 5-1-6-2 4-1 2-1 1-1 2-1-6-1 7-1 0-1-1-2-1-1-1-1 1-1 1-1 1-2 3-1-4-1 3-1 4-1-3-1 0-2 7-1-2-1-5-1 5-1 1-1-1-1 1-2 3-1-2-1 1-1-1-1 5-1-2-2 0-1 1-1-1-1 0-1 0-2 7-1-4-1 1-1 1-1-2-2 1-1 2-1-1-1 1-2 3-1-1-1 1-1-1-2-2-1 1-1 6-1-8-1 7-2 2-1 0-1 1-1-5-1 3-2-3-1 4-1 1-1 1-2-4-1 0-1 2-2-1-1 4-1 0-1-1-2 0-1-2-1 5-1 2-2-4-1 0-1 2-1-1-2 0-1 2-1-1-1 2-2-2-1 2-1-3-1 6-2 0-1-3-1 1-2-2-1 2-1 4-1-4-2-2-1 3-1 1-2-1-1 1-1 1-1-1-2-1-1 3-1 1-1-1-2 1-1 3-1-3-1 0-2 2-1-4-1 5-1-3-2 1-1 0-1 3-1 1-2-1-1 2-1 0-1-1-1 3-2 0-1-1-1 1-2 0-1-3-1 3-1-3-2 4-1 0-1-1-1 2-2-3-1 4-1-1-2-1-1 1-1-2-1 3-2-1-1 4-1-5-2 4-1-1-1-2-1 1-2 0-1-3-1 3-1 2-2 2-1 1-1-4-1 2-2-1-1 1-1 3-1-2-2 0-1 2-1-1-1 2-2 3-1-2-1 0-1 1-2-1-1 1-1-1-1 3-2 0-1-2-1 3-1 0-2 0-1-1-1 1-1 2-1-1-2 0-1 2-1-1-1 1-2 2-1-2-1 2-1 2-1 0-2-2-1 1-1 0-1 1-1 0-1 3-2-1-1 0-1 4-1-5-1 4-2 1-1 1-1 0-1-1-1 4-2-3-1 3-1-1-1 2-1-3-2 1-1-2-1 5-1 2-1-3-2 3-1 1-1-1-1 0-1 0-2 2-1 0-1-1-1 2-1 0-2-1-1 2-1 1-1-1-1 3-2-1-1-1-1-1-1 2-1 2-2-2-1 1-1 4-1 1-1 0-2 4-1-7-1 2-1 6-1-5-2 2-1 2-1-2-1 0-1 1-2 2-1 1-1-2-1 2-1 4-2-3-1-1-1 3-1-3-1 3-2 1-1 2-1 0-1-2-1 2-2 2-1 1-1-2-1 0-1 2-2-4-1 1-1 0-1 5-1 1-2-2-1 3-1-1-1 4-1-5-2 2-1 1-1 2-1-2-1 2-2 1-1-1-1 3-1 4-1-5-2-4-1 9-1-3-1-1-1 1-2 0-1-2-1 8-1 1-1-7-2 4-1-1-1 1-1 0-1 2-2 1-1 0-1 3-1-4-1-2-2 6-1 0-1 1-1-3-1 2-2 4-1-4-1 3-1 2-1-2-1-1-2 8-1-5-1 2-1-1-1 0-1 3-1-1-2-1-1 5-1-5-1 2-1 2-1 6-1-2-2 1-1 0-1 0-1-1-1 0-1-2-1 2-1 3-1 0-2 4-1-3-1-2-1 9-1-4-1-4-1 10-1-6-1 5-2-6-1 4-1 1-1 1-1-4-1 8-1-1-2-1-1 1-1-1-1 1-1 2-1 2-1-1-1 0-2 5-1-7-1-1-1 7-1 0-1-1-2 3-1 2-1 1-1-2-1 4-1-1-2-1-1 1-1-4-1 9-1-2-1-3-2 6-1-7-1 8-1-2-1-1-1-1-2 5-1 1-1-3-1 2-1 4-2-7-1 6-1-4-1 5-1 1-2-3-1 4-1 4-1-10-1 10-2-4-1-1-1 1-1 2-2 4-1-3-1 0-1-2-2-1-1 6-1-3-1-5-1 7-2-1-1-1-1 1-1 5-2-5-1 4-1-2-1-1-2 7-1-2-1 3-1-4-2 3-1 3-1-6-1 4-2-1-1 1-1-3-1 2-2-4-1 6-1 0-1-2-2 6-1-2-1 0-1-3-2 3-1 3-1-5-1 1-2 2-1 0-1 2-1-1-2-3-1 5-1-1-1 2-2-4-1 2-1 1-1 2-2-1-1-3-1 7-1-4-2 1-1 4-1-4-1 1-2 2-1 0-1-4-2 3-1 4-1 7-1-11-2 5-1-1-1 0-1 2-2-5-1 2-1-1-1 4-2 2-1-3-1 1-1 2-2-3-1 0-1-5-1 5-2 3-1-2-1 0-1 6-2-2-1 2-1 0-1-1-2 2-1-5-1 6-2-4-1-1-1-3-1 10-2-7-1 6-1-4-1 3-2 3-1-2-1-3-1 3-2 0-1-2-1 2-1-1-2 2-1 3-1 1-1-4-2 2-1 3-1 1-1-1-2 2-1-1-1-5-1 2-2 7-1-5-1 1-1-2-2 2-1 2-1-2-1 8-1-6-2 5-1-6-1 0-1-1-2 4-1 1-1-3-1 1-1 9-2-4-1 0-1 0-1 2-1-4-2 1-1 1-1-1-1 2-2 5-1-3-1 3-1-4-2 6-1-2-1 0-1-2-1-2-2 6-1-2-1 0-1 2-2-1-1 7-1-4-1-1-1 2-2 2-1-4-1 2-1 1-2 3-1-2-1-2-1 4-2 0-1 0-1 0-1-3-1 3-2 0-1 0-1 2-1-1-2 1-1 1-1 3-1 0-2-1-1 2-1 1-1 0-1-1-2 0-1-3-1 4-1 4-2-2-1-1-1-1-1 1-1 0-2 3-1 0-1 6-1-8-1 1-2 6-1-2-1 2-1-2-1 1-1-1-2-4-1 7-1-6-1 9-1 0-1 1-2 3-1 2-1-5-1 1-1 0-1 3-2-7-1 5-1 1-1 0-1 5-1-2-2 1-1 2-1-2-1 0-1 3-1-4-2 3-1-3-1 3-1 3-1 2-2-5-1 4-1-2-1 2-1 0-1 5-2-5-1 2-1-1-1 4-1 0-2-5-1 5-1-2-1 6-1-1-1-2-2 1-1-2-1 3-1 4-1-5-1 3-2 3-1 3-1-1-1-1-1 3-1-3-1 6-1-1-2 0-1 1-1-1-1 0-1-3-1 4-1-1-1-2-1 6-2-2-1 1-1 6-1-1-1-1-1 0-1 0-1 2-2 2-1-3-1 3-1-1-1 1-1 3-1-2-1 3-1 1-2 4-1-4-1-1-1 2-1 0-1 4-1 1-1-5-2 0-1 1-1 9-1-3-1-2-1 3-1 0-1-2-2-2-1 4-1 4-1 1-1-2-1-1-1 8-1-4-1 2-2-1-1 4-1 2-1-5-1 5-1-2-1 0-1-1-2 5-1-2-1 0-1-2-1 6-1-2-1 1-1 3-1-1-2 0-1 3-1-2-1 2-1 3-1-1-1 0-1 1-1 3-1 0-2-3-1 4-1-2-1-1-1 1-1-2-1 5-1-2-1 7-1-3-1 0-1 1-1 1-2 2-1-1-1 3-1 0-1 1-1-4-1 4-1 4-1 2-1-1-1-3-1 2-1 7-1-9-1 6-1 3-1-6-2 3-1 3-1-3-1 2-1 3-1-2-1 5-1-2-1 0-1-2-1 5-1 3-1-1-1-3-2 4-1-1-1 3-1 1-1-1-1 3-1-1-1 1-1 2-1-1-1 3-1-3-1 5-1-4-2 2-1 2-1 4-1-1-1-3-1 0-1 1-1 4-1-2-1 6-1-1-1-1-2 2-1-1-1 1-1-2-1 2-1 1-1 9-1-7-1 0-1 8-1-6-2 6-1-1-1-6-1 4-1-5-1 8-1-1-1 0-1 0-1 9-1-1-1-1-1-1-1 1-1 0-2 2-1 2-1 0-1-1-1-1-1-1-1 7-1-1-1 1-1 2-1 5-1-8-1 3-1 1-1 5-1-4-1 3-1-3-1 5-1-10-2-220 3-10 0-1 0-2 1-1 0-1 0-2 0-1 0-2 1 1 0-3 0-2 0-1 1-2 0-1 0-1 0-2 1-2 0-1 0-1 1-2 0-2 1-1 0-2 1-1 0-3 0-1 1 0 0-2 1-1 0-1 1-1 0-1 1 0 0-3 0-1 1-2 1-2 0-1 1-2 0-1 1-1 1-1 0-1 1-3 0-1 1 0 0-2 1 0 0-2 1-1 0-2 1-1 1 0 0-3 1 0 0-2 1-1 1-2 1-1 0-1 1-1 1-1 0-1 1-1 0-2 1 0 1-1 0-2 1-1 1-1 0-1 1-2 1-1 0-2 1 0 1-1 1-2 0 1 1-4 1 0 0-2 1 1 1-3 0-1 1 0 1-1 0-1 1-2 1 0 0-2 1 0 1-2 1-3 1-2 1-1 1-3 1 0 0-1 1-2 1-1 0-1 1-2 1 1 0-3 1 0 1-1 0-1 1-2 1-1 0-1 1-1 1 0 1-2 0-2 1 0 1-1 1-1 1-2 1 0 1-1 1-1 1 0 1-4 1 1 0-1 1-1 1-3 1 0 1-1 1 0 1-1 1 0 1-2 1 0 1-2 1-1 0-1 1-2 1 0 1 0 1-2 1-1 1 0 1-1 1 0 1-1 1-2 1 0 1 0 1-1 1-1 1-2 1 0 1-1 1-2 1 0 1 0 1-1 1 0 1-2 1-2 1 0 1 0 1-1 1-1 2-1 1-1 1 0 1-1 1 1 1-3 1 0 1-3 1 0 1 0 1-2 1 1 1-1 1 0 1-1 1-2 1-1 1 0 2 0 1-2 1-1 1-1 1 1 1-1 1-1 1 1 1-2 1-1 1 0 2-2 1 0 1-2 1 1 1-1 1-1 1-1 1 0 2-1 1-1 1 0 1-2 1 1 1-2 1 0 1 0 2-2 1 2 1-4 1 2 1-2 1-1 1 0 2-2 1 2 1-1 1-1 1-1 1-1 1 1 2 0 1-2 1-1 1-1 1 0 1-2 2 0 1 0 1 0 1-1 1 1 1-2 2 0 1-1 1-1 1 0 1 0 1-2 2 0 1-1 1 1 1-1 1-1 2-1 1 1 1-4 1 1 1 0 2-1 1-1 1 0 1 1 1-1 1 0 2-2 1-1 1 0 1 1 1-2 2 1 1-1 1-1 1 0 1-1 2 0 1 0 1-1 1-1 2 0 1 0 1-2 1 0 1-1 2 1 1-2 1-1 1 0 1 1 2-1 1-1 1-2 1 1 2 0 1 0 1 0 1-1 1-1 2 0 1-2 1 0 1 1 2 0 1-1 1-1 1 0 2-2 1 1 1-1 1 0 1 0 2-2 1 1 1 0 1-2 2 3 1-3 1 0 1-1 2-1 1 1 1-1 1 1 2-1 1-1 1 1 1 0 2-2 1 0 1 0 1 0 2-2 1 1 1 1 2-2 1 1 1-1 1-2 2 2 1-1 1 0 1-2 2 1 1 0 1 0 1-1 2-1 1 0 1-1 1-1 2 1 1-1 1-1 2 1 1 0 1-2 1 2 2-1 1-1 1 1 1-1 2 1 1-1 1 0 2 0 1-2 1 0 1-1 2 2 1-1 1-2 1 1 2 0 1 0 1-1 2 1 1-2 1 1 1-1 2 0 1-1 1 1 1-2 2 0 1 2 1-1 2 0 1-1 1-2 1 3 2-2 1 1 1-1 2 0 1-2 1 2 1-2 2 0 1 0 1 0 2 0 1 1 1-2 1 0 2 1 1-1 1-1 2 0 1 0 1 0 1 2 2-1 1-2 1 0 2 1 1-1 1-1 1 3 2-2 1-1 1-1 2 1 1 0 1 0 1-1 2-1 1 1 1 0 2 0 1-2 1 0 1 2 2-1 1 0 1 1 2-1 1 0 1-1 1 0 2-1 1 0 1 0 2-1 1 0 1 0 1 0 2 1 1-1 1 0 2 0 1 0 1-1 1-1 2 1 1 0 1-2 2 1 1 0 1 0 1 0 2-1 1 0 1-1 2 0 1 0 1 0 1-1 2 0 1-2 1 2 1-2 2 0 1 1 1 0 1 0 2-3 1 1 1-1 1 0 2 1 1-2 1-1 1 0 2 3 1-4 1 0 1 0 2 0 1-1 1-1 1 1 2-1 1-1 1 0 1 0 2 0 1-1 1 2 1-1 2-1 1 2 1-3 1-1 2 2 1-3 1-2 1 1 2 0 1 1 1-1 1 0 2-1 1 1 1-3 1 0 2 0 1-1 1 1 1-2 1 2 2-4 1-1 1 2 1 2 2-3 1 0 1-1 1 1 2 0 1-2 1-1 1 3 1-4 2-1 1 1 1-2 1 2 2 2 1-2 1-3 1 2 1-6 2 5 1-2 1 1 1-4 2 1 1 4 1-4 1-1 1-3 2 3 1-1 1 3 1-6 2 3 1 2 1-2 1-6 2-1 1 2 1-2 1 2 2 1 1-2 1 0 1-1 1 5 2-5 1 0 1-1 1-1 2 4 1-5 1 2 1 1 2-4 1 1 1 0 1-1 2-2 1-2 1 5 1-4 2 0 1-1 1 3 1 2 2-3 1-3 1 2 1 0 2 2 1-3 1-2 1 0 2 0 1-1 1 1 1-1 2 0 1-2 1-1 1 2 2-3 1 3 1-2 2 4 1-2 1-3 1 3 2-2 1 2 1-3 1-1 2-2 1-2 1 5 2 1 1-2 1-5 1 6 2-1 1-2 1 1 2 0 1-2 1 4 2-5 1 6 1-3 1-2 2-1 1 0 1 2 2-1 1 1 1 3 1-3 2 0 1 0 1-2 2 3 1 1 1-5 2 4 1 0 1-5 1 3 2-3 1 4 1-6 2 5 1 0 1-2 2 1 1 2 1 1 1-5 2 2 1-2 1 1 2 0 1 1 1 0 2-3 1 0 1 2 2 0 1 2 1-3 1 0 2-1 1 1 1 3 2-1 1-1 1 1 2-2 1 0 1-2 1 4 2-3 1 2 1 3 2-7 1 3 1-1 2 3 1-5 1 5 1 3 2-6 1 3 1 0 2-1 1 1 1 3 2 0 1-7 1 4 1-2 2 0 1 2 1-1 2 5 1-3 1 1 2-2 1 2 1-2 1 0 2 1 1 0 1 3 2-3 1-3 1 2 2 1 1 1 1-1 1 4 2-2 1 0 1-1 2-2 1 1 1-1 2 0 1-1 1-1 1 5 2-4 1 2 1 0 2 5 1-4 1-3 2 2 1 1 1 1 1-2 2 0 1 0 1 4 2-5 1 5 1-1 2 0 1 2 1-7 1 7 2-1 1 4 1-3 2-1 1-2 1 5 2-2 1-5 1 0 1 2 2 4 1-7 1 2 2 3 1 0 1 3 2 1 1-3 1-2 2 2 1-2 1 3 1-5 2 6 1-5 1 4 2-3 1 3 1-4 2 0 1 3 1 1 1 3 2-1 1-3 1-1 2-1 1 5 1-5 2 0 1 0 1 3 1 1 2-8 1 8 1-6 2 7 1 0 1-3 2-2 1 4 1-1 1-1 2-2 1 4 1-1 2-1 1 2 1 1 2 6 1-7 1-2 1 3 2-8 1 7 1 0 2 1 1-2 1 1 2-2 1 2 1-5 1 5 2-7 1 10 1-5 2 0 1 3 1-8 2 4 1 3 1-1 2-2 1 0 1 0 1 1 2 2 1 3 1-6 2 6 1-1 1-2 2-7 1 8 1-1 1-2 2 3 1 2 1-5 2 1 1 1 1-5 2 4 1-2 1 1 1 2 2 2 1-4 1 2 2 0 1-2 1 3 2 2 1-7 1 2 1-4 2-1 1 9 1-10 2 10 1 0 1-4 2 0 1 0 1-6 1 5 2-1 1 0 1-4 2 5 1-3 1 5 2-5 1 5 1-2 1-1 2-1 1 7 1-5 2-6 1 5 1 2 2-3 1 1 1 5 1-4 2-2 1 7 1-3 2 0 1-9 1 3 2 5 1-3 1 0 1 4 2-5 1 1 1 2 2-2 1-1 1-1 2 8 1-5 1 0 2 1 1 0 1-4 1 2 2-1 1 2 1-4 2-1 1 6 1 1 2-3 1 0 1-4 1 1 2 1 1-1 1 1 2 0 1-4 1 2 2 2 1-5 1 4 1-2 2 1 1 0"/>
<path d="M1570 461l-2 30-1 1-1 4-1-2-1 3-1 4-1 0-1-2 0 3-1 4-1 0-1-1 0 2-1 0-1 0-1 1 0 4-1 1-1 1-1 0-1 1 0 1-1 0-1-1-1 2-1 6-1 2-1-2-1 1-1-3-1 5-1-1-1 3-1 0-1 2-1 1-1-1-2 0-1 0-1 1-1 2-1 0-1 5-1-2-1 6-1-7-1 6-1-6-2 4-1 1-1 1-1-3-1 5-1 1-1-2-1 1-2 3-1-1-1 2-1 0-1 0-2-2-1 3-1 0-1 1-1 0-1 2-2-1-1 3-1 2-1-1-1-1-1 0-1 2-2-1-1 1-1 2-1-3-1 1-1 3-2-2-1 3-1 0-1 2-1 0-2-2-1 3-1 1-1-3-2 2-1-1-1 0-1 4-1 2-2-3-1 0-1 0-1 2-2 3-1 0-1-3-1 3-1-3-2 3-1-1-1 4-1-2-1-2-2-1-1 2-1 3-2 2-1-1-1 0-1-1-2 1-1-1-1-1-2 4-1-3-1 3-1-3-2 3-1 1-1 1-1-3-2 1-1 2-1-3-2 3-1 0-1 0-1-1-2 0-1 1-1-2-2 3-1-1-1 1-2-1-1 1-1 0-1-1-2 2-1-2-1 1-2 2-1-1-1 0-1 1-2 1-1-1-1 2-2 1-1-3-1 0-1-1-2 2-1 0-1 3-1-3-2 3-1 1-1-1-1 1-2 0-1-2-1 2-1 1-2 0-1-2-1 4-1-3-2 1-1-2-1 3-2 1-1 0-1-1-1 2-2 1-1-1-1-1-1 2-2-1-1 2-1 1-1-1-2 0-1 1-1 3-1-2-2-1-1-1-1 4-1 0-2 2-1-2-1 2-1 3-2-5-1 0-1 3-1 1-1 0-2 1-1-2-1 1-1 1-1-2-2 3-1-1-1 2-1-1-1-1-2 5-1 0-1 0-1-1-2 2-1 1-1-3-1 1-1-1-2 5-1-1-1 6-1-6-1 2-2-3-1 5-1-1-1 1-1 0-2 2-1-1-1 1-1 0-1 1-2 1-1 0-1 0-1-2-1 3-2 3-1-1-1 2-1-1-1-1-2 1-1 2-1 1-1-3-1 2-2 0-1 0-1-1-1 1-1 0-2 4-1-1-1 3-1-1-1 2-2 0-1 0-1-1-1 1-1-1-2 3-1 0-1 0-1 4-1-4-2 1-1 1-1 0-1 0-1 3-2-1-1 2-1 0-1 0-1 5-2-4-1 0-1 1-1 0-1 1-2 3-1 0-1-2-1 2-1-1-2 0-1 3-1-1-1-1-1 4-2-2-1-1-1 4-1 2-1-2-2-1-1-2-1 4-1 1-1 1-2-1-1 1-1 2-1-2-1 5-2-3-1 3-1 1-1-6-1 2-2 4-1-1-1-3-1 2-1 1-2 4-1-1-1 1-1-2-1 1-2 3-1-2-1 3-1-3-1 2-2 4-1-5-1 2-1 2-2 1-1-1-1 0-1 0-1-4-2 7-1-2-1 4-1 1-1-1-2 2-1 0-1-3-1 6-1-6-2 4-1 3-1-6-1 3-1 4-2 1-1 1-1-3-1 2-1-2-2 3-1-5-1 4-1 3-1-5-2 5-1 1-1 1-1 1-1-7-1 6-1-4-2 6-1 1-1-3-1 6-1-2-1 0-1-1-2 2-1-2-1 3-1 4-1-4-1 0-1 1-1 2-1 3-2 0-1 3-1 1-1 2-1-6-1 4-1 3-1-5-2 1-1-1-1 2-1-1-1 7-1-5-1 4-2 4-1-1-1-2-1 6-1-1-1-4-1 3-1 0-2-1-1 0-1 3-1-2-1 2-1 1-2 3-1 2-1-4-1 3-1 2-1-2-2 1-1 5-1-7-1 4-1 3-1-4-2 4-1 1-1-3-1 2-1-1-2 4-1-2-1 1-1 0-1 2-1-2-2 2-1 2-1 0-1-1-1-2-2 4-1 0-1 1-1 1-2 0-1 1-1-7-1 4-1 5-2 0-1-2-1-1-1 2-2-3-1 3-1 2-1-4-1 4-2 4-1 1-1 4-1-6-2 0-1 2-1-2-1 0-2-1-1 6-1-3-1-3-2 5-1-5-1 3-1 5-2-3-1 0-1 5-1-5-2 4-1 2-1-6-1 1-1 5-2 2-1-8-1 8-1-7-2 9-1-4-1-1-2 1-1 1-1-4-1 8-2-2-1 3-1-7-1 7-2-4-1 6-1-1-1-6-2 2-1 4-1-3-1 0-2-2-1 12-1-6-1-3-2 1-1 5-1-2-1 2-2-4-1 3-1 0-1-1-2 1-1 7-1-7-1-1-2 5-1-4-1 3-2 4-1-4-1-1-1 5-2-7-1 0-1 3-1 2-2 0-1-2-1-2-1 4-2 2-1-2-1 0-1 0-2 7-1-7-1 1-1 3-2 2-1-3-1 1-1 4-2-3-1 1-1-3-1 4-2-2-1 0-1 3-1 0-2 1-1-2-1 2-1 1-2 0-1 5-1-2-1-2-2 1-1 3-1-2-1-3-2 5-1 0-1 3-1-3-2-4-1 4-1 2-1-3-2-1-1 0-1 4-1 0-2-2-1-1-1 7-1-3-1 6-2-4-1-1-1 0-1 7-1-6-2 4-1-3-1-4-1 10-2 0-1-8-1 7-1-3-1 0-2 6-1-1-1-3-1 0-2 3-1-1-1 1-1 2-1-1-2 3-1 1-1 0-1-3-2 5-1 1-1-5-1 4-1-3-2 1-1 7-1 1-1-7-2 0-1 6-1-3-1-3-2 5-1 0-1-3-1 1-1 0-2 2-1 1-1 3-1-3-2 1-1-1-1 2-1 0-1 5-2-2-1 0-1 0-1 0-2 4-1-1-1-4-1 3-2-2-1 3-1-2-1 3-1 0-2-2-1 2-1 2-1-1-1-3-2 5-1-1-1 5-1-9-1 3-1 3-2-1-1 2-1 5-1-6-1 2-1 2-2 3-1-4-1 5-1 0-1-6-1 11-2-2-1 2-1-1-1-3-1 3-1-3-2 6-1 0-1 2-1-2-1-2-1 3-2 0-1 5-1-4-1-2-1 1-2 5-1-2-1-3-1 2-1 0-1 3-2 4-1-4-1 3-1-1-1-3-2 6-1-3-1 6-1-3-1 3-1-4-2 4-1 4-1 0-1-2-1 1-1-4-2 4-1-1-1 1-1 5-1-2-1 3-1-4-1 1-2 3-1-1-1 2-1 1-1 6-1-5-1 4-1-6-1 0-2 5-1-3-1 6-1-2-1-1-1 4-1 2-1-4-1-2-2 4-1 1-1 1-1 4-1-2-1 1-1 4-1-6-2 4-1-1-1 4-1-4-1 1-1 5-1-2-1 5-2-4-1 3-1 1-1-1-1 1-1 2-1 0-1 2-2-3-1 0-1 6-1-2-1-3-1 4-1 5-1-3-1-1-2 0-1 3-1 2-1 0-1-2-1 1-1-1-1 4-2-6-1 7-1-1-1 3-1 3-1-9-1 3-1 3-1 8-2-6-1 7-1-3-1 1-1-2-1 3-1 0-1 0-1 1-1-3-2 3-1 2-1 0-1-2-1 5-1-2-1 2-1 1-1 2-1 1-1-7-1 5-1 2-2 1-1-1-1 7-1-4-1 4-1-1-1 1-1 1-1-8-1 9-1-1-1-1-1 4-1-2-1 2-1 2-1 0-2 1-1 2-1-3-1 2-1-1-1 4-1 1-1-2-1 1-1-1-1 1-1 8-1-8-1 5-1 0-2-2-1 8-1-3-1 0-1 3-1 0-1-3-1 4-1 1-1 1-1 4-1-2-1-1-1 2-2 3-1 0-1-1-1 0-1-1-1 3-1-1-1 2-1 0-1 1-1 2-1 0-2 4-1-2-1 7-1-9-1 3-1 1-1 1-1 3-1 1-1-1-1 1-2-1-1 2-1-1-1 0-1 3-1 3-1 1-1-5-1 3-1 4-1-3-1 2-1 0-1 3-1-3-2 4-1 5-1-9-1 9-1-6-1 3-1 5-1-2-1 3-1 3-1-1-1-4-1 2-1-1-1 3-1-3-1 8-1 0-1-3-3-10 2-217 1-10 0-1 0-1 1-2 0-1 0-1 0-2 0-2 1 0 0-2 0-3 0-2 1 0 0-2 0-2 1 0 0-3 1-2 0-2 0-1 1 0 0-2 0-1 1-2 1-3 0-2 1 0 0-2 1-1 0-1 1-1 0-1 0-1 1-2 0-1 1-2 1-1 0-2 1-2 0-1 1 0 0-2 1-2 1-1 0-2 1 0 0-2 1 0 0-3 1-1 1-1 1-2 0-1 1-1 1-2 0-1 1-2 0-1 1 0 1-2 0 1 1-3 1 0 0-4 1 2 0-2 1-1 1-1 0-1 1 0 1-4 1 0 0-1 1-1 1-1 0-2 1-2 1 2 0-3 1-1 1-1 0-2 1-1 1-1 0-1 1 1 1-2 0-2 1-2 1 1 0-2 1-2 1 0 0-2 1 0 1-3 1 0 0-2 1-2 1 0 0-2 1 0 1-1 0-2 1-2 1 0 0-1 1-2 1 1 0-2 1-1 1-2 1-1 0 1 1-3 1 1 1-2 1-2 0-1 1-1 1-1 1 0 1-1 1-2 1-1 1-1 1-2 1-1 1-1 1 1 1-2 1-2 1 0 1-3 1 0 1-2 1 0 1-1 1-1 1 0 1-1 1 0 1-2 1 0 1 0 1-2 1-2 1 0 1-1 1-1 1 0 1-1 1-1 1-1 1-1 1-2 1 2 1-2 1-1 1 0 1 0 1-2 1-1 1-1 1 0 1-1 1-2 1-1 1 0 2-1 1 1 1-2 1-1 1-1 1-1 1-1 1 0 1-2 1 0 1 1 1-2 1-1 1-1 1 0 1-1 2 0 1-2 1-1 1 1 1-1 1-1 1-2 1 1 1-2 1-1 2 1 1 0 1-2 1 0 1-1 1 0 1-2 1-1 1 0 2-1 1 0 1-1 1-1 1 1 1-2 1-1 2 0 1-1 1 0 1 0 1-3 1 3 1-2 2-2 1 0 1-1 1-1 1 0 1 0 1 0 2-2 1 0 1-1 1 0 1 0 1-1 2-1 1-1 1 0 1-1 1-1 1 0 2-1 1-2 1 1 1-1 1 1 1-2 2 0 1 1 1 0 1-3 1-2 2 1 1 0 1 0 1-1 1-1 2-1 1 0 1 0 1-1 1-1 1 0 2 0 1-1 1-1 1-1 1 0 2 0 1 1 1-1 1-2 2 1 1-3 1 1 1 1 1-2 2 0 1-2 1 0 1 1 1-1 2-1 1 1 1-1 1-2 1 1 2-1 1 0 1-2 1 1 2-2 1 0 1 1 1-1 1-1 2 0 1 0 1-1 1 0 2-1 1-1 1 1 1-2 2 0 1 0 1 0 1 0 2-2 1 0 1-2 1 2 1-1 2 0 1-1 1 0 1-1 2-1 1 1 1 0 1 0 2-1 1 0 1-1 1 1 2-1 1 0 1-1 2-1 1 0 1 0 1 0 2 0 1-1 1 0 1-1 2 1 1 0 1-2 1 2 2-2 1-1 1 0 1-1 2 0 1 0 1 0 2-1 1 1 1-1 1 0 2-1 1 0 1 0 1-1 2 1 1-1 1 0 1 0 2-1 1 0 1 0 2-1 1-1 1 0 1 2 2-2 1 1 1-1 1 0 2-1 1 0 1 0 2 0 1 0 1-1 1 0 2 0 1-1 1 0 2-1 1 0 1 0 1 0 2 1 1-1 1 0 1-1 2-1 1 1 1 0 2-1 1 0 1 0 1 1 2-3 1 2 1-1 2 0 1 0 1-1 1-1 2 1 1 0 1-1 2 0 1 1 1-1 1-1 2 0 1 0 1 0 2 1 1 0 1-2 1 1 2-2 1 0 1 2 2-3 1 1 1 2 1-2 2 0 1 0 1-1 2 0 1 0 1 1 1-1 2 0 1-1 1-1 2 1 1-1 1 1 1-1 2 1 1-1 1-1 2 0 1 0 1 0 1-1 2 0 1 1 1 0 2-1 1 0 1-1 1-1 2 1 1 0 1-1 2-1 1 1 1 0 1-1 2 0 1 1 1-1 1-1 2 0 1 0 1-1 1 1 2-2 1 0 1 0 2 1 1-1 1-1 1-1 2 1 1-1 1 0 1-1 2 0 1 0 1 0 1-1 2-1 1 0 1 0 1-1 2 0 1 0 1 0 1 0 2-1 1 0 1-1 1-1 2 1 1 1 1-2 1 1 2-2 1-1 1 2 1-2 2-1 1-1 1 1 1-2 2 1 1 2 1-2 1-3 2 2 1 0 1-1 1 1 2-1 1-1 1 2 1-4 2 0 1 0 1 4 1-7 2 3 1-2 1 0 1 0 1 1 2-1 1-2 1 1 1-1 2 0 1-4 1 5 1-2 2-1 1 1 1-3 1-1 2 1 1-3 1 2 1-1 1-1 2 0 1-3 1 6 1-7 2 4 1 1 1 0 1-6 2 4 1 0 1-2 1 1 2 0 1-7 1 4 1 3 2 1 1-5 1-2 1 2 2 2 1-3 1 4 1-7 2 1 1 0 1-1 1 2 2-1 1-4 1 4 1-4 2 1 1-1 1 1 1-1 2 2 1-2 1 0 1 3 2-2 1-5 1 3 1 2 2-7 1 4 1-2 1 3 2-2 1 2 1-2 1-2 2-2 1-2 1 2 1 4 2-3 1 3 1-5 2-1 1 1 1 2 1-3 2 3 1-5 1 3 1 2 2 1 1 1 1-4 2-3 1 4 1-6 1 4 2-1 1-3 1 1 2-1 1 2 1 3 1 1 2-2 1-3 1-1 2 5 1-1 1-4 2 0 1 1 1-6 1 2 2 2 1 1 1 0 2 0 1 1 1-1 2 2 1-1 1-2 1 2 2-3 1 2 1-4 2 6 1-3 1 4 2-2 1-3 1 1 1 0 2 3 1-5 1 3 2 2 1 1 1-3 2-2 1-2 1 5 1-1 2-8 1 3 1 4 2-2 1 3 1-1 2-1 1 0 1 3 1-1 2-2 1 3 1-2 2-3 1 2 1-3 2 4 1 1 1-1 1-4 2 2 1-3 1 4 2 2 1-2 1 1 2 0 1-3 1 2 1-1 2 3 1 0 1-3 2 0 1 3 1 0 2-2 1 4 1-4 1 2 2-1 1 3 1-3 2 3 1-1 1-6 2 3 1 3 1-2 1 3 2-2 1-3 1 4 2 0 1 1 1 0 2 0 1 0 1-3 1 5 2-3 1-4 1 0 2 6 1-1 1 0 2-3 1 3 1 0 1-5 2 3 1 0 1-4 2 2 1 3 1 2 2-2 1 0 1 0 1 2 2-3 1 3 1 0 2 0 1 1 1-2 2 1 1-4 1 2 1 7 2-9 1-1 1 4 2 1 1 2 1-1 2 0 1-3 1 5 1 0 2 0 1-3 1 1 2-3 1 1 1 3 2-1 1-2 1 0 1 3 2 0 1-2 1 1 2-4 1 4 1-1 2 1 1 0 1 3 1-2 2-1 1 1 1-1 2-2 1 2 1-6 2 7 1-1 1 1 1-3 2 1 1 0 1-1 2-2 1 4 1-2 2 6 1-4 1 1 2 1 1-4 1 5 1-3 2 4 1-1 1 1 2-4 1-2 1 3 2-2 1 2 1 0 1-1 2 0 1 3 1 3 2-8 1 1 1 1 2 8 1-9 1 7 1-6 2 1 1 0 1-3 2 5 1-2 1-4 2 6 1 0 1-2 1 3 2-1 1-4 1 7 2-5 1 0 1 4 2-3 1-2 1 3 1-5 2 7 1-10 1 7 2-5 1 3 1-1 2 0 1 2 1 2 1-2 2 0 1-2 1 1 2 3 1-6 1 6 2-6 1 2 1 0 1-2 2 3 1-1 1 3 2-2 1 2 1-2 2 4 1-4 1-2 1-2 2 1 1 2 1 0 2 5 1-5 1 0 2 3 1-1 1 0 1-7 2 3 1 0 1 4 2 1 1-5 1 3 2 1 1-3 1 0 1 2 2-2 1-3 1 3 2 0 1-1 1-1 2 1 1-3 1 1 1 1 2-3 1 1 1 0 2 5 1-5 1 6 2-6 1 0 1 2 1 1 2-1 1 1 1-2 2 1 1 0 1-3 2-2 1 1 1 1 1 4 2-3 1 6 1-5 2-3 1 0 1 2 2 2 1-2 1 1 1-3 2-2 1-3"/>
<path d="M1570 469l-2 25-1-1-1 3-1-1-1 2 0 2-1 3-1-2-1 1 0 1-1 6-1-2-1 0 0 1-1 1-1 1-1 0 0 4-1 3-1-2-1 0-1 3-1 3-1-1-1 6-1-4-1 4-1-2 0 1-1 2-1-1-1 5-1-6-1 6-1-3-1 4-1-1-1 2-2 1-1-1-1 2-1-3-1 3-1 4-1 1-1 1-1-2-1 2-1-2-2 2-1 0-1 1-1-1-1 5-1 1-1-4-2 3-1 1-1 1-1-1-1 1-1 2-2-3-1 4-1-3-1 3-1 3-1-1-2 0-1-2-1 4-1 2-1 0-1-2-1 3-2-2-1 2-1-2-1-1-1 2-1 2-2 0-1 4-1-2-1 3-1-1-2 0-1 2-1-1-1-1-2-1-1 1-1 1-1 3-2 1-1-5-1 2-1 2-2-2-1 4-1-2-1 0-2-1-1 2-1 3-1-6-2 8-1-3-1-1-2 2-1-3-1 2-1 1-2 1-1-3-1 1-2 1-1-1-1 4-2-2-1-1-1 0-1 2-2-1-1 1-1 1-2-1-1-4-1-3-2 7-1 1-1-2-1 0-2 0-1-2-1 4-2-4-1 5-1-3-2-1-1 1-1 2-1-1-2 1-1-1-1 0-2 2-1-5-1 7-1-5-2 2-1 0-1 1-1 2-2-2-1 1-1 5-1-2-2-3-1 2-1 1-1 1-2-2-1 0-1 4-1-1-2-1-1 2-1 0-1 3-2-3-1 4-1-3-1 4-1-4-2-1-1 3-1 2-1 1-2-2-1 1-1 3-1-2-1-2-2 5-1-2-1 0-1 0-1 2-2-1-1 0-1 2-1-2-2 2-1 2-1 0-1 1-1 1-2-4-1 7-1-3-1 0-1 2-2 1-1-2-1 0-1 1-1 1-2 2-1-2-1 1-1 5-2-5-1 3-1-1-1 1-1-1-2 2-1 3-1 0-1-2-1 2-2-2-1 2-1 2-1-2-1 2-2 0-1 1-1 0-1-1-2 5-1 0-1-3-1 1-1 2-2 1-1-1-1-2-1 4-1 0-2 0-1 3-1-1-1 1-1 0-2 1-1-1-1 4-1-3-1 2-2 1-1-1-1 0-1 3-1-2-2 2-1 0-1 0-1 1-1 0-2 1-1-1-1 5-1-1-1-2-1 0-2 4-1 0-1-3-1 4-1-1-2-1-1 1-1 2-1 1-1 4-2-4-1 0-1 3-1 0-1-1-2 1-1-2-1 3-1-2-1 3-2 0-1-1-1 2-1 1-2-1-1 0-1 0-1 2-1 3-2-2-1 0-1 0-1-1-1 5-2-2-1 0-1 1-1 0-1 2-2-1-1 1-1 1-1 3-1-3-2 4-1-3-1 0-1 5-1-2-2-1-1 0-1 1-1-1-1 5-2-3-1 4-1-3-1 2-1 0-2-2-1 3-1 0-1 2-2 0-1 5-1-9-1 4-1 0-2-1-1 1-1 2-1 4-1 2-2-1-1-3-1 3-1 1-1 0-2 2-1-3-1 2-1 4-2-1-1-4-1 5-1-1-1 0-2-2-1 1-1 0-1-1-1 7-2-3-1 0-1-2-1 1-1 5-2-3-1 3-1-4-1 5-1 1-2-2-1-1-1 6-1 0-1 0-1-2-2 2-1 2-1-4-1 3-1-2-1 3-1-1-2 4-1 2-1-4-1 9-1-5-1 2-1-3-1 4-2-2-1 1-1 0-1 4-1 2-1-1-1 1-1-2-2-1-1 3-1-2-1 3-1 2-1 2-1-2-2-1-1-3-1 7-1-2-1 4-1 1-1-3-1 4-2 3-1-3-1 0-1 0-1-1-1-1-2 6-1-2-1 3-1 2-1-4-1 4-2-3-1 2-1 3-1-1-1-2-1 3-2 2-1-7-1 3-1 1-1-3-2 7-1-5-1-2-1 4-1 9-1-3-2 0-1 4-1-5-1 5-2-3-1-1-1 4-1 0-1 0-2 0-1 3-1-4-1 6-1 0-2-2-1-1-1 3-1-1-2 1-1-3-1 4-1 6-1-6-2-2-1 7-1 2-1-5-2 0-1 0-1 6-1-1-2-8-1 10-1-3-1-1-2 1-1 1-1 0-1 1-1-2-2 1-1 0-1 2-1-4-2 6-1-5-1 6-1-2-2 1-1-3-1 3-1 2-2-2-1-5-1 11-1-5-2 3-1-1-1 3-1-3-2 2-1 0-1-5-1 9-2-7-1 6-1 0-1-2-2 0-1 0-1 1-2 6-1-3-1-2-1 0-2-2-1 7-1-4-1 1-2-1-1 2-1 0-1-1-2 2-1 3-1-2-1 1-2-2-1 2-1 0-1 0-2 3-1-5-1 3-1 2-2-1-1-1-1 6-1-7-2 6-1-3-1 2-1-1-2-3-1 4-1-3-1 1-2 3-1-2-1 3-1 0-2-1-1 4-1-1-2-3-1-2-1 3-1 7-2-3-1-1-1 1-1-1-2-1-1 1-1-1-1 2-2 2-1 0-1 3-1-5-2 4-1 3-1-3-1 6-2-2-1-3-1 4-1 1-1-2-2-2-1 2-1-1-1-1-2 4-1 0-1-8-1 7-2 2-1-1-1 3-1-2-1-1-2-1-1 5-1 1-1 5-2-9-1 4-1 0-1 2-1 3-2-4-1 0-1 5-1 0-1-5-2 3-1 2-1-1-1 3-2-2-1 3-1-5-1-2-1 7-2 0-1-4-1 4-1-1-2 3-1-2-1 4-1 0-1 1-2-3-1 1-1 0-1 1-2 2-1 2-1-4-1 2-2 3-1-3-1 1-1 1-1-3-2 2-1-1-1 5-1 2-2-5-1 3-1 1-1 2-1-2-2-2-1 5-1-2-1 1-2-2-1 4-1 0-1 2-1 2-2-3-1 0-1 2-1-1-2-1-1 5-1-1-1-1-1-4-2 6-1 3-1-2-1 0-1-1-1 3-2-2-1 0-1 1-1 0-1 4-1-4-2 4-1 4-1-7-1 5-1 2-1-2-2 1-1 2-1 2-1-3-1 2-1 2-2-5-1 5-1-1-1 2-1-1-1 3-2-1-1-2-1 6-1 1-1 1-1-2-2 0-1 1-1-1-1 1-1-2-2 5-1-3-1 0-1 4-1-6-2 2-1 2-1 0-1 5-1 0-1-1-2 4-1-2-1-1-1-1-1 9-1-8-1-2-2 6-1-1-1 7-1-1-1 1-1 0-1-5-2 7-1-3-1 1-1 6-1-7-1 6-1 0-1 1-1 4-2-4-1 0-1 1-1-1-1-1-1 2-1 5-1-5-1 4-2-3-1 4-1 0-1 2-1 2-1-1-1-2-1 5-2-1-1 2-1-1-1 2-1-5-1 3-1 0-1 1-2 1-1 3-1-2-1 2-1 0-1 6-1-2-1-3-1 4-2 0-1-1-1 2-1-1-1 2-1-2-1 4-1 5-2-3-1-4-1 5-1-1-1 0-1 1-1 4-1-1-1-4-2 4-1 6-1-2-1-6-1 6-1 4-1-4-1 4-1 2-2 2-1-1-1-1-1 2-1 0-1-5-1 5-1-1-1 0-2 3-1 1-1 1-1-2-1 3-1 1-1-5-1 5-1 1-1 5-1-8-1 6-1-1-1 0-2 5-1 6-1-8-1 5-1-3-1 4-1-1-1-1-1 2-1-3-1 6-1-3-1 2-1 4-1-7-1 5-1 3-2 2-1-2-1-1-1 4-1-3-1 4-1-1-1-1-1 2-1 1-1 1-1 3-1-1-1 0-2 2-1-2-1 4-1-5-1 6-1-3-1 4-1 3-1-3-1 4-1 0-1 2-1-5-1 4-1 3-2-6-1 7-1 0-1-3-1 2-1 5-1-1-1 0-1 3-1 0-1 0-1 1-2 2-1-7-1 7-1 0-1 5-1-2-1-3-1 1-1 2-1 2-1 0-2-4-1 5-1-2-1 6-1-2-1 1-1-2-1 3-1-1-1 2-1 2-1 3-1-3-1-1-1 7-2-6-1 5-1-1-1 4-1-2-1 1-1 4-1-1-1-3-1 3-1 1-1 4-1-5-1 3-1 1-1 5-1-3-1 0-1 3-2-10 0-219 2-10 0-3 0 1 1-2 0-1 0-1 0-4 0-1 1 0 0-3 0-1 0-1 1-2 0-1 0-3 1-2 0-1 0 1 1-3 0-1 0-1 1-2 0-2 1-1 0-2 1 1 0-3 1-3 0 1 1-3 0-2 1 0 0-1 0-2 1 0 0-3 1 0 0-2 1 0 0-2 1-1 1-3 0-2 1 1 0-2 1 0 0-2 1-1 0-1 1-2 1-1 0-1 1-2 0-1 1 0 0-3 1 0 1-1 0-2 1 0 0-1 1-2 1-1 0-2 1 0 1-2 0 1 1-2 1-2 0-1 1-1 1 0 0-3 1-1 1-1 0-1 1-1 1 0 0-1 1-3 1 1 0-2 1-1 1-1 0-2 1-2 1 0 1-2 1 0 0-1 1-2 1-2 0-1 1-1 1-1 0-1 1 0 1-2 0-2 1 0 0-1 1-2 1-1 0-1 1 0 1-3 0 1 1-2 1-2 1-3 1 0 0-1 1-1 1-2 1 1 0-2 1-1 1-1 1-1 1-2 0-1 1-2 1 0 1 0 1-2 1-1 1-1 0-1 1-1 1 0 1 0 1-3 1 0 1-1 1-1 1-2 1 0 1-1 0-1 1-2 1 0 1 0 1-1 1-2 1 0 1-1 1 1 1-3 1 0 1-2 1-1 1 1 1-2 1 0 1-2 1 0 1-2 1 1 1 0 1-1 1-2 1-1 1 0 1-1 1-2 1-1 1 0 1-1 1-1 1-1 1-1 1 0 1 1 2-3 1 0 1-2 1 0 1-1 1-1 1-1 1-1 1 0 1-1 1 0 1-1 1 0 1-1 1-3 1 1 1 0 2-2 1 1 1 0 1-3 1-1 1 1 1-2 1-1 1 0 1-1 2-1 1-1 1 0 1 1 1-2 1 0 1-2 1 1 2-2 1 0 1 0 1-2 1 0 1-1 1 0 1-1 2-1 1-1 1 1 1-1 1-2 1 0 1-1 2 0 1-1 1-1 1 0 1-2 1 1 2-1 1-1 1-1 1 1 1-1 1-2 1 0 2 1 1 0 1-1 1-2 1 1 1-1 2-1 1-1 1 0 1-1 1-2 2 1 1-1 1-1 1-1 1 2 1-2 2-1 1-1 1 0 1-1 1 0 2 0 1-1 1 0 1-2 1 1 2-1 1 0 1-1 1-3 1 3 2 0 1-2 1 0 1 0 1-2 2 0 1 0 1 0 1-2 1 1 2-2 1-1 1 0 1 0 2 1 1 0 1-2 1 1 1-3 2 0 1 0 1 0 1-2 2 0 1 1 1 0 1-1 1 0 2-2 1 1 1-1 1-1 2-1 1 1 1-2 1 1 2 0 1-2 1 0 1 0 1 1 2-2 1 0 1 1 1-2 2-1 1 0 1 0 1-1 2 0 1 0 1 0 1-2 2 2 1-2 1-1 1 1 2 0 1 0 1 0 1-1 2-1 1 0 1 0 2-2 1 1 1-1 1 0 2 1 1-2 1-1 1 2 2-3 1 1 1 0 1 1 2-2 1 1 1 0 2-2 1 1 1-2 1 1 2-3 1 2 1 0 1 0 2-3 1 2 1-1 1 1 2-2 1 1 1 0 2-1 1 0 1 1 1-1 2-1 1 2 1-3 1 1 2 0 1-1 1 0 2 0 1-1 1-1 1 1 2-1 1 2 1-1 2-1 1 0 1-1 1 0 2 1 1-2 1 0 1 1 2-2 1 1 1-1 2-1 1 1 1-1 1 0 2 0 1 0 1 2 2-3 1 0 1 1 1-2 2 1 1 0 1-2 2 1 1 0 1 0 1 0 2 0 1 0 1-2 2 1 1-1 1 1 1 0 2-1 1 0 1-1 2 0 1 1 1-2 1 1 2-1 1 0 1 0 2-1 1 0 1 1 1-2 2 1 1 0 1 0 2 0 1-3 1 0 1 2 2 0 1-1 1-1 2 1 1 1 1-2 1 0 2-1 1 0 1 0 1 0 2 0 1 0 1-1 2 0 1-1 1 1 1-1 2 0 1 0 1 0 1-1 2 0 1-1 1 0 2 0 1 0 1 0 1-2 2-1 1 2 1-1 1-1 2 1 1-2 1 0 1-1 2 1 1-1 1 1 1-1 2-1 1 1 1-2 1 0 2 1 1-1 1-2 1 0 2 1 1-1 1 1 1 0 2-2 1 0 1-1 2 1 1 0 1-1 1-1 2-2 1 0 1 2 1-1 2 0 1 0 1-1 1 1 2-1 1-2 1-1 1 1 2 1 1-2 1 0 1 2 2-2 1-2 1 4 1-3 2 0 1-3 1 2 2 1 1 0 1-4 1 2 2-3 1 2 1 0 1-1 2 1 1 1 1-2 1 0 2 0 1-5 1 2 1 1 2 0 1-1 1-1 1-1 2 3 1-6 1 3 1 1 2-1 1-1 1-1 1-4 2 4 1 1 1-1 1-3 2-1 1-2 1 4 1 2 2-5 1 2 1-1 1-1 2 3 1-2 1 0 1-3 2 0 1-1 1 0 1 4 2-2 1-1 1-2 1 0 2 0 1 0 1 1 1 0 2 2 1-3 1-3 2 4 1-3 1 2 1-1 2-1 1-2 1-4 1 1 2 5 1-6 1 2 1 0 2-1 1 3 1 0 1-2 2-3 1 2 1-1 2 0 1 2 1 0 1-3 2-1 1 3 1 0 1-2 2-1 1 3 1-4 2-2 1 4 1-4 1 1 2 2 1-4 1 2 2-3 1 1 1 1 1-1 2-1 1 3 1 1 2-3 1 1 1-3 2 2 1 1 1-3 1 1 2 2 1-1 1 1 2-6 1 5 1-2 1 3 2-1 1 1 1-3 2 2 1-5 1 5 2-3 1 2 1 2 1-5 2 3 1-2 1-3 2 2 1 3 1 1 2 0 1-4 1 4 1-3 2 4 1-4 1-1 2 5 1-4 1-3 2 3 1 1 1 1 1-1 2-2 1 3 1-3 2 1 1-2 1 0 2 2 1-2 1 0 2 4 1-5 1 0 1 4 2 2 1-3 1 3 2-4 1 2 1-1 2-1 1 5 1-2 1 2 2-4 1 3 1-5 2 4 1-7 1 7 2-1 1 0 1-2 1 5 2-3 1-1 1 2 2 1 1-5 1 4 2-3 1 4 1-3 1 3 2 1 1-4 1-1 2 0 1 3 1 3 2-2 1-1 1-2 1 3 2-2 1 4 1-4 2 2 1-1 1 3 2-4 1-2 1 2 1 2 2 1 1-2 1-2 2 5 1-2 1 2 2-4 1 3 1-1 1 0 2 0 1-1 1 1 2 0 1 0 1 4 2-3 1 1 1 0 1-5 2 1 1 5 1-2 2 0 1-1 1 5 2-1 1-2 1-1 2 0 1 3 1 0 1-2 2-1 1 4 1-4 2-3 1 7 1-4 2 3 1-1 1-4 1-2 2 3 1 3 1-3 2-1 1 8 1-2 2-2 1-4 1 7 1-3 2 0 1-3 1 5 2 1 1-5 1 2 2 4 1 0 1-4 1 2 2 0 1-2 1 1 2-3 1 1 1-3 2 4 1 2 1-6 1 3 2-1 1 6 1-7 2 3 1 1 1-1 2-2 1 2 1 2 1 1 2-4 1-2 1 0 2 2 1 3 1-2 2 2 1 0 1-5 1 3 2-2 1-4 1 5 2 0 1 2 1 4 2-6 1-1 1 0 2 6 1-7 1 1 1 3 2-4 1 7 1-3 2-8 1 2 1-1 2 8 1 0 1-6 1 2 2 5 1-1 1-7 2 5 1 1 1-4 2 2 1-2 1 1 1 2 2 0 1 1 1-2 2-1 1-1 1 2 2-2 1 2 1 1 1 0 2-2 1 0 1-1 2 4 1-1 1-6 2 6 1-4 1-1 1 4 2 3 1-5 1-2 2-1 1 2 1 1 2 2 1-2 1-2 1 3 2-7 1 8 1-2 2 0 1 2 1-1 2-3 1 0 1 1 1 2 2-5 1 2 1 4 2-3 1-2 1 0 2 2 1-2 1 5 1-3 2-3 1 0 1 4 2-3 1-2 1 2 2-3 1 6 1 1 1-3 2-2 1-2 1 0 2 4 1 1 1 3 2-5 1 2 1 1 1-6 2 5 1-3 1 3 2-5 1-2 1 7 2-4 1 3 1 2 1-5 2 2 1-2"/>
<path d="M1570 458l-2 38-1 0-1-3 0 4-1-1-1 3 0 2-1-4-1 3-1 7 0-1-1-3-1 4-1 0 0 3-1 3-1-5-1 4 0-1-1-2-1 5-1 2-1-1 0 1-1 0-1 1-1 6-1-1-1 4-1 1 0-2-1 2-1-2-1-1-1 3-1 1-1 4-1 0-1-1-1 4-2-1-1 1-1 0-1-1-1-1-1 4-1 1-1 2-1-2-1-4-1 5-2 3-1 0-1-2-1 4-1-1-1-1-1-4-2 7-1 2-1-1-1 1-1 2-1 0-2-4-1 4-1 1-1-3-1 3-2 0-1-3-1 9-1-2-1 1-2 1-1-4-1 1-1 2-1-1-2 3-1 1-1-2-1 2-2-1-1 5-1-7-2 6-1-3-1 0-1 1-2 1-1-4-1 3-1 1-2-2-1 6-1 0-2-3-1 1-1-1-1-1-2 4-1 0-1-4-2 3-1-1-1-1-1 4-2-2-1 1-1 2-2-3-1-5-1 4-2 2-1 0-1-6-1 5-2 1-1 0-1 3-2-2-1-1-1 4-2-1-1-3-1-4-1 3-2 2-1 0-1 0-2-2-1 4-1 0-2-3-1 2-1-1-1-1-2 4-1-1-1-1-1 0-2 2-1-1-1 1-1 1-2-1-1 2-1-1-1 1-2 0-1-1-1-2-1 4-2 2-1 0-1 0-1 1-1-1-2 3-1 0-1-2-1 1-1 3-2-1-1-1-1 0-1 4-1-2-2 2-1 1-1-2-1 4-1-4-2 3-1-1-1 2-1-2-1 2-2 1-1 2-1 2-1-1-1-1-2 0-1 5-1-6-1 5-2-1-1 1-1 0-1 0-1-1-2-1-1 3-1 0-1 4-1-3-2 2-1-1-1 2-1 1-2 1-1 0-1-1-1 3-1 2-2-3-1-1-1 3-1 2-1-4-2 5-1-2-1-1-1 0-1 4-2-4-1 4-1-1-1 0-2 2-1 2-1-1-1-1-1 1-2-1-1 2-1 1-1 0-1 0-2 2-1 0-1 1-1 0-1 1-2-2-1 0-1 4-1-3-1 2-2 2-1 0-1-1-1 2-1 0-2 1-1-1-1 3-1 2-1-1-2-4-1 3-1 1-1 3-1 0-2-2-1 1-1 1-1 0-1 1-2-1-1 1-1 4-1-3-1 2-2-1-1 3-1 0-1-1-1 0-2 3-1 0-1-3-1 1-1 3-2 1-1 3-1-2-1-2-1 5-2-2-1 0-1 1-1-1-1 2-2-1-1 4-1-3-1 3-2 0-1 1-1 0-1 1-1-1-2 5-1-2-1 0-1-3-1 3-2-2-1 2-1 1-1 0-1 0-2 0-1 3-1 1-1-4-2 1-1 2-1 2-1 1-1 4-2-4-1 0-1 1-1-1-1 1-2 2-1 0-1-3-1 4-1 1-2-5-1 7-1 0-1 1-1-4-2 8-1-4-1-2-1 3-1 0-2 0-1-2-1 5-1-4-2 7-1-1-1-5-1 4-1-2-2 3-1-1-1 6-1 0-1 0-2-4-1-1-1 4-1-2-2-4-1 8-1-5-1 3-1 1-2 1-1-2-1 6-1-4-2 3-1-2-1 3-1-1-1 2-2 4-1-3-1-1-1 0-1 4-2-3-1 1-1 4-1-2-1 3-1-4-1 4-2 4-1-7-1 6-1-3-1 3-1 4-1 0-2-7-1 3-1 0-1 6-1-2-1 0-1-1-2 3-1 0-1 1-1-5-1 5-1-1-1 1-1 6-2 0-1-3-1 2-1 2-1 2-1-3-1-2-2 4-1-1-1-2-1 1-1 2-1 1-2 6-1-7-1 3-1 4-1-8-1 9-1 1-2 1-1-3-1 1-1 5-1-2-1-2-2 2-1-1-1 6-1-4-1 2-2 1-1-6-1 6-1-3-1 7-1 1-2-4-1 0-1 0-1 7-1-5-2 4-1-1-1-3-1 6-1 0-2-4-1 4-1 0-1 0-2-2-1 6-1-10-1 5-1 3-2 4-1-6-1 2-1 2-2-2-1 2-1 2-1 2-1-2-2 1-1 1-1-4-1 6-2-3-1 1-1 1-1 1-2-2-1 0-1 5-1-1-1-7-2 6-1 1-1 1-1 0-2 4-1-3-1 3-1-5-2 0-1 5-1-4-1 3-2-5-1 1-1 9-1-5-2 0-1 1-1 1-1 1-2 3-1-4-1 5-1 0-2-4-1-1-1 4-1 0-2 2-1 0-1-1-1-2-2 3-1-2-1 2-1 1-2-1-1 1-1 0-1-1-2 2-1 2-1-4-2 2-1 6-1 0-1-4-2 2-1 0-1-3-1 0-2 8-1-4-1 3-1-3-2 5-1 0-1-5-1 9-2-5-1-5-1 5-1-2-2 2-1 1-1-3-1 5-2-6-1 7-1 1-1-2-2 1-1 0-1 3-1-6-2 2-1 4-1 0-1-6-2 2-1 4-1-2-1-4-2 1-1 5-1-1-1 0-2 1-1 4-1-3-1 5-2-6-1 4-1 0-1-2-2 3-1 0-1-2-1 1-2-2-1 7-1-2-1 1-2 1-1-3-1-2-1 2-2 2-1 2-1 3-1 1-1-2-2 0-1-4-1 5-1-1-2-2-1 3-1-6-1 8-1-1-2 6-1-3-1 0-1 2-1-3-2 0-1-2-1 1-1 4-2 5-1-1-1 0-1-4-1 0-2 2-1 0-1 2-1-2-2 4-1 4-1-5-1 1-1 0-2 1-1 2-1-1-1 0-2 1-1 0-1 0-1-1-1 0-2-3-1 7-1-4-1 2-2 0-1 1-1 0-1 1-1 5-2-2-1 0-1 2-1-2-2 2-1-3-1 1-1 5-2-4-1 2-1 0-1 2-1 2-2-2-1 0-1 1-1-2-2-1-1 6-1 0-1-6-1 4-2 5-1 0-1-1-1-1-1 4-2-1-1 1-1 0-1 1-1-2-2-1-1 2-1-1-1 4-1 1-1-3-2 5-1-1-1 0-1 4-1-1-1-4-1 5-2 2-1-4-1 2-1 1-1 1-1 1-2-4-1 5-1 1-1 2-1-1-1 1-2-1-1 0-1 2-1 0-1-2-2 4-1 0-1-5-1 0-1 7-1-2-2 5-1-2-1 2-1 3-1-4-2 0-1 7-1-6-1 1-1-2-1 4-2 1-1-2-1 1-1-1-1 8-1-3-2 2-1-1-1 2-1 0-1-2-1 3-1 1-1-2-2 4-1 0-1-1-1 3-1-3-1 5-1-1-1-2-1 5-2 0-1-4-1 5-1 0-1 1-1 0-1 4-1 0-1-7-2 4-1 3-1-3-1 3-1 3-1-2-1-4-1 5-2 2-1-1-1 4-1 2-1-5-1 0-1 2-1 4-2 0-1 1-1-1-1-2-1 3-1 3-1 1-1-2-1 1-2 1-1 3-1-2-1 1-1-2-1 8-1-3-1-1-2-1-1-3-1 5-1 3-1 2-1 0-1 0-1 0-1 1-2-2-1 7-1-4-1-2-1-1-1 5-1 2-1-1-1 3-2-2-1 0-1 2-1 3-1 2-1-2-1 1-1-2-1 5-2-4-1 5-1-3-1 1-1-1-1 5-1 1-1-3-1 4-1 1-1 0-1 2-1 0-1-1-2-1-1 1-1 3-1 2-1 2-1 0-1 0-1 0-1 1-1 2-1-3-1 5-1-1-1-2-1 6-1-4-1 1-2 1-1 6-1-2-1 0-1-1-1 7-1-4-1-3-1 4-1 1-1 2-1-2-1 4-1 0-1 1-2 0-1-2-1 9-1-6-1 7-1-3-1 1-1 1-1 0-1 1-1-6-1 6-1-1-1 4-2-2-1 2-1-1-1 4-1-1-1-1-1 3-1 4-1-5-1 4-1-4-1 7-2 1-1-4-1 3-1-2-1 3-1 3-1 3-1-6-1 2-1-1-1 4-2 2-1 2-1-2-1 3-1-2-1 0-1 4-1-4-1-2-1 4-1 0-1 3-1 0-1 3-1-4-2 6-1-1-1 3-1 0-1-3-1 0-1 4-1 4-1-1-1-1-1 0-1 1-1 6-1-7-1 0-1 6-1-1-1-2-1 4-2-10-1-218 3-10 0-3 0-1 1-1 0-1 0-1 0-1 0-2 1-2 0 1 0-1 0-1 0-2 1-2 0-2 0-2 1-1 0-2 0-1 1-1 0-2 0-3 1 1 0-1 1-2 0-4 1 1 0-1 0-3 1 0 0-1 1-2 1-1 0-1 1-2 0-1 0-3 1 0 0-2 1-1 0-2 1 0 0-1 1-1 0-2 1-1 0-1 1-1 0-2 1 0 1-1 0-2 1-1 0-1 1-2 1-2 1-2 1-2 1-1 1 0 0-3 1-1 0-1 1 0 1-2 0-1 1-2 1 1 0-3 1 0 1-2 0-2 1-1 1 0 0-4 1 2 1-1 1-1 0-4 1 1 1-1 0-2 1-1 1-1 1-1 1-1 0-1 1-1 1-3 0 1 1-1 0-4 1 1 1-2 1-2 1-1 0-1 1-3 1 0 0-2 1-1 1-1 1-1 0-2 1 0 1 0 0-2 1-3 1 0 1-2 0-1 1 1 1-2 1-1 0-2 1-1 1 1 1-2 1 0 0-3 1 0 1-2 1 0 1-1 1-1 1-2 1-2 1-1 1 0 1-2 1 1 1-1 1-2 1-1 1 0 1-1 1-2 1-1 1-1 1-2 1 0 1 0 1-3 1 1 1-1 1-2 1 1 1-3 1 1 1-1 1-3 1 0 1 1 1-3 1-1 1 1 1-1 1-1 1 1 1-2 1 0 1-2 1 0 1-2 1 0 1-2 1 1 2-2 1-1 1-2 1-1 1 1 1-1 1-1 1-1 1-1 1 0 1-2 1 1 1-1 1-1 1-2 1 0 1-2 1 1 2 1 1-3 1 0 1 0 1-3 1-1 1 1 1-2 1 1 1 0 1-2 2 0 1-1 1-1 1 0 1-1 1-1 1 0 1-1 2 0 1-1 1-1 1-1 1-1 1-1 1 1 1 0 2-2 1 0 1 0 1-2 1-1 1 0 1 0 2-3 1 1 1-1 1 0 1 1 1-2 2-1 1-1 1-1 1 0 1-1 1 0 1-1 2 0 1 0 1-1 1-2 1 0 1 0 2-1 1-1 1 0 1-2 1 1 2 0 1-1 1-1 1 0 1 1 1-2 2-1 1-1 1 1 1-2 1 0 2 0 1-1 1-1 1 0 1 0 2 0 1-1 1-1 1 0 1-1 2 0 1-1 1 0 1 0 1 0 2-2 1 0 1-1 1-1 2 1 1-1 1 0 1-1 1-1 2 1 1-1 1 0 1-2 1 0 2-1 1 0 1-2 1 1 2-1 1 1 1-1 1 0 1 0 2-1 1 0 1-1 1-1 2-1 1 0 1 0 1 0 2-2 1 0 1 0 1 0 2-1 1 0 1 0 1-1 1 0 2-1 1 1 1 0 1-1 2-2 1 0 1 1 1-2 2 1 1 0 1 0 2-1 1 0 1 0 1-1 2 0 1 0 1-1 1-1 2 1 1-2 1 0 1 0 2 0 1-1 1 1 1-1 2 0 1-1 1 0 2-1 1 0 1 1 1-2 2 2 1-1 1 0 1 1 2-2 1-1 1-1 1 0 2 1 1-1 1 0 2 1 1-1 1-1 1 0 2-1 1 0 1 0 1 0 2-1 1-1 1 1 2 0 1-1 1 0 1 1 2-1 1-1 1 0 2-1 1 1 1 0 1-3 2 2 1-1 1 1 2-2 1 0 1 0 1 0 2 1 1 0 1-2 1 2 2-2 1 0 1-1 2 2 1-1 1 0 1-1 2 0 1-2 1 2 2-2 1 1 1 0 1 0 2-1 1 0 1 0 2 0 1 0 1-2 1 1 2 1 1-1 1 0 2-1 1-1 1 2 1 0 2-1 1 0 1-1 2-1 1 1 1-2 1 2 2-3 1 1 1-1 2 2 1 0 1-1 1 0 2-1 1 1 1-1 2 0 1-1 1 1 1-1 2-2 1 0 1 0 2 1 1 0 1 0 1-1 2-2 1 2 1-1 1 0 2 0 1 0 1 1 2-2 1 1 1-2 1-1 2 1 1 0 1 0 1 0 2 0 1-2 1 0 2 0 1-1 1 0 1-1 2-1 1 1 1 1 1-1 2 0 1-1 1-1 1 1 2-1 1 0 1 0 1-1 2-1 1 0 1 0 1-1 2 0 1-1 1 1 1 0 2 0 1-1 1-1 2 0 1-1 1 2 1-2 2-1 1 0 1-1 1 0 2 1 1-1 1 0 2-1 1-1 1 2 1-1 2-1 1-1 1 1 1-2 2 2 1-1 1 0 1-1 2 1 1 1 1-2 2-3 1 4 1-4 1 3 2-4 1 2 1-1 1 0 2 0 1 0 1 0 1-2 2 0 1 0 1 0 1-3 2 3 1 0 1-2 1 1 2 1 1-6 1 5 1-3 2 1 1-1 1-3 2 4 1-4 1 0 1 5 2-6 1 0 1 2 1-3 2 4 1-5 1 5 1-2 2-1 1-1 1-1 1 2 2 1 1-4 1 1 1-2 2 3 1-4 1-1 2 0 1 2 1-2 1 1 2-2 1 1 1 0 1 0 2-1 1-1 1-2 1 4 2-5 1 2 1 2 2-6 1 5 1-2 1 2 2-1 1-1 1 0 1 1 2-1 1-3 1 4 1-1 2-3 1-1 1 3 2-3 1 0 1-1 1 2 2-2 1 1 1-2 2 2 1-2 1 2 1 1 2-4 1 2 1-1 1 5 2-7 1-3 1 2 2-1 1 4 1-3 2 5 1-4 1-1 1 0 2 1 1 2 1-7 2 1 1 2 1 0 1 2 2 0 1-2 1 0 2-3 1 2 1 1 2 1 1-1 1 2 1-3 2 2 1-2 1 3 2-6 1 7 1-3 2-1 1 2 1-6 1 6 2-1 1-1 1 5 2-5 1 1 1-1 2-2 1 4 1-1 1-3 2 1 1 2 1 2 2-4 1-2 1 1 2 1 1-1 1 3 2-2 1 0 1-2 1 4 2-2 1-1 1 1 2 1 1-4 1 5 2-1 1-1 1 0 1-1 2 3 1 1 1-5 2 3 1-3 1 1 2 2 1-1 1-3 1 4 2-5 1 3 1 1 2 0 1 1 1 1 2-3 1 1 1 1 1 0 2-2 1 2 1-2 2 3 1 1 1 1 2-4 1-1 1 0 2-2 1 2 1 1 1 4 2-2 1 0 1-3 2 1 1 1 1 0 2-1 1 5 1 0 1-2 2-5 1 3 1-2 2 2 1-3 1 4 2 0 1 2 1-2 1-1 2 2 1-4 1 4 2 1 1-4 1 4 2 0 1-5 1 3 1 2 2-4 1 3 1 0 2-3 1 6 1-2 2-3 1 6 1-6 1 1 2-3 1 7 1-4 2 5 1-5 1-1 2 3 1-4 1 1 2 2 1 5 1-6 1 1 2-2 1 3 1 1 2 0 1 4 1-9 2 1 1 4 1-5 1 6 2-3 1-3 1 5 2-4 1 2 1-2 2 5 1-2 1-1 1 4 2-2 1 0 1 1 2-1 1 7 1-11 2 4 1 0 1 1 1 4 2-6 1 0 1 1 2-1 1 0 1-2 2 2 1-1 1 1 1 2 2-6 1 4 1 0 2-1 1-3 1 8 2-2 1 2 1-3 2-6 1 5 1 1 1 0 2 1 1 1 1-2 2-1 1 0 1 3 2 2 1-6 1 3 1-4 2 4 1 1 1 3 2-3 1-3 1 2 2 2 1-5 1-1 1 4 2-2 1 0 1-1 2 0 1 2 1-3 2 7 1-5 1 0 1 1 2 0 1-5 1 3 2 2 1-3 1-1 2-1 1 3 1 5 1-6 2-2 1 4 1-1 2 4 1-5 1 0 2 0 1-4 1 1 1-1 2 0 1 5 1-2 2-2 1 6 1-5 2 2 1 4 1-5 1 5 2-9 1 6 1-3 2 2 1 2 1-1 2-1 1-1 1-1 2 1 1 5 1-7 1 9 2-5 1-3 1 0 2 1 1-2 1 2 2-5 1-2 1 8 1-1 2-1 1-1 1-1 2-3 1 7 1-5 2 4 1-5 1 3 1-3 2 1 1 5 1-4 2 1 1 1 1 1 2-2 1-2 1 0 1 0 2 2 1-6 1 5 2 4 1-6 1 2 2-2 1-3 1 8 1-2 2-3 1 3"/>
<path d="M1570 465l-2 30-1-1-1 2 0 2-1-4-1 6 0-4-1 2-1 4-1 5 0-4-1 4-1 2-1 1 0-1-1 0-1 3-1 1 0-1-1 4-1-2-1 6-1-1 0-2-1 4-1-3-1 4-1 2-1 0 0-1-1 3-1-1-1 2-1 0-1 1-1 4-1-2-1 1-1-1-1 3-2-2-1 1-1 5-1-3-1 3-1-1-1 4-1-4-1 7-1-4-1-2-2 5-1 0-1 1-1 1-1 0-1-1-1 0-2 1-1 4-1-2-1 2-1 3-1-1-2 2-1-3-1 0-1 0-1 6-1-1-2 0-1 0-1-2-1 1-1 4-1 0-1-3-2 0-1 4-1 1-1 1-1-2-2 1-1-2-1 5-1 0-1-1-2-3-1 4-1-1-1 3-1 1-2-3-1 2-1 0-1 5-2 1-1-4-1 4-1-2-2-1-1 2-1 1-1-1-1 1-2 1-1 0-1-1-1 0-1 4-2-1-1 0-1 2-2-1-1-2-1 2-1 1-2 0-1-1-1 1-1 1-2 1-1-2-1 4-1-3-2 3-1 1-1-5-1 1-2 2-1 1-1 0-1-2-2 5-1-1-1-1-2 2-1-2-1 0-1 5-2-4-1 2-1-3-1 4-2-1-1 4-1-2-2 0-1-4-1 2-1 2-2 4-1-6-1 0-1 1-2 2-1 2-1-2-1 1-2 0-1 3-1-3-1 1-2 1-1 1-1 0-1 1-1 0-2-2-1 3-1 1-1 0-2-3-1 2-1 2-1 0-2-2-1 4-1-1-1 0-2-1-1 1-1 1-2 1-1-1-1 0-2 0-1 0-1 2-1-3-2 4-1-1-1-2-2 3-1-2-1 1-1 4-2-4-1 1-1 1-1-2-2 1-1 5-1-2-1-1-2 2-1 1-1-2-2 1-1-3-1 2-1 1-2 1-1 1-1-1-1 1-2-2-1 1-1 2-1-3-2 4-1-3-1 1-1 1-2 5-1-2-1-1-1 3-2-1-1 0-1 1-1-1-2 0-1 1-1 0-1 1-2 0-1 0-1 3-1-3-1 2-2 3-1-2-1 1-1 2-1-2-2 3-1 2-1-2-1 1-1-1-2 0-1 1-1 3-1 0-1 2-2-4-1 0-1 1-1 1-1 3-2-1-1-2-1 5-1-3-1 1-2 2-1 2-1-5-1 6-1 0-2 0-1 0-1 0-1-2-1 3-2 0-1 2-1-2-1 1-1 4-2-3-1 3-1-2-1 2-1-1-2 0-1 3-1-2-1 1-2 3-1-1-1-1-1-1-1 1-2 3-1 0-1 0-1 0-1 2-2 2-1 3-1-4-1 0-1 1-2 0-1 2-1-1-1 1-2-2-1 3-1 1-1 1-1 1-2-2-1 2-1 1-1 0-1-1-2 5-1-3-1 0-1 1-2 0-1 0-1-1-1 5-1-3-2 3-1-4-1 3-1-1-1 0-2 5-1-2-1 4-1-1-2-2-1 1-1 3-1-4-1 4-2 0-1 2-1-2-1-1-1 0-2 1-1 3-1-1-1-1-2 0-1 3-1-1-1 0-1 3-2 4-1-2-1-1-1 2-2-4-1 5-1-3-1 1-1-1-2 1-1 2-1 0-1 0-1 2-2-2-1 3-1 0-1-1-1-4-1 5-2 4-1-4-1 6-1-3-1-1-1 0-2 6-1-1-1-1-1 5-1-1-1 1-1 2-1-2-2 3-1 2-1-1-1-3-1 3-1-1-1-1-2 4-1 1-1 4-1-3-1-1-1 4-1-5-2 4-1 0-1-1-1 4-1-1-1-3-2 2-1 0-1 7-1-2-1-2-1 0-1 1-2 2-1 0-1 0-1 0-1 1-1 2-2 1-1 1-1 1-1-2-1 1-2 2-1 1-1-1-1 2-1 4-2-3-1 1-1 1-1 1-1-1-1 0-2 2-1-1-1-3-1 0-2 9-1-4-1 1-1 6-1-3-2-12-1 8-1 5-1-7-1 4-2 0-1 1-1 4-1-2-2-1-1 4-1 0-1 0-1-7-2 9-1-4-1 4-1-2-2 4-1-3-1 1-1 2-2 2-1 0-1-3-1 2-1-5-2 2-1 6-1-2-1-1-2 1-1-3-1 5-1-2-2 5-1 1-1-6-1 4-2 3-1-3-1 1-1 4-2-3-1 0-1-1-1-2-2 2-1 2-1 0-1-2-2 3-1 5-1 0-1-5-2 1-1-2-1 0-1 3-2 5-1-6-1-2-1 4-2-3-1 4-1 2-1-1-2 0-1 3-1-2-1 3-2 0-1-1-1 2-1-2-2-1-1 3-1-3-1 3-2-4-1 3-1 6-1 2-2-6-1 4-1-5-1 2-2 4-1-2-1 3-1-2-2-1-1 0-1-3-1 3-2-1-1 2-1 2-2 2-1-2-1 2-1 2-2-2-1-1-1 1-1 1-2 3-1-2-1-1-1 5-2-10-1 10-1-2-1-1-2 3-1-2-1-4-1 7-2-3-1 3-1 2-1-5-2 10-1-2-1-4-1 1-1-2-2 5-1-3-1-2-1 6-2-10-1 5-1 4-1-1-2-1-1 2-1 0-1 1-2 0-1 1-1 2-1-6-1 6-2 0-1 3-1 1-1-2-1 0-2 1-1 0-1 1-1 2-2-2-1-2-1 6-1-3-1 4-2-4-1 1-1 5-1-8-1 2-2 6-1-1-1-5-1 3-2 3-1-2-1 4-1-1-1 0-2 1-1 1-1 2-1-2-2 0-1 1-1-2-1-2-1 6-2-2-1 2-1 0-1-1-2 1-1 6-1-8-1 3-1 4-2-2-1 5-1-7-1 2-2 5-1-4-1 3-1 2-2-3-1 0-1-2-1 1-1 5-2 2-1-3-1 3-1-1-2 0-1 2-1 2-1 3-1-2-2-6-1 7-1-2-1-1-1 2-2 4-1-2-1 0-1 2-1-4-2 4-1 0-1-1-1 3-1-5-1 2-2 3-1-1-1 1-1 7-1-2-1-2-1 0-2-1-1 7-1-1-1-2-1 7-1-9-2 6-1-1-1 1-1-3-1 6-1-2-2 0-1 4-1-4-1 3-1-1-1 4-2-5-1 5-1 1-1 1-1-5-2 9-1-5-1 2-1-1-1 0-2-2-1 4-1 3-1-2-1-6-1 9-2 0-1-1-1 1-1 3-1-2-1 2-1 2-2 3-1-6-1 4-1-1-1 2-1-2-1 4-2-3-1 1-1 3-1 1-1-1-1 0-1 3-1-3-1 3-2 0-1 1-1 3-1 0-1 1-1 2-1-3-1 1-1 3-2-2-1 1-1 0-1 2-1 2-1 1-1 0-1 1-2 0-1 1-1-5-1 4-1 1-1 5-1-7-1 5-2 3-1 0-1 3-1-3-1 4-1-7-1 6-1-3-1 3-2 3-1-3-1 1-1 5-1-2-1-1-1-3-1 0-1 8-2-1-1-1-1 0-1 1-1 1-1 1-1 2-1 4-2-5-1 5-1-4-1 4-1-2-1 0-1 3-1 0-1 7-2-3-1-3-1 5-1-4-1 3-1 2-1 0-1-3-1-1-1 6-2 4-1-1-1 0-1 0-1-1-1 4-1-5-1 4-1-3-1 2-1 4-1 3-1-3-2 2-1 2-1 3-1 0-1-3-1 0-1 2-1 1-1-1-1 3-1-1-1 3-1 3-1-2-1-1-1 0-1 2-2 3-1-1-1 1-1-1-1-5-1 3-1 4-1-3-1 6-1 5-1-5-1-1-1 3-1 1-1 3-2-1-1 3-1 1-1 3-1-7-1 3-1-3-1 5-1 0-1 5-1-3-1 3-1-2-1-3-1 4-2 2-1 3-1-1-1 5-1-2-1 2-1 2-1 0-1-4-1 5-1-8-1 10-2-5-1 3-1-1-1 1-1 0-1 3-1 0-1 1-1 3-1 0-1 2-2-3-1 1-1 4-1-2-1 4-1-9-1 10-1-1-1 1-1 4-1-9-1 7-1-3-1-1-1 6-2-1-1 5-1-4-1 1-1 4-1-4-1 2-1 3-1 1-1 1-1-2-1 3-1 2-1 0-1-1-1 2-1 2-1 0-1 4-3-10 1-223 2-10 0-2 0 1 1-2 0-1 0-2 0-2 0-2 1 0 0-2 0-2 0-2 1 0 0-3 1-2 0-2 0-1 1-2 0-1 0-1 1-1 0-3 1-1 0-2 1 0 0-1 0-2 1-1 0-1 1-1 0-1 1-2 0-2 1 0 0-1 0-2 1 1 0-2 1-3 1-2 0-2 1 0 0-1 1 0 0-3 1-1 0-1 1-2 1-1 1-2 1-4 0 1 1-1 1 0 0-2 1-3 0 1 1-3 1 0 0-2 1 0 0-2 1-1 1 0 0-2 1-1 1-2 0-1 1 0 1-1 0-2 1-2 1 1 1-2 0-1 1-1 1-1 0-1 1-2 1-2 1-1 1-2 0-1 1 0 1-1 1-2 1-1 0-2 1-1 0-2 1-1 1 0 0-1 1-1 1-1 0-1 1-2 1 0 0-3 1 1 0-3 1-2 1 0 0-1 1 0 1-3 1-1 1-2 1-2 1 0 1-2 1-1 1-1 1-2 1 0 1-2 0-2 1 0 1-2 1 0 1-1 1-2 1 1 0-1 1-2 1-1 1 0 1-3 1 2 1-2 1-1 1-1 1-2 1-1 0-1 1 0 1-1 1-2 1 1 1-2 1 0 1-2 1-1 1 0 1-2 1 0 1-1 1 0 1-2 1-2 1 0 1-1 1 0 1-1 1 0 1 0 1-2 1-1 1-1 1 1 1-2 1 0 1-2 1 1 1-2 1-2 1-1 1 0 1-1 1 0 2-1 1-2 1 1 1-1 1-1 1-2 1 0 1 0 1 0 1-2 1-2 1 1 1-1 1-2 1 1 1-1 1-2 2 0 1-1 1 0 1-2 1 1 1-3 1 1 1-1 1 0 1-2 2 0 1 0 1-1 1-1 1-1 1 0 1 0 1-2 2 0 1-1 1-1 1-1 1 1 1 0 1-1 1-2 2 0 1-1 1 0 1-1 1 0 1-1 1-2 2 1 1-2 1 0 1-1 1-1 1 0 2 0 1-2 1 0 1-1 1 1 1-2 2 1 1-1 1-2 1 2 1 0 1-3 2 1 1-1 1-3 1 1 1-1 1 1 2-3 1 2 1-2 1 0 1-1 2 0 1-1 1-1 1 1 1-2 2-1 1 1 1-2 1 1 1-1 2-1 1 1 1 0 1-1 1-2 2 0 1-1 1 1 1-2 1 1 2-1 1-1 1 0 1 0 1 0 2-1 1 0 1-2 1-1 1 0 2 0 1 0 1 0 1-1 2-1 1 0 1 0 1-1 1-2 2 2 1-2 1 1 1-2 2 1 1-3 1 1 1 0 1-1 2 0 1 0 1 0 1-2 2 0 1 0 1 0 1-2 2 2 1-1 1-2 1 1 2-1 1 1 1-1 1 0 2-1 1 0 1-3 1 2 2-1 1-1 1 2 1-2 2 0 1 0 1 0 1 0 2-1 1-1 1-1 1 0 2 0 1 0 1 1 2-1 1-2 1 1 1 0 2 0 1-1 1 0 1-1 2 1 1-2 1 0 1 1 2-1 1-1 1 0 2 0 1 1 1-1 1-1 2 0 1 1 1-2 1-1 2 1 1 0 1-1 2-1 1 0 1 2 1-2 2 1 1-1 1 0 2-1 1 1 1-3 1 2 2-1 1 0 1 0 1-2 2 0 1 2 1-1 2 0 1-2 1 2 1-2 2 0 1 2 1-2 2 0 1 1 1-2 1 0 2 1 1 0 1-2 2 0 1 0 1 0 1 0 2 0 1-1 1 1 1-1 2 0 1-2 1 1 2 0 1-1 1 0 1 1 2 0 1-2 1 0 2 0 1 0 1 0 1-1 2 1 1 1 1-2 2 0 1 0 1-1 1 0 2 0 1-1 1 2 2-1 1 0 1 0 1-1 2 1 1-2 1-1 2 2 1-1 1-1 1 0 2 1 1 1 1-3 2-1 1 2 1 0 1 0 2 0 1-1 1-2 2 0 1 0 1 0 1 0 2-1 1 0 1-1 1 0 2 2 1-1 1-1 2 0 1-1 1 0 1 0 2 0 1-1 1 1 1-1 2 0 1-1 1-1 1 1 2-1 1 0 1-1 2 2 1-2 1 0 1-1 2 0 1 0 1-1 1 0 2 1 1-2 1 0 1 0 2-1 1 1 1-1 1-2 2 2 1 0 1-2 2 0 1 0 1-1 1 1 2-1 1-1 1 0 1 2 2-3 1 1 1 0 2 2 1-3 1-1 1-1 2 1 1 0 1 0 1-1 2 0 1-1 1 0 2 1 1-1 1 0 1-1 2 0 1-1 1-1 1 2 2-2 1 1 1-4 1 2 2 1 1 3 1-7 2 5 1 3 1-8 1-1 2 4 1-1 1 0 1 0 2-2 1-2 1 2 1-1 2-3 1 2 1 1 2-1 1 2 1-1 1-3 2-1 1 1 1 2 1-4 2 0 1 0 1 3 1-4 2 2 1 3 1-4 1 1 2 1 1-2 1-1 2 0 1-1 1-2 1 1 2 2 1 0 1 4 1-5 2-2 1-1 1 1 2-1 1 1 1-2 1-2 2 2 1 0 1-1 1 1 2 0 1 3 1-7 1-1 2 4 1-2 1 0 2-4 1 6 1-5 1-2 2 5 1-2 1-4 1 5 2-2 1-4 1 3 2 1 1 1 1 0 1-3 2 0 1-1 1-2 2 5 1-3 1 1 1 0 2 2 1-5 1 6 2-5 1 2 1 0 1-1 2-3 1 1 1 2 2-1 1-1 1 2 1-3 2 1 1 2 1-4 2 3 1 0 1-1 2 0 1-1 1-1 1 3 2-2 1-1 1-2 2 5 1-4 1 1 2-3 1 2 1 7 1-7 2 3 1-4 1 0 2 4 1-2 1-3 2 3 1-2 1 3 1 1 2 1 1-3 1 2 2-2 1-1 1-2 2 0 1 0 1-1 1 3 2 0 1 2 1 2 2-2 1-4 1 7 2-1 1-6 1-2 1 5 2 2 1-2 1 0 2 2 1-1 1-3 2 0 1 6 1-4 1 2 2-7 1 3 1-2 2 2 1 1 1-1 2 3 1-1 1-1 2 3 1-7 1 6 1 0 2 0 1-4 1 6 2-3 1 1 1-2 2 2 1 0 1-2 1 1 2-1 1-1 1 0 2 1 1 0 1 0 2 0 1 0 1 3 1-1 2 0 1-1 1-2 2 1 1 0 1 2 2 2 1-3 1 1 1-1 2-1 1-2 1 1 2 1 1 2 1-3 2 3 1 2 1-4 1 0 2 1 1 1 1 0 2 2 1-2 1-3 2 6 1-4 1-5 1 4 2 4 1-4 1 3 2-3 1 0 1 1 2 1 1-1 1 2 2-4 1 4 1 0 1 1 2-4 1 2 1 1 2-3 1 1 1-2 2 4 1-3 1 5 1-1 2 1 1-1 1-1 2 1 1 0 1-4 2 6 1-3 1-3 1 0 2 4 1 1 1-2 2-1 1 0 1-1 2 1 1 0 1-1 1 2 2-3 1 3 1 0 2 0 1 2 1-4 2 0 1 0 1 5 1-8 2 5 1 5 1-3 2 1 1 0 1-1 2-4 1 6 1 1 1-2 2-3 1-1 1 0 2 3 1 0 1-1 2-7 1 5 1 4 2 3 1-3 1-3 1 2 2 2 1-1 1-2 2 4 1-3 1-1 2 0 1-8 1 10 1-1 2-4 1 3 1-4 2 5 1 0 1 1 2-1 1 1 1-5 1 0 2 3 1 0 1-3 2-1 1 4 1-2 2 1 1 0 1-5 1 6 2-3 1 2 1 0 2-3 1 0 1 5 2-1 1-3 1-6 1 11 2-1 1-6 1 5 2-5 1 5 1 0 2-3 1 1 1 0 1-1 2 6 1-6 1 2 2-4 1 3 1 0 2-2 1-7 1 10 1 0 2-1 1-4 1 3 2-4 1 1 1 0 2 4 1-4 1 1 1 4 2-6 1 3 1-3 2 1 1 2 1 2 2-4 1 2 1 0 1-4 2 7 1-7 1 3 2-2 1 2 1-3 2 5 1-1 1-1 1-2 2-1 1-1 1 4 2-1 1 6 1-3 2-7 1 4 1-1 1 4 2 2 1-10 1 4 2-8 1 9 1-3 2 2 1 2 1-2 1-2 2-4 1 6"/>
<path d="M1570 472l-2 25-1-1-1 3 0-1-1 2-1 1-1-1 0 1-1 0-1 5 0 2-1-4-1 0-1 6 0-5-1 6-1 1-1-2 0 4-1 1-1 1-1 2-1 1-1-2-1 4-1 1-1-1-1 5 0-2-1 1-1 2-1 2-1 1-1-1-1-2-1 7-1-2-1-1-1 1-2 1-1 3-1 0-1 1-1 0-1-3-1 3-1 2-1 0-1 3-1 1-2-4-1 5-1-2-1 3-1-1-1 0-1 0-2 3-1-4-1 6-1 1-1-6-1 5-2-2-1 5-1-3-1 2-1 4-1-3-2 0-1 0-1 1-1 5-1-1-1 1-1 0-2-1-1 3-1-3-1 2-1-1-2-1-1 1-1 1-1 2-1 1-2 1-1-3-1 4-1-3-2 3-1 2-1 0-1-1-1-2-2 4-1 2-1 0-1-2-2 1-1 4-1-1-1 2-1 0-2-4-1 2-1 1-1-1-2 3-1 1-1-3-1 2-2 2-1-4-1 1-1-1-2 3-1 2-1-3-1 0-2 1-1-2-1 3-2 5-1-3-1-1-1 3-2-3-1 4-1-3-1 1-2 1-1-1-1 1-2-2-1 2-1 1-1-2-2-3-1 2-1 4-2-2-1 2-1-4-2 1-1 2-1 1-1-4-2 0-1 4-1 1-2-2-1 3-1-3-1 1-2 2-1-2-1 4-2-1-1 1-1-3-1 1-2-1-1 2-1-2-1 3-2 0-1 0-1-1-1 5-2-3-1 0-1-1-1 2-2-1-1 3-1-1-2 0-1 2-1-5-1 5-2 1-1-1-1 1-2-2-1 4-1-4-1 1-2 3-1 0-1-3-1 3-2-2-1 1-1 1-1 1-2 1-1-1-1 2-1-3-2 3-1-4-1 6-1-3-2 0-1 4-1 2-1-5-2 3-1 0-1 1-1 0-2 0-1 0-1 1-1 0-1 1-2-1-1 2-1 2-1-1-1 2-2-3-1 4-1-1-1-1-1 2-2 1-1-1-1 2-1-3-2 1-1-1-1 6-1-3-1 4-2-2-1 1-1-1-1 2-1 1-2 2-1 0-1-2-1 1-1 6-2-4-1-1-1-1-1 4-1-2-2 2-1 2-1-1-1 1-1-1-2 1-1 0-1 1-1 2-1-2-2 4-1-2-1 1-1-2-1 3-2 3-1-1-1 0-1 1-1 0-2-2-1 3-1 0-1-2-1 3-2 3-1 0-1-1-1 2-1-1-2-1-1 2-1 0-1 1-1 0-2 3-1-2-1 2-1-3-2 3-1 1-1 2-1-3-1 5-2-7-1 3-1 1-1 1-1-1-2 3-1 2-1-3-1 1-2-1-1 1-1 2-1 1-1 0-2 2-1-4-1 2-1 3-1 1-2 0-1-2-1 3-1-2-2 3-1-2-1 2-1 2-1-1-2 0-1 1-1 2-1-1-1-2-2 2-1 0-1 2-1-2-2 2-1 0-1-1-1 2-1 4-2-1-1 0-1 3-1 1-2-3-1 3-1-3-1 0-1 3-2 2-1-3-1 3-1 1-2-3-1 0-1 0-1 6-1 0-2-4-1 0-1-1-1 3-2 0-1 6-1-5-1 2-1-2-2-2-1 2-1 0-1 6-1-4-2 2-1 0-1-2-1 7-1-3-2 4-1-2-1-3-1 0-1 3-1 0-2 3-1 2-1 1-1 0-1-1-1-4-1 4-2 2-1-4-1 5-1 1-1-4-1 8-1-2-2-1-1-5-1 7-1 3-1-3-1 2-1 4-2-5-1 3-1 2-1-4-1 1-1 2-2 2-1-2-1 7-1-2-1-4-1 7-1-2-2 0-1 2-1-3-1 2-1 1-1 4-2-3-1 1-1-1-1 0-1 6-2 1-1-2-1-1-1 1-1 0-2 2-1 1-1 1-1-1-1-2-2 3-1-7-1 8-1 2-1 1-2-3-1 3-1 2-1-3-1 2-2 2-1-3-1-1-1 7-1-5-2 8-1-8-1 4-1-5-2 7-1-2-1-1-1 1-1 3-2 0-1 1-1 1-1-1-2-4-1 1-1 4-1-1-2-1-1 0-1 6-1-3-1 0-2 4-1-10-1 7-1 4-2-3-1 0-1 3-1 1-2-5-1 2-1 2-1 1-2 2-1-3-1-4-1 7-2-2-1 5-1-3-1 1-2-2-1 4-1 1-1 1-2 2-1-1-1 1-1-3-2-2-1 2-1 0-1 2-2 1-1-1-1-2-1 0-2 2-1 1-1-2-1 4-2 4-1-3-1-4-1 2-2 0-1 2-1-1-1 2-2 3-1-6-1 4-1 0-2 0-1-1-1 0-1 1-2 4-1 0-1-1-1 4-2-3-1 0-1-2-1 3-2-1-1 1-1 4-1-5-2 4-1 1-1-3-1 3-2-2-1 5-1-6-1 3-2 3-1-2-1-2-1 4-2-1-1-5-1 2-1 2-2 6-1-5-1-3-1 5-2 3-1 4-1-9-1 1-2 5-1-2-1 0-1 7-2-6-1-2-1 3-1 4-2-6-1 4-1-1-1 0-2 5-1-6-1 5-1 2-1-5-2 5-1-3-1 2-1-2-2 2-1 4-1-2-1-2-1 3-2-3-1 1-1 5-1-6-2 4-1-3-1 3-1 3-1-1-2-2-1 4-1-3-1 6-1 1-2-1-1-1-1-4-1 4-2 0-1 0-1 1-1 1-1 4-2-2-1 2-1-5-1 4-2-2-1 3-1-1-1 2-1 1-2 3-1-5-1 6-1-1-1-1-2 4-1-2-1-4-1 3-2 4-1-6-1 9-1-6-1 2-2 0-1 2-1 1-1-1-2 0-1 0-1 2-1 2-2-3-1 5-1-3-1-1-1 5-2-3-1 4-1-4-1 2-2 3-1-3-1 3-1-1-1 0-2 1-1 1-1 3-1-3-1-2-2-1-1 6-1-1-1 1-1-5-2 2-1 6-1-1-1 1-1-3-1 5-2-1-1-3-1 4-1 2-1 1-1 1-1 3-2-4-1-2-1 5-1-4-1 6-1-1-2-1-1 5-1 2-1-7-1 10-1-4-2-1-1-3-1 7-1-4-1 4-1-5-2-2-1 2-1 4-1 0-1 1-2 2-1 0-1-4-1 7-1-1-1-2-2 1-1 2-1 3-1 3-1-5-2 3-1 4-1-6-1 0-1 7-1-1-1-2-2-1-1 4-1 1-1 0-1 0-1-1-1-5-2 10-1-6-1 3-1 1-1 1-1-2-1 8-1-4-1 1-2 4-1 0-1 1-1-1-1-2-1 0-1 0-1 3-1 3-2 2-1-1-1 4-1-2-1-1-1-2-1 5-1-2-2 1-1 2-1 3-1-1-1-4-1 5-1 1-1 2-1-5-2 1-1 0-1 6-1 3-1-5-1 1-1 2-1 0-2-2-1 1-1 4-1-4-1 3-1 5-1-1-1 1-1-1-2 0-1 1-1 1-1 2-1 0-1 1-1-3-1 2-1 3-2 3-1-2-1 2-1-6-1 10-1-3-1 2-1-1-2 1-1 2-1 1-1 0-1-3-1 2-1 2-1 2-1 2-1-4-2 5-1-4-1 4-1 3-1-2-1-7-1 9-1-3-1 2-1 8-1-6-1 3-1-1-2 4-1-4-1 4-1-1-1-1-1 2-1 2-1 2-1-1-1 3-1-5-1 7-1-4-1 2-1 1-1 3-1 3-2 0-1 1-1 0-1-6-1 5-1-1-1 1-1 3-1 1-1-2-1 6-1 1-1-5-1 3-1 0-1 3-2-1-1 0-1 4-1-7-1 6-1-1-1 4-1 2-1 0-1-2-1 2-1 1-1 1-1 1-1-1-2 2-1 1-1-1-1 0-1 3-1 1-1 0-1 3-1-5-1 4-1 1-1 0-2 1-1-1-1 2-1 0-1 0-1 4-1 3-1-2-1 0-1 1-1 1-2 1-1 5-1-3-1-1-1 3-1-2-1 1-1 1-1 0-1 0-1 3-1-3-1 1-1-2-1 6-2-3-1 2-1 5-1-2-1 1-1 3-1 0-1-1-1 0-1 7-1-4-1 3-1 6-1-5-1-7-1 12-1-6-1 2-1 4-2-10 1-221 1-10 0-2 0-2 1 0 0-2 0-2 0-1 1-2 0-1 0-2 0-1 0-1 1-2 0-4 1 0 0-2 1-2 0-2 1-3 0-1 1-1 0-1 1-3 0-1 1-2 0-1 1-1 1-2 0-3 1 0 1-2 0-1 0-2 1-1 1-2 1-3 0-1 1-1 0-1 1-1 1-3 1-2 0-1 1-1 1-2 0-1 1-3 1 0 0-2 1 0 0-1 1-1 1-1 0-2 1 0 1-1 0-3 1 1 0-3 1 0 1-1 1-1 1-3 1-1 1-1 1-1 0-2 1-1 1-2 1-2 1 0 0-2 1-2 1-1 1-2 1-1 1-2 1 0 0-1 1-2 1-1 0-2 1-1 1-1 1-2 1-3 1 0 0-1 1-2 1 1 0-2 1-2 0-1 1-1 1-1 1-1 1-1 1-3 1-2 1-1 1-2 1-2 1-1 1 1 1-1 0-2 1 0 1-2 1-2 1 1 1-2 1-1 0-1 1-1 1 0 1-1 1-1 1-3 1 1 1-1 1-1 1-2 1 0 0-1 1-1 1-2 1 0 1-2 1 1 1-1 1-1 1-1 1-1 1 0 1-2 1 0 1-1 1-2 1 0 1 0 1-1 1-1 1-1 1-1 1-2 1-1 1 2 1-1 1-2 1-3 1 0 1 0 1 1 1-1 1-2 1-1 1-1 1-1 1 0 1-1 1-2 1 1 2-2 1 1 1-2 1 0 1 0 1-1 1-3 1 1 1-2 1 0 1-1 1-1 1 0 1-1 1 0 1-1 2-1 1 1 1-3 1-1 1 0 1-1 1 0 1-2 1 0 1-1 2 1 1-3 1 0 1 1 1-2 1-2 1 0 1 1 2-3 1 1 1 0 1-2 1 0 1 0 1-2 2-1 1 1 1-2 1 0 1-1 1 0 1-1 2 0 1-2 1 1 1-1 1-2 1 1 1-1 2 0 1-1 1-1 1 0 1-1 1 0 2 0 1 0 1-2 1-2 1 1 1-1 2 0 1-2 1 0 1 0 1 0 2-1 1 0 1-1 1 1 1-2 2-1 1 0 1 0 1-2 1 0 1 0 2 0 1-2 1 0 1 0 1-1 2 0 1 0 1-1 1-1 1 1 2-2 1 0 1-2 1 0 2-1 1 0 1 2 1-3 1 1 2-3 1 3 1-3 1 1 1-2 2 0 1 0 1-1 1 0 2 0 1 0 1 0 1-2 1-1 2 0 1-1 1 1 1-1 2-1 1 1 1-1 1 0 1 0 2-1 1 0 1-1 1-1 2 1 1-1 1-2 1 0 2 1 1-2 1 1 1-1 2 0 1 0 1 0 1-2 2 1 1-2 1 1 1 0 2-1 1-1 1 2 1-2 2 1 1-3 1 2 1-2 2 0 1 1 1-2 1 1 2-1 1 1 1-2 2 1 1-2 1 0 1 1 2-1 1 0 1 1 1-2 2-1 1 1 1 1 1-2 2 0 1-1 1 1 2-2 1 0 1-1 1 2 2 0 1-1 1-1 1 0 2 0 1-1 1-1 2 1 1 1 1-1 1-2 2 1 1 0 1-1 2-1 1 1 1-1 1 0 2 2 1-2 1 0 1-1 2 0 1 0 1-1 2 0 1 1 1-1 1 0 2 0 1 0 1 0 2-1 1-2 1 1 1 1 2 0 1-1 1-1 2 2 1-2 1 1 1-1 2 0 1 0 1-1 2 0 1 0 1-1 1 1 2 0 1-1 1 0 2-1 1 1 1 0 1-1 2-1 1 2 1-1 2-1 1 1 1 0 2-1 1 1 1-2 1 2 2-1 1 0 1-1 2-1 1 1 1-1 1 0 2 0 1-1 1 0 2 3 1-3 1 1 1-1 2 2 1-2 1 0 2-1 1 2 1-1 1-1 2 0 1-1 1 1 2 0 1-1 1-1 2 0 1 1 1 0 1-1 2 0 1-1 1 1 1-1 2 0 1-1 1 0 2 0 1 0 1 0 1 1 2-3 1 1 1 1 2-1 1 0 1 0 1-1 2 0 1-1 1 1 1-1 2-1 1-1 1 2 2-1 1-1 1 0 1 0 2 0 1 0 1-1 1-1 2-1 1 3 1-1 1-1 2-1 1 0 1-2 2 1 1 0 1-1 1 2 2-2 1-1 1 0 1 2 2-3 1 2 1 0 1 0 2-3 1 0 1 3 2-5 1 2 1 1 1-1 2 1 1-5 1 2 1 0 2 0 1-1 1-1 1 1 2-1 1-1 1-2 1 2 2-2 1 0 1 3 1-2 2 1 1-3 1 2 2 0 1-3 1-1 1 1 2 2 1-2 1 0 1 1 2-3 1 1 1-1 1-2 2 6 1-3 1-5 1 3 2-1 1 0 1-4 1 1 2-1 1 3 1 1 2-3 1 4 1-4 1 4 2-2 1-5 1 4 1-2 2-4 1 1 1 3 1 0 2-2 1 0 1 2 2 0 1-3 1 1 1-3 2 2 1 0 1 4 1-6 2 0 1-1 1-2 1-1 2 3 1-2 1 4 2-5 1 1 1-3 1 5 2 0 1 1 1-4 1-4 2 0 1 4 1 1 2-2 1 2 1-4 1 3 2 0 1-2 1-1 2 1 1-2 1-1 1 5 2-2 1 0 1-1 1-2 2 1 1 0 1-1 2-2 1 1 1 2 2-1 1-4 1 8 1-5 2 3 1 0 1-2 2-3 1 3 1-7 1 5 2 2 1-4 1 5 2-2 1-1 1-4 2 7 1-5 1 1 1 0 2-3 1 3 1-2 2 1 1 1 1-3 2 1 1 0 1 1 1 0 2 3 1-4 1-2 2-2 1 2 1 3 2 3 1-5 1 1 1 0 2 1 1 1 1-1 2 0 1 3 1-9 2 7 1-4 1 1 1 2 2 1 1-7 1 8 2-1 1-2 1 1 2-4 1 3 1-3 1 1 2 4 1-4 1 4 2-1 1-2 1 3 2-3 1 1 1 4 1-4 2 1 1-1 1 2 2-4 1-2 1 7 2-2 1 0 1 0 1-1 2-1 1 2 1-2 2 1 1-1 1 3 2 2 1-5 1 0 1 0 2 2 1 4 1-4 2-2 1 2 1-1 2 2 1-1 1 2 2-2 1 2 1-3 1-2 2-1 1 5 1-3 2 1 1-3 1 2 2 1 1 1 1 2 1-3 2 2 1-1 1-1 2 3 1 1 1-2 2-1 1 1 1 1 1 1 2-3 1 1 1 0 2 1 1-4 1 3 2-4 1 3 1 3 1-2 2 0 1 0 1 0 2 2 1-2 1 0 2 1 1-1 1 0 1 0 2 3 1-3 1-1 2-1 1-1 1 4 2 0 1 4 1-2 1-6 2 4 1 1 1-1 2-2 1 2 1 0 2 2 1-3 1 2 2 0 1-4 1 0 1 2 2 0 1-3 1 1 2 2 1 1 1-3 2 2 1 2 1-3 1 0 2-2 1 7 1-2 2-5 1 5 1-4 2 6 1-5 1 3 1 0 2 3 1-5 1 3 2-1 1-2 1 3 2-5 1 5 1 2 1-3 2-1 1 0 1 1 2 4 1-6 1 3 2-4 1 1 1 2 1-5 2 7 1-5 1 0 2 7 1-10 1 9 2-6 1 2 1 1 1-5 2 3 1-1 1-2 2 5 1-1 1-2 2 4 1-4 1 1 1 2 2-4 1 4 1 0 2-3 1 2 1-5 2 4 1 2 1-7 1 4 2-5 1 8 1-5 2 1 1 2 1-2 2 2 1-4 1 0 1 3 2-2 1 1 1 4 2-4 1 0 1 2 2-3 1-1 1-2 1 0 2 6 1-1 1 0 2-3 1 4 1-5 2-1 1-1 1 7 1-2 2 1 1-1 1 2 2-7 1 3 1-4 2-1 1 9 1-3 1-1 2 3 1-1 1 1 2-2 1 1 1-3 2 1 1-5 1 7 1-1 2 1 1-5 1-2 2 2 1 0 1-3 2 6 1 2 1-5 1 5 2-4 1 2 1-2 2-7 1 5 1 3 2-5 1 5 1-1 1 0 2-1 1 5 1-9 2 6 1-4 1 3 2-3 1 0 1 4 1-5 2 7 1-5"/>
<path d="M1570 464l0 53-2-20-1 0-1 1 0 2-1 0-1 1-1 1 0 3-1-3-1-2 0 7-1 4-1-1-1-4 0 3-1 4-1-3-1 1 0 2-1 5-1-2-1 0-1 5-1 1-1 1-1-3-1-2-1 1 0 8-1 0-1 1-1 0-1 2-1 2-1 0-1 0-1 0-1 3-1 0-1-2-2 3-1 1-1 3-1-3-1 4-1-2-1 2-1 0-1 2-1-1-2 3-1-6-1 5-1 2-1-6-1 6-1-2-2-1-1 5-1-3-1 4-1-1-1 1-2 2-1-1-1 3-1-2-1 5-1-5-1 3-2 0-1 0-1-2-1 8-1-4-1 1-2 2-1-4-1 4-1-1-1 3-2-3-1 7-1-3-1-1-1 2-2-1-1 3-1-4-1 8-1-7-2 2-1 5-1-6-1 4-2-4-1 6-1-3-1 3-2 1-1-2-1 2-1-1-2 1-1 1-1-2-1 3-2-4-1 4-1-1-1 3-2-1-1-2-1 2-2 1-1-3-1 1-1-1-2 1-1 1-1 0-2 0-1-1-1 2-2 1-1-1-1-2-1 5-2-4-1 1-1 0-2-3-1 4-1-1-2 0-1 1-1 1-1-2-2-3-1 5-1-1-2-2-1 3-1-2-2 0-1-2-1 6-1-4-2 0-1 2-1-1-2 0-1 0-1 2-1-1-2 1-1-2-1 1-1 2-2 2-1-4-1 3-1 1-2 0-1 1-1 1-1-4-2 0-1 4-1 0-1 1-2-3-1 4-1 0-1-2-2 6-1-6-1 4-1-1-2 3-1 1-1-2-1-2-2 3-1-1-1-3-1 5-2 2-1-3-1-1-1 3-1 0-2 1-1 2-1-4-1 2-1 1-2 0-1 2-1 0-1 1-2 0-1 1-1-2-1 3-1 0-2 1-1-1-1 2-1-1-1 3-2 0-1-1-1 3-1-1-1 0-2 1-1 0-1 0-1 2-2-1-1 4-1-1-1 1-1-3-2 2-1 3-1 0-1-1-1 0-2 0-1 1-1 2-1-3-1 1-2 3-1-1-1 1-1 1-1 1-2 0-1-2-1 3-1-3-1 2-2 1-1-1-1 5-1-1-1 0-2 1-1 0-1 0-1 0-1 5-2-2-1-2-1 5-1-4-1 1-2 2-1 0-1-1-1 0-1 2-2 1-1 0-1 0-1 0-1-1-2 7-1-2-1-2-1 4-1-4-2 4-1-2-1 5-1-4-2 2-1-2-1 3-1 0-1-1-2 3-1-3-1 2-1 3-1 0-2-1-1 0-1 1-1-1-1 1-2 4-1 0-1-5-1 3-2 1-1 1-1 0-1 1-1 0-2 2-1-3-1 2-1 1-1 0-2 1-1 3-1-3-1 1-2-2-1 0-1 4-1 2-1-1-2-2-1 4-1 1-1 1-2 0-1-2-1-1-1 3-1 2-2-1-1-1-1 3-1-3-1 4-2-1-1 1-1-2-1 4-2 2-1-4-1 3-1-1-1-1-2 3-1 4-1-5-1 3-2-3-1 0-1 2-1 2-2 1-1-1-1 0-1 2-1-5-2 3-1-1-1 3-1 2-2-4-1 5-1-1-1 0-1 3-2-5-1 5-1-1-1-2-2 7-1-1-1-1-1 0-1 0-2 2-1-4-1 3-1 5-1-2-1-4-2-1-1 7-1-1-1-1-1 2-1-1-1 2-2 0-1 2-1 3-1-2-1-1-1 5-2-1-1 2-1 0-1-2-1-1-1 4-1 1-2 0-1-4-1 7-1-6-1 4-1 3-2 3-1-1-1-5-1 8-1-3-1 4-1-6-2 3-1 1-1 3-1-5-1 8-1-4-2-1-1 0-1 7-1-6-1 1-2 3-1 1-1-2-1 2-1-3-1 8-2-5-1 6-1-5-1 7-1-5-2 7-1-7-1 5-1 0-1-2-2 0-1-2-1 2-1 3-1-2-2 3-1 3-1-3-1-1-2 4-1-4-1 8-1-4-1 2-2-1-1 3-1-2-1-4-2 7-1-3-1-1-1-2-1 5-2 1-1 2-1-1-1 1-2-1-1 3-1-1-1-4-2 3-1 0-1 1-1-2-1 3-2-2-1 5-1 0-1 0-2-3-1-1-1 5-1-2-2 4-1-1-1 0-1 0-2-2-1 2-1 3-1-2-2-1-1 0-1 2-1 4-1-2-2 2-1 1-1 4-1-2-2-2-1 2-1-2-1 3-2 0-1-2-1-4-1 3-2-2-1 4-1 1-1 0-2 0-1-3-1 3-1-1-2 0-1 1-1 3-1 0-2 1-1-2-1 0-1 1-2 0-1 3-1 0-1 1-2-2-1 0-1 2-1-5-2 10-1-3-1 0-1-1-2 7-1-6-1-3-1 5-2 2-1 5-1-7-1-3-2 2-1 0-1 3-1 6-2-6-1 3-1-4-1-2-2 4-1 0-1 1-1-1-2 5-1-2-1-2-1 1-2 0-1 4-1-1-1 0-2-2-1 4-1 3-1-4-2-1-1 0-1 3-1-1-2 1-1 2-1-4-1 4-2 0-1 3-1-2-1 0-1 1-2 0-1 1-1-3-1-1-2 8-1-3-1 3-1 0-2-2-1 0-1 4-1 2-1-10-2 7-1 1-1-2-1 2-1 1-2 1-1 0-1 2-1-5-1 7-2-1-1 4-1-2-1 0-1-2-2 3-1 2-1-6-1 2-2 0-1 2-1 1-1 1-1-2-2 6-1-7-1 3-1-1-2-1-1 8-1-6-1 0-1 2-2 3-1-2-1 2-1 0-1 0-2 1-1 1-1 0-1 3-2 1-1-1-1-1-1-2-1 5-2-1-1 3-1-2-1-2-2 0-1 1-1 6-1-5-1 2-2 4-1-6-1 5-1-3-2 3-1 2-1-2-1 1-1 0-2-1-1 3-1-1-1 5-1-6-2 5-1-2-1-1-1 1-1 3-2 0-1-1-1 6-1-3-1 3-1-2-2 3-1 0-1-1-1-2-1 4-1-1-2 4-1-5-1 2-1 4-1-2-1 0-1 8-2-7-1 2-1 6-1-9-1 3-1 2-2-3-1 1-1 4-1 0-1 0-1 3-2-1-1-1-1-3-1 6-1 0-2-3-1 6-1-2-1 0-1 1-1 2-2-3-1 4-1-4-1 5-1 1-2 0-1 2-1-1-1 2-1 0-1-1-2 1-1 7-1-3-1 1-1 0-1-2-1 4-1-1-2-3-1 4-1-5-1 10-1-6-1 4-1-4-1 1-2 2-1 4-1-1-1-3-1 3-1 5-1-6-1 2-1 6-2-4-1 1-1 2-1 0-1 0-1 4-1 1-1-1-1 0-2 1-1 1-1 2-1-2-1 1-1 0-1 2-1 0-1-1-2 2-1-1-1 5-1 2-1-6-1 5-1 0-1 1-2-3-1 1-1 3-1-1-1-1-1 9-1-6-1 0-1 3-2 1-1 0-1 0-1 4-1-1-1 0-1-2-1 4-1 1-2-4-1 7-1-2-1-2-1 4-1 3-1-1-1 4-1 0-2 0-1-4-1 2-1 1-1-4-1 7-1-2-1 0-1 5-2 0-1-3-1 2-1 5-1-3-1 6-1-3-1 8-1-6-1-7-1 4-1 6-1-4-2 2-1 2-1 1-1 0-1-1-1-1-1 6-1-5-1 4-1 2-1-3-1 1-1 6-1 2-1-2-1 2-1-3-1 8-2-8-1 2-1 3-1 2-1 1-1-2-1 8-1-10-1 6-1 0-1 4-1-6-1 2-1 7-1-3-1-1-2 2-1 2-1-1-1-1-1 8-1 0-1 0-1-1-1 1-1-1-1 1-1 7-1-4-1 0-1 0-2-2-1 3-1-3-1 6-1-1-1-3-1 7-1 0-1 1-1 0-1 4-1-3-1 2-2 3-1 0-1 2-1 0-1 2-1-2-1 1-1 3-1 0-1-2-1 0-2 3-1 0-1-1-1-3-1 4-1 2-1 0-1 2-1-6-1 9-1-3-1 4-1-1-1-1-1 0-2-5-1 7-1 8-1-4-1 1-1 3-1 2-1-7-1 5-1-1-1 0-1 4-1-2-1 1-1 1-1 3-1-6-1 5-1 0-2-10-1-218 3-10 0-1 1-3 0-1 0-1 0-2 0-1 1-1 0-2 0-2 0-3 1 0 0-2 0-2 1-1 0-2 1-2 0-2 0-1 1-1 0-1 1-1 0-2 1-1 0-2 1 0 0-2 0-3 1 0 0-2 1 0 0-1 1 0 0-3 1 0 0-2 1-1 0-2 1-3 1-4 1 0 1-1 0-2 1-1 0-2 1 1 0-3 1-1 1 0 0-3 1-1 1-2 0 1 1-3 0-2 1 1 1-2 0-2 1 0 1-1 0-1 1-2 1-1 0-1 1-1 1-1 0-3 1 1 1 0 0-2 1-1 1-2 0-1 1-1 1-1 0-2 1 0 1-2 0-2 1 2 1-2 0-3 1 1 1-1 0-2 1-1 1-1 0-2 1-2 1 1 0-2 1 0 1-3 1-2 1-1 1-2 0-1 1-1 1 0 0-3 1-1 1-1 0-1 1-1 1 0 0-1 1-3 1-1 1-1 1 0 1-4 1-1 1-1 1-1 1 0 1-1 0-2 1 0 1-2 1-1 1 0 1-2 1-1 0-1 1-1 1-2 1 0 1-1 1-1 1 0 1-1 1-1 1-3 1 1 1-1 1 0 1-2 1-1 1-1 1-1 1 0 1-2 1 0 1-1 1-1 1-1 1 0 1-2 1-2 1 0 1-1 1-1 1-1 1 0 1-1 1-1 1 0 1-1 1-1 1-1 1 0 1-1 1-1 1-1 1-2 1 2 1-3 1-1 1-1 1 0 2-1 1 0 1-1 1-1 1-1 1 0 1-1 1-1 1-1 1-1 1 0 1-2 1-1 1 1 1-2 1 0 1 0 2-3 1 0 1 0 1-1 1 1 1-2 1-1 1 0 1 1 1-2 2 0 1-3 1 1 1-2 1-1 1 1 1-2 1 0 2 1 1-2 1 0 1-2 1-1 1 1 1-1 1-2 2 1 1-2 1 1 1-1 1-1 1-1 2 0 1-1 1 0 1-3 1 1 1-1 1 0 2-1 1-2 1 0 1 0 1-1 1 1 2 0 1-3 1 0 1-1 1 1 1 0 2-2 1 1 1-3 1 0 1 1 2-1 1-1 1 1 1-2 1 1 2-2 1 0 1-1 1 0 1-1 1-1 2-1 1-1 1 2 1-1 1 0 2-3 1 1 1 0 1 0 2-2 1 1 1-1 1-2 1 0 2 1 1-1 1-2 1 2 1-1 2-1 1 0 1-1 1-1 1 0 2-2 1 2 1-2 1 0 2 0 1-1 1 0 1-1 1-2 2 1 1 1 1-2 1 0 2 0 1 0 1-1 1 0 2-1 1 0 1-1 1-1 1 1 2-1 1 1 1-3 1 0 2 1 1-1 1 0 1 0 2-1 1-1 1 0 1 0 2 0 1 0 1-1 1 0 2-2 1 1 1 0 1 0 2-2 1 1 1-2 2 0 1 1 1-1 1-1 2 0 1 0 1 0 1-1 2 0 1 0 1-1 1-1 2 2 1-1 1-2 2 2 1-1 1-1 1 0 2 0 1-1 1-1 1 2 2-2 1 1 1 0 1-1 2 0 1-1 1-1 2 2 1-1 1 0 1-2 2 1 1 1 1-2 2 0 1-2 1 1 1 1 2 0 1-2 1 0 1 1 2 0 1-3 1 2 2 0 1-1 1 1 1-2 2 0 1 1 1-1 2 0 1-1 1 1 1-1 2 0 1-1 1 0 2 1 1-1 1-1 1-1 2 1 1-1 1 2 2-2 1 0 1-1 1 2 2-1 1 0 1-1 2 0 1 0 1-1 1 1 2-1 1 2 1-1 2-1 1 0 1-1 1 2 2-2 1 1 1-3 2 3 1-1 1-2 1 0 2 1 1 0 1-1 2 0 1-1 1 1 1 0 2 1 1-2 1 2 2-1 1-1 1-1 1 0 2 0 1 0 1 0 2-1 1 0 1-1 1 1 2-1 1 1 1-2 2 0 1 1 1-1 1 0 2 1 1-2 1-1 2 1 1 0 1 0 1 0 2-1 1 0 1-1 2 2 1-2 1 0 1-1 2 1 1-2 1 2 1-1 2-1 1-1 1 1 2 0 1-1 1 0 1 1 2-2 1 0 1-1 1 1 2 0 1 0 1-3 1 1 2 0 1 0 1-1 2 0 1 1 1-2 1 1 2-2 1 1 1-1 2 0 1 1 1-1 1 0 2 0 1-1 1 1 1-3 2 2 1 0 1-2 2 0 1-1 1 2 1-1 2-1 1 2 1-1 1 0 2-3 1 1 1 1 2 1 1-3 1 1 1 0 2 1 1-3 1 1 2 0 1-2 1-2 1 2 2-1 1 0 1 2 1-2 2-1 1-2 1 0 2 2 1 0 1-3 1 4 2-1 1-3 1-2 1 3 2-3 1 2 1 3 2-1 1-3 1 1 1-2 2 2 1-5 1 0 1 3 2 0 1 0 1-3 2 4 1 0 1-1 1-1 2-1 1 0 1-1 1 1 2-2 1-2 1 4 2 0 1-5 1 2 1 2 2-1 1 0 1-4 2 1 1 2 1-2 1 1 2-1 1-1 1 0 1 3 2-4 1-3 1 5 2-4 1 2 1-2 1 2 2-2 1-1 1 6 1-3 2 0 1-3 1 2 2-2 1-4 1 3 1 2 2-1 1 0 1 0 2 0 1 0 1 1 1-1 2-4 1 3 1-2 2-3 1 3 1 5 1-4 2-1 1-1 1 2 2-1 1-7 1 8 1-1 2-2 1-1 1 0 2 4 1-3 1 0 2-1 1 2 1-1 1 0 2 0 1 0 1-1 2 0 1-2 1 1 2 0 1 2 1-2 1 2 2 0 1 2 1-2 2 0 1-1 1-2 2-3 1 8 1-1 1-5 2 2 1 0 1-2 2 3 1-1 1 1 2-1 1-2 1 1 1-3 2 5 1 0 1-4 2 3 1-3 1 0 2 4 1-5 1 2 1-1 2 1 1-2 1-1 2 6 1-4 1 3 2-2 1 0 1 0 1 1 2-2 1 4 1-3 2 3 1-1 1-4 2 3 1-1 1 2 1-2 2 2 1-1 1-2 2 1 1-2 1-2 2 7 1-5 1 3 2-3 1 1 1 1 1 2 2-2 1 2 1 1 2-1 1-3 1 3 2-4 1-1 1 3 1 2 2-2 1-1 1 0 2 1 1-3 1 5 2-1 1 1 1-2 1 0 2-1 1 1 1 5 2-3 1 0 1-2 2 1 1 0 1 1 1-1 2 0 1-1 1 0 2 3 1-1 1-4 2 3 1 0 1 3 2-6 1 8 1-4 1-2 2 2 1-1 1 3 2-4 1 4 1 1 2-6 1-1 1 4 1 0 2 3 1-1 1-1 2-3 1 1 1 1 2-3 1 4 1-1 1 1 2-1 1-2 1 1 2 0 1 4 1 2 2-5 1-2 1 1 1 0 2 1 1 0 1 0 2-1 1-2 1 2 2 3 1 2 1 0 2-3 1 0 1 2 1-3 2 3 1-1 1 1 2 1 1-4 1 2 2 0 1-1 1 1 1-3 2-4 1 3 1-2 2 5 1-2 1 5 2-6 1 3 1-3 1 3 2-4 1 3 1 3 2-2 1-2 1 3 2 3 1-1 1-4 1-2 2 3 1 0 1 1 2 0 1-1 1-1 2-2 1 0 1 6 2-3 1 1 1 3 1 0 2-3 1-2 1-5 2 8 1-4 1 2 2-1 1 2 1 2 1-2 2-3 1-2 1 1 2 3 1-3 1 1 2 2 1 0 1-5 1 8 2-8 1 4 1-1 2-4 1 4 1 0 2 4 1-4 1-3 1 5 2-5 1 1 1 2 2 1 1-1 1 0 2-6 1 3 1 5 1-4 2 7 1-9 1 4 2 3 1-2 1-8 2 5 1 2 1 0 1-6 2 2 1-1 1 1 2 6 1-8 1 2 2 4 1-4 1 0 1-5 2 3 1 8 1-3 2-4 1 1 1-2 2 1 1-1 1 1 1 0 2-1 1 4 1-2 2-2 1-2 1 3 2 4 1-3 1 0 1-3 2-1 1 2 1 2 2-1 1-3 1 2 2 1 1-1 1 3 1-3 2-6 1 6 1-1 2 2 1 0 1-1 2 0 1-3 1 1 1 6 2-3 1-2"/>
<path d="M1570 472l-2 22-1 1-1 3 0-2-1 7-1-6-1 3 0 6-1 1-1-1 0-1-1 1-1 5-1 1 0-4-1 8-1-2-1 0-1 3-1 0-1 4 0-2-1-1-1 4-1-2-1 2-1 5-1 0 0-4-1 6-1 1-1-3-1-1-1 3-1-2-1 6-1 0-1 0-1 2-2-2-1 3-1 2-1-1-1 4-1-3-1 2-1 1-1-1-1 2-1 1-2 1-1-3-1 5-1-2-1 3-1-2-1 4-2 2-1-2-1 1-1 0-1-2-1 0-2 2-1 1-1 2-1-2-1 3-1 2-2-2-1 3-1-3-1 2-1 4-1-4-2-1-1 6-1-8-1 3-2 2-1 0-1 3-1 2-2-3-1 2-1 2-1 0-2-3-1-1-1 3-2 2-1-4-1 3-1 2-2-1-1-1-1 2-2 2-1-7-1 5-1 2-2-7-1 5-1-1-2 2-1-1-1 3-1-1-2 1-1-3-1 3-2-6-1 3-1 1-2 0-1-3-1 4-1 1-2-1-1-3-1 0-2 1-1 0-1-1-2 1-1 2-1-7-1 4-2 4-1-2-1 0-2 0-1-2-1 2-2 0-1-2-1 1-1-1-2 5-1-2-1-2-2 2-1 2-1-2-1 1-2 2-1 0-1-1-1 0-2-1-1 2-1 0-1 0-2 2-1-1-1 1-1 0-2 3-1-2-1 2-1 1-1-1-2 1-1 1-1 1-1-2-1 0-2 1-1 1-1 2-1-2-1 1-2 1-1 1-1 2-1 1-1 1-2 0-1-1-1 0-1 2-1-2-2 0-1 4-1-2-1 3-2 0-1-1-1 0-1 1-1 0-2 1-1 0-1 1-1 1-1-2-2 4-1 0-1-2-1 3-2 1-1 1-1-1-1 1-1-2-2 2-1 0-1-1-1 2-1-2-2 5-1 0-1-1-1 0-2 1-1 1-1 0-1 1-1-2-2 3-1-1-1-1-1 4-1-1-2-1-1 4-1 0-1 0-1 0-2 0-1 2-1-4-1 2-1 2-2-1-1 1-1 1-1 3-2-3-1 3-1-2-1 1-1 0-2 5-1-3-1-1-1 6-1-4-2 1-1 1-1-2-1 4-1-1-2 2-1 3-1-1-1-1-1 1-2-1-1 1-1-1-1 2-1 0-2 1-1 1-1-2-1 2-1 2-2 2-1-3-1 0-1 2-1-1-2 1-1 0-1 1-1 2-1 0-2 0-1 1-1 0-1-3-1 6-2 2-1-2-1 2-1-3-2 2-1 1-1 1-1 1-1-1-2 2-1-1-1 1-1-5-2 4-1 2-1 0-1-2-1 4-2-2-1 1-1 3-1 0-2-1-1-3-1 5-1 0-1-3-2 4-1-1-1 4-1-4-2 4-1-3-1-2-1 5-1 0-2 0-1 2-1 1-1-1-1-1-2 2-1 0-1 0-1 2-2 1-1 0-1 1-1 1-1-1-2 2-1-1-1 3-1-6-2-2-1 5-1 1-1-5-2 6-1 2-1-3-1 2-1-1-2 2-1 1-1 1-1-1-2 3-1 0-1 0-1 0-2 1-1-4-1 5-1-1-2 3-1-7-1 4-1 2-1 3-2-2-1-4-1 5-1-1-1 3-2 0-1 0-1-1-1 0-1 8-2-2-1-1-1 2-1-5-1 3-2 3-1 0-1-3-1 1-1 1-1-1-1 6-2-2-1-2-1 2-1 2-1 2-1 0-2 1-1 0-1 0-1 0-1 0-1 1-1-1-2 1-1 0-1 0-1 1-1 3-1-1-2 2-1 5-1-2-1-6-1 6-1-1-2-5-1 9-1 0-1-3-1 5-2-1-1-1-1 1-1 0-1 4-1 1-2-3-1-2-1 6-1-6-1 0-2 10-1-4-1 3-1-2-1-3-2 3-1-1-1 3-1 4-1-2-2-3-1 1-1 0-1 1-1 2-2 3-1-5-1 2-1 2-2 3-1 0-1 1-1-3-1 3-2-1-1 2-1-3-1-1-1 9-2-4-1 4-1-3-1-4-2 5-1 1-1-8-1 7-2 1-1 1-1-4-1 6-2-2-1 1-1-3-1 2-1 5-2-5-1 3-1 0-1-3-2 2-1 0-1 3-1 0-2 1-1 1-1 3-1-2-2-1-1 0-1-1-1 4-2-5-1 8-1-5-1 1-1-1-2 6-1-1-1-5-1 0-2 6-1-3-1 6-1-8-2 4-1 2-1-2-1 3-2-6-1 8-1-4-1 2-2 1-1-1-1-1-1-1-2 4-1 0-1 4-1-5-2 1-1 0-1-1-1 7-2-4-1 4-1-5-1 1-2-1-1 1-1 1-1 2-2-5-1 7-1 1-1-3-2 6-1-2-1-3-1-1-2 4-1-1-1 0-1 3-2-3-1 5-1-1-1 0-2 1-1-4-1 5-1 0-2-1-1 2-1-6-1 7-2-4-1 7-1-6-1 3-2-4-1 6-1-5-1 4-2 1-1 0-1-4-1 5-2 1-1 0-1 3-1-6-2 4-1 1-1-2-1 1-1 1-2 1-1-3-1 1-1 5-2-3-1 0-1 1-1 4-2 0-1 2-1-3-1 4-1-5-2 2-1 1-1 5-1-2-2 0-1-2-1 3-1-2-1-2-2-1-1 6-1 0-1 1-1 2-2-2-1 1-1 4-1-3-1-3-2 5-1-4-1 9-1-3-1-3-2 4-1-4-1-2-1 7-2-2-1 2-1-1-1 3-1-5-2 3-1 1-1 3-1 0-2 0-1-1-1 0-1 2-1 1-2-5-1 4-1-5-1 8-2 0-1-3-1-1-1 7-1-2-2-2-1 2-1 5-1-2-1 3-2-4-1 5-1-4-1 0-2 4-1-4-1 7-1-5-2-3-1 3-1 4-1-2-1 4-2-1-1-4-1 3-1-3-1 2-2 2-1 0-1 0-1-2-1 5-2 3-1-1-1 1-1 1-1-2-1 0-2 4-1-1-1-2-1 1-1-1-1 6-2 0-1 2-1-6-1 6-1-2-1 1-1 0-2 3-1-4-1 4-1 0-1-2-1 3-2 6-1-10-1 6-1 0-1 0-1 2-2 2-1-1-1 2-1 3-1-6-1 2-2 3-1 4-1-5-1 3-1 1-2-1-1 0-1-1-1 1-1-2-1 5-2 0-1 0-1 0-1 0-1 1-1 4-2 2-1-3-1-2-1 5-1 3-1-3-1-4-2 6-1 3-1 0-1-2-1 1-1 0-1-4-1 9-1-4-2-2-1 10-1-6-1 1-1 3-1 2-1-4-1 4-1-6-2 9-1-5-1 1-1 1-1 2-1 2-1 3-1 1-1 0-2-2-1 6-1-3-1-1-1 0-1 0-1 0-1 0-2 2-1-1-1 7-1-5-1 3-1 1-1 2-1 2-1-3-2-1-1 3-1 4-1 4-1-2-1-1-1-2-1-1-2 3-1 2-1 0-1-1-1 1-1 5-1 1-1-3-1 4-2 3-1 1-1-4-1-2-1 8-1-4-1 4-1-4-1-1-2 4-1-1-1 3-1 2-1-3-1 3-1-4-1-1-1 3-1 6-2 0-1-2-1-1-1 3-1 4-1-2-1 0-1 1-1 0-1 1-1 0-1-2-1 6-2-5-1 5-1 7-1-5-1-1-1-1-1 1-1 4-1 4-1 0-1-1-1 0-1 2-1-4-1 7-1-1-1 0-2 1-1 1-1 0-1 2-1-2-1 0-1 2-1 6-1-2-1 2-1-1-1 0-1-5-1 5-1 0-1 0-2 4-1 4-1 0-1 3-1-4-1 0-1-1-1 2-1 3-1-2-1 2-1-1-1 3-1-1-1 0-2 3-1 1-1 1-1 2-1-3-1 4-1-2-1 6-1-6-1 3-1 0-1-1-1 1-2 3-1 4-1-3-1 2-1-4-1 7-1-2-1 3-1-3-1 3-1 2-2 1-1 3-1-3-1 1-1-2-1 3-1-1-1 4-1-4-1 4-1-2-1 6-1-8-1 9-1-4-2 7-1-5-1 2-1-2-1 3-1 0-1 3-1 1-1 0-1 0-1 4-1 3-1-1-1 0-1 2-1-1-1 0-1-1-1 1-3-10 1-220 2-10 0-1 1-2 0-1 0-2 0-1 0-1 1-1 0-2 0-1 0-1 0-1 1-2 0-1 0-2 1-1 0-1 0-2 1-1 0-1 0-3 1-1 0-2 1-1 0-2 1 0 0-2 1-1 0-1 1-3 1-2 0-2 1 0 0-2 1-1 0-1 1-1 0-2 1 0 0-2 1 1 0-2 1-3 1-3 1-1 0-2 1 0 0-2 1-1 0-2 1-1 1-2 1-1 0-2 1-1 1-1 0-1 1 0 0-1 1-1 1-3 1-3 1 0 0-1 1-1 1-1 0-1 1-2 1 0 0-1 1-1 1-1 0-1 1-2 1 0 1-2 1-2 1-1 0-1 1-1 1-1 1-2 1-2 0-1 1-1 0-2 1 0 1-2 1-2 1 0 0-2 1 0 0-2 1-1 1-1 0-1 1-1 1-3 1-1 1-1 0-1 1-1 1-2 0-2 1 2 1-3 1-2 1-2 1 0 0-1 1-2 1 0 1 0 1-3 1-1 0-1 1 0 1-2 1 0 1-2 1 0 1-2 0-1 1-1 1 0 1-2 1 0 1-1 1-2 1 0 1-1 1-1 1-1 1-2 1-1 1 0 1 0 1-2 1-1 1 0 1-3 1 1 1-2 1 0 1 0 1-2 1 0 1-2 1-1 1 0 1-1 1 1 1-2 1-2 1 0 1-1 1-2 1 0 1-1 1 0 1-1 1-1 1 0 1-2 1-1 1-1 1-1 1 0 1 0 1-2 1 0 1-1 2 0 1-2 1-1 1 0 1-1 1-1 1 0 1-1 1-3 1 0 1 1 1-1 1-1 1 0 1-1 1-2 2 1 1-2 1 0 1-1 1 0 1-2 1 0 1 0 1-1 1 0 2-3 1 1 1-1 1-1 1-1 1-1 1 0 1 0 2 0 1-3 1 2 1-2 1 1 1-1 1-1 2-1 1-2 1 1 1-1 1-2 1 1 1 0 2-2 1 0 1-2 1 0 1 0 1 0 2-1 1-2 1 0 1 1 1-2 1 0 2-1 1 0 1-1 1-2 1 1 1-1 2 0 1 0 1-1 1-1 1 1 2-1 1-1 1-1 1 0 1-2 1 1 2 1 1-3 1 1 1 0 1-3 2 1 1-2 1 0 1 0 1-1 2 0 1-1 1-1 1 0 1 0 2 0 1-1 1 0 1 0 1 0 2-2 1 0 1-1 1-1 2 0 1 0 1-1 1 0 1 0 2-1 1-1 1 0 1 1 1-2 2 0 1 0 1-2 1 0 2-1 1 2 1-2 1-1 2-1 1 2 1-2 1 2 1-2 2-2 1 1 1 0 1-2 2 0 1 0 1 0 1 0 2-1 1 0 1 0 1-1 2 0 1 1 1-3 1 0 2 0 1 0 1 0 1-1 2-1 1 1 1 0 1-1 2 0 1 1 1-3 1 0 2 0 1 0 1-1 2 0 1 0 1 0 1-1 2 1 1-1 1-1 1-1 2 1 1-1 1 1 1-3 2 2 1-1 1-1 2 2 1-1 1-2 1 1 2 0 1-1 1 1 1-2 2 1 1-1 1 0 2 0 1 0 1-1 1 0 2-1 1 0 1 0 2-1 1 1 1-1 1 1 2-2 1 1 1-1 1 1 2-1 1 0 1 0 2-2 1 1 1-1 1 0 2 1 1-2 1 2 2-2 1 0 1-1 1 1 2 0 1 0 1-1 2 0 1 0 1-2 1 1 2 0 1 0 1-1 1 0 2 0 1 1 1-1 2-1 1 0 1 1 1-1 2-1 1 2 1-1 2-2 1 1 1 0 1-1 2 0 1 1 1-1 2-2 1 2 1-1 1 0 2-1 1 0 1-1 2 1 1 1 1-2 1 0 2 0 1 0 1-1 2 1 1 0 1-2 1 1 2-1 1-1 1 0 1 1 2-1 1-1 1 1 2-2 1 1 1 1 1-3 2 1 1 0 1 1 2-2 1-1 1 1 1 1 2-2 1 1 1-2 1 1 2 0 1-1 1 1 2-1 1 0 1-1 1 0 2-1 1 0 1 0 1-1 2 1 1 0 1-1 2-1 1 0 1 0 1 0 2-1 1 0 1-1 1 1 2-1 1 0 1 0 1-1 2 1 1-1 1 0 2 0 1-1 1 0 1 1 2-2 1 1 1-3 2 3 1 1 1-1 1-1 2-2 1 1 1 1 2-2 1 0 1 1 1-1 2-1 1 0 1 0 2-1 1-1 1 4 1-2 2-2 1-2 1 0 2 2 1-1 1 2 1-1 2-1 1-2 1 1 2 2 1 0 1-1 1 1 2 1 1-7 1 4 2 2 1 0 1-2 1-2 2 2 1 1 1-7 2 3 1 4 1-2 1-1 2-1 1-1 1-1 2 0 1 7 1-3 1-6 2 1 1 4 1-1 2-1 1-2 1-1 1 3 2-3 1-3 1 4 1-2 2 0 1 1 1-2 2 1 1-1 1 2 1 3 2-3 1-1 1 2 2 0 1-3 1 1 1 3 2-4 1 0 1 0 2-2 1 2 1-4 1 2 2-2 1 1 1 0 2 2 1-2 1 1 1-3 2 0 1 0 1-3 1 4 2 2 1-4 1 5 2-4 1-2 1 4 1-2 2 0 1-3 1-1 2-1 1 1 1 0 1-3 2 5 1-3 1 1 2 3 1-2 1-1 1-2 2 0 1-1 1 2 2 2 1-2 1 0 1-5 2 7 1-2 1-3 2 3 1 1 1-1 1-2 2 0 1 2 1-3 2-2 1 4 1-3 2-1 1 0 1 0 1 2 2 5 1-9 1 5 2 1 1-4 1 2 2 1 1-1 1-4 1 2 2 5 1-2 1-6 2 1 1 0 1 5 2-2 1-1 1 0 1 0 2 0 1 3 1-3 2 1 1 0 1-3 2 1 1 0 1-1 1 1 2 4 1-4 1-1 2 1 1-1 1 3 2-3 1 0 1 2 1 0 2-4 1 0 1 0 2 0 1 0 1 3 2 2 1 1 1-5 1 6 2-2 1-3 1 4 2-3 1 0 1-1 2 1 1-2 1 3 2 1 1-7 1 4 1 0 2 3 1-5 1 2 2-1 1 4 1-2 2-3 1 1 1 0 1 3 2-3 1 1 1 3 2-2 1 2 1-2 2-1 1 3 1-5 1 6 2 0 1-5 1 4 2-2 1-2 1 3 2-1 1 1 1-2 1 2 2 5 1-6 1 1 2-4 1 3 1-4 2 6 1 0 1 1 1-5 2-1 1 5 1 4 2-4 1-3 1 0 2-1 1 1 1 3 2 2 1 0 1-5 1 2 2 1 1-5 1 4 2 1 1 0 1-1 2-2 1 1 1-2 1 1 2 3 1-2 1-4 2 11 1-4 1 0 2-1 1-1 1-1 1 4 2 0 1-4 1 2 2-1 1-3 1 5 2-4 1 1 1 0 1 1 2 0 1-2 1 1 2-2 1 0 1 5 2-4 1 0 1 6 1-7 2 0 1 1 1 0 2 4 1-3 1 6 2-8 1 2 1 1 2-2 1 2 1 8 1-7 2 1 1-5 1 1 2 0 1 5 1-4 2 0 1 0 1 2 1 2 2 3 1-7 1 3 2-3 1 2 1 4 2-3 1 0 1 4 1-3 2-2 1-1 1-1 2-1 1-3 1 5 2-3 1 3 1 2 1-4 2-2 1 2 1 3 2-1 1-6 1 6 2 3 1-3 1 0 1-3 2 4 1 0 1-6 2 3 1 2 1-2 2 1 1-1 1 1 1 3 2-4 1 2 1-2 2-5 1 7 1-1 2-3 1 3 1-2 1 2 2 1 1-4 1 3 2-1 1 1 1-3 2 0 1-1 1 3 1-1 2-3 1 1 1 6 2-4 1-3 1 5 2-5 1 4 1 0 1 2 2-3 1 1 1 3 2-3 1-3 1 1 2-5 1-2 1 6 1-1 2 5 1-7 1 7 2-2 1-1 1 3 2-8 1 0 1 5 1 3 2-5 1 2 1-4 2-2 1 7 1-2 2-4 1 4 1-3 1 3 2-1 1 1 1 1 2-1 1-3 1 0 2 3 1 2 1-4 1 0 2 3 1-2 1-3 2 2 1-1 1 7 2-6 1 3 1-6 1 1 2 2 1-5"/>
<path d="M1570 465l-2 33-1-2-1 5 0-1-1-3-1 6-1 1 0-2-1 4-1-3 0 4-1 0-1 2-1 2 0 1-1-1-1 3-1 2-1 1-1 4-1 0 0 1-1-7-1 2-1 6-1 0-1 4-1 2 0-4-1 2-1 2-1 2-1 4-1-2-1-2-1 3-1 1-1 0-1-1-1 4-2-2-1-1-1 4-1 1-1-1-1-3-1 4-1 4-1-6-1 7-2-2-1 0-1 4-1 1-1 0-1-5-1 2-2 0-1 6-1 0-1-1-1 2-1 2-2-2-1-1-1 2-1 0-1 2-1-2-2-1-1 4-1 0-1 2-1-1-1 2-2-4-1 5-1 0-1 0-1-1-1 1-2 4-1-3-1 3-1-3-1 1-2 3-1-3-1 3-1 0-2 1-1 2-1-2-1 0-2 0-1-2-1 4-1 0-2 4-1-3-1 1-1 1-1 3-2-1-1 3-1-3-1 1-1 1-2-3-1 2-1 0-1 2-2-1-1 2-1 1-1-2-2-4-1 7-1-7-2 3-1 4-1 0-1 0-2-2-1 3-1-2-1-2-2-1-1 6-1-2-1 3-2 3-1-2-1 2-1-4-2-3-1 4-1 2-2-1-1 3-1 0-1-2-2 2-1-4-1 3-2-3-1 3-1-1-1 4-2-2-1-1-1 1-1 1-2 0-1-1-1 0-1 3-1 0-2-2-1 4-1 0-1 2-2-3-1 2-1 0-1-1-1 2-2-1-1 5-1-4-1 0-1 0-2 3-1 2-1 1-1-2-2 2-1-1-1-3-2 4-1-3-1 3-1-1-2 1-1 1-1-2-2 2-1 0-1-1-2 1-1 0-1 2-1-2-2 2-1-2-1 4-1-4-2 3-1-1-1 1-2 0-1-1-1 1-1 0-2 4-1-4-1 3-2 0-1-3-1 3-1-2-2 2-1-1-1 2-1 0-2-2-1 2-1-1-1 0-2 2-1 0-1-2-2 2-1 0-1 1-1 0-2-2-1 2-1 2-1-2-2-1-1 2-1 0-1 3-2 0-1-2-1-1-1 3-2 0-1 3-1-2-1 2-2-4-1 4-1 2-1-1-1-1-2 3-1 0-1 1-1-1-1 2-2 0-1-1-1 4-1-1-1 0-2 0-1 3-1-2-1 0-1 3-2 0-1-2-1-2-1 3-1 1-2 1-1 0-1 2-1-1-1 0-2 2-1 1-1 2-1-1-2 1-1-2-1-1-1 4-1 2-2-3-1 2-1-1-1 2-1-1-2 0-1 1-1 2-1 1-2 2-1-3-1 0-1 2-1-1-2 3-1 0-1 0-1 0-2 0-1 3-1-2-1 1-1 0-2 2-1-4-1 2-1 2-2 2-1-1-1-1-1 0-1-1-2 2-1 1-1-2-1 2-2 1-1 2-1-1-1 1-1 1-2 0-1-3-1 6-1 0-2 0-1 0-1 1-1 0-1-1-2 5-1-2-1 1-1 0-2-1-1 1-1 1-1 1-2-1-1 0-1-1-1 4-1 0-2-4-1 4-1 0-1 2-2-3-1 0-1-2-1 5-2 2-1-1-1 3-1-5-2 2-1 1-1 0-1 3-1-3-2-1-1 3-1-1-1 1-2 2-1-2-1 4-1-2-1 4-2-3-1-4-1 5-1 0-1 3-2 0-1-2-1 2-1 6-1-6-1 3-2 3-1-6-1 3-1 1-1 5-1-1-1-2-2-1-1 2-1 0-1-3-1 10-1-3-2-2-1 2-1 2-1-3-1 4-1-2-2 4-1 1-1-3-1 3-1-4-1 7-2-3-1 2-1-5-1 2-1 4-2-2-1-2-1-1-1 10-1-1-1-4-2 5-1 3-1-2-1 1-1-1-2-1-1 2-1-2-1 3-1 3-2 1-1-2-1-4-1 8-1-3-2-4-1 6-1-1-1 1-1 4-2-2-1-3-1 8-1-5-1 0-2 0-1-1-1 6-1-3-2 3-1-3-1 6-1-5-1-2-2 3-1 2-1 2-1 1-2-1-1 1-1-1-1 5-2-2-1-1-1 0-1 2-1-2-2-2-1 0-1 2-1 4-2-1-1 1-1 1-1-2-2 3-1-2-1 0-1 5-2-4-1-4-1 2-1 9-1-6-2 5-1 0-1-5-1 5-2-1-1 6-1-6-1-2-2 5-1-5-1 2-1 1-2 3-1 1-1-2-1 6-2-7-1 5-1-3-1-3-2 6-1 1-1-4-1 0-2 3-1 0-1-1-1-1-2 5-1-2-1-1-1 1-2 3-1-2-1 0-1 6-2-3-1 0-1 4-1-1-2-2-1-5-1 8-1-3-2 1-1-1-1 6-1-3-2 1-1 5-1-2-1-3-1 3-2-4-1 3-1-2-1 6-2 3-1-5-1-2-1-1-2-2-1 8-1-7-1 3-2 7-1-3-1-3-1 0-2 3-1 5-1-2-1-4-2 5-1-2-1 0-1 1-2-2-1 2-1-5-1 4-2-3-1 5-1 4-1-3-2 4-1-2-1-3-1 3-1-1-2 2-1-1-1-1-1 1-2 5-1-2-1 5-1-4-2 3-1 1-1-1-1-1-1 2-2-5-1 9-1-4-1 3-2-3-1 4-1 0-1-4-1 3-2 2-1-4-1 3-1-1-1 6-2-5-1 3-1 3-1 1-1-4-2 1-1 4-1-8-1 6-1 6-2-4-1-1-1 0-1 1-2 0-1 3-1-1-1-3-1 6-2-1-1-2-1 0-1 2-1 3-2-1-1 1-1 1-1-1-2 1-1-3-1 1-1 2-1 0-2-2-1 2-1 4-1-3-1-1-2 4-1 2-1-2-1 1-2 4-1-2-1-3-1 3-1 3-2-1-1 2-1-3-1 1-2 3-1-1-1-2-1 0-1 4-2 2-1-3-1 0-1-2-1 2-2 5-1-6-1 5-1 0-1 0-2 3-1-3-1 3-1 1-1 3-2-2-1-2-1 0-1 2-1 1-1 1-1-1-2 2-1 4-1-1-1-3-1 6-1 0-2-4-1 4-1 2-1 0-1-4-1 4-1 0-2 3-1-1-1 0-1 4-1-9-1 5-2 2-1-3-1 9-1-6-1 0-2 0-1 3-1-2-1 1-1 1-1-1-2-1-1 2-1 5-1-1-1 2-2-3-1 2-1 0-1 4-1-1-1 1-1 2-2-1-1 1-1 0-1 4-1-2-1-2-1 3-2 0-1 0-1 2-1-1-1 2-1-2-1 3-1-5-2 9-1-1-1 2-1-3-1 0-1 2-1 1-1 3-1-1-2 2-1-3-1 2-1 2-1 0-1 0-1-1-1 2-1-2-2 1-1 2-1 1-1 2-1 3-1-3-1 6-1-2-1 6-2-10-1 5-1 2-1 1-1-3-1 3-1 4-1-3-2 2-1 1-1-2-1 9-1-5-1 1-1-3-1 3-1 4-2-5-1 2-1 4-1-1-1-1-1-1-1 1-1 3-1 2-2 3-1-3-1 2-1-3-1 7-1-4-1 2-1-2-1 1-2 1-1 4-1 1-1 2-1-5-1 4-1-1-1 0-1-1-1 1-2 2-1 6-1-5-1-1-1 8-1-5-1 3-1 0-1 5-1-3-1-5-1 2-2 6-1-2-1 4-1 0-1-1-1 2-1 1-1-2-1 6-1-3-1 1-1 3-1-2-1 1-1 0-1 7-1-2-1 0-2-1-1 4-1-3-1-2-1 3-1 0-1-1-1 4-1 2-1 4-1 4-1-7-1 3-1-3-1 3-1 1-2 3-1-7-1 7-1-3-1 1-1 4-1 1-1-4-1 5-1-2-1 1-1 1-1-2-1 5-1 0-1-2-2 6-1-1-1 2-1 2-1-3-1 5-1 1-1 0-1-2-1 2-1 3-1-1-1-2-2 0-1 3-1 1-1 2-1-3-1 2-1 1-1-2-1 2-1 3-1 0-2-1-1-2-1 9-1-3-1 1-1 5-1-4-1 1-1 0-1 2-1-4-1 6-1 0-1 1-1 0-2 0-1 1-1 4-1-3-1 5-1 0-1-2-1 0-1 5-1-5-1 1-1 7-1 1-1 0-1 2-1-6-1 5-1 1-1 1-3-10 0-222 3-10 0-1 0-2 1-2 0 1 0-1 0-2 0-2 1-1 0-1 0-2 0-1 1-1 0-3 0-1 0-1 1-1 0-2 0-2 1 0 0-4 1-1 0 1 0-2 1-1 0-2 1-1 0-1 1-3 0-1 1-1 0-3 1-1 0 1 1-2 1-3 1-2 0-2 1 0 0-2 1-1 0-1 1-1 1-4 0 1 1-3 0-1 1 0 0-1 1-2 0-1 1-2 1 0 0-1 1 0 0-3 1-1 1-1 0-1 1-2 0-1 1 0 1-3 0 1 1-1 1-3 0-1 1 0 1-2 0-2 1-1 1 0 0-1 1 0 1-2 1-1 0-1 1-2 1 0 1-3 1 0 0-2 1 0 1-2 0-1 1 0 1-3 0-1 1-1 0-2 1 0 1-2 1-1 1-2 0 1 1-3 1-2 0-1 1 0 0-1 1-3 1 0 0-1 1-2 1 0 0-1 1-2 1-1 0-1 1 0 1-1 0-2 1-1 1-1 1-1 0-2 1 0 1-1 1-2 1 0 1 0 0-3 1 0 1-1 1-1 1-1 1-1 1 0 0-3 1 0 1-1 1-1 1-1 1 0 1-3 1 1 1 0 1-3 1-1 1-2 1-1 1 1 1-2 1 0 1-1 1-1 1-1 1-2 1 0 1-1 1-1 1-1 1-2 1 0 1 0 1 0 1-1 1-2 1 1 1-2 1-1 1-2 1 1 1-2 1-1 1 0 1-1 1 0 1-2 1 0 1-1 1-2 1 0 1 0 1-2 1 0 1-1 1 0 1-2 1 1 1-2 2-1 1 0 1-2 1-1 1-1 1-1 1 1 1-1 1 0 1-2 1 0 1 0 1-1 1-3 1 1 2-2 1 0 1 0 1-2 1 0 1 0 1 0 1-1 1-2 1 0 2 0 1-2 1 0 1-1 1-2 1 0 1 1 1-2 2 1 1-2 1 1 1-3 1 1 1-2 1-1 2 0 1 0 1 0 1-2 1 0 1 0 1-1 2-1 1-1 1-1 1 1 1-1 1-2 2 0 1 0 1 0 1-2 1 1 1-2 2 1 1-2 1 1 1-3 1 1 2 0 1-2 1 0 1-1 1 0 1 0 2 0 1-2 1 0 1-1 1 0 2 0 1-2 1 0 1 0 1-2 2 1 1 0 1-1 1-1 1-1 2 0 1 1 1-2 1 0 1 0 2-1 1 0 1-2 1 1 1-1 2-1 1 0 1 0 1 0 1-2 2 0 1-1 1 0 1 0 2-1 1 1 1-1 1-1 1 0 2-1 1-1 1-1 1 1 2-1 1 0 1 0 1-1 1-2 2 1 1 1 1-3 1 0 2 1 1-1 1 0 1-2 2 2 1-1 1 0 1-2 2 1 1-1 1 1 1-2 2 0 1-1 1 0 1-1 2 0 1 0 1-1 1 1 2-1 1 0 1 0 1-1 2 1 1-1 1 0 1 0 2-2 1 1 1 0 2-1 1 1 1-2 1 0 2 0 1 1 1-2 1-1 2 1 1-2 1 0 1 1 2-2 1 0 1 1 2 0 1-1 1-1 1 1 2-1 1 1 1-2 1 2 2-2 1 0 1-2 2 0 1 0 1 0 1 1 2 0 1 0 1-1 2-1 1 1 1-1 1 0 2 0 1-1 1-1 1 1 2-1 1 1 1 0 2-1 1 0 1-1 1 0 2 0 1 1 1-2 2 0 1 0 1-1 1 0 2 1 1-2 1 2 2 0 1-2 1 0 1 0 2-1 1 0 1 2 2-1 1 0 1 1 1-2 2 0 1-1 1 1 1-2 2 2 1-1 1-1 2 0 1-1 1 1 1-1 2 1 1-2 1 1 2 1 1-2 1 0 1 0 2 0 1-1 1 0 2 0 1-1 1 1 1-1 2-1 1 1 1-2 2 1 1 0 1 1 1-2 2 0 1 1 1-2 2 1 1 0 1 0 1 0 2-1 1-1 1 1 2-2 1 0 1 1 1-2 2 1 1 0 1-1 1 1 2 0 1 0 1-1 2-1 1 0 1 1 1-2 2 0 1 0 1 0 2 0 1-1 1 0 1 0 2 0 1-1 1 1 1-1 2 1 1-3 1 2 2-2 1 1 1-1 1-1 2 0 1 0 1 0 1-1 2 1 1 1 1-2 2 0 1-1 1 0 1 0 2 1 1-2 1-1 2 2 1-2 1 0 1 1 2 0 1 0 1 0 2 0 1 0 1-2 1 0 2 0 1 0 1 0 2-2 1 0 1 2 1-2 2 1 1 0 1-1 2 0 1 0 1 1 1 0 2-3 1 0 1 0 2-2 1 5 1-4 1 0 2 4 1-5 1 0 2 0 1 2 1 0 1-2 2-2 1 4 1-1 2-2 1-1 1-2 1 2 2 0 1 0 1 2 2 1 1-1 1-1 1-2 2 5 1-6 1 2 2 3 1-7 1 5 1-2 2 0 1-5 1 3 2 6 1-5 1 3 1-5 2 1 1-2 1 2 2-1 1 0 1 2 1-6 2 0 1 6 1-4 2-1 1 4 1 1 1-2 2-1 1-1 1-2 1-2 2 3 1-2 1-1 2 2 1 4 1-5 1-1 2 1 1 0 1-1 2-2 1 4 1-1 1-2 2 2 1-4 1 0 2 1 1 1 1 1 1-2 2 1 1 0 1 1 2-4 1 3 1-7 1 4 2 1 1 0 1 0 2-5 1 4 1 1 1-2 2 2 1 0 1-4 2-1 1 3 1-2 1 2 2 3 1-1 1-3 2-1 1 0 1-1 1 2 2 0 1 5 1-6 2-4 1 7 1-5 2 4 1-1 1-1 1-2 2-1 1 2 1-3 2 3 1-2 1 1 2 0 1 2 1 0 1 0 2-1 1-1 1 1 2 1 1-1 1 1 2-7 1 4 1 1 1 2 2-3 1 0 1 1 2 2 1-3 1 0 2 1 1-3 1 1 1 2 2-2 1-3 1 7 2-2 1 0 1-1 2-1 1-1 1-1 1 5 2-2 1 1 1-2 2 2 1 1 1-1 2 0 1-2 1 2 1-1 2-2 1 2 1-5 2 4 1 0 1-2 2 3 1-2 1 0 2 0 1-1 1 2 1 1 2-2 1 1 1-3 2 5 1-2 1 0 2-4 1 2 1 0 1 3 2-2 1-3 1 4 2-1 1 3 1-2 2 0 1 3 1-6 1 3 2 1 1 4 1-6 2 0 1 1 1-1 2 0 1 0 1 6 1-6 2 2 1-3 1 5 2-2 1 0 1-2 2 4 1-3 1 0 1 2 2 1 1-3 1 3 2 0 1-5 1 4 2-3 1 4 1-3 1 0 2 1 1 0 1 2 2-2 1 0 1-1 2 2 1-3 1 1 2 3 1-2 1 2 1-3 2 2 1 0 1-1 2 0 1 0 1 0 2 1 1 3 1-4 1 4 2-5 1 3 1-4 2 1 1 0 1-1 2 4 1 1 1 0 1-6 2 4 1 0 1-5 2 7 1 1 1 1 2-5 1 2 1-2 1-2 2 2 1-1 1-1 2 4 1-2 1 1 2 1 1-1 1 2 1-1 2-1 1 0 1 0 2 1 1-2 1 1 2-1 1 1 1-3 2-1 1-2 1 6 1 0 2-1 1 4 1-4 2 0 1 6 1-4 2 0 1 0 1-3 1 1 2 3 1 0 1-2 2-3 1 1 1 3 2 0 1-5 1 2 1 1 2-3 1 5 1-3 2 1 1-7 1 8 2 1 1 0 1-4 1 1 2-3 1 5 1-4 2-2 1 3 1 4 2-3 1 3 1-5 1-1 2-3 1 2 1 2 2 2 1-2 1-2 2 4 1-2 1 5 1-2 2 1 1-6 1 0 2 0 1 4 1-4 1 3 2 2 1-5 1 2 2 5 1-3 1-3 2 0 1-1 1 0 1-3 2 3 1-1 1 4 2-2 1 0 1 5 2-2 1-4 1 1 1 0 2-1 1 3 1-1 2 0 1-1 1-4 2 0 1 2 1-1 1-2 2 9 1-3 1-5 2-3 1 6 1-2 2 4 1-4 1-1 1 2 2 2 1-2 1 0 2-2 1 4 1-3 2 0 1 0 1 2 1-1 2 0 1 0 1-1 2-4 1 2 1 0 2-1 1 2 1 0 1 1 2-2 1 0"/>
<path d="M1570 471l-2 24-1 5-1-4 0 6-1 0-1 1-1 0 0 4-1-2-1 0 0-1-1 4-1 4-1-2 0-1-1 3-1 2-1 0-1 4-1 2-1-4 0 1-1 7-1-4-1 3-1-3-1 2 0-2-1 6-1 4-1 0-1-2-1 1-1 2-1 0-1 4-1-2-1-1-1 4-1 4-2-9-1 7-1 3-1-2-1 1-1 1-1 2-1 0-1-1-1 2-2-1-1 0-1 3-1 1-1-3-1 4-1 0-2-2-1 6-1-5-1 3-1-1-1 3-2 0-1 2-1-1-1 2-1 3-1-10-2 11-1-1-1-2-1 0-1 3-1 3-2-3-1 1-1-2-1 5-1-2-1 0-2 0-1 2-1-2-1 2-1 1-2 0-1 4-1 1-1-4-2 1-1 3-1-3-1 1-2 1-1 1-1-2-1 1-2-1-1 1-1 0-1 2-1 4-2-5-1 5-1 0-1 1-1-3-2 5-1 1-1 0-1-6-2 3-1 2-1 2-2-1-1-2-1 3-1-2-2 2-1-2-1-2-1 3-2-1-1 1-1 0-1 1-2 3-1-1-1 0-1 2-2-4-1 2-1 2-2 0-1 0-1 0-1 0-2-1-1 0-1 1-2 0-1-2-1 0-2 2-1-2-1 0-1 1-2 1-1 0-1 1-2 1-1 0-1 1-1-3-2 2-1 1-1-1-2 3-1-3-1 2-1 1-2-1-1 4-1-3-1-3-2 3-1 3-1-3-1 3-2-3-1 4-1-1-1-1-2 1-1 0-1-1-2 1-1 0-1 3-1 2-2-3-1-1-1-1-2 0-1 0-1 2-1-1-2 1-1 3-1-2-2 2-1 0-1-3-1 2-2 0-1 0-1 2-1-2-2 0-1 4-1-3-2 0-1 2-1-2-1 1-2 1-1-1-1 2-1-1-2 4-1-2-1-1-1 1-2 2-1 0-1 3-1 0-1-3-2 3-1-3-1 0-1 2-1 1-2 2-1 0-1 2-1 0-2-1-1 2-1 3-1-1-1 0-2 1-1-3-1 1-1-1-1 2-2 3-1-3-1 2-1 0-1 2-2-1-1 4-1-3-1 3-1-2-2 1-1 0-1 2-1-1-1 1-2 1-1 0-1 0-1 0-1 2-2 1-1 3-1-1-1-1-1 0-2 0-1 2-1 1-1-2-1 1-2 4-1-1-1 1-1-1-2 1-1-2-1 2-1 5-1-3-2 1-1-1-1 3-1-1-1 2-2-3-1 1-1 4-1-5-2 5-1 0-1-1-1-1-1 3-2 1-1-2-1 0-1 0-2 1-1 5-1-6-1 2-1 6-2-1-1-2-1-2-1 3-2-2-1 1-1 1-1 3-1-3-2 5-1-2-1-1-1 2-2-1-1 1-1 1-1 1-1-4-2 4-1-2-1 2-1 1-2 2-1 2-1-5-1 3-2 0-1-1-1 4-1-2-1 4-2 1-1-2-1 1-1-2-2 3-1-1-1 3-1 0-2-5-1 6-1-2-1 2-1 0-2 0-1-1-1-4-1 9-2-3-1-1-1 1-1 2-2 2-1-5-1-2-1 8-2 4-1-3-1-1-1-3-2 3-1 2-1 2-1-5-2 1-1-1-1 2-1 0-1 7-2-5-1 0-1 4-1-2-1 3-2-6-1 4-1 3-1 1-1 0-1-4-2 2-1 0-1 1-1 0-1 2-1-1-2 1-1 3-1 0-1 4-1-4-1 4-2-3-1 0-1 1-1 6-1 1-1-3-2 1-1-2-1-6-1 7-1 3-1-1-2 3-1-1-1 0-1 2-1 0-1-4-2 8-1-5-1 4-1 1-1-6-2 3-1 2-1-1-1 2-1 3-2-2-1 0-1 3-1 1-1 1-2-2-1 3-1-5-1 4-1 3-2-1-1 0-1 0-1 1-1-3-2 7-1-1-1 1-1-4-2 3-1 3-1-6-1 2-1 3-2 0-1-2-1 6-1-4-2 5-1-7-1 5-1-1-1 4-2-4-1 1-1 2-1 4-2-2-1-2-1 0-1 3-1-4-2 4-1-4-1 5-1-2-2 4-1-1-1 3-1 2-2-9-1 4-1-1-1 3-2 1-1-5-1 1-1 8-1-6-2 1-1 1-1 4-1-1-2-2-1 4-1 1-1-4-2 5-1-8-1 6-1 2-2-3-1 2-1 2-1-2-2 3-1-5-1 1-1 5-2 2-1-3-1 0-1-6-2 9-1-1-1 0-1 1-2 1-1 1-1 0-1 3-2-6-1 1-1 0-1 4-1-2-2 2-1-1-1 4-1-6-2 6-1 1-1 0-1 0-2 0-1-2-1 2-1 2-2-1-1 3-1-2-1 0-2 0-1 1-1 2-1-4-2 2-1-3-1 5-1-6-2 5-1-1-1-1-1 2-2 1-1 2-1-1-1 5-2-2-1-3-1 6-1-5-2 5-1-2-1-1-1-2-1 3-2 1-1-1-1 8-1-6-2-3-1 5-1 1-1 1-2-5-1 4-1-2-1-1-2 5-1-1-1-1-1 0-2 3-1-1-1 1-1 3-1 0-2 1-1-3-1 3-1-1-2 5-1-5-1 3-1 0-1-1-2 1-1 1-1-3-1 6-1 2-2-2-1-7-1 5-1 7-1-3-2 4-1-2-1-2-1 1-1-4-2 12-1-7-1 1-1-1-1 2-2-3-1 12-1-6-1-2-2-2-1 9-1-5-1 1-1 0-2-2-1 2-1-3-1 4-1 5-2-3-1 2-1-4-1 3-2-2-1 3-1 1-1-1-1-2-2 2-1 4-1-5-1 2-2 6-1-2-1 3-1-4-1-1-2 4-1 2-1-1-1-1-1 3-2-3-1 5-1-4-1 1-2 0-1 2-1-3-1 2-1 1-2 0-1 3-1 2-1-1-1-1-2 7-1-7-1 2-1 2-1-4-2 1-1 4-1 5-1-10-1 8-2-6-1 5-1 5-1-2-1-1-1-2-1 7-2-4-1 4-1 1-1 0-1 1-1-2-2 0-1 6-1-3-1 1-1 1-1 3-1-8-2 4-1 0-1 3-1 3-1-3-1 4-2-3-1 2-1-3-1 2-1 1-2 4-1-2-1 1-1 0-1 1-1-4-2 1-1 4-1 1-1-1-1-3-1 5-2-2-1 5-1-5-1 4-1-2-1 5-2-3-1 3-1 0-1 1-1-3-1 5-1 2-2-1-1 0-1 6-1 0-1-3-1-3-1 4-1-2-2 4-1 0-1-3-1 6-1 0-1 0-1-1-1 4-1 0-2 2-1-4-1-2-1 10-1-3-1-3-1 3-1-1-1 3-2-1-1 0-1 1-1 3-1 1-1-3-1 8-1-1-1-1-2 0-1 0-1-3-1 4-1 2-1 0-1 2-1-1-1 3-2 0-1-6-1 11-1-5-1 3-1-2-1 1-1-1-2 3-1-6-1 10-1-5-1 3-1 3-1-3-1 0-1 0-2 1-1 6-1-3-1 3-1 0-1 3-1-6-1 7-1-2-2 1-1-2-1 4-1 3-1-2-1-3-1 4-1-1-1 6-1-4-2 1-1 6-1-9-1 4-1 5-1-3-1 6-1-5-1 2-1 0-1 4-1 0-1 1-2-2-1 1-1 1-1 5-1-6-1 4-1 5-1-3-1-1-1 0-1 3-1 3-1 0-1-1-1 3-1 3-1-3-2-4-1 3-1 6-1-3-1 4-1-6-1 5-1 2-1-5-1 4-1 3-1 1-1 1-1-3-1 2-1-1-1 3-2 1-1 1-1-1-1 0-1 4-1-1-1 2-1 2-1 1-1 0-1 0-1 2-1 1-1-2-1 2-1 0-2 1-1 3-1-4-1 3-1 0-1 3-1-1-1 5-1-3-1 2-1 1-1 1-1 1-2-7-1 3-1-2-1 10-1 1-1-4-1 4-1-2-1 0-1 3-1-2-2 5-1-1-1 2-1 0-1 0-1 2-1-1-1 2-1 0-1-1-1-1-1 0-1 3-1 0-1 2-2 4-1-3-1 4-1-2-1 4-1 2-1-2-1 0-1 3-1-3-1 0-1 5-1-1-1 2-1 2-1-4-1 0-1 1-1 5-1-10-1-221 2-10 0-1 0-2 1-1 0-1 0-1 0-3 1-2 0-2 0-1 0-3 1 2 0-2 0-3 0-2 1-1 0-1 1-3 0-2 0 2 1-2 0-1 0-2 1-2 0-1 1-2 0 1 1-4 1-1 0-2 1-2 1-1 0-2 1-1 0-1 1-3 1-1 0-2 1-1 1-2 0-3 1 1 0-2 1 0 0-2 1-1 1-2 1-2 1-2 0-1 1 0 0-2 1 0 1-2 0-2 1-3 1 1 0-1 1-3 0 1 1-2 1 0 0-2 1-2 1-1 1-1 1 0 1-2 1-3 1-1 0-2 1 0 1-2 1-1 1-1 0-2 1-2 1 0 0-1 1-2 1 0 0-1 1-1 1-1 0-3 1-1 1-2 1-1 1-2 1 1 0-3 1-1 0-1 1-1 1 0 0-3 1 0 1-2 0-2 1 0 1 0 0-2 1-1 1-2 0-3 1 1 1-2 1 0 1-1 0-2 1-1 1-1 1-2 1 0 1 0 1-2 1-1 1-1 1-1 1-2 0-1 1-1 1 0 1-1 1-1 1 0 1-2 1-2 1 1 1-2 1 1 0-1 1-1 1-3 1-1 1 1 1-2 1-2 1 1 1 0 1-3 1 1 1-3 1 0 1-1 1 0 1-2 1-1 1 1 1-1 1-3 1 1 1-1 1-1 1-2 1 1 1-2 1 0 1-1 1-1 1 0 1-2 1-1 1 0 1 0 1-2 1 0 1-1 1-1 1-2 1 0 1-1 1 0 1-1 1 1 1-3 1-1 2 1 1-2 1 0 1-2 1 1 1-3 1 0 1-1 1 0 1 0 1-1 1-2 1 0 1-1 2 0 1-1 1-2 1 1 1-1 1-1 1-1 1-1 1 0 2 0 1-2 1 0 1 0 1 0 1-3 1 0 1 0 2 0 1-2 1 0 1-1 1-1 1 0 1-2 2 1 1-1 1 0 1-2 1 2 1-2 1-2 2 0 1 1 1-3 1 0 1 3 1-3 2-2 1 0 1 1 1-1 1-1 1 0 2-1 1-1 1 0 1-1 1 0 2-1 1 0 1-1 1-1 1 0 1-1 2 0 1 1 1-3 1-1 1 1 2 0 1-2 1 0 1-1 1 0 2 1 1-2 1-2 1 0 1 0 2 0 1-1 1 0 1 0 1-1 2 0 1-1 1-1 1 1 1-2 2 0 1 1 1-2 1 1 2-1 1-1 1 0 1-1 1-1 2 0 1-1 1 1 1-1 1-1 2 1 1-1 1 0 1-2 2 1 1-1 1-1 1 0 2 0 1-2 1 3 1-3 1 1 2-2 1-1 1 1 1-1 2 1 1-2 1 1 1-1 2 0 1-1 1-1 1-1 2 0 1 0 1 1 1-1 2-1 1-1 1 0 1 0 2-1 1 0 1-1 1 1 2-1 1 0 1-1 2 2 1-2 1 0 1-1 2 0 1 0 1-1 1 1 2 0 1-3 1 1 1 0 2 0 1 0 1 0 2-1 1 0 1-1 1 2 2-1 1 0 1-2 1 0 2 0 1-1 1 0 2 0 1 0 1 2 1-2 2 0 1-1 1 0 1 0 2 0 1 0 1-2 2 1 1 0 1 0 1-1 2 0 1-1 1 1 2-2 1 2 1-1 1 0 2 0 1 0 1-2 2 1 1-1 1 0 1 0 2 1 1-2 1-1 2 1 1 0 1-1 1 0 2 0 1-1 1 1 2 0 1-1 1 1 1-1 2-1 1 0 1 1 2-1 1 1 1-2 1 1 2 0 1 0 1 0 2 0 1 0 1-2 1 1 2 0 1-1 1 1 2-1 1 0 1 0 2-1 1-1 1 2 1-1 2 0 1 0 1 0 2 0 1-2 1 2 1 0 2-1 1 0 1 0 2 1 1-2 1 0 2 1 1 0 1-1 1 0 2 0 1-1 1 0 2-1 1 2 1 0 1-2 2 1 1-1 1 2 2-1 1-1 1 0 2-1 1 1 1-1 1-1 2 2 1 0 1-1 2-1 1 0 1 0 1 1 2-1 1 1 1 0 2-2 1 0 1-1 1 0 2 1 1-1 1-1 2 2 1-2 1 1 1 0 2 0 1-2 1 0 2 1 1-1 1-3 1 3 2-1 1 1 1 0 2-2 1 1 1 0 1 0 2-2 1 1 1 0 1-1 2 0 1 0 1 0 2 0 1-1 1-1 1 0 2-1 1 2 1-3 2 3 1-2 1 2 1-4 2 0 1 1 1 2 1-2 2-2 1 0 1-1 2 1 1 0 1 2 1-1 2-1 1-3 1 1 1 1 2-2 1-2 1 3 2-3 1 1 1-4 1 1 2 4 1 1 1-1 1-2 2-1 1 1 1 2 2-2 1-3 1-1 1 4 2 0 1 2 1-7 1 2 2 0 1-1 1 1 2 0 1 1 1-4 1 5 2-6 1 4 1-2 2-1 1 2 1 0 1-5 2 2 1 1 1 1 1-4 2 3 1-2 1-4 2 7 1-3 1 0 1 0 2 0 1 1 1-1 2-2 1 0 1 2 1-1 2-1 1 0 1-2 2 1 1-1 1-1 1 0 2 1 1 1 1 0 1 0 2-2 1 2 1 0 2-2 1 0 1-6 1 4 2 0 1-2 1 0 2-1 1 6 1-3 1-3 2 0 1 0 1 2 2 0 1-2 1-1 1 4 2-3 1-3 1 4 2 1 1-5 1 5 1-2 2-1 1 1 1 0 2-1 1 0 1 2 2-2 1-1 1 1 1 0 2 0 1-1 1 0 2-2 1 3 1-2 2-2 1 5 1-7 1 6 2-1 1-4 1 5 2-1 1-1 1 1 2-2 1 1 1-3 1 3 2 3 1-1 1-1 2-2 1-1 1 2 1-1 2 0 1-1 1-2 2 2 1-3 1 3 2 0 1-1 1-2 2 3 1-5 1 5 1 3 2 1 1-3 1 0 2 0 1-2 1 2 2-1 1-1 1 3 1 1 2-3 1 0 1-2 2 4 1-1 1-1 2 0 1 0 1 2 1-4 2 3 1 0 1-3 2 3 1-3 1 1 2 0 1 2 1-2 1 1 2-2 1 1 1 2 2-1 1-2 1 3 2-2 1-4 1 5 1-3 2 3 1 3 1-2 2-4 1 1 1 1 2 2 1-4 1 6 1-2 2-3 1-1 1 1 2 1 1 1 1 0 2-1 1 5 1-4 1-1 2-1 1 3 1-2 2 2 1-2 1 2 2-5 1 5 1-5 2-1 1 8 1-2 1-3 2 3 1 2 1-5 2 0 1 1 1 2 2 1 1-6 1 3 1 5 2-4 1 1 1-3 2 0 1 1 1 2 2 1 1 0 1-2 1 1 2 1 1-7 1 4 2-1 1 3 1-4 2 5 1 0 1 0 1-6 2 6 1 1 1-3 2-3 1 4 1-4 2 4 1-4 1 3 1-1 2 5 1-3 1-2 2 2 1-3 1 3 2-5 1 3 1 2 1-1 2 2 1-2 1-6 2 8 1-4 1 5 2-2 1-2 1 3 2 2 1-5 1 1 1-1 2 2 1-4 1 4 2-4 1 4 1 0 2 3 1 0 1 2 1-6 2-1 1-4 1 5 2 4 1-4 1 2 2 1 1 0 1-5 1-1 2 2 1 0 1 1 2-6 1 6 1-1 2 4 1-4 1-5 1 3 2 3 1-1 1-3 2 2 1-3 1 1 2 3 1 2 1 2 1-6 2 0 1 0 1 1 2 3 1-2 1 2 2-3 1 1 1 3 1-5 2 2 1 1 1-3 2 1 1-1 1 0 2 2 1-1 1-1 1 4 2-9 1 1 1-1 2 6 1-1 1-1 2-5 1-1 1 3 1 2 2 2 1 3 1-2 2-3 1 6 1-12 1 8 2 6 1-5 1-8 2 11 1-7 1-1 2 4 1 1 1-8 1 7 2 2 1-4 1-2 2-2 1 5 1 1 2-7 1 7 1-5 1 5 2-4 1-1 1 2 2-2 1 2 1 0 2-3 1-1 1 6 1-5 2 3 1-4 1 1 2 4 1 3 1-11 2 6 1-1 1 0 1 3 2-4 1 0 1 4 2-8 1 4 1 0 2 2 1 1 1-5 1 4 2-2 1-3"/>
<path d="M1570 457l-2 41-1 1-1-1 0 3-1-2-1 8-1-1 0 1-1-4-1 7 0-4-1 2-1 4-1-1 0-1-1 4-1 0 0-3-1 6-1 4-1-4-1 3 0-2-1 4-1 0-1 1-1 1-1 0 0 3-1 2-1 1-1-5-1 5-1 1-1 0-1 0-1-3-1 11-1-4-1 2-1-1-2 1-1 0-1 4-1-1-1-2-1 5-1-2-1 3-1 1-1-3-2 2-1 1-1 0-1 1-1 2-1-3-1 1-2 5-1 1-1-3-1 1-1 1-1 2-2 4-1-4-1 0-1 2-1 1-1 2-1-5-2 6-1-1-1-4-1 7-1-1-1 2-2-1-1-1-1 2-1 2-1-6-2 2-1 1-1 5-1-6-1-2-2 3-1 4-1 3-1-1-2-3-1 1-1 1-1 2-2 1-1 2-1-1-1-3-2 3-1 2-1-4-1 4-1 2-2-2-1-2-1 4-1-3-1 3-2 0-1 0-1 0-2 4-1-4-1 0-1 2-2 2-1-3-1-1-2 3-1 0-1-3-2 5-1-2-1 0-1 2-2 1-1-4-1 0-2-2-1 4-1 0-1-4-2 4-1 0-1 0-2-1-1 1-1 0-2 0-1 1-1 1-1-6-2 3-1 1-1-2-2 0-1-3-1 5-2 1-1 1-1-2-1 0-2 0-1-3-1 4-2 1-1-1-1 1-1 0-2 0-1 1-1 0-1-1-2 1-1 4-1-2-2 0-1-1-1 2-1-1-2-1-1 0-1 5-1-2-2 0-1-1-1 2-1-2-2 5-1-2-1 1-1-2-2 1-1 2-1 1-1-2-2 3-1-1-1 0-1 2-2 0-1-1-1 2-1 1-2-3-1 1-1 1-1-2-1 2-2 3-1-1-1 1-1 1-1-1-2 0-1 1-1 3-1-2-2 0-1 0-1 1-1 1-1-1-2 2-1 4-1-1-1-1-1 1-2 0-1 1-1-1-1 1-1 3-2 0-1 0-1 0-1-1-2 4-1-3-1-1-1 4-1 1-2 0-1 1-1 0-1-3-1 1-2 2-1 0-1 2-1 2-1-1-2 0-1-4-1 5-1-1-1-1-2 3-1 0-1 3-1-1-1-2-2 4-1-1-1 1-1 0-1 1-2 1-1-2-1 1-1 0-1 3-2 2-1 0-1-1-1-1-1 1-2 0-1 0-1 3-1-3-2 2-1 0-1 3-1 0-1-1-2-1-1 1-1 3-1 0-1 2-2-2-1 2-1 0-1-1-1 1-2-2-1 4-1 2-1-2-2-3-1 5-1 2-1-5-1 2-2 2-1 3-1-4-1-1-2 6-1-3-1 0-1 0-2 0-1-2-1 5-1 0-1-1-2 2-1 1-1-2-1 4-2-4-1 6-1-3-1-2-1 6-2-3-1 5-1-2-1 0-2 3-1-7-1 6-1-3-2 1-1 2-1 0-1-1-1 3-2 0-1-1-1 4-1-4-2-3-1 3-1 6-1-3-2 0-1 0-1 0-1 4-2-3-1 3-1-1-1 3-1 0-2 0-1 0-1-1-1 5-2-2-1 1-1-2-1-1-2 1-1 2-1-2-1 3-2-3-1 3-1 1-1 1-2-7-1 4-1 1-1 4-2-2-1 4-1-4-1 5-1-5-2-2-1 5-1 1-1 4-1-4-1 1-2 1-1 2-1-5-1 4-1 2-2-1-1 4-1-4-1-1-1 2-1 1-2-1-1 4-1-1-1 3-1 3-1 1-2-5-1 3-1 3-1-6-1 4-1-1-2 3-1 3-1-2-1 0-1 5-2-9-1 8-1-4-1 1-1 4-1-4-2 4-1-1-1 0-1-1-1 4-2-3-1 6-1-4-1-3-1 4-2 3-1-1-1 3-1-3-1 3-2 3-1-1-1 2-1-4-1 1-2 3-1-2-1 3-1-4-2 3-1 0-1 0-1 1-1 2-2 7-1-7-1 7-1-9-2 3-1 3-1-2-1 2-1 1-2-2-1 1-1-1-1 0-2 1-1 8-1-6-1 3-1 0-2-4-1 5-1 0-1-3-2 4-1-1-1-1-1 0-2 6-1-4-1 0-1 0-1 0-2 1-1 0-1 5-1-1-2-1-1-1-1-1-1 3-2 2-1 6-1-7-1 0-2-1-1 4-1-1-1-1-1 1-2-2-1 2-1 2-1 1-2 0-1-1-1-5-1 7-2 0-1 2-1-3-1-3-2 7-1 0-1-3-1 1-2 7-1-6-1-1-1 5-2-2-1 0-1 2-1-5-2 4-1 0-1 2-1 1-2-3-1 3-1 0-1 3-2-4-1 5-1 0-1-2-1-1-2 0-1 2-1 1-1 1-2 1-1-2-1 5-1-2-2 1-1-1-1-1-1 1-2-2-1 2-1 0-1-2-2 3-1 3-1 0-1 1-2-6-1 5-1 4-1-4-1-2-2 4-1 4-1-4-1 0-2 1-1 0-1-6-1 6-2 0-1 5-1-2-1-1-2-1-1 5-1 1-1-6-2 2-1 0-1 0-1-2-1 2-2 5-1 2-1-2-1-2-2-2-1 4-1 1-1-3-1 4-2 3-1-3-1-3-1 2-2 1-1 3-1 4-1-4-1 4-2 0-1 0-1-3-1 5-1-1-2 1-1 0-1-5-1 5-1-1-2 2-1 4-1-4-1 4-1 3-2-9-1 12-1-8-1-4-1 8-2 0-1-1-1 0-1 1-2-1-1 2-1 3-1-2-1 0-2 1-1 1-1 2-1 2-1-1-2-3-1 6-1-2-1-1-1 3-2-3-1 2-1-2-1 2-2 1-1-1-1 5-1-5-1 2-2 0-1-1-1 6-1 2-1-5-2 1-1 1-1 3-1-1-2-3-1 2-1-2-1 6-1-1-2 1-1-2-1 3-1-1-2-3-1 1-1 3-1-2-1 6-2-4-1 8-1-5-1 3-1-3-1 2-2-4-1 5-1 0-1-1-1-2-1 9-2-5-1 1-1 5-1-7-1 10-1-11-1 4-2-1-1 5-1-3-1 8-1-1-1 0-2-1-1 5-1 0-1-1-1-5-1 4-1 1-2 1-1 1-1 0-1 2-1-2-1 1-2 3-1 2-1-1-1 0-1 0-2 0-1 0-1 2-1 2-1 1-1-5-2-1-1 5-1 3-1 1-1 3-1-1-2-6-1 2-1 1-1 4-1-3-1 2-2-3-1 7-1-2-1 0-1 1-1-2-1 4-1 0-2 6-1-8-1 0-1 5-1 2-1 0-1 4-1-1-1-1-1 0-2 0-1 0-1 3-1 1-1 2-1-3-1 1-1 0-1 4-2-1-1-1-1 2-1 1-1 2-1-2-1-1-1 5-1 5-2-4-1-1-1 5-1-2-1 0-1 2-1 0-1-4-1 4-2 7-1-7-1 5-1-4-1 1-1 2-1-2-1 3-2 7-1-5-1 3-1-1-1-1-1 3-1 0-1 1-1-1-1 1-2-1-1 4-1-2-1 1-1 3-1 2-1 0-1-3-1 2-2 5-1-5-1 4-1-3-1 2-1-2-1 6-1-3-1-3-1 4-2 8-1-2-1-3-1-1-1 8-1-3-1 0-1 2-1 1-1 0-1 0-1 3-2-3-1 1-1 8-1-8-1-3-1 8-1-1-1 2-1 2-1-1-1 3-1 3-1-5-1 5-1 0-1-7-1 9-2-2-1 0-1 7-1-8-1 6-1-3-1 3-1 3-1-2-1 4-1-3-1 2-1 0-1 4-1-1-1-3-1 6-1 1-2-1-1 0-1 2-1-2-1 1-1-1-1 2-1 4-1 0-1 1-1 1-1 2-1-3-1 4-1-2-1 1-2 3-1 3-1-6-1 2-1 4-1 3-1-4-1 4-1 0-1 0-1 0-1 1-1-3-2 4-1 4-1-1-1 0-1-1-1 0-1 3-1 3-1-1-1 1-1-3-1 3-2 0-1 0-1 4-1-3-1 2-1 1-1 1-1 0-1 5-1-4-1 4-1-2-1 6-1-6-1 3-2-3-1 4-1 3-1 1-1-3-1 4-1-1-1 1-1 2-1 0-1 1-1 4-1-2-1-2-1 5-1-2-1 0-1 0-1 2-2-10 0-220 2-10 0-1 1-3 0-2 0 1 0-4 1 0 0-4 0 1 0-1 0-2 1 0 0-2 0-1 0-2 1-1 0-2 0-1 1 0 0-3 0-1 1-1 0-1 1-2 0-2 1 0 0-1 1-3 1-3 0 1 0-2 1-1 0-2 1 0 0-2 1-1 0-2 1-1 0-1 1 0 0-3 1-1 0-2 1 1 0-2 1-1 0-2 1-1 0-1 1-1 0-1 1-1 1-3 1-1 1-3 1-1 1-2 1-2 1 0 0-2 1-2 1 0 0-2 1 0 1-3 1-2 1 0 0-2 1 0 1-3 1 0 1-2 0-1 1 0 1-2 0-1 1-2 1-1 1 0 0-1 1-2 1-2 1-3 0 1 1-2 1-1 0-1 1-1 1 0 0-2 1-1 1-2 1-1 1-3 1-1 0-2 1-1 1 1 0-3 1 0 0-2 1-1 1-2 0-1 1 0 1-1 1-1 0-1 1 0 1-3 1 0 0-2 1 0 1-2 1 0 1-1 1-2 0-1 1-2 1 0 1-1 1-2 1-1 1 2 0-4 1 0 1 0 1-2 1-1 1 0 1 0 1-3 1 0 1 0 1-2 1-1 0-1 1 0 1 0 1-2 1-1 1-2 1-1 1 0 1-2 1 1 1-2 1 0 1-2 1 0 1-1 1-2 1 0 1 0 1-2 1 0 1-1 1 0 1-1 1-2 1 0 1-1 1 0 1-2 1-1 1 0 1-1 1-2 1 1 1-1 1-1 1-1 1-1 1-1 1 0 1-2 1 0 1-3 2 2 1-2 1-1 1 1 1-1 1-2 1-1 1 1 1-2 1 0 1-2 1 1 1-1 1-3 1 1 2-1 1-1 1-1 1 0 1-1 1-1 1 1 1-2 1-1 1 0 2 0 1-1 1-1 1 0 1-2 1 0 1-1 1-1 2 1 1-2 1 0 1 0 1-4 1 2 1 0 2-1 1-1 1-2 1 0 1 0 1 0 2 0 1-3 1 1 1 0 1-2 1-1 1 1 2 0 1-2 1 0 1 0 1-1 2-1 1-2 1-1 1 2 1-2 1 1 2-1 1 0 1-1 1-1 1 0 2-1 1 0 1-1 1 0 1-1 1-1 2 1 1-3 1 1 1-1 1 0 2-2 1 0 1 0 1 0 1-1 2-2 1 2 1-2 1 0 2-2 1 2 1-2 1 0 1 0 2 1 1-2 1 0 1-1 1-1 2-1 1 0 1-1 1-1 2 1 1-1 1-1 1 1 1 0 2 0 1-2 1 1 1-1 2-1 1 0 1-1 1-1 1 0 2 1 1 0 1-2 1 0 2-1 1-1 1 1 1-1 2-2 1 1 1 0 1 0 2-3 1 2 1-1 1 0 2 0 1-1 1 0 1-2 2 3 1-3 1 0 1 1 2 0 1-3 1 2 1 0 2 0 1-2 1 0 1-1 2 1 1-1 1-1 2-1 1 1 1 1 1-2 2 0 1 1 1-2 1 0 2 0 1 1 1 0 1-1 2-2 1 1 1-1 2 0 1-1 1 1 1-1 2 0 1 0 1 0 2 0 1-2 1 0 1 0 2 0 1 0 1 1 1-2 2 1 1-2 1 2 2 1 1-3 1 1 1-1 2 0 1-1 1 1 2-1 1-1 1 0 1 0 2 0 1-1 1 1 2 1 1 0 1-2 1-1 2 1 1-1 1 0 2-1 1 1 1-1 1 1 2-1 1 1 1-1 2 0 1-1 1 1 1-1 2 0 1-1 1 1 2 1 1-1 1-2 1 1 2 0 1-1 1 1 2 0 1-2 1 1 2 1 1-2 1 1 1-1 2 0 1 0 1 1 2-2 1 1 1 0 1-1 2 0 1 0 1 0 2-1 1 2 1-1 2-1 1 0 1 0 1-1 2 1 1 0 1-1 2 0 1 0 1 0 1-1 2 1 1-1 1 0 2 0 1-1 1 1 2 1 1 0 1 0 1 0 2-2 1-1 1 1 2 0 1 1 1-1 2 1 1-2 1 1 1 0 2-2 1 1 1 1 2-1 1-1 1 1 1-1 2 0 1 0 1 1 2-2 1 0 1 0 1 0 2 1 1-1 1 0 2-1 1 0 1-2 1 2 2-2 1 0 1 0 2 0 1 0 1 0 1-1 2 0 1 2 1-2 2-1 1 1 1 0 1-3 2 1 1-1 1 0 2 1 1 0 1 1 1-1 2-1 1-1 1 2 2 0 1-1 1-1 1-3 2 2 1-3 1 4 1-4 2 4 1-2 1 0 2 0 1-2 1 2 1 1 2 0 1-2 1 0 2 1 1-2 1 1 1-3 2 0 1 4 1-4 1-1 2 0 1 3 1-1 2-3 1 1 1-2 1 0 2 4 1-3 1 0 2 0 1-2 1-1 1 0 2 2 1 1 1 0 2-1 1 0 1 1 1-3 2 2 1-6 1 5 1 2 2-3 1-2 1 0 2-3 1 1 1 0 1 1 2 4 1-4 1 3 2-1 1 1 1-4 1-1 2 2 1-4 1 2 2-3 1 3 1 1 1-2 2 2 1-1 1 0 2 2 1-5 1 1 1 2 2-7 1 4 1 1 2-1 1-1 1-1 1-3 2 2 1 2 1 2 2-3 1-3 1 2 1-1 2-2 1 6 1-1 2-2 1-1 1-2 1 2 2 1 1-1 1 1 2-5 1 5 1 2 1-1 2-1 1-3 1-1 2 4 1-4 1 3 1-1 2 1 1-2 1-3 2 4 1-1 1-2 2 5 1-6 1 3 1-2 2 2 1 0 1 1 2-6 1 1 1 3 2-1 1 0 1 2 1 1 2-1 1-4 1 1 2-2 1 0 1-3 1 2 2-1 1 1 1 2 2 0 1 0 1-1 2 1 1 0 1 1 2 0 1-2 1 2 1-3 2 0 1 2 1 0 2-2 1 2 1 2 2-4 1-1 1 3 1-2 2 3 1-1 1-1 2 0 1 3 1 0 2-1 1-1 1-1 1 3 2-5 1 0 1 4 2-2 1-1 1 3 2-1 1 2 1-4 1 3 2-2 1 2 1 2 2 0 1-3 1-1 2-4 1 3 1 0 1-4 2 10 1-2 1-4 2-1 1 1 1 0 2-5 1 7 1-3 2 1 1 2 1-4 1 4 2 3 1-5 1 3 2-5 1 5 1-4 2-2 1 2 1 4 1-3 2 1 1 1 1 1 2-3 1 0 1 1 2-1 1 4 1-4 1 0 2-1 1 0 1 5 2-7 1 1 1 2 2-2 1 3 1 0 2 0 1-1 1 2 1-5 2 5 1-1 1-2 2 2 1 1 1 1 2-5 1 5 1-1 1-3 2-1 1 4 1 1 2-6 1 1 1-2 2 7 1-2 1-1 1 5 2-3 1-3 1 1 2-4 1 2 1 3 2-2 1 3 1-3 2-1 1 4 1-5 1 1 2 2 1 0 1-1 2-3 1 3 1 2 2 4 1-9 1 7 1-6 2 4 1 0 1 0 2-3 1 3 1 2 2 3 1-6 1-4 1 7 2-4 1 1 1 6 2-6 1 2 1-1 2-2 1 1 1-1 1 2 2-6 1 6 1 4 2-3 1-2 1-6 2 6 1 5 1-8 2 7 1-3 1 1 1 4 2-1 1-6 1-2 2 7 1-4 1-2 2 5 1-3 1 0 1-2 2 5 1-2 1-3 2 1 1 3 1 1 2-4 1-2 1 2 1-3 2 3 1 1 1-1 2 2 1-3 1 2 2 2 1-6 1 3 1-2 2 6 1-1 1-3 2-2 1 1 1-3 2 3 1 2 1-2 1 1 2-3 1-1 1 1 2-2 1 7 1-5 2 3 1-1 1 4 1-9 2 5 1 0 1-4 2 5 1-3 1 2 2-3 1 2 1 2 1-3 2-4 1 5 1-5 2 1 1 2 1 0 2 0 1-3 1 0 1 2 2 0 1 2 1-1 2-1 1 5 1-4 2 2 1-3 1-2 1 3 2 0 1 1 1-1 2-2 1 4 1-2 2-6 1 9 1-5 1-2 2 0 1 3 1 0 2-3 1 2 1-2 2 2 1-5 1 8 1-1 2 1 1-11 1 10 2-3 1-2 1 1 2-1 1 5 1-1 1-3 2-2 1-4"/>
<path d="M1570 466l-2 31-1 2-1 6 0-3-1-2-1 3-1 2 0-3-1 7-1-1-1 2-1 3-1-4 0 2-1 6-1-1-1 2-1 1-1-1-1 7 0-3-1-1-1 3-1 5-1-2-1 2 0-4-1 3-1 2-1 0-1 1-1 0-1-1-1 6-1 0-1-2-1 0-1 1-1 1-2-1-1 7-1 0-1-4-1 3-1 2-1 0-1 0-1 1-1-1-2 2-1 0-1 1-1 2-1-2-1 3-1 0-2 3-1-4-1 5-1-2-1-2-1 3-2 1-1 6-1-7-1 1-1 6-1-5-2 1-1 0-1 5-1-5-1 2-1-1-2 5-1 0-1-1-1 5-1-3-2 0-1 0-1 0-1 3-1-1-2-2-1 3-1-1-1-2-2 3-1 2-1-2-2 2-1 3-1-2-1 2-2-5-1 2-1 2-2 0-1 2-1-2-1-2-2 4-1-2-1 3-2-6-1 5-1-4-2 1-1 1-1 2-1-1-2-1-1 2-1-1-2-1-1 0-1 3-2-3-1-1-1 1-1 0-2-3-1 2-1 2-2-1-1-1-1 5-2-4-1 1-1-2-1 1-2 1-1 0-1-2-2 1-1 2-1 0-2-3-1 5-1-3-1-1-2 3-1 0-1-1-2 0-1-1-1 0-1-2-2 5-1 0-1 0-1-3-2 2-1 3-1 0-1-2-2 3-1 1-1-2-1 1-2 0-1 1-1-1-1 4-1 0-2-3-1 4-1-2-1 2-1-1-2-1-1 2-1 2-1-1-2 3-1 0-1-1-1 0-1 4-2-2-1-1-1 4-1-3-1 0-2 4-1 0-1-2-1 1-1 2-2 0-1 0-1 0-1 2-2-3-1 3-1 1-1 0-1 2-2-3-1 3-1 1-1-3-1 3-2 1-1 2-1-1-1-1-1 4-2-3-1 0-1 0-1 3-2-1-1 3-1-2-1 0-1 2-2-2-1 3-1-2-1 3-1-1-2-1-1 0-1 0-1 6-1-3-2 2-1 2-1-1-1 1-2 1-1-2-1-2-1 5-1-1-2 1-1 2-1-1-1 2-1 0-2 0-1 0-1 0-1 0-1 1-2-1-1 3-1-1-1 0-1 0-2 0-1 0-1 3-1-2-1 2-2 0-1 1-1 2-1 0-1 0-2-3-1 5-1 2-1-2-1-1-2 2-1 0-1-1-1 0-2 4-1 1-1-1-1-1-1 1-2 4-1-2-1 0-1 5-1-3-2 2-1 0-1 1-1 0-2-2-1 3-1-1-1 0-1 1-2 1-1 1-1-3-1 5-2-3-1 3-1-1-1 1-1-1-2 0-1 3-1-1-1 2-2-3-1 0-1 5-1-1-2 0-1 1-1 2-1-1-1-4-2 5-1-2-1 0-1 4-2 0-1-2-1 2-1 2-2-2-1 0-1 1-1 1-1 0-2 2-1 1-1-1-1-2-2 3-1-4-1 4-1-2-2 0-1 0-1 6-1-3-2 1-1 2-1 2-1-1-1-2-2 4-1-5-1 2-1-1-2 4-1 0-1-3-1 0-2 5-1-1-1-1-2-2-1 4-1 0-1 0-2-2-1 8-1-6-1-1-1 1-2 2-1 2-1 0-1-1-2 4-1 1-1-5-1 7-1-9-2 7-1 1-1-3-1 1-1 5-2-3-1 1-1-3-1 7-1-2-1 0-2 1-1 1-1-4-1 4-1 7-2-7-1 1-1 5-1-2-1 0-1-3-2 6-1-3-1 5-1-5-1 2-2 3-1-6-1 1-1 3-1-2-1 6-2 3-1-2-1 2-1 0-1-5-2 5-1 1-1-2-1 2-1 2-2 1-1 1-1 3-1-10-1 7-2 5-1-5-1-1-1 4-1-4-2 4-1 1-1-2-1 0-1 2-2 5-1-3-1 0-1 1-1 5-2-4-1-3-1 2-1-4-2 3-1 1-1 6-1-3-1 2-2-1-1-3-1 7-1-4-2 1-1-4-1 7-1-2-2 0-1 0-1 6-1-3-1-9-2 10-1-3-1 0-1-1-2 3-1 0-1 0-1 2-2 0-1 0-1 2-1-1-1 5-2-4-1 2-1 0-1 1-2 4-1-1-1 1-1-4-2 7-1-6-1-3-1 4-1 3-2 2-1-8-1 7-1-3-2 1-1 2-1-2-1 6-2-6-1 3-1 4-1-1-2 0-1 1-1-1-1-3-2 3-1 2-1 2-1-3-2 9-1-7-1 4-1-1-1-2-2-4-1 2-1 5-1 0-2-1-1-6-1 4-1 1-2-1-1 1-1-2-1 2-2 4-1 2-1-1-1-3-2 0-1 7-1-8-1 5-2 1-1 1-1 0-1-3-2 4-1-4-1 4-1-3-1 9-2-8-1 4-1-3-1 2-2 3-1 3-1-4-1 5-2-3-1 0-1 4-1-1-2-5-1 7-1-1-1 3-2-5-1 2-1 0-1-1-1 1-2 3-1-2-1 2-1 1-2 3-1-9-1 4-1 1-2-1-1 1-1 3-1-2-2 2-1 2-1-1-1-4-1 9-2-9-1 4-1 6-1-4-2 2-1-1-1 0-1 1-1 4-2-2-1 1-1 3-1-2-1 1-2-4-1 0-1 2-1 0-1 3-2 5-1 1-1-4-1-3-1 4-2-3-1 6-1 4-1-6-1 0-2 2-1 0-1 1-1-4-1 1-2 4-1-3-1 5-1 0-2-2-1 2-1-3-1 2-1-1-2 4-1-1-1 1-1 2-1 1-2 1-1-3-1 3-1 1-1-2-2 0-1 3-1 6-1-2-2-7-1 5-1 4-1-2-1-1-2 0-1 1-1-4-1 8-1-5-2 4-1 3-1-5-1 6-2-5-1-2-1 5-1 0-1-3-2 0-1 4-1 7-1-5-1 6-2-6-1 5-1-4-1 2-1-3-2 4-1 3-1-4-1 0-1 4-2-6-1 5-1-3-1 4-1 1-1-3-2 7-1-4-1 0-1 3-1-5-1 2-1 5-2 5-1-2-1 0-1-1-1-1-1 2-1 2-2-3-1 5-1-3-1 6-1-2-1 1-2-5-1 9-1-2-1-2-1 3-1-1-2 4-1-3-1-1-1 4-1-5-2 4-1 3-1-3-1-1-1 7-1-5-2 5-1-3-1-1-1 5-1-1-1-1-2 3-1-1-1 5-1-9-1 11-1-4-1-1-2 2-1 0-1 3-1 3-1-3-1 3-1 2-1-4-2 4-1-3-1 3-1-3-1 2-1 3-1-3-1 2-1 1-2-1-1 0-1 3-1 5-1 0-1-3-1 1-1 5-1-3-1 6-2-2-1-8-1 9-1-7-1 7-1-4-1 4-1 3-2 2-1-4-1 2-1 3-1-3-1 2-1 2-1-2-1 0-2 4-1 3-1 1-1-6-1-2-1-2-1 9-1 0-1 1-2 2-1 0-1 4-1-6-1 5-1 1-1-1-1-3-1 2-2 4-1-4-1 4-1-1-1 5-1-3-1 0-1 4-1-2-2 1-1-1-1 6-1-2-1 2-1-2-1 6-1-3-1 0-1 4-2-2-1 1-1 0-1-1-1-1-1 7-1-1-1 1-1 2-1-4-1 4-1 2-2-6-1 9-1-3-1 1-1 2-1-1-1 3-1 3-1-4-1 3-1-2-1 5-1 0-1-3-1 0-1 4-1-1-1 4-2-2-1 1-1-1-1 1-1 4-1-3-1-1-1 3-1 3-1 2-1-2-1 0-1 3-1 4-1-4-1 3-1-1-2 3-1-3-1 5-1-3-1 1-1-1-1 4-1-1-1 4-1-1-1 2-1 1-1-2-1 0-1 0-1 3-1 1-2-3-1 6-1 1-1-1-1 4-1-6-1 5-1 4-1-6-1 5-1-1-1 3-1 1-2 1-1 2-1-4-1 2-1 6-1-5-1 6-1-5-1 1-1 0-1-3-1 11-2-8-1 4-1 4-1-1-1 1-1-3-1 3-1-2-1 5-1 1-1-5-1 6-1-3-1 2-1 2-2 0-1 1-1 4-1-5-1-3-1 7-1 2-1 2-1-2-1 0-1 4-1-3-1 4-1 2-1 1-1-5-1 3-1 0-1 3-2-10 1-220 1-10 0-3 1-2 0-2 0-1 0-1 0-2 1-1 0-2 0-1 0-1 1-3 0 1 0-2 0-2 1 0 0-3 1-2 0-1 0-3 1 0 0-1 1-1 0-2 0-1 1-2 1-2 0-1 1-1 0 1 0-4 1-1 1-1 0-1 1-2 0-1 1-2 1-1 0-1 1-1 0-1 1-1 0-3 1 0 0-2 1-2 1-3 1 0 1-3 0-2 1 1 0-1 1-2 1-1 1-2 0-2 1 0 1-2 0-2 1 1 1-2 0-2 1-1 1 0 0-1 1-2 1 1 0-2 1-2 1-1 0-1 1-2 1-1 1 0 0-3 1 1 1-1 0-2 1 0 1-3 0-1 1-1 1 0 0-2 1 1 0-4 1-1 1-1 1-2 1-1 0-2 1 0 0-2 1-1 1-1 0 1 1-4 1 1 0-2 1-1 1-2 0-1 1 1 1-3 1-3 1 0 1-2 1-2 1-2 1-1 1 0 0-3 1 1 1-1 1-2 1 0 1-2 1-2 1 0 1-3 1 0 1 0 1-2 0-1 1 1 1-3 1-1 1 0 1 1 1-3 1-1 1-1 1 0 1-2 1 1 1-3 0 1 1-4 1 2 1-2 1-1 1-1 1 0 1-3 1 2 1-3 1 1 1-1 1-2 1 0 1-2 1 0 1-1 1-2 1-2 1 3 1-3 1 0 1-1 1-1 1 0 1-2 1 0 1-1 1-1 1 0 1-1 1-2 1 0 1-1 1-2 1 0 1 0 1-1 1-1 1-1 1 0 1-1 1-1 2-1 1-2 1 0 1 0 1-1 1-3 1 1 1-1 1-1 1 0 1-1 1-1 1-2 1 1 1-2 2 1 1-1 1-2 1 1 1-1 1-1 1-1 1 1 1-2 2-1 1-2 1 0 1 0 1 0 1-1 1-1 1 1 2-3 1 1 1-1 1-1 1 0 1-1 1 0 2-1 1-1 1 0 1-1 1-1 1 0 1-1 2 0 1 0 1-1 1-1 1-1 1-1 2 1 1-1 1-1 1 0 1-2 2 1 1-1 1-2 1-1 1 1 1-2 2 2 1-1 1 0 1-2 1-1 2 0 1-1 1-1 1 1 1-1 2 0 1 0 1-2 1 1 1-1 2-1 1 0 1-1 1-1 1-1 2 0 1-1 1 1 1-1 1 0 2-1 1 1 1-2 1 0 1-1 2-1 1 0 1 0 1-1 1 0 2 1 1-1 1-1 1-2 2 0 1-1 1 0 1 1 1-2 2 0 1-1 1 0 1 0 2 0 1-1 1-1 1-1 1 3 2-2 1 0 1-1 1 1 2-1 1-1 1-1 1 0 2-1 1 1 1-1 1-2 2 2 1-2 1 0 1-1 2-1 1 0 1 1 1-1 2-1 1 0 1 0 1 1 2-1 1-2 1 0 1 2 2-1 1 0 1-1 2-1 1-1 1-1 1 2 2 0 1 0 1-2 1 0 2 0 1 1 1-2 2-1 1 2 1-1 1-1 2 0 1 0 1 0 1 0 2-1 1 0 1 0 2-1 1-1 1 0 1 2 2-2 1-2 1 2 1 0 2 0 1-2 1 1 2 0 1 0 1-1 1-1 2 0 1 1 1 0 2-1 1-1 1 0 1-1 2 1 1 0 1-2 2 1 1 0 1 1 1-2 2 0 1 1 1 0 2-2 1 0 1 0 1 0 2-1 1 0 1 0 2 0 1 1 1-1 1 1 2-1 1 0 1-1 2 2 1-2 1 1 1 0 2-1 1-1 1 1 2-1 1 0 1 0 2-1 1-1 1 2 1-1 2 0 1 0 1 0 2 1 1 0 1-1 1 0 2 1 1-3 1 1 2 0 1 0 1-2 2 2 1 0 1-1 1 0 2 0 1 0 1 0 2 0 1 1 1-2 2 0 1 1 1 0 1-1 2 0 1 0 1 0 2 0 1-1 1 1 2 0 1 0 1-2 1 2 2-3 1 2 1 0 2 0 1 0 1-2 2 1 1 1 1-1 1-1 2 1 1-1 1-1 2 1 1-1 1 1 1 1 2-1 1 0 1-1 2 1 1-1 1 0 1 0 2-1 1 0 1 0 2 1 1-2 1-1 2 2 1 0 1-1 1 0 2 0 1-1 1 0 2 0 1 1 1 0 1-3 2 1 1 1 1-2 1 0 2 0 1 0 1-2 2 3 1-2 1 1 1-2 2 0 1 0 1 0 2 0 1-1 1 0 1-2 2 2 1-2 1 3 2 0 1 0 1-2 1-2 2 0 1 0 1 1 1 0 2-3 1 1 1 2 2-4 1 2 1 1 1-2 2 0 1 0 1-1 2-1 1 4 1-3 1 1 2-2 1 2 1 0 1-4 2 3 1-2 1 0 2-1 1-2 1 3 1 1 2-3 1 0 1 2 2-1 1-3 1 1 1 1 2-4 1 2 1 1 1 2 2-3 1 2 1-6 2 3 1 1 1 2 1-2 2-3 1 1 1 0 2-1 1-2 1-2 1 2 2 3 1-2 1-2 2 0 1 1 1 2 1-2 2-5 1 8 1-4 2 1 1 2 1-2 1-1 2-1 1-2 1-2 2 4 1-1 1-1 1 5 2-6 1 2 1-2 2-4 1 5 1-2 1 1 2 1 1 3 1-8 2 5 1-3 1 2 1 0 2 4 1-7 1-1 2 4 1-2 1 2 1-1 2-4 1 4 1 0 2-1 1-4 1 3 1 2 2-3 1 2 1-3 2 1 1 4 1-5 2 1 1-2 1 4 1-3 2 3 1-2 1 1 2-1 1 2 1-6 2 1 1 8 1-7 1 0 2 0 1 2 1-2 2-2 1 0 1 4 2-4 1 0 1 0 1 4 2 1 1-4 1-1 2 4 1-6 1 3 2 1 1-6 1 8 1-4 2 3 1-7 1 5 2 1 1 0 1-5 2 1 1 6 1-2 1-1 2-1 1-2 1 1 2 1 1 1 1-2 2 2 1-4 1 1 1 2 2-3 1 5 1 0 2-2 1 1 1-5 2 4 1-1 1-1 1-1 2 2 1 2 1-2 2 0 1 2 1 1 2-7 1 7 1-4 2 2 1 0 1 0 1 1 2-1 1-1 1 0 2 4 1-7 1 2 2 4 1-2 1 1 1-2 2 2 1 0 1-1 2 2 1-4 1-3 2 0 1 4 1 1 1-4 2 4 1 1 1-1 2 1 1-2 1-1 2 2 1 0 1-4 1 1 2 4 1-3 1 1 2 0 1 2 1-1 2-3 1 2 1-3 2 3 1-2 1 4 1-3 2 0 1 0 1 3 2-5 1 4 1-2 2 5 1-6 1-2 1 3 2 2 1-2 1 2 2-2 1 1 1 1 2 2 1-7 1 2 1-1 2 3 1-1 1-3 2 6 1-1 1-1 2 1 1-1 1 6 2-1 1-3 1-7 1 7 2 3 1-6 1-1 2 6 1-4 1-2 2 4 1 0 1-3 1 2 2-3 1 0 1 4 2-4 1 1 1 2 2-1 1-3 1 3 1-1 2 0 1 4 1-1 2-3 1 3 1 2 2-4 1 3 1-4 2 4 1-4 1 1 1 1 2-1 1-1 1 0 2 1 1 1 1 0 2-2 1 3 1-1 1 0 2-5 1 5 1-2 2 4 1-2 1-2 2 3 1-7 1 0 1 10 2-4 1 0 1-2 2 0 1 2 1-8 2 6 1 0 1 0 1 0 2-1 1 3 1 0 2-2 1 0 1 2 2-5 1 3 1-3 1 3 2 2 1-5 1 2 2-1 1-2 1-1 2 9 1-4 1 2 1-3 2-3 1 5 1-4 2 2 1 1 1-4 2 0 1 4 1-4 1 1 2 0 1-5 1 6 2 0 1-3 1 6 2-6 1 3 1-3 1-1 2 2 1-4 1 0 2 4 1-1 1 3 2-4 1 2 1 2 1 0 2 2 1-6 1-4 2 7 1-2 1 1 2-3 1 4 1-4 1 2 2-1 1 1 1-1 2-2 1 3 1 1 2-4 1-2 1 10 1-6 2 0 1 3 1-1 2 2 1-4 1 0 2-2 1-4 1 3 1-1 2-2 1 7 1-3 2 0 1 0 1 3 2-4 1 0 1 1 1-4 2-2 1 6"/>
<path d="M1566 178l-1 3 0 3 0 2 0 3 0 2 0 3 0 2-1 3 0 2 0 3 0 2 0 3 0 2 0 3-1 2 0 3 0 2 0 3 0 3 0 2 0 3-1 2 0 3 0 2 0 3 0 2 0 3 0 2 0 3 0 2-1 3 0 2 0 3 0 3 0 2 0 3 0 2 0 3 0 2 0 3-1 2 0 3 0 2 0 3 0 2 0 3 0 2 0 3 0 2-1 3 0 3 0 2 0 3 0 2-1 3 0 2 0 3 0 2 0 3-1 2 0 3 0 2 0 3-1 2 0 3 0 2 0 3-1 2 0 3 0 2-1 3 0 3 0 2-1 3 0 2 0 3-1 2 0 3 0 2-1 3 0 2 0 3-1 2 0 3-1 2 0 3 0 2-1 3 0 2-1 3 0 2-1 3 0 2-1 3 0 2-1 3 0 2-1 3 0 2-1 2 0 3-1 2 0 3-1 2 0 3-1 2-1 3-1 2 0 2-1 3-1 2 0 3-1 2-1 3-1 2-1 2-1 3-1 2-1 2-1 3-1 2-1 2-2 2-1 3-1 2-1 2-2 2-1 2-1 3-1 2-2 2-1 2-1 2-2 2-1 2-2 2-2 2-1 2-2 2-2 2-2 1-2 2-1 2-2 2-2 1-2 2" stroke-width="3.2"/>
<path d="M1292 607v-19M1298 607v-19M1305 607v-19M1313 607v-19M1320 607v-19M1430 575v15M1440 575v15M1450 575v15M1456 575v15M686 570v20M628 590v20M594 585v28M600 583v26M606 582v24M809 786v-15M552 592v-5M490 706v-5" stroke-width="4"/>
</g>
<g fill="#000" stroke="none" shape-rendering="crispEdges">
<path d="M1029 142h4v139h-4zM1023 280h17l-6 32h-5z"/>
<path d="M1179 1036.5h4v-120h-4zM1172 918h17l-6-32h-5z"/>
</g>
<g fill="none" stroke="#000" stroke-linejoin="round" stroke-linecap="round" shape-rendering="crispEdges">
<path d="M1660 1967l-1 2-2 2-3 1-2 1-2 1-2 0-3 1-3 0-2 2-2 1-3 1-2 1-2 0-3 1-2 1-2 0-3 1-2 1-2 2-2-2-3 3-3 0-2 1-3 0-2 2-2-1-3 0-3 1-2 2-2-1-3 3-2 1-2 0-3-1-2 3-3-1-2 0-3 1-3 1-2 1-2 1-2 0-3 1-2 1-3 1-2 0-2 0-3 2-2 0-2 0-3 1-2-1-3 2-2 0-3 1-2 1-3-1-2 2-3 0-2 0-3 1-2 1-2-1-3 2-2 0-3 0-3 1-2 0-3 1-2-1-2 0-3 2-2 0-3 1-2 0-2 0-3 0-3 1-2-1-3 2-2-1-2 1-3 1-3 0-2 1-3 0-2 0-2 0-3 0-2 1-3 0-2 0-3 1-3 0-2 0-3 0-2 1-3 0-1 1-3-1-2 1-3 2-3-2-2 2-3-1-2 2-3 0-2 1-3 0-2 0-2 0-3 2-3 0-2 1-3-1-2 1-3 0-2 1-2 0-3 1-3 0-1 1-3 0-2 0-2 1-4 1-2 0-2 0-3 2-2 0-2 0-3 1-2 0-3 2-2 0-3-1-2 2-3 1-2 0-2 0-3 2-2 0-3 0-3 2-2 0-3 0-2 1-2 1-2 1-2 0-3 1-2 1-3 1-3 1-1 2-3 0-2 1-3 0-2 1-2 1-2 1-3 2-3 0-1 1-3 1-2 2-2 0-3 3-2-1-2 2-2 1-3 2-2 1-2 0-2 1-2 3-2 0-2 2-3 0-2 2-2 2-3 1-2 0-2 1-2 2-2 2-1 1-2 3-1 2-2 2-1 2-1 2-3 2-1 1-1 4-2 1-1 4-1-1-2 2-1 4-1 1-2 3-1 1-1 3-1 2-2 2-1 2-2 4-2 3-1 2-2 2 0 2-2 1 0 3-2 2-1 3-1 2-2 3 0 3-1 1-1 2-2 2 0 2-1 4-2 2-1 2 0 2-1 4-1 1-2 1 0 3-1 3-1 3-1 2-1 1-1 3-1 2-1 2 0 3-2 2 0 3-1 2-1 3-1 2-1 2-1 3-1 1 0 3-2 3 0 2-1 3-1 2-1 3-1 2 0 2-1 2-1 2-1 3-1 3 0 1-1 3-1 3-1 1-1 4-1 1-1 3-1 2-1 2 0 2-1 4-1 0-1 3 0 3-2 3 0 1-1 4-1 1-1 3 0 2-1 1-1 4 0 2-1 3-1 2-1 3 0 2-1 2-1 5-1 1-1 3-1 1 0 3-1 3 0 1-2 3 1 3-1 2-2 2 0 2 0 4-1 1-1 3 0 2-1 4-1 0 0 4-1 1 0 4-1 2-1 2-1 3 0 2-1 2 0 2-1 4 0 2-2 3 0 2 0 3-1 2-1 4-1 1 0 3 0 1-1 3-1 1-1 2 0 4-1 2-1 2-1 3 0 2-1 3-1 1-1 4-1 2-1 2-1 3-1 1 0 3-2 2-1 3-1 2-1 1 0 3-1 2-1 3-1 3 0 2-2 1-1 4 0 1-2 3-1 2-1 3 0 2-1 2-2 4 0 1-2 3 0 2-2 3 0 1-1 3-2 2 0 2-2 2-1 4-1 1 0 3-2 2-1 1-1 4-1 1-1 2-2 3 0 2-2 3-1 1-1 2-2 3-1 2-1 3-3 0-1 3-1 2-2 1-2 3-2 0-2 2-2 2-2 0-3 2-2 1-2 1-3 0-3 0-2-1-2 2-3-2-2-1-3-1-2 0-2-1-2-1-2-1-3-1-2-3-1-2-3-1-1-1-3-3-1-1-3-1-2-2-2-2-1-1-2-3-2-1-2-2-1-1-2-3-2-1 0-2-3-2-1-2-2-3-1-2-1-1-3-3-1-1-1-2-2-2-2-2-1-3-2-1-1-2-2-2-3-2-1 0-2-3-1-2-2-1-2-2-2-2-2-1-1-2-2-3-2-2-2 0-2-2-1-2-2-2-2-2-1-1-2-3-2-2-2-1-1-2-2 0-2-3-2-3-2 0-1-3-2-1-2-2-1-2-2-2-2-1-2-2-2-1-2-3-2-1-1-2-2-1-3-2-1-1-2-2-2 0-2-2-2-1-2-2-3-4-1 1-3-2-2-1-2-3-2 0-2-1-2-2-2-1-3-1-2-1-2-2-3-1-2-1-2-1-2-1-3-2-1-1-2-1-3 0-2-3-2 0-3-1-2-2-2-1-2-1-3-1-1-1-4-2-1-1-2-1-2-1-3 0-2-1-2-3-3 1-2-3-2-1-2 0-2-2-2-1-3 0-2-2-3 0-2-2-3-1-2 0-2-1-3-2-1-1-2 0-3-1-2 0-3-2-2-1-3-1-2 0-3-1-2-2-2 0-2-2-3 1-2-1-2-1-3 0-2-3-3 1-2-1-3 0-2 0-2-1-3-2-3 0-2-1-2 1-3-2-2 0-3 0-2-1-2 0-3-1-3 0-2-1-3 0-2 0-2-1-3-1-3-1-2 1-2-1-3 0-2 1-3-2-2-2-3 2-3 0-2 0-2-1-3 0-2 0-3-1-3-1-2 2-2-1-3-1-2 1-3-1-2-1-3 0-2 0-3 0-3-1-2 2-2-2-3 0-3 0-2 0-2-1-2 0-3 1-3-1-2 1-3-1-3-1-2 1-2 0-2-1-3-1-3 1-2 0-2-1-3 0-3 0-3 0-2 1-2-1-2 2-4-1-2-1-3-1-2 0-2 0-3 0-2 0-3 1-2-1-3 0-3 0-2 0-2 0-3-1 0-37 1-3 1-4 1 0 2-2 1-2 2-2 2-3 2 0 2-1 2-2 2-2 3 0 2-2 1-1 3-1 3-2 2 0 3 0 2-2 2-1 2-2 2 0 3-2 2-1 2 0 3 0 2-2 3 1 2-2 2-1 2-2 3 0 2-1 3 0 2-1 3-1 2-1 2 1 3-2 2 0 3-1 1-1 4-2 1 1 3-1 2 0 3-2 2 0 3-1 2-1 2-1 3 1 2-2 3 0 2-1 3 0 2-1 3 0 2-2 2 0 3 0 2-1 3-1 2 0 3 0 2-1 3 0 2 1 2-2 3-1 3 0 1-1 3 1 3-2 2 0 3-1 2 1 2-1 3-1 2-1 3 0 3 0 2-1 2-1 3 0 3 0 2 0 2-1 2-1 3-1 3 1 3-1 1 0 3-3 2 2 4 0 1 0 3-1 2-2 2-1 3 0 2 0 3-1 2-1 3 0 2 0 3-1 2 0 3-1 2 1 3-2 2 0 3 1 3-2 2 0 2-1 3 0 2-1 2 1 3-2 3 1 2-1 2 0 3-2 3 0 1 0 3 0 3-1 2-1 2 1 3-2 2-1 3-1 2-1 2 1 3-2 3 1 2-1 2 0 3-2 2-1 3 0 1-1 4 1 2-2 2 0 3-1 3 0 2-1 2 0 2-2 3 0 2-1 3-1 2 0 3-1 2 0 2 0 3-2 2 0 2 0 2-2 3-2 3-1 2 0 2 0 3-1 2-1 2-2 2-1 3-1 2-1 2-1 2-1 3-1 2-1 2-2 2-1 3-1 1-2 3-1 2-2 2 0 2-2 1-2 3 0 2-3 2-2 1-1 3 0 2-3 2-2 2-1 2-3 1-1 2-1 1-2 2-2 2-1 2-2 3-2 0-2 2-1 2-3 1-2 1-1 3-2 1-3 0-2 3-2 1-2 2-3 1-1 1-2 1-2 1-3 2-3 1 0 1-2 1-4 2-3 0-1 2-2 1-2 1-2 1-3 1-2 2-2 0-2 2-3 1-2 1-3 1-1 1-4 1-2 1-1 1-3 1-2 1-3 1-1 1-3 1-2 1-3 1-2 1-2 0-2 2-4 0-1 1-4 1-1 1-2 1-4 1-1 0-3 0-3 2-2 1-2 1-3 0-1 2-3 0-2 1-2 1-2 1-3 0-3 1-2 1-3 1-2 0-2 1-2 2-2 0-4 1-3 1-2 1-3 0-1 2-1 1-2 0-4 1-2 1-3 1-1 1-4 1-2 1-2 1-3 1-2 0-2 1-2 1-2 2-2 0-2 1-3 0-3 1-2 1-3 0-2 1-2 1-3 0-2 1-3 1-3 0-1 0-3 2-2 0-3 1-2 0-3 1-3 1-2 1-2 0-2 0-3 2-2 0-2 1-3 1-2 1-2 1-4 0-1 1-3 0-3 1-3 1-1 1-3 0-1 1-4 0-3 1-1 2-2-1-3 1-3 1-3 1-1 0-3 1-2 1-2 1-2 1-4 0-2 1-2 1-1 1-3 1-3 1-3 0-1 2-4 1-2 0-1 1-4 1-2 1-1 1-3 1-3 1-2 0-2 1-3 1 0 1-5 1-2 1-1 0-4 1-1 1-4 0-2 2-1 1-3 0-2 2-2 1-2 1-4 1-2 1-2 1-2 0-3 1-2 1-2 2-2 0-4 1 1 1-3 2-3 1-3 1-1 2-2 2-3 0-3 2-1 1-2 1-3 2-2 2-1 1-2 2-2 1-2 2-2 1-2 3-3 1 0 2-2 2-1 3-1 2-1 2 0 3-1 2-1 3 1 3 0 2 0 3 0 2 0 3 1 2 0 2 0 3 2 2 0 2 2 2 1 2 2 3 2 2 1 2 0 1 2 3 3 1 1 3 2 2 1 1 2 3 1 2 2 1 1 2 2 2 1 2 2 1 3 2 2 2 1 2 2 2 2 2 1 1 2 2 1 2 2 2 3 1 2 2 1 1 0 3 4 2 1 0 3 3 1 1 2 2 2 1 2 1 2 2 1 3 2 1 3 2 2 2 0 1 3 2 1 2 2 1 2 2 3 3 2 1 0 2 2 1 2 2 1 2 3 2 1 1 1 2 3 1 1 3 2 1 3 2 1 2 1 2 2 1 2 3 3 1 1 3 1 1 2 3 0 1 2 2 2 2 1 2 4 2 0 2 2 1 2 3 1 1 2 2 1 3 3 1 2 2 1 2 1 2 1 2 1 1 1 2 3 3 1 2 1 2 2 2 1 3 2 2 2 2 1 1 0 3 2 2 1 2 2 3 1 2 2 2 0 2 1 2 1 3 1 2 1 2 2 2 0 2 2 4 0 2 0 2 2 2 1 2 1 4 0 1 3 3 0 2 1 3 2 2 1 2-1 1 3 3 0 3 2 2 1 2 1 2 0 3 3 2 0 2 1 3 1 1 1 3 1 2 0 3 2 2 1 2 0 2 1 2 1 3 2 3 0 2 0 2 0 2 1 3 2 2 0 3 2 1 1 4 0 2 1 2 2 2 0 2 2 3 1 3 1 1 0 2 2 3 0 3 1 2 1 2 2 2-1 3 2 2 1 3 0 2 1 3 0 2 1 3 1 2 1 2-1 3 2 2 0 3 1 2 0 2 1 4 1 1 0 3 0 2 0 3 1 2 1 2 1 3 0 3-1 2 1 2 1 3 0 2 1 3 0 3 0 2 1 2 0 3 1 2 1 3 1 2 1 3-1 2 1 2 0 3 1 2 1 3-1 2 1 3 0 3 0 1 1 3 1 2-1 3 1 3 0 2 0 3 1 2 1 3 1 2 0 2 1 3-1 3 1 2 1 2-1 3 0 2 0" stroke-width="5.6"/>
<path d="M1660 1968l-1 4-2 1-3 1-2 0-2 2-2 0-3 1-3 0-2 1-2 1-3 1-2 2-2-1-3 2-2 0-2 1-3 0-2 1-2 3-2-1-3 1-3 1-2 0-3 1-2 1-2-1-3 1-3 1-2 1-2 1-3 1-2 0-2 1-3 0-2 1-3 1-2 0-3 1-3 2-2 0-2-1-2 1-3 2-2-1-3 2-2 0-2 1-3 1-2 0-2 0-3 1-2-1-3 3-2 0-3 0-2 0-3 1-2 1-3 1-2 1-3-1-2 2-2-1-3 1-2 0-3 0-3 2-2-1-3 1-2 0-2 1-3 1-2-1-3 2-2-1-2 0-3 0-3 2-2 0-3 0-2 0-2 1-3 1-3 0-2-1-3 1-2 0-2 0-3 1-2-1-3 2-2-1-3 1-3 0-2 0-3 1-2 1-3-1-1 1-3 0-2 0-3 2-3 0-2 1-3-1-2 1-3-1-2 3-3 0-2-1-2 1-3 2-3 0-2 0-3 0-2 0-3 1-2 1-2 0-3 1-3 0-1 0-3 2-2-1-2-1-4 1-2 2-2 0-3 2-2-1-2 1-3 0-2 1-3 2-2-1-3 1-2 1-3 0-2 0-2 1-3 1-2 0-3 1-3 1-2 1-3 0-2 1-2 1-2 1-2-1-3 2-2 1-3 0-3 1-1 2-3 1-2 0-3 1-2 1-2 1-2 0-3 3-3 0-1 1-3 1-2 1-2 0-3 3-2-1-2 2-2 2-3 1-2 1-2 0-2 2-2 2-2 1-2 2-3-1-2 1-2 2-3 2-2 1-2 1-2 1-2 2-1 1-2 3-1 2-2 2-1 2-1 3-3 2-1 1-1 2-2 3-1 2-1 1-2 1-1 4-1 2-2 3-1 1-1 2-1 3-2 1-1 2-2 3 0 2-2 3-1 1-2 4 0 1-2 1 0 3-2 3-1 2-1 1-2 3 0 3-1 2-1 2-2 2 0 2-1 3-2 3-1 2 0 1-1 4-1 2-2 1 0 3-1 2-1 4-1 2-1 1-1 3-1 2-1 2 0 2-2 3 0 2-1 2-1 3-1 2-1 3-1 2-1 3 0 1-2 4 0 2-1 2-1 2-1 3-1 3 0 2-1 1-1 4-1 1-1 4 0 1-1 2-1 3-1 1-1 4-1 2-1 3-1 2-1 2 0 2-1 4-1 0-1 2 0 4-2 2 0 2-1 4-1 0-1 3 0 3-1 2-1 3 0 1-1 5-1 1-1 3 0 2-1 2-1 3-1 2-1 3-1 1 0 4-1 2 0 2-2 3 1 3-1 1-2 2 0 3 0 4-1 1-1 2 0 3-1 3-1 1 0 4-1 1 0 3-1 3-1 2-1 2 0 2-1 3 0 1-1 4 0 3-2 1 0 3 0 3-1 2-1 4-1 1 0 3 0 1-1 3-1 2-1 2 0 4-1 1-1 3-1 2 0 2-1 4-1 1-1 3-1 2-1 3-1 2-1 2 0 2-2 3-1 2-1 3-1 1 0 3-1 2-1 2-1 4 0 1-2 2-1 3 0 2-2 3-1 3-1 2 0 2-1 2-2 3 0 1-2 3 0 3-2 1 0 3-1 3-2 2 0 2-2 1-1 4-1 1 0 4-2 1-1 2-1 2-1 2-1 3-2 3 0 2-2 2-1 1-1 4-2 1-1 2-1 3-3 1-1 3-1 1-2 2-2 2-2 0-2 3-2 1-2 1-3 1-2 2-2 0-3 0-3 0-2 0-2 0-3-1-2 0-3 0-2-1-2-1-2-2-2-1-3-1-2-2-1-2-3-1-1-1-3-3-1-2-3 0-2-3-2 0-1-3-2-2-2 0-2-3-1-2-2-2-2-2 0-1-3-2-1-3-2-2-1-2-1-2-3-1-1-3-1-1-2-3-2-2-1-2-2 0-1-3-2-2-3-2-1-1-2-2-1-2-2-2-2-1-2-2-2-2-1-2-2-2-2-2-2-1-2-1-1-3-2-2-2-1-1-1-2-3-2-2-2-1-1-3-2 0-2-3-2-1-2-2-1-3-2-2-2-1-1-1-2-3-2 0-2-2-2-1-2-3-2-1-1-2-2-2-3-2-1 0-2-3-2 0-2-1-2-2-2-2-3-3-1 1-3-3-2 0-2-2-2-1-2-2-2-2-2-1-3-1-2-1-2-2-3 0-2-1-2-2-2 0-3-2-1-1-2-2-3 0-2-2-2-1-3-1-2-1-2-1-2-2-3 0-1-1-4-3-1-1-2-1-2 0-3-1-2 0-2-4-3 1-2-3-2-1-2 0-2-2-2 0-3-1-2-1-3-1-2-2-3-1-2 1-2-2-3-2-1 0-2-1-3 0-2-1-3-2-2 0-3-1-2-1-3-1-2-2-2 0-2 0-3-2-2 0-2-1-3 0-2-1-3 0-2-1-3 0-2 0-2-1-3-2-3 0-2-1-2 0-3-1-2 0-3-1-2 0-2-1-3 0-3-1-2 0-3 0-2-1-2-1-3 0-3-1-2 0-2 0-3 0-2 1-3-2-2-1-3 1-3-1-2 1-2 0-3-1-2-1-3-1-3-1-2 2-2-1-3 0-2 0-3-1-2 0-3 0-2-1-3 0-3 0-2 1-2-2-3 0-3 0-2 0-2 1-2-1-3 0-3-2-2 3-3-2-3-1-2 1-2 0-2-1-3 0-3 0-2-1-2 2-3-1-3 0-3 0-2 0-2-1-2 2-4-1-2-1-3-1-2 1-2 0-3-1-2 1-3 1-2-1-3-1-3 0-2-1-2 1-3-1 0-37 1-2 1-4 1 0 2-2 1-2 2-2 2-2 2-2 2 0 2-2 2-2 3-1 2-1 1-1 3-1 3-1 2-1 3 0 2-2 2-1 2-2 2 0 3-1 2-2 2 0 3-1 2-1 3 0 2-1 2-2 2-1 3 0 2 0 3-1 2-1 3-1 2-2 2 2 3-3 2-1 3 0 1 0 4-2 1 1 3-2 2 0 3-1 2 0 3-1 2-1 2 0 3-1 2-1 3-1 2 0 3-1 2-1 3 0 2-1 2 0 3-1 2 0 3-1 2 0 3 0 2-2 3 1 2-1 2-1 3-1 3 0 1-1 3 1 3-2 2 0 3 0 2 0 2-1 3 0 2-1 3-1 3 0 2-1 2-1 3 1 3-1 2 0 2-1 2 0 3-1 3 0 3-1 1 0 3-1 2 0 4 0 1-1 3 0 2-1 2-1 3 0 2-1 3 0 2-2 3 1 2-1 3 0 2-1 3-1 2 1 3-2 2 1 3 0 3-2 2 0 2 0 3 0 2-1 2 0 3-2 3 1 2-1 2 0 3-1 3 0 1 0 3-1 3-1 2-1 2 1 3-1 2-1 3-1 2 0 2-1 3-1 3 0 2-1 2 1 3-1 2-1 3-1 1-1 4 0 2-1 2-1 3 0 3-1 2-1 2 0 2 0 3-1 2-1 3-1 2-1 3 0 2-1 2 0 3-2 2-1 2 1 2-2 3-1 3-2 2 1 2-1 3-1 2-1 2-1 2-1 3-1 2-2 2-1 2-1 3 0 2-1 2-3 2-1 3 0 1-2 3-1 2-2 2-2 2-1 1-1 3-1 2-2 2-2 1-1 3-1 2-2 2-3 2-1 2-1 1-1 2-2 1-4 2 0 2-2 2-2 3-1 0-3 2-1 2-3 1-2 1 0 3-2 1-3 0-3 3-2 1-2 2-3 1-1 1-1 1-3 1-3 2-2 1-2 1-1 1-4 2-2 0-2 2-2 1-2 1-2 1-3 1-2 2-2 0-2 2-3 1-2 1-2 1-1 1-4 1-2 1 0 1-5 1-2 1-3 1-1 1-2 1-3 1-3 1-1 1-2 0-2 2-4 0-2 1-3 1-1 1-4 1-2 1-1 0-4 0-2 2-2 1-3 1-2 0-2 2-3 0-1 1-3 1-3 1-2 0-3 1-1 1-3 1-3 0-1 1-3 2-2 0-3 1-4 1-1 1-2 0-2 2-2 1-2 0-4 1-1 1-3 1-2 1-2 1-3 1-2 1-3 1-1 0-3 1-2 1-3 2-2 0-2 1-3 0-2 1-4 1-1 0-3 1-2 1-3 0-1 1-4 1-2 0-1 0-3 2-2 0-4 1-1 0-4 1-2 1-3 1-1 0-2 0-4 2-1 0-3 1-2 1-3 1-1 1-4 0-1 1-4 0-2 1-2 1-3 1-3 0-1 1-4 0-2 1-2 2-2-1-2 1-4 1-2 1-2 0-2 1-3 1-2 1-2 1-3 0-1 1-4 1-1 1-3 1-3 1-3 0-1 2-3 1-2 0-2 1-3 1-2 1-1 1-3 1-3 1-2 0-4 1-1 1-1 1-4 1-2 1-1 0-4 1-2 1-2 0-3 2-2 1-2 0-2 2-3 1-2 1-3 1-2 1-2 1-3 0-1 1-4 1-2 2-3 0-2 1-1 1-2 2-4 1-1 1-2 2-1 2-3 0-2 2-2 1-1 1-5 2-1 2-2 1-1 2-3 1-2 2-2 1-2 3-3 1 0 2-1 2-2 3-1 2-1 2 1 3-2 2-1 3 2 3-1 2 0 3 1 2 0 3 0 2 0 2 1 3 2 2 0 2 2 2 1 2 2 3 1 2 1 2 1 1 2 3 2 1 2 3 1 2 1 1 2 3 3 2 0 1 1 2 2 2 2 2 1 1 3 2 2 2 1 2 3 2 1 2 2 1 1 2 2 2 2 2 2 1 2 2 2 1 1 3 3 2 1 0 3 3 0 1 2 2 2 1 2 1 3 2 0 3 2 1 4 2 1 2 0 1 3 2 1 2 2 1 3 2 2 3 2 1 0 2 2 1 2 2 2 2 3 2 0 1 2 2 2 1 1 3 2 1 3 2 1 2 2 2 1 1 2 3 3 1 1 3 1 1 3 3-1 1 3 2 2 2 1 2 3 2 0 2 3 1 2 3 0 1 3 2 1 3 1 1 3 2 1 2 1 2 1 2 2 1 1 2 2 3 2 2 2 2 0 2 1 3 2 2 2 2 1 1 1 3 2 2 0 2 2 3 1 2 3 2 0 2 1 2 0 3 1 2 1 2 2 2 0 2 1 4 3 2-1 2 1 2 1 2 2 4 0 1 2 3 0 2 1 3 1 2 2 2 1 1 1 3 1 3 1 2 1 2 1 2 1 3 2 2 1 2 0 3 1 1 2 3 1 2 0 3 1 2 2 2-1 2 1 2 2 3 0 3 1 2 0 2 1 2 1 3 2 2 0 3 2 1 0 4 2 2 0 2 2 2 1 2 1 3 0 3 2 1 0 2 2 3 0 3 0 2 1 2 3 2-1 3 2 2 0 3 0 2 1 3 1 2 0 3 1 2 1 2 0 3 2 2-1 3 2 2 0 2 0 4 1 1 0 3 0 2 1 3 0 2 1 2 1 3-1 3 1 2 0 2 1 3 1 2 0 3 1 3-1 2 1 2 0 3 2 2 0 3 1 2 0 3 0 2 1 2 0 3 1 2 1 3 0 2 0 3 0 3 0 1 2 3 1 2-1 3 1 3 0 2 0 3 1 2 1 3 0 2 0 2 0 3 1 3 1 2-1 2 0 3 1 2 0" stroke-width="5.6"/>
<path d="M1660 1970l-1 3-2 2-3 0-2 1-2 1-2 0-3 2-3-1-2 2-2 0-3 1-2 2-2-1-3 2-2 1-2 1-3 0-2 1-2 2-2 0-3 1-3 0-2 1-3 0-2 1-2 0-3 0-3 2-2 1-2-1-3 3-2 1-2 0-3-1-2 1-3 2-2 0-3 0-3 2-2 0-2 0-2 1-3 2-2 0-3 1-2 0-2 0-3 1-2 1-2 1-3-1-2-1-3 3-2 1-3-1-2 2-3-1-2 2-3 0-2 0-3 1-2 1-2-1-3 1-2 1-3 0-3 1-2-1-3 1-2 1-2 0-3 1-2-1-3 2-2-1-2 1-3 0-3 2-2-1-3 1-2-1-2 0-3 2-3 0-2 0-3 1-2-1-2 0-3 1-2 0-3 0-2 1-3 1-3-1-2 0-3 1-2 1-3-1-1 0-3 1-2 1-3 2-3-1-2 1-3-1-2 1-3 0-2 2-3 1-2-1-2 0-3 2-3 1-2 0-3-1-2 1-3 1-2 0-2 0-3 1-3 1-1 0-3 1-2 0-2 0-4 1-2 0-2 1-3 1-2 0-2 0-3 0-2 1-3 2-2 0-3 0-2 1-3 1-2 0-2 0-3 2-2 0-3 0-3 1-2 2-3-1-2 2-2 0-2 2-2-1-3 1-2 1-3 1-3 1-1 0-3 2-2 1-3 0-2 1-2 1-2 1-3 2-3 1-1 0-3 1-2 3-2-1-3 2-2 1-2 1-2 1-3 1-2 1-2 1-2 1-2 2-2 0-2 3-3 1-2 0-2 2-3 2-2 0-2 1-2 1-2 3-1 0-2 4-1 1-2 3-1 2-1 2-3 3-1 0-1 3-2 2-1 3-1 0-2 2-1 3-1 3-2 2-1 1-1 2-1 4-2 1-1 2-2 3-2 4-1 2-2 2 0 3-2 1 0 2-2 3-1 2-1 2-2 3 0 2-1 2-1 1-2 4 0 1-1 3-2 3-1 3 0 1-1 3-1 2-2 1 0 4-1 2-1 4-1 1-1 2-1 2-1 2-1 2 0 3-2 2 0 4-1 0-1 3-1 3-1 3-1 2-1 2 0 2-2 3 0 3-1 2-1 2-1 2-1 3 0 2-1 2-1 2-1 3-1 3 0 1-1 3-1 2-1 2-1 4-1 2-1 3-1 1-1 2 0 3-1 4-1 0-1 2 0 3-2 3 0 1-1 4-1 1-1 3 0 3-1 1-1 3 0 2-1 4-1 1-1 4 0 2-1 2-1 3-1 2-1 3-1 1 0 3-1 2 0 2-2 3 1 4-1 1-2 2 0 2 0 4-1 1-1 4 0 2-1 3-1 1 0 3-1 1 0 4-1 2-1 2-1 3 0 3-1 1 0 3-1 3 0 2-2 3 0 3 0 2-1 1-1 4-1 2 0 2 0 2-1 3-1 2-1 2 0 3-1 2-1 3-1 2 0 3-1 2-1 2-1 2-1 3-1 2-1 3-1 2 0 2-2 3-1 1-1 3-1 1 0 3-1 2-1 3-1 2 0 2-2 3-1 3 0 2-2 2-1 2-1 3 0 2-1 2-2 3 0 2-2 2 0 3-2 3 0 2-1 2-2 3 0 2-2 1-1 4-1 0 0 4-2 1-1 2-1 3-1 1-1 3-2 3 0 2-2 3-1 1-1 3-2 2-1 2-1 3-3 1-1 2-1 2-2 1-2 2-2 1-2 2-2 1-2 1-3 1-2 2-2 0-3 1-3 0-2-1-2 0-3 0-2-1-3 0-2 0-2-2-2-1-2-1-3-2-2-3-1-1-3-2-1 0-3-3-1-1-3-2-2-1-2-2-1-2-2-1-2-1-2-3-1-1-2-2-2-2 0-3-3 0-1-3-2-2-1-2-1-3-3-2-1-2-1-1-2-2-2-2-1-2-2-1-1-3-2-2-3-1-1-1-2-3-1-2-2 0-2-3-2-1-2-3-1-1-2-2-2-3-2 1-2-4-1-1-2-2-2-2-1-1-2-3-2-1-2-2-1-2-2 0-2-3-2-3-2-1-1-2-2-2-2-2-1-1-2-2-2 0-2-3-2-2-2-1-2-2-1-2-2-1-3-2-1-1-2-2-2-1-2-1-2-1-2-3-3-2-1 0-3-2-2-1-2-1-2-2-2-1-2-3-2 0-3-1-2-1-2-2-3-1-2-1-2-1-2 0-3-3-1-1-2-2-3 1-2-3-2-1-3 0-2-1-2-1-2-2-3-1-1-1-4-2-1-1-2-1-2 0-3-1-2-1-2-4-3 2-2-3-2-1-2 0-2-2-2-1-3-1-2-1-3-1-2-1-3-1-2 0-2-1-3-2-1-1-2 0-3 0-2-2-3-1-2 0-3-2-2-1-3 0-2-2-2 0-2-1-3-1-2-1-2 0-3-1-2-1-3 0-2 0-3 0-2-1-2-1-3-1-3-1-2-1-2 1-3-2-2 0-3 0-2-1-2 1-3-2-3 0-2-1-3 0-2 0-2-1-3 0-3-1-2 0-2-1-3 0-2 1-3-2-2 0-3 0-3 0-2-1-2 0-3 0-2 0-3-1-3-1-2 1-2 0-3-1-2 2-3-3-2 0-3 0-2-1-3 2-3-2-2 2-2-2-3-1-3 1-2 0-2-1-2 1-3 0-3-2-2 2-3-1-3-1-2 1-2-1-2 0-3-1-3 1-2-1-2 0-3 1-3 0-3-1-2 0-2 0-2 1-4-1-2 0-3 0-2 0-2 0-3-1-2 0-3 0-2-1-3 1-3-1-2 0-2 2-3-3 0-36 1-3 1-3 1-1 2-2 1-2 2-2 2-3 2-1 2 0 2-2 2-2 3 0 2-1 1-2 3 0 3-2 2-1 3-1 2 0 2-2 2-1 2 0 3-2 2-1 2-2 3 1 2-1 3 0 2-2 2-1 2-1 3-1 2 0 3-1 2-1 3 0 2-2 2 1 3-2 2-1 3 0 1-1 4-1 1 0 3-1 2-1 3 0 2-2 3 0 2-1 2 1 3-1 2-1 3-1 2-1 3 0 2-1 3 0 2-2 2 0 3 0 2-1 3 0 2 0 3-1 2-1 3 0 2-1 2 0 3-1 3-1 1-1 3 1 3-1 2 0 3-1 2 0 2 0 3-1 2-1 3 1 3-2 2 0 2-1 3 0 3 0 2 0 2 0 2-2 3-1 3 1 3-1 1 0 3-1 2 1 4-1 1-1 3-1 2-1 2-1 3 0 2 0 3-1 2-1 3 0 2 0 3-1 2 0 3-1 2 1 3-2 2 0 3 1 3-2 2-1 2 0 3 0 2-1 2-1 3 0 3 0 2-1 2 1 3-1 3-1 1 0 3-1 3 0 2-1 2 0 3-2 2 1 3-2 2 0 2 0 3-1 3 0 2-2 2 2 3-3 2 1 3-1 1-1 4 0 2-2 2 0 3-1 3 0 2-2 2 1 2-2 3 0 2-1 3 0 2-1 3-1 2 0 2-1 3-1 2-1 2 0 2-2 3-2 3 0 2 0 2 0 3 0 2-2 2-2 2-1 3-1 2-1 2-1 2-1 3-1 2-1 2-2 2-1 3-1 1-1 3-2 2-1 2-2 2-1 1-2 3-1 2-1 2-2 1-1 3-1 2-2 2-3 2-1 2-2 1-1 2-1 1-4 2 0 2-3 2-2 3-1 0-2 2-2 2-2 1-2 1-1 3-2 1-3 0-1 3-3 1-2 2-4 1-1 1-1 1-3 1-2 2-3 1-1 1-1 1-4 2-2 0-2 2-2 1-3 1-1 1-4 1-2 2-1 0-3 2-2 1-2 1-2 1-3 1-2 1-2 1-2 1-3 1-3 1-2 1-1 1-3 1-3 1-3 1-1 1-2 0-3 2-2 0-2 1-2 1-3 1-2 1-3 1-2 0-3 0-3 2-1 1-3 1-3 0-1 2-3 0-2 1-2 1-3 1-3 0-2 1-1 1-4 1-1 0-3 1-2 2-2 0-3 1-4 1-2 1-1 0-3 2-2 1-1 0-4 1-1 1-4 1-1 1-2 1-3 1-2 1-3 1-3 0-2 1-2 1-2 2-2 0-3 1-2 0-4 1-1 1-3 0-2 1-2 1-3 0-2 1-3 1-2 0-2 0-3 2-1 0-4 1-2 0-2 1-4 1-2 1-2 0-2 0-3 2-1 0-3 1-3 1-2 1-2 1-4 1-5 0-1 1-3 1-3 1-2 0-1 1-4 0-2 1-2 2-2-1-3 1-3 1-2 1-2 0-3 1-2 1-2 1-3 1-2 0-2 1-3 1-2 1-2 1-4 1-2 0-1 2-3 1-3 0-2 1-2 1-3 1-2 1-1 1-3 1-3 0-3 1-1 1-2 1-3 1-3 1-1 0-3 1-2 1-3 0-3 2-1 1-3 0-3 2-1 1-3 1-2 1-3 1-2 1-2 0-3 1-2 1-2 2-2 0-3 1-1 1-3 2-3 1-3 1-1 2-2 2-3 0-1 2-2 1-1 1-4 2-1 2-2 1-2 2-2 1-2 2-2 1-3 3-2 1-1 2-1 2-1 3-1 2-2 2 1 3-1 2-1 3 1 3-1 2 0 3 1 2 0 3 1 2 0 2 0 3 1 2 1 2 2 2 2 2 2 3 1 2 1 2 1 1 2 3 1 1 2 3 1 2 2 1 2 3 1 2 2 1 1 2 3 2 1 2 2 1 1 2 3 2 1 2 1 2 2 2 2 1 1 2 2 2 2 2 3 1 2 2 1 1 1 3 3 2 2 0 1 3 2 1 1 2 3 1 2 1 3 2 0 3 2 1 3 2 2 2 0 1 3 2 1 2 2 1 2 2 1 3 3 1 1 2 2 1 1 2 2 2 3 2 0 1 3 2 1 1 2 3 2 1 3 2 0 2 2 2 2 1 1 3 3 1 1 3 2 1 3 3-1 1 3 2 1 2 1 2 3 2 1 2 2 1 3 3-1 1 3 2 1 3 2 1 3 2 1 2 1 2 1 2 1 1 2 2 1 3 2 2 2 2 1 2 1 3 2 2 1 2 2 1 0 3 3 2 0 2 2 3 1 2 2 2 1 2 0 2 1 3 0 2 1 2 2 2 1 2 1 4 2 2 0 2 1 2 1 2 1 4 1 1 1 3 1 2 1 3 1 2 1 2 2 1 0 3 0 3 3 2 1 2 0 2 1 3 3 2 0 2 2 3 0 1 2 3 1 2-1 3 2 2 1 2 0 2 1 2 1 3 1 3 0 2 1 2 1 2 1 3 1 2 1 3 1 1 1 4 1 2 0 2 2 2 1 2 0 3 2 3 1 1 1 2 1 3 0 3 1 2 1 2 2 2 0 3 1 2 0 3 1 2 1 3 0 2 1 3 0 2 2 2 0 3 0 2 0 3 2 2 0 2 1 4 1 1 0 3-1 2 1 3 1 2 1 2 1 3-1 3 1 2 0 2 1 3 0 2 1 3 0 3 0 2 1 2 0 3 1 2 1 3 1 2 0 3 0 2 1 2-1 3 2 2 0 3 0 2 1 3 0 3 0 1 2 3 1 2-1 3 0 3 1 2-1 3 2 2 0 3 1 2 0 2 0 3 0 3 0 2 2 2-1 3 0 2 1" stroke-width="5.6"/>
<path d="M1660 1969l-1 1-2 3-3 1-2 0-3 1-1 0-3 1-2 2-3 0-3 1-1 1-3 1-2 1-3 1-2 1-3 0-2 2-3 1-2 0-2 1-2 0-3 1-2 1-3 0-2 1-3 0-2 0-2 1-3 1-2 1-3 1-2 1-2 0-2 1-3 0-2 2-3 0-2 1-3 0-2 2-2-1-3 1-3 1-2 1-2 0-3 0-3 1-2 1-2 1-2 0-4-1-1 2-3 1-2 0-3 1-2 1-3 0-2 0-3 0-2 1-3 2-2-1-3 0-2 0-2 1-3 0-2 1-3 0-2 3-3-2-3 1-2-1-2 3-3-1-2 0-2 0-3 2-3-1-3 1-1 0-3 2-2-1-3 0-3 1-2 1-3 0-2 0-3 0-2 0-2 0-4 1-2 0-2 0-2 0-3 1-3 0-2 1-2 1-3 0-2 0-2 0-3 0-2 1-3 1-2 0-3 0-3 2-2 0-3-1-2 0-3 1-2 0-3 2-1 0-3 0-2 1-3 1-2 0-3 0-2 1-2 1-3-1-3 2-2 0-3-1-2 2-3 0-3 0-1 2-3 0-3 1-2 0-2 0-3 0-2 2-2 0-4 1-2 1-3-1-1 2-3 1-2-1-3 2-2 0-3 1-2 2-2-1-2 0-3 2-3 0-2 2-2 0-3 1-2 1-2 1-2 1-3 0-2 1-3 1-2 0-2 2-2 1-3 1-2 1-3 0-2 3-2 0-3 2-1 0-3 1-2 2-3 2-1 1-3 0-2 2-2 1-2 0-2 2-2 1-2 1-3 3-2 0-2 1-3 2-2 1-1 2-2 1-2 1-2 2-2 1-2 3-2 2-1 2-1 1-2 2-2 2-1 3-2 2 0 2-2 2-2 2-1 3-1 1-1 3-2 1-1 3-1 2-2 3-1 1-1 3-1 1-1 3-1 3-2 1-1 3-1 2-1 2-1 2-1 2-1 2-1 3-2 2 0 3-1 2-2 2-1 1-1 4 0 3-2 2 0 2-1 2-1 2-1 3-1 2-1 3-1 1-1 3-1 2 0 3-2 2-1 3-1 1-1 1-1 4 0 2-1 3-1 3-1 2-1 2 0 3-1 1-1 3-1 3-1 2-1 2-1 3 0 1-1 3-1 3 0 3-1 2-2 2 0 3-1 2-1 2-1 3-1 2-1 2 0 3-2 1 0 3-2 2-1 2 0 3-1 1-1 4-1 2 0 3-1 3-1 1-1 2-1 2 0 3-1 3-1 3 0 1-2 3 0 2-1 2-1 2 0 3-2 3-1 2-1 4 0 1-1 2-1 1 0 4-1 2-1 3-1 2 0 2-2 3-1 1 0 3-1 2-1 3-1 2-1 3-1 2-1 4 0 1-1 2-1 3 0 1-1 3-1 3-1 2 0 3-1 2 0 1-1 4-1 2-1 4-1 0 0 3 0 2-1 3-1 4-1 0-1 3-1 3-1 2-1 2-1 2-1 3-1 2-1 3-1 2-1 1-1 3-1 2-1 3-1 2-2 4 0 1-1 2-1 1-1 3-1 3-1 2-1 2-1 3-2 2 0 3-2 2 0 2-2 1-1 3-2 2-1 4-1 0-1 2-2 4-1 1-1 2-1 2-2 3-1 1-2 3 0 2-2 1-2 4-1 1-2 0-1 2-2 3-2 4-1 1-3 1-1 1-2 2-3 2-2 1-1 1-3 1-2 1-3 0-2 2-3 0-2 2-2-1-3 1-2-1-3 1-3-3-2 1-2-1-2-1-3-2-2 0-3-1-2 0-2 0-3 2-2 0-3 1-1 0-2-1-2-1-1-1-2-5-1-1-1-3-2-2-2-3-2-1-1-2-2-2-1-2-2-2-2-2-2-2-1-1-2-3-1-2-3-1-1-2-2-1-1-2-2-2-2-2-2-2-1-3-2-1-2-1-2-1-2-2-1-3-2-1-2-2-1-3-2-2-2 0-2-2-2-3-2-1-2-1-3-1-2-1-2 0-2-2-2-2-2-1-2-1-2-2-2 0-2-3-2-1-2-1-2-2-2-2-2-1-3-2-1 0-2-2-2-2-3-1-2 0-2-2-2-1-2-2-2-1-3-2-2-2-2-1-1-1-4-1-1-1-2-2-2-2-2-1-2-1-2-1-3-1-2-2-2 0-2-2-3-1-2-2-2-2-2 1-3-2-2 0-2-2-2 0-3-2-2-2-2-1-2 0-3-2-2-1-2 0-3-2-2-1-3 0-2-2-2-1-3 0-2-1-1-2-3 0-2-1-3-1-2-1-2-1-3-2-2-1-3 0-1-1-2-2-4 0-1-1-3-2-2 0-2 0-3-1-2-3-3 1-2-2-2 0-3 0-2-1-3-1-2-1-2-1-3 0-2 0-3-1-2-1-2-1-3-1-3 0-2 1-2-1-3-1-2-1-3-1-2 1-2-1-3 0-2-2-3 2-2-2-3 0-2 0-2-2-3 0-2 0-3-1-3 0-2 0-3 0-2-1-3 0-2 0-3 0-2-1-2-1-3-1-2 1-3-1-2 0-2-1-3 1-3-2-2 0-3 1-2-2-3 2-2-1-3 0-2-1-3 1-2-1-4 0-1-1-3 1-2-1-3 1-3-1-2-1-2 0-3 0-2 0-3 0-2-1-3 0-2 0-3 1-2-1-3 0-2-1-2 1-3 1-3-1-2-1-3-1-3 2-2-1-3 0-2 0-2-1-3 1-2 0-3 0-2-1-3 0 1-46 0-3 1-2 1-2 1-1 2-2 2-2 2-3 2 0 2-2 2-1 3-2 2 0 2-3 2 0 2-1 3-1 2-1 2-1 3-1 2 0 2-3 3 0 1-1 4 0 2-2 2 0 2-2 3 0 2-1 2-2 3 1 2-2 2-1 3 0 3 0 2-2 3 0 1-1 2-1 4-1 1-1 3 1 2-1 3-3 2 1 3 0 2-2 3 0 2-2 3 0 2-1 2-1 3 0 2-1 2 0 3-1 2 0 3 0 2-1 2-1 3 0 3-1 2 0 2-1 3-1 2 0 3-1 2 1 3-1 2-1 2 0 3-1 2-1 3 0 3 1 2-2 2-1 3 1 2-1 3-2 2 1 2-1 4 0 2-1 2 1 3-2 2 1 2-2 3 0 2-1 3 0 3-2 2 1 2 0 3-1 3 0 2 0 2 0 3 0 3 1 2-2 2 1 3-1 2 0 3-1 2 0 3 0 2 0 3 0 2-1 3 0 2-2 2 0 3-1 2-1 3 0 2 0 2-1 3 0 3-1 2 0 3-1 3 1 1-1 4-1 1 0 3-2 3 1 2-1 2-1 3 0 2-1 3 0 2-2 3 0 2 0 2-1 2 0 3-2 3 1 1-2 3 1 3-2 2-1 3 0 2-1 2 0 3-1 3-1 2 0 2-1 2-1 3 0 2-1 3-2 2 0 3-1 2 0 2-2 3 0 2-1 3-1 2 0 3-1 2 0 2-1 3-2 2 0 2-2 2 0 3-1 2-1 3-1 1-1 3-2 2 0 2-3 2-1 3 1 2-3 2-1 2-1 2 0 2-2 2-2 3-2 2-1 1-2 3-1 1-2 2-1 1-2 3-2 1-2 2-1 2-2 2-2 2-1 2-3 2 0 2-2 2-2 1-2 3-2 1 0 3-3 2 1 2-1 2-3 2-1 1-2 2-1 1-3 2-2 1-3 1-2 2-1 1-3 2-2 0-2 2-3 1-2 2-1 2-2 1-2 1-4 1-2 2 0 0-4 2-2 1-3 2-3 1-1 1-2 1-2 1-2 2-3 1-2 1-2 1-1 0-4 1-1 1-2 1-3 2-3 0-2 2-3 1-3 0-1 1-2 1-3 1-2 1-3 0-2 2-1 1-4 1-1 1-4 1-2 0-2 1-3 1-2 1-2 1-2 1-2 1-4 1-2 1-1 0-2 1-2 1-3 1-2 2-3 1-2 0-2 1-3 1-3 2-2 0-2 1-3 1-1 1-3 1-2 1-3 0-2 1-2 1-2 1-3 1-2 1-4 1-1 1-3 1-2 1-1 0-3 1-3 1-2 1-2 0-3 1-2 1-3 1-2 1-3 1-2-1-2 2-3 1-2 0-3 1-2 1-3 0-3 1-1 0-3 1-2 1-2 1-3 1-2 1-2 0-3 1-3 1-1 0-4 1-1 2-3 0-2 1-2 1-2 1-4 1-1 0-3 2-2 0-3 1-1 1-4 1-1 1-3 1-1 1-3 0-3 1-3 1-1 1-3 1-2 1-3 1-3 0-1 2-2 1-3 0-3 1-1 1-3 1-3 1-2 1-2 1-3 1-1 1-3 1-2 0-2 2-3 1-2 1-3 0-2 1-3 2-2 0-3 2-3 1-3 1-2 2-2 0-3 2-2 1-2 1-2 1-3 2-2 1-2 1-2 1-3 2-2 1-1 1-2 2-2 2-2 1-2 2-4 1-1 1-2 3 0 1-4 2-1 2-1 2-1 2-1 3-3 2 1 3-2 1-1 3-1 2-1 3 0 3-1 2 1 3-1 2 1 2 0 2 1 3 0 3 1 2 1 3 1 2 1 2 0 2 1 3 1 1 1 3 2 2 2 1 2 2 1 3 2 1 2 2 1 2 2 2 2 1 2 2 1 2 2 2 2 1 2 2 2 2 2 2 1 1 2 1 2 2 2 2 2 2 1 2 3 1 1 2 2 1 2 2 3 2 1 2 1 2 3 2 1 1 2 3 2 1 1 2 2 1 3 2 0 2 2 2 2 2 2 1 1 2 3 2 1 2 1 2 2 1 2 2 3 2 0 2 2 2 2 2 2 1 1 3 2 1 1 2 3 2 1 2 1 2 2 1 2 3 1 2 2 2 2 2 1 2 1 2 2 2 3 2 0 2 2 2 1 2 2 2 2 2 0 2 3 2 1 2 0 2 2 2 2 2 1 2 1 2 2 3 1 2 2 2 1 2 1 3 0 2 2 2 0 2 1 3 2 2 1 2 1 3 0 2 2 3 0 1 1 3 1 2 1 3 2 2 1 3 1 1 1 3 1 2 0 2 2 2 0 2 2 3 2 2 0 2 0 2 3 3 1 3 1 1 0 2 1 3 1 2 1 3 0 2 3 2 0 2 0 3 1 3 2 2 1 2 0 3 1 2 1 2 2 2 0 3 0 3 2 2 1 1 2 3-1 3 2 2 0 2 1 3 2 3 2 1-1 3 1 2 2 3 0 2 0 2 2 2 1 3-1 2 2 3 1 2 1 2 1 3-1 3 2 1 0 3 1 3 0 2 0 2 2 3 1 2 0 3 0 2 1 3 0 2 0 2 0 3 2 3 0 2 0 2 1 3 0 2 1 3 0 2 0 3 0 2 2 2 0 3 1 3 2 2-2 2 1 3 1 3 1 2 0 2 0 3 1 2 0 3 0 2 1 3 0 2 1 2 0 4 0 1 0 4 2 1 0 3 0 3 0 2 0 2 1 3 0 3 0 2 1 3-1 2 2 3 0 1 1 4-1" stroke-width="3.6"/>
<path d="M1660 1970l-1 2-2 3-3 0-2 0-3 1-1 2-3 0-2 1-3 0-3 1-1 1-3 2-2 1-3 1-2 1-3-1-2 2-3 1-2 0-2 2-2-1-3 1-2 1-3 1-2-1-3 2-2 0-2 1-3 1-2 0-3 0-2 2-2 0-2 1-3 1-2 2-3 0-2 0-3 1-2 0-2 0-3 1-3 1-2 0-2 0-3 1-3 2-2 0-2 2-2-1-4 0-1 1-3 1-2 0-3 1-2 1-3 1-2 0-3 0-2 0-3 2-2 0-3 0-2 0-2 1-3 0-2 0-3 0-2 3-3-1-3 0-2 0-2 1-3 1-2 0-2 0-3 1-3 0-3 1-1-1-3 2-2-1-3 0-3 1-2 1-3 0-2 0-3 0-2 1-2 1-4 0-2-1-2 0-2 1-3 1-3 0-2 0-2 0-3 1-2 1-2 0-3-1-2 2-3 0-2 1-3-1-3 2-2-1-3 1-2 0-3 1-2 0-3 1-1 0-3 1-2 0-3 1-2 0-3 2-2-1-2 1-3 0-3 0-2 2-3-1-2 0-3 1-3 0-1 2-3 0-3 1-2 1-2-1-3 1-2 2-2 0-4 1-2 0-3 0-1 1-3 1-2 0-3 1-2 1-3 0-2 2-2 0-2 0-3 1-3 0-2 3-2 0-3 1-2 1-2-1-2 3-3-1-2 1-3 2-2 0-2 2-2 0-3 1-2 2-3 0-2 2-2 0-3 2-1 1-3 1-2 1-3 1-1 1-3 1-2 3-2 1-2-1-2 3-2 0-2 2-3 2-2 0-2 1-3 2-2 1-1 2-2 1-2 2-2 1-2 2-2 2-2 2-1 2-1 1-2 3-2 2-1 3-2 0 0 2-2 2-2 2-1 4-1 2-1 2-2 2-1 3-1 2-2 2-1 2-1 2-1 2-1 2-1 3-2 2-1 3-1 1-1 2-1 2-1 3-1 2-1 4-2 0 0 3-1 2-2 2-1 2-1 4 0 2-2 2 0 2-1 3-1 2-1 2-1 3-1 2-1 2-1 3-1 1 0 3-2 2-1 3-1 2-1 2-1 3 0 2-1 2-1 3-1 2-1 2 0 4-1 1-1 2-1 4-1 2-1 2-1 2 0 2-1 2-1 4 0 2-1 2-2 1 0 3-1 3-1 3-1 2-1 2-1 3 0 2-2 2 0 2-2 2-1 3 0 3-1 1-1 3-1 2 0 3-1 2-1 3-1 1-1 2 0 3-1 3-1 3 0 2-2 2 0 3-1 2-1 2 0 2-2 4-1 1-1 3 0 3-1 2-1 1 0 4-1 1-1 4-1 1 0 2-2 4-1 0 0 4-1 2-1 3-1 1-1 4-1 2-1 2 0 2-1 3-1 2 0 2-1 4-1 1-1 3 0 3-1 2 0 2-1 2-1 3-1 3-1 1 0 3 0 2-1 2-1 4-1 0-1 4-1 2-1 2-1 2-1 3-1 2-1 2-1 4-1 1-1 1-1 4-1 1-1 4-1 2-2 3 0 1-1 2-1 3-1 2-1 3-1 2-1 2-1 3-2 1 0 3-2 2 0 1-2 3-1 3-2 1-1 4-1 1-1 2-2 3-1 2-1 3-1 0-2 3-1 2-2 2 0 2-2 2-2 3-1 1-2 2-1 1-2 3-2 2-1 1-3 3-1 1-2 1-3 2-2 1-1 2-3 0-2 2-3 0-2 1-3 1-2 1-2 0-3 0-2 0-3 1-3-4-2 1-2-1-2-1-3-1-2-1-3-1-2 0-2 2-3 1-2-1-3 2-1 0-2-2-2 0-1-3-2-3-1-2-1-2-2-3-2-2-2-2-1-3-2-1-1-2-2-1-2-2-2-2-1-2-2-3-1-1-3-1-1-2-2-2-1-3-2 0-2-3-2-1-1-3-2 0-2-3-2-2-2-1-1-2-2-2-2-2-1-2-2-2-2-1-2-1-2-3-2-1-2-2-3 0-2-2-2 0-2-2-2-1-2-2-2 0-2-2-2-1-2-2-2-2-2-1-2-1-2-2-2-1-3-1-1-2-2-2-2-1-3-1-2-1-2-3-2-1-2-1-2-1-3-1-2-2-2-1-1-1-4-2-1-1-2-2-2 0-2-3-2-1-2-1-3-1-2-2-2 0-2-1-3-2-2-1-2-2-2 0-3-1-2-1-2-1-2 0-3-2-2-2-2-1-2-1-3-1-2-1-2 0-3-2-2-1-3 0-2-2-2-2-3 0-2 0-1-2-3-1-2-1-3-1-2-1-2 0-3-2-2-1-3 0-1-2-2-2-4 0-1-1-3-2-2 0-2 0-3-1-2-2-3 0-2-1-2 1-3-1-2-2-3 0-2-1-2-2-3 0-2 1-3-1-2-1-2-1-3-1-3-1-2 2-2-2-3-1-2-1-3-1-2 1-2 0-3-1-2-1-3 1-2-2-3 0-2 0-2-2-3 1-2 0-3-2-3 1-2 1-3-3-2 0-3 0-2 0-3 0-2-1-2 0-3-1-2-1-3 1-2 0-2-2-3 2-3-2-2 0-3 1-2-3-3 2-2-1-3 0-2 0-3 1-2-1-4-1-1 0-3 0-2-1-3 0-3 0-2-1-2 1-3-1-2 1-3-1-2-1-3 0-2 1-3 0-2-1-3 0-2-1-2 1-3 1-3-1-2-1-3 1-3 0-2 0-3-1-2 0-2-1-3 1-2 0-3-1-2 0-3 1 1-46 0-4 1-2 1-1 1-2 2-2 2-2 2-3 2 0 2-2 2-1 3-2 2 0 2-3 2 0 2-1 3-1 2-1 2 0 3-2 2 1 2-3 3-1 1-1 4 0 2-1 2-1 2-2 3 0 2-1 2-1 3 1 2-3 2 0 3-1 3 0 2-1 3 0 1-2 2 0 4-2 1-1 3 0 2 0 3-2 2 0 3-1 2 0 3-1 2-1 3-1 2 0 2-1 3 0 2-2 2 0 3 0 2-1 3 0 2-1 2-1 3 1 3-1 2 0 2-2 3 0 2-1 3 1 2-1 3-1 2-2 2 2 3-2 2 0 3-1 3 1 2-2 2-1 3 1 2-1 3-1 2 1 2-2 4 0 2 0 2-1 3-1 2 1 2-1 3 0 2-1 3-1 3-1 2 1 2-2 3 0 3 1 2 0 2-1 3 0 3 1 2-1 2 0 3 0 2-1 3 0 2 0 3-1 2 0 3 0 2 0 3-2 2-1 2 0 3 1 2-2 3 0 2 0 2-2 3 0 3 1 2-1 3-2 3 1 1-1 4 0 1-1 3-1 3-1 2 0 2 0 3-1 2 0 3-1 2 0 3-2 2 1 2-1 2 0 3-2 3-1 1 0 3 0 3-2 2 0 3-1 2-1 2 0 3 0 3-2 2 0 2 0 2-1 3-1 2-1 3-1 2-1 3 0 2-1 2 0 3-1 2-1 3-2 2 0 3-1 2 0 2-1 3-2 2 1 2-3 2 1 3-2 2 0 3-2 1-1 3-1 2-1 2-3 2 1 3-1 2-3 2-1 2-1 2 0 2-1 2-2 3-2 2-2 1-1 3-1 1-3 2-2 1-1 3-1 1-2 2-2 2-2 2-1 2-2 2-2 2-2 2-1 2-2 1-2 3 0 1-2 3-2 2-1 2 0 2-3 2 0 1-3 2-2 1-2 2-2 1-3 1-1 2-2 1-2 2-3 0-2 2-2 1-3 2-1 2-2 1-2 1-2 1-3 2-1 0-3 2-2 1-4 2-2 1-2 1-1 1-2 1-2 2-3 1-2 1-3 1-2 0-3 1-1 1-2 1-3 2-2 0-2 2-3 1-3 0-2 1-2 1-3 1-2 1-2 0-2 2-2 1-3 1-3 1-2 1-3 0-1 1-3 1-2 1-3 1-1 1-3 1-3 1-1 1-4 0-1 1-2 1-2 1-3 2-3 1-2 0-2 1-3 1-3 2-1 0-2 1-3 1-2 1-2 1-3 1-2 0-3 1-2 1-2 1-2 1-2 1-4 1-2 1-2 1-3 1-2 0-2 1-2 1-3 1-2 0-3 1-2 1-2 1-3 1-2 1-3-1-2 2-2 1-2 0-3 1-3 1-2 0-2 1-3 0-2 1-3 1-3 1-2 1-2 1-2 0-1 1-5 1 0 0-5 1-1 2-3 0-1 1-3 1-2 1-3 1-2 0-3 2-2 0-2 1-2 1-3 1-2 1-2 1-2 1-3 0-3 1-2 1-2 1-3 1-2 1-2 1-4 0-1 2-2 1-3 0-2 1-2 1-3 1-2 1-3 1-2 1-2 1-2 1-2 1-3 0-2 2-3 1-1 1-4 0-2 1-2 2-2 0-3 2-4 1-3 1-1 2-3 0-2 2-3 1-2 1-1 1-3 2-2 1-3 1-1 1-3 2-3 1-1 1-1 2-3 2-2 1-2 2-3 1-1 1-4 3 1 1-3 2-1 2-2 2 0 2 0 3-4 2 0 3-1 1-2 3-1 2 0 3-1 3-1 2 2 3-2 2 2 2-1 2 0 3 2 3 0 2 1 3 1 2 0 2 1 2 2 3 0 1 2 3 2 2 1 1 2 2 2 3 1 1 3 2 2 2 1 2 2 1 0 2 2 2 2 2 3 1 2 2 1 2 2 2 2 1 1 1 3 2 2 2 1 2 1 2 3 1 2 2 2 1 1 2 3 2 2 2 1 2 3 2 0 1 3 3 2 1 0 2 2 1 2 2 1 2 3 2 1 2 2 1 2 2 1 2 2 2 1 2 3 1 1 2 2 2 2 2 2 2 1 2 2 1 2 3 1 1 2 2 1 2 2 2 2 2 1 1 1 3 3 2 1 2 2 2 1 2 2 2 2 2 1 2 2 2 2 2 0 2 2 2 3 2 0 2 3 2 1 2 0 2 1 2 3 2 1 2-1 2 3 3 2 2 1 2 0 2 2 3 1 2 1 2 1 2 1 3 1 2 1 2 2 3-1 2 2 3 1 1 1 3 0 2 1 3 2 2 1 3 1 1 2 3 1 2-1 2 2 2 1 2 2 3 1 2 0 2 2 2 2 3 0 3 1 1 1 2 1 3 1 2 0 3 0 2 2 2 1 2 1 3 1 3 0 2 1 2 1 3 2 2 1 2 1 2 0 3 0 3 3 2 0 1 2 3 0 3 1 2 0 2 1 3 2 3 1 1 0 3 2 2 1 3 0 2 2 2-1 2 2 3-1 2 4 3-2 2 2 2 1 3 0 3 2 1-1 3 2 3-1 2 0 2 2 3 1 2-1 3 1 2 3 3-3 2 1 2 2 3 0 3 0 2 1 2 0 3 1 2 1 3 0 2 0 3 1 2-1 2 2 3 0 3 2 2-1 2 1 3 1 3 0 2 0 2 0 3 1 2 1 3 0 2 0 3 1 2 0 2 1 4 1 1-1 4 1 1 1 3 0 3 0 2 0 2 1 3-1 3 1 2 0 3 0 2 2 3-1 1 1 4 0" stroke-width="3.6"/>
<path d="M1663 1959l-3 0-1 2-3 1-2 1-2 1-3 0-2 1-2 1-2 1-3 1-3 1-3 0-2 0-3 1-2 0-2 2-3 0-3 1-2-1-2 1-3 1-1 0-3 1-3 0-2 1-3 1-2 1-3-1-2 2-3 0-1 1-3 1-2-1-3 3-2-1-3 0-3 1-2-1-2 2-4 2-2-1-2 1-2 0-3 0-2 1-3 2-2-1-2 0-3 1-2 1-3 0-3 0-2 0-2 2-4 0-1 1-3 0-2 0-3 1-3 1-1 0-3 1-2 0-3 0-2 0-3 1-2 0-3 0-2 0-3 2-2 0-3 1-2 0-3 1-2 0-3-1-2 2-3 0-2 1-3 0-2 0-3 0-2 0-3 1-2 0-2 1-3 0-2 0-3 0-2 2-3 0-3-1-2 1-2-1-3 1-2 1-3 0-2 0-3 1-2 0-3 0-2 1-2 0-3 0-3 0-3 1-2 1-2-1-3 2-3-1-1 2-3-1-3-1-1 2-3 1-3 0-3 0-2 1-2 0-3 1-3-1-2 1-2 1-3 0-2 1-2 1-3 1-3 0-2 0-3 1-2 0-2 2-3 0-2 1-3-1-2 2-2-2-3 1-3 2-2 0-2 1-3 1-2 0-3 0-2 1-3 1-2 1-2 0-3 2-2 0-3 1-1 0-3 2-2 0-2 3-2 1-3 1-2 0-2 2-3 1-2 1-1 1-3 3-2 0-2 2-3-1-2 3-2 2-1 0-3 1-2 3-2 1-2 2-2 1-2 1-3 1-2 2-2 2-1 1-2 1-3 2-1 2-2 1-3 1-1 2-2 2-2 2-2 0-2 2-2 1-2 3-3 0-1 2-3 2-2 1-2 2-2 0-2 2-2 2-2 1-2 1-2 2-2 1-2 3-2 0-1 3-2 1-2 3-2 1-1 2-1 1-3 4-2 1-1 1-1 2-2 3-1 2-2 1-1 2-2 2-1 2-2 3-2 2-1 2-1 2-1 2-3 2 0 2-2 2-2 2-2 1 0 3-2 2-2 3-1 1-2 2-1 3-1 2-1 1-1 3-1 2-2 3-1 1-2 4-1 0-1 2-1 4-2 2-1 0-1 3-2 3-1 1-2 2-1 3-1 1-1 4-2 2-1 1-1 2-2 3-1 2 0 2-2 2-1 1-1 4-2 1-1 4-1 0-1 3-1 2-2 3-1 2-1 3-1 1-1 3-2 2-1 1-1 5-1 0-1 3-2 1-1 3-1 3-1 1-1 3-1 2-2 3-1 1 0 2-1 4-2 2-1 3-1 0-2 3-1 1-1 3-1 2-1 3-1 1-2 3-1 3-1 1-2 3 0 1-2 3-1 2-1 3-1 1-2 3-1 2-2 2 0 2-1 3-2 1-1 3-1 2-1 3-2 3-1 1 0 2-2 2-1 2-1 3-1 1-2 2-1 4-1 2-2 1 0 3-1 3-2 1-1 2-2 3-1 1-1 2-2 3-1 2-2 1-1 2-1 3-1 2-1 3-2 1-2 3-1 1-1 3-2 1-1 3-2 2-2 1-1 2-2 2-2 2-2 3-1 0-2 1-2 4-2 0-2 2-2 2-2 1-2 2-2 1-2 1-3 2-1 2-2 1-2 2-2 0-3 2-2 1-3 1-1 1-3 1-2 2-2 1-3 0-3 1-2 0-2 1-2-1-3 1-2 1-3 0-2-1-3 1-3-1-2 1-3 0-2 0-3 0-2-1-3 1-2-1-3 0-1 0-4-1-2 0-3-1-2 0-2 0-3-1-2 1-3-2-2-1-3 0-2-1-3-1-1-1-3-1-3-1-2 1-2-2-2-2-3 1-2-2-3 1-3-1-1-2-3-1-2-1-3 0-2-1-2-1-3 0-2-2-2-1-3 0-3-2-2 0-2-1-2-2-2-1-3-1-2-1-2 0-2-1-3-1-2-3-2-1-3 0-2-1-2-1-3-1-1-1-3-1-2-1-3-1-2-1-2-2-2 0-3-2-2 0-3-1-1-1-3-1-2 0-3-1-2-2-3-1-1-1-2-1-3 1-2-3-3 0-2-1-2-2-2 0-3 0-2-3-3-1-2 0-2-2-3 0-2 0-2-2-3 0-2-1-3-1-2-2-2 0-3-1-2-1-2-1-2-1-3 0-2 0-3-2-2 0-2-1-3 0-2-2-3 0-2 0-2-3-3 1-2 0-2-1-3-2-2 0-2 0-4-1-2 0-3-2-2 1-2 0-3-2-2-1-3 0-2-1-3 1-3-2-1 0-3 0-2-1-4 1-2-1-2-1-2 0-3 0-2 0-3-2-2 1-3-1-2-1-2 0-3-1-2-1-3 1-2-2-3 2-3-1-2 0-2-2-3 0-2 0-3 0-2 0-3-1-2-1-3 0-3 0-2 0-3 0-1 0-3-1-3 0-2-1-3 1-2 0-3 0-2 0-3-1-3 0-2 0-2 1-3-1-2-1-3 0-2 0-3 0-2-1-3 1-2 0-3-2 1-38 0-3 2-2 1-2 1-2 2-2 2 0 2-2 3 0 2-3 2 1 2-3 3-1 2-1 2 0 3-2 1-1 3-1 2-1 3-2 2 0 2-1 3-1 2-1 2 0 3-2 1 0 3-2 3-1 2-1 2-1 3 0 2-2 3 0 1-2 4 1 1-1 3-2 2 0 3-1 2-1 2-1 3-2 2 1 2-2 3 1 2-2 3-1 1-1 3 0 2-1 3 0 2-1 2-1 3-2 2 0 3-1 3-1 1 0 3-1 2-1 4 0 2-1 1-1 3 0 2-1 3 0 3 0 2-1 3-1 2-2 2 0 2 0 3-1 3-1 2 0 3 0 1-2 3 0 2-1 3-1 3 0 2 0 2-2 3 1 2-1 2-1 3-1 3-1 2 1 2-1 3 0 2-1 3 0 2-2 3 1 2-2 2 0 2 1 3-1 3-1 2 0 2 0 3-1 3-1 2-1 3 0 2 0 2 0 3-2 2 1 3-1 2 0 3-1 2-1 3 0 2-2 2 1 3 0 3-2 1-1 3 1 3-1 3 0 2 0 3-1 1 1 3-3 3 0 2-1 2-1 3 1 3-2 2 1 3-1 1 1 3-2 2-2 3 1 3-1 2-1 2 0 3-2 2 0 3-1 2 0 2 0 3-1 2-2 3 1 2-1 2-2 3 0 2-1 3-1 1-1 3 0 3 0 2-3 2 1 3-1 2 0 3-1 2-2 3 1 2-1 3-2 2 1 2-2 2 0 3-2 2-1 2-1 2 0 3-2 2-1 2 0 3-2 1 0 3-2 2-1 3-1 2 0 2-3 2-1 2-2 3 0 2-3 1-1 2-2 2-1 2-1 2-2 2-2 2-2 1-2 2-2 2-1 2-3 1-1 2-1 3-3 2-1 1-2 2-1 2-3 2-1 2 0 2-2 2-1 3-2 2-1 2 0 1-4 2-1 2-2 1-2 2-1 1-3 3-2 1-2 2-2 1-1 1-3 2-1 2-2 1-2 2-1 2-4 1-2 2 0 1-4 2-1 1-2 2-2 1-1 2-3 2-2 1 0 2-3 1-2 1-3 2-1 2-2 0-3 2-2 2-2 2-2 0-2 2-2 1-2 2-4 0-1 1-1 2-3 2-2 1-2 1-2 1-2 2-3 1-2 1-1 1-3 2-2 1-3 1-1 2-3 0-3 2-1 1-2 1-2 2-3 1-2 1-3 1-2 1-1 2-3 1-1 1-4 2-1 1-2 1-3 1-2 1-2 1-2 2-2 1-2 1-2 1-4 1-1 2-2 1-3 1-2 1-1 2-3 1-2 2-3 1-1 1-2 1-3 1-1 2-2 1-3 2-2 0-2 1-4 1-1 1-3 2-3 0-2 1-1 2-2 1-3 1-2 1-2 1-2 2-3 0-2 2-2 2-2 2-3 1-1 1-3 1-2 2-2 1-1 2-3 1-2 1-2 2-1 1-4 2-1 1-1 1-3 2-3 1-2 2-1 2-2 1-1 2-3 1-2 2-2 1-3 2-1 1-2 2-2 2-1 1-3 2-1 1-3 2-1 1-3 2-1 2-3 2-1 2-2 1 0 2-4 2-1 1-2 2 0 2-3 2-2 2-1 1-3 3-1 2-1 1-3 2-2 2 0 3-2 2-3 2 0 2-1 2 0 2-1 2-1 3-1 3-1 2-1 2 1 2-3 3 1 3 0 2-1 3 0 3 0 2-1 2 1 3-1 2 0 3 1 2 0 3 1 3-2 2 2 2 1 3 0 2 0 3 0 2 1 3 0 2 1 2 0 3 2 3 0 2 0 2 2 2 0 3 2 2 1 2 1 3 0 2 1 2 1 2 2 2 1 2 1 2 2 3 1 1 3 2 0 2 1 3 2 2 0 2 3 2 2 2 1 2 1 2 2 2 1 2 0 3 2 2 2 2 2 1 0 3 2 2 1 2 2 2 1 3 2 1 1 3 1 1 3 3 2 2 0 1 1 3 3 2-1 2 2 3 1 2 1 2 2 2 0 3 1 1 2 2 1 3 2 2 0 3 1 2 2 2 1 2 0 3 3 3 0 1 0 2 2 3 2 2 0 2 1 2 1 3 1 2 0 2 2 3 2 2-1 2 2 3 0 3 1 2 1 2 0 2 2 3 1 1 0 4 1 1 1 3 0 3 2 2 0 2 1 3 1 3 1 1 1 3 0 2 1 3 0 2 1 3 0 2 2 3-1 2 1 3 0 2 2 2 0 2 1 3 1 2 1 2-1 3 2 3 0 2 1 2 1 3 0 2 0 2 2 3 0 3 2 2-1 3 2 2-1 3 1 2 0 3 1 2 0 2 0 2 2 3 0 3 1 2-1 3 2 2 0 2 1 3 1 2 0 3 0 2 1 3 1 3-1 1 1 3 0 2 0 3 1 3 0 2 2 3 1 2-1 2 1 3 1 2-1 2 1 3 1 3 0 3-1 2 1 2 1 3 0 2 0 2 1 3 0 3 1 2-1 3 1 2 1 2 1 3-1 3 1 2-1 3 1" stroke-width="3.6"/>
<path d="M1663 1960l-3 1-1 2-3 1-2 1-2 1-3 0-2 1-2 2-2 0-3 1-3 1-3-1-2 1-3 0-2 1-2 1-3 1-3 0-2 0-2 2-3 0-1 0-3 1-3 0-2 1-3 1-2 0-3 1-2 1-3 0-1 1-3 0-2 0-3 2-2 0-3 0-3 1-2 0-2 0-4 2-2 0-2 1-2 1-3-1-2 1-3 1-2 0-2 0-3 0-2 2-3 0-3 0-2 0-2 2-4 0-1 0-3 2-2-1-3 1-3 1-1 0-3 0-2 1-3 0-2 0-3 1-2 1-3-1-2 0-3 2-2 0-3 0-2 0-3 1-2 0-3 0-2 1-3 1-2 0-3 0-2 2-3-2-2 1-3 2-2-1-2 1-3 0-2 0-3 0-2 1-3 0-3 1-2 0-2-1-3 1-2 1-3 0-2 0-3 0-2 1-3 0-2 1-2 0-3 0-3 0-3 2-2 1-2-2-3 1-3 0-1 2-3-2-3 0-1 1-3 2-3-1-3 0-2 2-2 0-3 1-3-1-2 2-2 0-3 0-2 1-2 1-3 1-3 0-2 0-3 0-2 1-2 1-3 1-2 0-3 1-2 0-2-1-3 1-3 2-2-1-2 2-3 0-2 1-3 0-2 1-3 1-2 1-2 0-3 1-2 2-3-1-1 1-3 2-2 0-2 2-2 1-3 2-2 1-2 1-3 1-2 2-1 1-3 1-2 1-2 1-3 0-2 3-2 1-1 2-3 1-2 1-2 1-2 3-2 0-2 1-3 2-2 2-2 1-1 3-2-1-3 3-1 1-2 1-3 3-1 1-2 2-2 1-2 1-2 2-2 1-2 3-3 0-1 3-3 1-2 1-2 1-2 1-2 2-2 1-2 2-2 1-2 2-2 0-2 3-2 2-1 1-2 1-2 4-2 1-1 1-1 2-3 4-2 1-1 1-1 2-2 2-1 2-2 3-1 1-2 1-1 3-2 3-2 2-1 3-1 0-1 3-3 2 0 2-2 1-2 3-2 1 0 2-2 3-2 2-1 2-2 2-1 2-1 2-1 2-1 3-1 2-2 2-1 2-2 2-1 2-1 3-1 2-2 2-1 1-1 2-2 3-1 2-2 2-1 2-1 2-1 3-2 2-1 2-1 2-2 2-1 3 0 2-2 3-1 0-1 3-2 3-1 1-1 2-1 3-1 1-2 4-1 3-1 2-1 0-1 4-2 2-1 1-1 4-1 1-1 2-2 2-1 2-1 4-1 1-1 3-1 2-2 3-1 2 0 1-1 3-2 2-1 3-1 0-2 4-1 2-1 2-1 3-1 2-1 1-2 3-1 3-1 1-2 2 0 2-2 3-1 2-1 2-1 2-2 3-1 2-2 1 0 4-1 2-2 2-1 1-1 4-1 2-2 3-1 1 0 2-2 2-1 2-1 3-1 0-2 4-1 3-1 1-2 2 0 2-1 4-2 2-1 1-2 2-1 2-1 2-2 3-1 2-2 1-1 1-1 4-1 1-1 3-2 2-2 3-1 1-1 2-2 2-1 3-2 1-2 3-1 1-2 2-2 2-2 2-1 1-2 1-2 3-2 1-2 1-2 2-2 2-2 1-2 1-2 2-3 2-1 1-2 1-2 2-2 1-3 2-2 1-3 0-1 1-3 0-2 3-2 1-3 0-3 1-2 1-2 1-2-1-3 2-2 1-3 0-2-2-3 1-3 0-2 0-3 0-2 0-3 0-2 0-3 0-2-1-3 0-1 0-4-1-2 0-3-1-2 0-2-1-3 0-2 0-3-1-2-1-3-1-2 0-3-1-1 0-3-2-3-1-2 0-2-1-2-2-3 1-2-1-3-1-3-1-1 0-3-2-2-1-3-1-2 0-2-1-3-1-2-1-2-1-3-1-3-1-2 0-2-1-2-2-2-1-3-1-2 0-2-1-2-1-3-2-2-2-2 0-3-1-2 0-2-3-3 0-1 0-3-3-2 0-3-1-2-2-2-1-2-1-3-1-2 0-3-1-1-1-3-1-2-1-3-1-2 0-3-2-1 0-2-2-3 1-2-3-3-1-2 0-2-2-2 1-3-2-2-2-3 0-2-2-2-1-3-1-2 1-2-2-3 0-2-2-3-1-2 0-2-1-3-2-2 1-2-2-2 0-3-1-2 0-3-2-2 0-2-1-3-1-2-1-3-1-2 0-2-2-3 0-2 0-2 0-3-2-2 1-2-1-4-1-2 0-3-2-2 0-2 1-3-2-2-1-3 0-2-1-3 1-3-1-1-1-3 0-2-1-4 1-2-3-2 1-2 0-3-1-2 0-3-2-2 0-3 1-2-2-2 1-3-1-2-1-3 1-2-2-3 2-3-2-2 1-2-2-3-1-2 1-3 0-2-1-3 0-2-1-3 0-3 0-2-1-3 0-1 1-3-1-3-1-2 0-3 1-2-1-3 0-2 1-3-1-3 0-2-1-2 1-3-1-2 0-3 0-2 0-3 0-2 0-3 0-2-1-3-1 1-40 0-2 2-2 1-2 1-1 2-2 2-2 2-1 3-1 2-2 2 0 2-1 3-2 2-1 2 0 3-2 1 0 3-2 2-1 3-2 2 0 2-2 3 0 2-1 2-1 3 0 1-2 3-1 3 0 2-1 2-1 3-1 2-1 3-1 1-2 4 1 1-1 3-2 2 0 3-2 2 0 2 0 3-3 2 1 2-1 3-1 2-1 3-1 1-1 3-1 2 0 3-1 2-1 2 0 3-2 2 0 3-1 3-1 1 0 3-1 2-1 4 0 2 0 1-1 3 0 2-2 3-1 3 1 2-2 3 0 2-1 2-1 2-1 3 0 3 0 2-1 3 0 1-1 3-1 2 0 3-2 3 1 2-2 2-1 3 1 2-2 2 0 3-1 3-1 2 1 2-1 3 0 2-1 3-1 2-1 3 1 2-1 2 0 2 0 3-2 3 0 2 0 2 0 3-1 3 0 2 0 3-1 2 0 2-1 3-1 2 0 3-1 2 0 3-1 2-1 3 0 2-1 2 0 3-1 3-1 1-1 3 0 3 1 3-1 2-1 3 0 1 0 3-1 3-1 2 0 2-2 3 1 3-1 2 0 3-1 1 0 3-1 2-1 3-1 3 0 2-1 2 0 3-1 2-2 3 1 2-1 2 0 3-1 2-2 3 1 2-1 2-1 3-1 2-1 3 0 1-2 3-1 3 0 2-1 2 0 3-1 2 0 3-1 2-1 3 0 2-1 3-2 2 1 2-2 2 0 3-1 2-1 2-1 2-2 3 0 2-1 2-1 3-2 1 1 3-3 2-1 3-1 2 0 2-2 2-2 2-2 3 0 2-3 1-1 2-1 2-3 2 0 2-2 2-3 2-1 1-2 2-1 2-2 2-3 1-1 2-1 3-3 2-2 1 0 2-2 2-3 2-1 2 0 2-2 2-1 3-1 2-1 2-1 1-4 2-1 2-2 1-1 2-2 1-2 3-2 1-3 2-1 1-2 1-3 2 0 2-3 1-2 2-2 2-2 1-2 2-2 1-2 2-2 1-2 2-1 1-2 2-2 2-3 1-1 2-2 1-1 1-3 2-2 2-2 0-3 2-2 2-2 2-1 0-4 2 0 1-2 2-4 0-1 1-2 2-3 2-1 1-4 1-1 1-2 2-3 1-2 1-2 1-2 2-2 1-3 1-1 2-3 0-3 2-1 1-2 1-3 2-2 1-1 1-4 1-2 1-2 2-2 1-2 1-2 2-2 1-2 1-3 1-2 1-2 1-2 2-2 1-2 1-3 1-2 1-2 2-2 1-3 1-2 1-2 2-2 1-2 2-2 1-2 1-2 1-3 1-1 2-2 1-3 2-3 0-2 1-3 1-1 1-3 2-2 0-2 1-2 2-2 1-3 1-2 1-2 1-2 2-2 0-3 2-1 2-3 2-2 1-2 1-3 1-2 2-1 1-2 2-3 1-2 1-2 2-2 1-2 2-2 1-2 1-2 2-3 1-2 2-1 2-2 1-2 2-2 1-2 2-2 1-3 2-2 1 0 2-3 2-1 1-3 2-2 1-2 2-1 1-3 2-1 2-2 2-2 2-2 1-1 2-2 2-3 1-1 2-1 2-2 2-2 2-2 1-1 3-2 2 0 1-3 2-3 2 0 3-2 2-2 2-1 2 0 2-1 2-2 2 0 3-1 3-1 2-1 2 1 2-2 3 0 3-1 2 0 3 0 3 0 2 0 2 0 3 0 2-1 3 1 2 0 3 1 3-2 2 1 2 2 3-1 2 0 3 2 2 0 3 0 2 2 2 0 3 0 3 1 2 0 2 2 2 0 3 1 2 2 2 0 3 0 2 2 2 1 2 2 2 2 2 0 2 2 3 1 1 2 2 1 2 1 3 2 2 0 2 4 2 0 2 2 2 1 2 2 2 1 2 0 3 2 2 2 2 3 1-1 3 3 2 1 2 1 2 1 3 2 1 1 3 1 1 2 3 2 2 1 1 0 3 4 2-1 2 3 3 1 2 1 2 1 2 1 3 1 1 0 2 2 3 1 2 1 3 1 2 2 2 0 2 1 3 2 3 1 1-1 2 4 3 1 2 1 2 0 2 1 3 0 2 1 2 2 3 2 2 0 2 1 3 1 3 0 2 1 2 1 2 1 3 1 1 0 4 2 1 0 3 1 3 1 2 0 2 2 3 0 3 0 1 2 3 0 2 0 3 2 2 0 3 0 2 2 3 0 2 1 3 0 2 0 2 2 2 1 3-1 2 2 2 0 3 0 3 1 2 1 2 1 3 0 2 1 2 1 3 0 3 2 2-1 3 2 2-1 3 2 2 0 3-1 2 1 2 0 2 2 3 0 3 1 2-1 3 2 2-1 2 3 3 0 2 0 3 0 2 0 3 2 3 0 1 1 3-1 2 0 3 2 3 0 2 1 3 1 2-1 2 1 3 1 2-1 2 1 3 1 3 0 3 0 2 0 2 0 3 2 2-1 2 1 3 1 3-1 2 0 3 1 2 1 2 1 3-1 3 1 2-1 3 1" stroke-width="3.6"/>
<path d="M1663 1962l-3 2-1 1-3 1-2 0-2 3-3-1-2 1-2 2-2 0-3 1-3 1-3 0-2-1-3 2-2 0-2 2-3 0-3 0-2 0-2 1-3 0-1 1-3 1-3-1-2 1-3 1-2 2-3-1-2 2-3 0-1 1-3 1-2-1-3 2-2-1-3 1-3 1-2 0-2 0-4 2-2 0-2 1-2 0-3 0-2 1-3 1-2-1-2 2-3-1-2 2-3 1-3-1-2 0-2 2-4 0-1 0-3 2-2-2-3 2-3 0-1 1-3 0-2 0-3 0-2 1-3 0-2 0-3 1-2 0-3 1-2 0-3 1-2 1-3 0-2 0-3 0-2 1-3 1-2 0-3 0-2 1-3-1-2 1-3 1-2 0-2 0-3 1-2 0-3 0-2 1-3 0-3-1-2 1-2 0-3 0-2 2-3-1-2 0-3 2-2 0-3 0-2 1-2 0-3 0-3-1-3 3-2 0-2-1-3 1-3-1-1 2-3 0-3-1-1 2-3 0-3-1-3 1-2 2-2 0-3 1-3-1-2 0-2 2-3 0-2-1-2 3-3 1-3-1-2 1-3 0-2 0-2 2-3 0-2 1-3 1-2 0-2-1-3 1-3 1-2 1-2 0-3 1-2 1-3 0-2 0-3 2-2 1-2 0-3 1-2 1-3 1-1 0-3 2-2 0-2 2-2 1-3 1-2 1-2 3-3 0-2 1-1 1-3 2-2 1-2 1-3 1-2 2-2 1-1 1-3 2-2 1-2 1-2 2-2 1-2 1-3 2-2 1-2 3-1 2-2 0-3 1-1 2-2 1-3 2-1 2-2 3-2 1-2 0-2 2-2 1-2 3-3 0-1 1-3 3-2 0-2 3-2 0-2 1-2 2-2 2-2 1-2 2-2 1-2 2-2 1-1 3-2 0-2 3-2 2-1 1-1 2-3 2-2 2-1 2-1 2-2 2-1 2-2 2-1 2-2 2-1 2-2 3-2 2-1 2-1 0-1 4-3 2 0 2-2 1-2 3-2 1 0 2-2 3-2 3-1 0-2 2-1 2-1 4-1 1-1 3-1 0-2 4-1 1-2 3-1 2-1 2-1 3-2 2-1 2-1 2-2 3-1 1-2 2-1 3-1 0-1 4-2 1-1 2-1 3-2 3-1 2 0 2-2 1-1 3-1 2-2 3-1 2-1 1-1 3-1 1-2 4-1 2-1 2-1 2-1 3-2 1-1 2-1 4-1 1-1 2-2 2-1 2-1 4-1 1-1 2-1 3-2 3-1 1 0 2-1 3-2 2-1 3-1 1-2 3-1 1-1 3-1 1-1 4-1 1-2 3-1 3-1 1-2 3 0 1-2 3-1 2-1 1-1 3-2 2-1 3-2 1 0 3-1 3-2 1-1 3-1 2-1 2-2 2-1 3 0 1-2 3-1 2-1 3-1 1-2 3-1 3-1 1-2 2 0 3-1 3-2 2-1 0-2 3-1 2-1 1-2 4-1 1-2 2-1 2-1 3-1 1-1 4-2 0-2 4-1 0-1 3-2 2-1 3-2 2-2 1-1 2-2 2-2 1-2 3-1 0-2 2-2 3-2 1-2 2-2 2-2 1-2 0-2 3-2 0-3 3-1 2-2 1-2 1-2 1-3 1-2 2-3-1-1 2-3 0-2 3-2 1-3 0-3 1-2 1-2 0-2 0-3 1-2 1-3 0-2-1-3 0-3 0-2 1-3-1-2 1-3 0-2 0-3-1-2-1-3 1-1-1-4 0-2 0-3-1-2 0-2 0-3-2-2 0-3 0-2-2-3 0-2 0-3-1-1-1-3-1-3-1-2 0-2-2-2 0-3 0-2-1-3-1-3 0-1-2-3-1-2-1-3-1-2 0-2-2-3 1-2-2-2-1-3-1-3-1-2-2-2 0-2-1-2-1-3-1-2-1-2-1-2 0-3-2-2-3-2 0-3 0-2-2-2-1-3-1-1 0-3-1-2-1-3-1-2-2-2 0-2-1-3-2-2 0-3-1-1-2-3 0-2-1-3-1-2-2-3-1-1 0-2-1-3 0-2-2-3-1-2-1-2-1-2 0-3-2-2-2-3 0-2-1-2-1-3 0-2-1-2-1-3-1-2-1-3 0-2-2-2-1-3-1-2 1-2-2-2 0-3-1-2 0-3-2-2 0-2-2-3 0-2-1-3 0-2 0-2-3-3 0-2 0-2 1-3-3-2 0-2 0-4-2-2 0-3-1-2 0-2 0-3-2-2 0-3 0-2-1-3 0-3-1-1 0-3-1-2 0-4 1-2-2-2 0-2 0-3-1-2 0-3-1-2 0-3 0-2-3-2 1-3 0-2-1-3 1-2-2-3 1-3-1-2 1-2-1-3-2-2 1-3-1-2 0-3-1-2-1-3 1-3 0-2 0-3 0-1 0-3-2-3 1-2-1-3 1-2 0-3-2-2 1-3 0-3 0-2-1-2 1-3 0-2-1-3 0-2 0-3 0-2-1-3 0-2-1-3 0 1-40 0-3 2-1 1-3 1-2 2-1 2-1 2-1 3-1 2-3 2 1 2-2 3-2 2 0 2-1 3-3 1 0 3-1 2-1 3-2 2 1 2-2 3 0 2-2 2 0 3-1 1-2 3 0 3-1 2-1 2-1 3-1 2-1 3-1 1-1 4 0 1-1 3-1 2-1 3-2 2 0 2 0 3-2 2-1 2 0 3 0 2-3 3 0 1-1 3 0 2-1 3-1 2-1 2 0 3-1 2-1 3 0 3-1 1-1 3-1 2-1 4 1 2-1 1-1 3-1 2 0 3-1 3 0 2-1 3-1 2-1 2 0 2-1 3-1 3-1 2 1 3-1 1-2 3 0 2-1 3-1 3 1 2-1 2-2 3 1 2-2 2 0 3 0 3-2 2 1 2-1 3 0 2-1 3-1 2 0 3 0 2-1 2-1 2 1 3-1 3-1 2 0 2 1 3-2 3 0 2-1 3-1 2 1 2-1 3-1 2 0 3 0 2-2 3 0 2-1 3 0 2-1 2 0 3-1 3-1 1 0 3 0 3 0 3-2 2 1 3 0 1-1 3-1 3 0 2-1 2-1 3 0 3-1 2-1 3 0 1 0 3-1 2-2 3 1 3-1 2-1 2 0 3-1 2 0 3-1 2-1 2-1 3 0 2-2 3 1 2 0 2-3 3-1 2 1 3-1 1-2 3 0 3 0 2-1 2-1 3 0 2-1 3-1 2-1 3 0 2-2 3-1 2 0 2-1 2 0 3-1 2-1 2-2 2 0 3-1 2-2 2 0 3-2 1 0 3-2 2-2 3 0 2 0 2-2 2-2 2-2 3 0 2-3 1 0 2-2 2-2 2-1 2-2 2-2 2-2 1-2 2-2 2 0 2-3 1-1 2-3 3-2 2-1 1-1 2-2 2-2 2-2 2 1 2-2 2-2 3-2 2-1 2-1 1-2 2-2 2-2 1-2 2-1 1-2 3-3 1-1 2-2 1-2 1-2 2-1 2-3 1-1 2-2 2-3 1-1 2-3 1-2 2-2 1-2 2-2 1-1 2-3 2-2 1-1 2-2 1-1 1-3 2-2 2-2 0-2 2-3 2-2 2-2 0-2 2-2 1-2 2-4 1-2 2-3 2-1 1-3 1-2 1-3 2-2 1-2 1-2 1-2 2-2 1-2 1-3 2-2 0-3 2-1 1-2 1-3 2-2 1-2 1-3 1-1 1-3 2-3 1 0 1-3 2-3 1 0 1-4 1-2 1-1 1-3 2-3 1-1 1-3 1-2 1-2 2-2 1-2 1-3 1-1 2-3 1-2 2-2 1-1 1-3 1-2 1-3 2-1 1-3 2-3 0-1 1-3 1-1 1-3 2-4 0-1 1-2 2-2 1-3 1-3 1-1 1-2 2-2 0-3 2-1 2-3 2-2 1-2 1-2 1-3 2-2 1-1 2-3 1-2 1-2 2-2 1-2 2-1 1-3 1-1 2-3 1-3 2-1 2-2 1-2 2-2 1-2 2-2 1-3 2-1 1-1 2-2 2-2 1-2 2-3 1-1 2-2 1-3 2-1 2-2 2-2 2-2 1 0 2-4 2-1 1-2 2-1 2-2 2-2 2-1 1-2 3-1 2-2 1-2 2-3 2 0 3-2 2-2 2 0 2-2 2 0 2-1 2-1 3-1 3 0 2-2 2 1 2-2 3 0 3-1 2 0 3 0 3 0 2 0 2 0 3 0 2-1 3 1 2 0 3 1 3-2 2 2 2 0 3 0 2 0 3 2 2 0 3 0 2 2 2-1 3 2 3 1 2-1 2 2 2 1 3 0 2 2 2 1 3 0 2 1 2 2 2 1 2 2 2 0 2 2 3 1 1 2 2 0 2 3 3 2 2 0 2 2 2 2 2 0 2 2 2 1 2 2 2 1 3 2 2 1 2 2 1 1 3 2 2-1 2 4 2 1 3 1 1 1 3 2 1 1 3 2 2 2 1 0 3 3 2 0 2 1 3 1 2 1 2 2 2 0 3 2 1 1 2 1 3 2 2 0 3 2 2 1 2 1 2 0 3 3 3 0 1 0 2 3 3 0 2 2 2 1 2 0 3 1 2 0 2 3 3 1 2 1 2 0 3 1 3-1 2 3 2-1 2 1 3 1 1 2 4 0 1 1 3 1 3 1 2 0 2 2 3 0 3 1 1 1 3 0 2 1 3 1 2 0 3 1 2 1 3 0 2 1 3 0 2 0 2 2 2 0 3 0 2 2 2 0 3 0 3 1 2 0 2 2 3 0 2 1 2 1 3 1 3 1 2 0 3 1 2-1 3 1 2 1 3-1 2 1 2 1 2 1 3 0 3 1 2-1 3 1 2 1 2 1 3 1 2 0 3-1 2 1 3 2 3 0 1 1 3 0 2-1 3 2 3 0 2 1 3 1 2 0 2 0 3 1 2-1 2 1 3 1 3 0 3 0 2 0 2 1 3 1 2 0 2 0 3 1 3-1 2 1 3 0 2 0 2 1 3 1 3 0 2 0 3 0" stroke-width="3.6"/>
<path d="M904.5 1629.5L1112 1668.4M848.6 1760.4L1112 1730M1455 1686.8L1245 1778" stroke-width="5" stroke-linecap="butt"/>
<path d="M1297.5 2034v-8" stroke-width="4" stroke-linecap="butt"/>
</g>
<g fill="#000" stroke="none" shape-rendering="crispEdges">
<path d="M1127.5 1670.4L1096 1652L1099 1666L1092 1678z"/>
<path d="M1130.5 1727.8L1096 1719L1100 1731L1097.5 1745.5z"/>
<path d="M1227.8 1785L1253 1760.5L1257.5 1774.5L1263.5 1784.5z"/>
</g>
</svg>
</body></html>
